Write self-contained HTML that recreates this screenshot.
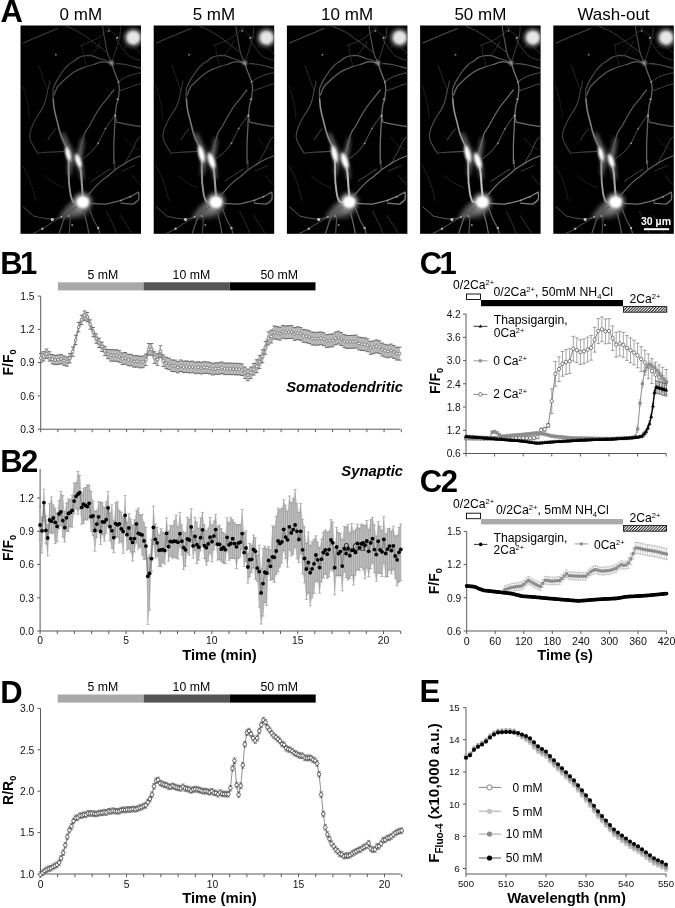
<!DOCTYPE html>
<html><head><meta charset="utf-8"><title>Figure</title>
<style>html,body{margin:0;padding:0;background:#fff;overflow:hidden}svg{display:block}</style></head>
<body>
<svg width="675" height="908" viewBox="0 0 675 908" font-family="'Liberation Sans', Arial, sans-serif">
<rect width="675" height="908" fill="#fff"/>
<text x="0.5" y="22.0" font-size="31" font-weight="bold">A</text>
<text x="80.8" y="19.6" font-size="17" text-anchor="middle">0 mM</text>
<text x="213.9" y="19.6" font-size="17" text-anchor="middle">5 mM</text>
<text x="347.1" y="19.6" font-size="17" text-anchor="middle">10 mM</text>
<text x="480.4" y="19.6" font-size="17" text-anchor="middle">50 mM</text>
<text x="613.5" y="19.6" font-size="17" text-anchor="middle">Wash-out</text>
<defs>
<filter id="nblur" x="-10%" y="-10%" width="120%" height="120%"><feGaussianBlur stdDeviation="0.7"/></filter>
<filter id="glow" x="-50%" y="-50%" width="200%" height="200%"><feGaussianBlur stdDeviation="2.2"/></filter>
<filter id="cblur" x="-50%" y="-50%" width="200%" height="200%"><feGaussianBlur stdDeviation="0.9"/></filter>
<radialGradient id="soma"><stop offset="0" stop-color="#fff"/><stop offset="0.5" stop-color="#fff"/><stop offset="0.72" stop-color="#ccc" stop-opacity="0.85"/><stop offset="1" stop-color="#888" stop-opacity="0"/></radialGradient>
<radialGradient id="somaTR"><stop offset="0" stop-color="#ddd"/><stop offset="0.55" stop-color="#c8c8c8"/><stop offset="0.8" stop-color="#888" stop-opacity="0.7"/><stop offset="1" stop-color="#444" stop-opacity="0"/></radialGradient>
<radialGradient id="spindle"><stop offset="0" stop-color="#fff"/><stop offset="0.55" stop-color="#fff"/><stop offset="0.8" stop-color="#ccc" stop-opacity="0.8"/><stop offset="1" stop-color="#777" stop-opacity="0"/></radialGradient>
<radialGradient id="haze2"><stop offset="0" stop-color="#666" stop-opacity="0.5"/><stop offset="1" stop-color="#333" stop-opacity="0"/></radialGradient>
<radialGradient id="somadim"><stop offset="0" stop-color="#ccc"/><stop offset="0.5" stop-color="#999" stop-opacity="0.8"/><stop offset="1" stop-color="#555" stop-opacity="0"/></radialGradient>
<radialGradient id="haze"><stop offset="0" stop-color="#888" stop-opacity="0.7"/><stop offset="1" stop-color="#444" stop-opacity="0"/></radialGradient>
<pattern id="hatch" width="2.05" height="4" patternUnits="userSpaceOnUse" patternTransform="rotate(45)"><rect width="2.05" height="4" fill="#fff"/><rect width="1.0" height="4" fill="#222"/></pattern>
</defs>
<g transform="translate(20.50,25.5)">
<rect x="0" y="0" width="120.5" height="208.3" fill="#000"/>
<svg x="0" y="0" width="120.5" height="208.3" viewBox="0 0 120.5 208.3" overflow="hidden">
<path d="M60,172 C52,176 44,182 38,192 C46,194 56,192 66,186 C68,180 66,175 60,172 Z" fill="#5a5a5a" filter="url(#glow)"/>
<ellipse cx="58" cy="184" rx="16" ry="13" fill="url(#haze)"/>
<ellipse cx="53" cy="132" rx="9" ry="16" fill="url(#haze2)" transform="rotate(-20 53 132)"/>
<g filter="url(#glow)">
<path d="M41,108 C45,118 47,124 48.4,129 C48.5,136 48.4,142 48,150 L49.5,150 C50,142 51.5,136 51,129 C49.5,122 46,114 42.5,107 Z" fill="#bbb"/>
<path d="M61.5,112 C60,122 58,128 56,134 C58,140 60,146 61,154 L62.5,154 C62,146 61.5,140 59.5,134 C61,127 62.5,120 63,112 Z" fill="#bbb"/>
<ellipse cx="62.1" cy="176.1" rx="9" ry="8.5" fill="#999"/>
<circle cx="112.8" cy="12.2" r="8.6" fill="#a8a8a8"/>
</g>
<g filter="url(#nblur)">
<path d="M2.9,17.6 C12,13 25,8 37.2,3.1" fill="none" stroke="rgb(60,60,60)" stroke-width="1.1" stroke-linecap="round" stroke-linejoin="round"/>
<path d="M91,37.5 C86,35 82,33.5 80.4,33.5 C76,31.5 72,30 68.5,29.8 C64,30 61,30.5 59.3,31.6 C56,33 55,34 53.5,35.6 C50,37.5 49,38 48.1,39.2 C45,42 43.5,44 41.8,46.5 C39.5,50 38,52 37.2,53.7 C35,57 34,60 32.7,62.7 C32.2,66 32.4,70 32.7,73.5" fill="none" stroke="rgb(70,70,70)" stroke-width="1.2" stroke-linecap="round" stroke-linejoin="round"/>
<path d="M91,38 C88,37 85,36.5 82.3,36.2 C78,37 76,38 73.1,39 C68,40.5 63,42 59.3,43.6 C56,45 55,46 53.5,46.5 C50,49 47,51.5 44.5,53.7 C41,57 39,59 37.2,60.9 C35.5,64 34.5,66.5 33.6,69.5" fill="none" stroke="rgb(80,80,80)" stroke-width="1.3" stroke-linecap="round" stroke-linejoin="round"/>
<path d="M32.7,73.5 C33,77 33.2,80 33.6,82.6 C34.5,88 35.3,91 36.3,94.3 C37.3,98 38,101.5 39,105.2 C40.2,109 41.3,112 42.7,115.1 C44,118 45,120 46.3,122.3" fill="none" stroke="rgb(115,115,115)" stroke-width="1.6" stroke-linecap="round" stroke-linejoin="round"/>
<path d="M27.3,64.5 C26.6,68 26,71 25.5,73.5 C24.5,77 23.5,80 21.9,82.6 C20.5,85 19,87.5 17.4,89.8 C16,92 15,94 13.8,96.1 C12.5,99 11,102 10.1,105.2 C9.5,107.5 9.2,109.5 9.2,111.5 C9.6,114 10.5,116.5 11.9,118.7 C13.5,122 15.5,125 17.4,127.7 C20,127.3 23,127 26.4,126.8 C32,126.5 38,126.2 43.6,125.9" fill="none" stroke="rgb(62,62,62)" stroke-width="1.1" stroke-linecap="round" stroke-linejoin="round"/>
<path d="M27.3,64.5 C28.5,60 29.5,57 29.1,55.5" fill="none" stroke="rgb(60,60,60)" stroke-width="1.0" stroke-linecap="round" stroke-linejoin="round"/>
<path d="M27.3,114.2 C30,110 32.5,106.5 35.4,103.3" fill="none" stroke="rgb(60,60,60)" stroke-width="1.0" stroke-linecap="round" stroke-linejoin="round"/>
<path d="M91,37.5 C89,33 87.5,30 86.8,27.1 C86,24 85.5,21 85,17.9 C84.5,14.5 83.8,11.5 83.2,8.7 C82.8,6 82.5,3 82,0" fill="none" stroke="rgb(70,70,70)" stroke-width="1.1" stroke-linecap="round" stroke-linejoin="round"/>
<path d="M86.8,27.1 C80,22 72,16 64,10 C58,6 52,3 46,1" fill="none" stroke="rgb(55,55,55)" stroke-width="1.0" stroke-linecap="round" stroke-linejoin="round"/>
<path d="M91.5,38.5 C92.5,42 93.8,46 95.1,49.1 C96.2,52 97.2,54 97.9,56.4 C98.5,59 98.8,61 98.8,63.8 C98.6,67 98,70 97.9,73.7 C97,76 96.5,77.5 96,79.2 C95.4,83 95,86.5 94.7,90.2 C94.4,94 94.2,97.5 94.2,101.2 C93.8,108 93.5,114 93.3,119.6 C93.3,126 93.3,132 93.3,138" fill="none" stroke="rgb(90,90,90)" stroke-width="1.3" stroke-linecap="round" stroke-linejoin="round"/>
<path d="M96,38.1 C99,38.3 102,38.6 105.2,39 C110,40 115,41.5 121,43" fill="none" stroke="rgb(70,70,70)" stroke-width="1.1" stroke-linecap="round" stroke-linejoin="round"/>
<path d="M98.8,55.5 C102,53.5 104.5,52 107,50.9 C111,49.5 115,48 121,47" fill="none" stroke="rgb(65,65,65)" stroke-width="1.0" stroke-linecap="round" stroke-linejoin="round"/>
<path d="M98.8,65.6 C102,64.3 105.5,63 108.9,62 C112,60.5 116,59 121,58" fill="none" stroke="rgb(60,60,60)" stroke-width="1.0" stroke-linecap="round" stroke-linejoin="round"/>
<path d="M94.7,90.2 C95.3,93 95.7,95 96,96.6 C100,97.6 105,98.5 109.8,99.4 C113,100 116,100.5 121,101.2" fill="none" stroke="rgb(85,85,85)" stroke-width="1.2" stroke-linecap="round" stroke-linejoin="round"/>
<path d="M121,111 C120,111.5 119,112 118.1,112.3 C115,117 113,122 110.7,127 C108,131 106,135 103.4,139.5" fill="none" stroke="rgb(60,60,60)" stroke-width="1.0" stroke-linecap="round" stroke-linejoin="round"/>
<path d="M57.5,131 C60,123 62,115 64,108 C65.5,105 67,103 68.5,101.2 C71.5,95 74.5,90 77.7,84.7 C80.5,80 83.5,76.5 86.8,72.8 C89,70 91,67 93.3,64.5" fill="none" stroke="rgb(85,85,85)" stroke-width="1.2" stroke-linecap="round" stroke-linejoin="round"/>
<path d="M62.1,133.4 C65,131 68,129 70.3,127 C73,124 75.5,121 77.7,117.8 C80,113 82.5,108 85,103.1 C88,98.5 91,94 94.2,90.2" fill="none" stroke="rgb(70,70,70)" stroke-width="1.0" stroke-linecap="round" stroke-linejoin="round"/>
<path d="M65,171 C66,170 67.5,169 68.5,168.5 C71.5,165 74.5,161.5 77.7,158.4 C80.5,155.5 83.5,153 86.8,151 C89.5,148.5 92,146.5 94.2,144.6 C98.5,141.5 102.5,139 107,136.3 C111,134 115,132 121,130" fill="none" stroke="rgb(90,90,90)" stroke-width="1.2" stroke-linecap="round" stroke-linejoin="round"/>
<path d="M94.2,144.6 C94.2,141 94.2,137.5 94.2,134.5" fill="none" stroke="rgb(70,70,70)" stroke-width="1.0" stroke-linecap="round" stroke-linejoin="round"/>
<path d="M71.2,155.6 C75,153 79,150.5 82.3,148.3 C85,146.5 87.5,145 89.6,143.7" fill="none" stroke="rgb(65,65,65)" stroke-width="1.0" stroke-linecap="round" stroke-linejoin="round"/>
<path d="M101.5,145.5 C106,143.5 110,141.8 114.4,140" fill="none" stroke="rgb(50,50,50)" stroke-width="0.9" stroke-linecap="round" stroke-linejoin="round"/>
<path d="M66,177 C67,177.3 67.8,177.6 68.5,177.7 C74,178.2 80,178.6 85,178.6 C90.5,177.5 95.5,176 100.6,174.9 C104,173.5 107,172.2 109.8,171.2 C113,169.5 115.5,168 118.1,166.6 C118.5,169 118.5,172 118.1,174 C116.5,176 114.5,177.5 112.6,178.6 C109,178.3 104.5,178 100.6,177.7" fill="none" stroke="rgb(100,100,100)" stroke-width="1.3" stroke-linecap="round" stroke-linejoin="round"/>
<path d="M48.1,136 C48.1,139 48.1,141 48.1,143.5 C48.2,148 48.3,153 48.5,157.1 C49,162 49.6,166.5 50.3,170.6 C51,173 51.7,174.8 52.6,176.1 C55,177 57,177 59,177" fill="none" stroke="rgb(140,140,140)" stroke-width="1.9" stroke-linecap="round" stroke-linejoin="round"/>
<path d="M58.5,138 C59.5,142 60.3,145 60.6,148 C61,153 61.3,158 61.6,162 C61.9,166 62.2,168.5 62.5,171" fill="none" stroke="rgb(150,150,150)" stroke-width="2.1" stroke-linecap="round" stroke-linejoin="round"/>
<path d="M55.8,181.5 C52,184 49,186.5 46.7,188.5 C43.5,190.5 40.5,191.3 37,192.5 C33.5,193.4 30,193.8 26.4,193.2 C21,192.5 17,191.5 12.9,190.5 C9,187 6,184 2.9,181.5" fill="none" stroke="rgb(75,75,75)" stroke-width="1.0" stroke-linecap="round" stroke-linejoin="round"/>
<path d="M44.5,190.5 C42.5,196 40.5,202 38.1,209.5" fill="none" stroke="rgb(80,80,80)" stroke-width="1.2" stroke-linecap="round" stroke-linejoin="round"/>
<path d="M50,190 C49.5,196 49,202 48.8,209" fill="none" stroke="rgb(70,70,70)" stroke-width="1.1" stroke-linecap="round" stroke-linejoin="round"/>
<path d="M40.9,191.4 C35,195 28,199 21.9,203.2 C18,205.5 14,207.5 10,209" fill="none" stroke="rgb(70,70,70)" stroke-width="1.0" stroke-linecap="round" stroke-linejoin="round"/>
<path d="M63,185 C64.5,190 65.5,194.5 66.6,198.8 C67.5,202.5 68,206 68.5,209.5" fill="none" stroke="rgb(85,85,85)" stroke-width="1.2" stroke-linecap="round" stroke-linejoin="round"/>
<path d="M68.5,182.3 C70,186.5 71.5,190.5 73,194.2 C74.5,197 76,199.8 77.7,202.5 C78.5,205 79,207 79.5,209" fill="none" stroke="rgb(80,80,80)" stroke-width="1.1" stroke-linecap="round" stroke-linejoin="round"/>
<path d="M60,20 C66,18 72,16 78,12 C82,9 86,6 90,2" fill="none" stroke="rgb(45,45,45)" stroke-width="0.9" stroke-linecap="round" stroke-linejoin="round"/>
<path d="M70,30 C74,26 77,22 80,16" fill="none" stroke="rgb(45,45,45)" stroke-width="0.8" stroke-linecap="round" stroke-linejoin="round"/>
<path d="M96,14 C100,20 104,26 108,30 C112,33 116,34 121,35" fill="none" stroke="rgb(50,50,50)" stroke-width="0.9" stroke-linecap="round" stroke-linejoin="round"/>
<path d="M100,2 C100,8 99,14 96.7,20 C95,26 93,31 91,37" fill="none" stroke="rgb(55,55,55)" stroke-width="0.9" stroke-linecap="round" stroke-linejoin="round"/>
<path d="M104,22 C108,18 112,20 116,24 C119,26 120,28 121,30" fill="none" stroke="rgb(45,45,45)" stroke-width="0.8" stroke-linecap="round" stroke-linejoin="round"/>
<path d="M86,0 C90,6 95,10 100,12" fill="none" stroke="rgb(45,45,45)" stroke-width="0.8" stroke-linecap="round" stroke-linejoin="round"/>
<path d="M66,40 C64,34 62,28 62,20" fill="none" stroke="rgb(40,40,40)" stroke-width="0.7" stroke-linecap="round" stroke-linejoin="round"/>
<path d="M18,40 C22,50 24,58 27,64" fill="none" stroke="rgb(40,40,40)" stroke-width="0.8" stroke-linecap="round" stroke-linejoin="round"/>
<path d="M2,60 C6,70 8,80 9,92" fill="none" stroke="rgb(35,35,35)" stroke-width="0.7" stroke-linecap="round" stroke-linejoin="round"/>
<path d="M2,140 C8,150 12,160 15,175" fill="none" stroke="rgb(40,40,40)" stroke-width="0.7" stroke-linecap="round" stroke-linejoin="round"/>
<path d="M24,150 C30,155 36,160 44,162" fill="none" stroke="rgb(40,40,40)" stroke-width="0.7" stroke-linecap="round" stroke-linejoin="round"/>
<path d="M100,190 C104,196 108,202 112,209" fill="none" stroke="rgb(50,50,50)" stroke-width="0.8" stroke-linecap="round" stroke-linejoin="round"/>
<path d="M86,186 C90,194 94,200 96,209" fill="none" stroke="rgb(50,50,50)" stroke-width="0.8" stroke-linecap="round" stroke-linejoin="round"/>
<path d="M112,150 C115,155 118,158 121,160" fill="none" stroke="rgb(45,45,45)" stroke-width="0.8" stroke-linecap="round" stroke-linejoin="round"/>
<path d="M104,112 C108,118 112,122 118,124" fill="none" stroke="rgb(40,40,40)" stroke-width="0.7" stroke-linecap="round" stroke-linejoin="round"/>
</g>
<g filter="url(#cblur)">
<circle cx="112.8" cy="12.2" r="6.2" fill="#e6e6e6"/>
<circle cx="91.2" cy="37.6" r="2.4" fill="#909090"/>
<ellipse cx="47.6" cy="128.6" rx="2.98" ry="8.92" fill="url(#spindle)" transform="rotate(-14 47.6 128.6)"/>
<ellipse cx="57.8" cy="135.2" rx="3.15" ry="8.50" fill="url(#spindle)" transform="rotate(-19 57.8 135.2)"/>
<ellipse cx="62.3" cy="176.6" rx="6.3" ry="5.8" fill="#fff"/>
</g>
<circle cx="31.8" cy="194.1" r="1.5" fill="#d0d0d0" filter="url(#nblur)"/>
<circle cx="21.9" cy="203.2" r="1.2" fill="#aaa" filter="url(#nblur)"/>
<circle cx="40.9" cy="191.4" r="1.1" fill="#999" filter="url(#nblur)"/>
<circle cx="48.1" cy="190.5" r="1.0" fill="#999" filter="url(#nblur)"/>
<circle cx="51.7" cy="199.5" r="1.0" fill="#888" filter="url(#nblur)"/>
<circle cx="77.7" cy="202.5" r="1.2" fill="#aaa" filter="url(#nblur)"/>
<circle cx="35.4" cy="29.3" r="1.0" fill="#777" filter="url(#nblur)"/>
<circle cx="88.4" cy="5.5" r="1" fill="#777" filter="url(#nblur)"/>
<circle cx="96.7" cy="12.4" r="1.1" fill="#999" filter="url(#nblur)"/>
<circle cx="97.9" cy="56.4" r="0.9" fill="#999" filter="url(#nblur)"/>
<circle cx="97" cy="73.7" r="1.0" fill="#999" filter="url(#nblur)"/>
<circle cx="94.7" cy="90.2" r="1.1" fill="#aaa" filter="url(#nblur)"/>
<circle cx="77.7" cy="117.8" r="1.0" fill="#888" filter="url(#nblur)"/>
<circle cx="85" cy="103.1" r="0.9" fill="#888" filter="url(#nblur)"/>
<circle cx="109.8" cy="171.2" r="0.9" fill="#999" filter="url(#nblur)"/>
<circle cx="100.6" cy="174.9" r="0.9" fill="#999" filter="url(#nblur)"/>
</svg>
</g>
<g transform="translate(153.70,25.5)">
<rect x="0" y="0" width="120.5" height="208.3" fill="#000"/>
<svg x="0" y="0" width="120.5" height="208.3" viewBox="0 0 120.5 208.3" overflow="hidden">
<path d="M60,172 C52,176 44,182 38,192 C46,194 56,192 66,186 C68,180 66,175 60,172 Z" fill="#5a5a5a" filter="url(#glow)"/>
<ellipse cx="58" cy="184" rx="16" ry="13" fill="url(#haze)"/>
<ellipse cx="53" cy="132" rx="9" ry="16" fill="url(#haze2)" transform="rotate(-20 53 132)"/>
<g filter="url(#glow)">
<path d="M41,108 C45,118 47,124 48.4,129 C48.5,136 48.4,142 48,150 L49.5,150 C50,142 51.5,136 51,129 C49.5,122 46,114 42.5,107 Z" fill="#bbb"/>
<path d="M61.5,112 C60,122 58,128 56,134 C58,140 60,146 61,154 L62.5,154 C62,146 61.5,140 59.5,134 C61,127 62.5,120 63,112 Z" fill="#bbb"/>
<ellipse cx="62.1" cy="176.1" rx="9" ry="8.5" fill="#999"/>
<circle cx="112.8" cy="12.2" r="8.6" fill="#a8a8a8"/>
</g>
<g filter="url(#nblur)">
<path d="M2.9,17.6 C12,13 25,8 37.2,3.1" fill="none" stroke="rgb(63,63,63)" stroke-width="1.1" stroke-linecap="round" stroke-linejoin="round"/>
<path d="M91,37.5 C86,35 82,33.5 80.4,33.5 C76,31.5 72,30 68.5,29.8 C64,30 61,30.5 59.3,31.6 C56,33 55,34 53.5,35.6 C50,37.5 49,38 48.1,39.2 C45,42 43.5,44 41.8,46.5 C39.5,50 38,52 37.2,53.7 C35,57 34,60 32.7,62.7 C32.2,66 32.4,70 32.7,73.5" fill="none" stroke="rgb(73,73,73)" stroke-width="1.2" stroke-linecap="round" stroke-linejoin="round"/>
<path d="M91,38 C88,37 85,36.5 82.3,36.2 C78,37 76,38 73.1,39 C68,40.5 63,42 59.3,43.6 C56,45 55,46 53.5,46.5 C50,49 47,51.5 44.5,53.7 C41,57 39,59 37.2,60.9 C35.5,64 34.5,66.5 33.6,69.5" fill="none" stroke="rgb(84,84,84)" stroke-width="1.3" stroke-linecap="round" stroke-linejoin="round"/>
<path d="M32.7,73.5 C33,77 33.2,80 33.6,82.6 C34.5,88 35.3,91 36.3,94.3 C37.3,98 38,101.5 39,105.2 C40.2,109 41.3,112 42.7,115.1 C44,118 45,120 46.3,122.3" fill="none" stroke="rgb(120,120,120)" stroke-width="1.6" stroke-linecap="round" stroke-linejoin="round"/>
<path d="M27.3,64.5 C26.6,68 26,71 25.5,73.5 C24.5,77 23.5,80 21.9,82.6 C20.5,85 19,87.5 17.4,89.8 C16,92 15,94 13.8,96.1 C12.5,99 11,102 10.1,105.2 C9.5,107.5 9.2,109.5 9.2,111.5 C9.6,114 10.5,116.5 11.9,118.7 C13.5,122 15.5,125 17.4,127.7 C20,127.3 23,127 26.4,126.8 C32,126.5 38,126.2 43.6,125.9" fill="none" stroke="rgb(65,65,65)" stroke-width="1.1" stroke-linecap="round" stroke-linejoin="round"/>
<path d="M27.3,64.5 C28.5,60 29.5,57 29.1,55.5" fill="none" stroke="rgb(63,63,63)" stroke-width="1.0" stroke-linecap="round" stroke-linejoin="round"/>
<path d="M27.3,114.2 C30,110 32.5,106.5 35.4,103.3" fill="none" stroke="rgb(63,63,63)" stroke-width="1.0" stroke-linecap="round" stroke-linejoin="round"/>
<path d="M91,37.5 C89,33 87.5,30 86.8,27.1 C86,24 85.5,21 85,17.9 C84.5,14.5 83.8,11.5 83.2,8.7 C82.8,6 82.5,3 82,0" fill="none" stroke="rgb(73,73,73)" stroke-width="1.1" stroke-linecap="round" stroke-linejoin="round"/>
<path d="M86.8,27.1 C80,22 72,16 64,10 C58,6 52,3 46,1" fill="none" stroke="rgb(57,57,57)" stroke-width="1.0" stroke-linecap="round" stroke-linejoin="round"/>
<path d="M91.5,38.5 C92.5,42 93.8,46 95.1,49.1 C96.2,52 97.2,54 97.9,56.4 C98.5,59 98.8,61 98.8,63.8 C98.6,67 98,70 97.9,73.7 C97,76 96.5,77.5 96,79.2 C95.4,83 95,86.5 94.7,90.2 C94.4,94 94.2,97.5 94.2,101.2 C93.8,108 93.5,114 93.3,119.6 C93.3,126 93.3,132 93.3,138" fill="none" stroke="rgb(94,94,94)" stroke-width="1.3" stroke-linecap="round" stroke-linejoin="round"/>
<path d="M96,38.1 C99,38.3 102,38.6 105.2,39 C110,40 115,41.5 121,43" fill="none" stroke="rgb(73,73,73)" stroke-width="1.1" stroke-linecap="round" stroke-linejoin="round"/>
<path d="M98.8,55.5 C102,53.5 104.5,52 107,50.9 C111,49.5 115,48 121,47" fill="none" stroke="rgb(68,68,68)" stroke-width="1.0" stroke-linecap="round" stroke-linejoin="round"/>
<path d="M98.8,65.6 C102,64.3 105.5,63 108.9,62 C112,60.5 116,59 121,58" fill="none" stroke="rgb(63,63,63)" stroke-width="1.0" stroke-linecap="round" stroke-linejoin="round"/>
<path d="M94.7,90.2 C95.3,93 95.7,95 96,96.6 C100,97.6 105,98.5 109.8,99.4 C113,100 116,100.5 121,101.2" fill="none" stroke="rgb(89,89,89)" stroke-width="1.2" stroke-linecap="round" stroke-linejoin="round"/>
<path d="M121,111 C120,111.5 119,112 118.1,112.3 C115,117 113,122 110.7,127 C108,131 106,135 103.4,139.5" fill="none" stroke="rgb(63,63,63)" stroke-width="1.0" stroke-linecap="round" stroke-linejoin="round"/>
<path d="M57.5,131 C60,123 62,115 64,108 C65.5,105 67,103 68.5,101.2 C71.5,95 74.5,90 77.7,84.7 C80.5,80 83.5,76.5 86.8,72.8 C89,70 91,67 93.3,64.5" fill="none" stroke="rgb(89,89,89)" stroke-width="1.2" stroke-linecap="round" stroke-linejoin="round"/>
<path d="M62.1,133.4 C65,131 68,129 70.3,127 C73,124 75.5,121 77.7,117.8 C80,113 82.5,108 85,103.1 C88,98.5 91,94 94.2,90.2" fill="none" stroke="rgb(73,73,73)" stroke-width="1.0" stroke-linecap="round" stroke-linejoin="round"/>
<path d="M65,171 C66,170 67.5,169 68.5,168.5 C71.5,165 74.5,161.5 77.7,158.4 C80.5,155.5 83.5,153 86.8,151 C89.5,148.5 92,146.5 94.2,144.6 C98.5,141.5 102.5,139 107,136.3 C111,134 115,132 121,130" fill="none" stroke="rgb(94,94,94)" stroke-width="1.2" stroke-linecap="round" stroke-linejoin="round"/>
<path d="M94.2,144.6 C94.2,141 94.2,137.5 94.2,134.5" fill="none" stroke="rgb(73,73,73)" stroke-width="1.0" stroke-linecap="round" stroke-linejoin="round"/>
<path d="M71.2,155.6 C75,153 79,150.5 82.3,148.3 C85,146.5 87.5,145 89.6,143.7" fill="none" stroke="rgb(68,68,68)" stroke-width="1.0" stroke-linecap="round" stroke-linejoin="round"/>
<path d="M101.5,145.5 C106,143.5 110,141.8 114.4,140" fill="none" stroke="rgb(52,52,52)" stroke-width="0.9" stroke-linecap="round" stroke-linejoin="round"/>
<path d="M66,177 C67,177.3 67.8,177.6 68.5,177.7 C74,178.2 80,178.6 85,178.6 C90.5,177.5 95.5,176 100.6,174.9 C104,173.5 107,172.2 109.8,171.2 C113,169.5 115.5,168 118.1,166.6 C118.5,169 118.5,172 118.1,174 C116.5,176 114.5,177.5 112.6,178.6 C109,178.3 104.5,178 100.6,177.7" fill="none" stroke="rgb(105,105,105)" stroke-width="1.3" stroke-linecap="round" stroke-linejoin="round"/>
<path d="M48.1,136 C48.1,139 48.1,141 48.1,143.5 C48.2,148 48.3,153 48.5,157.1 C49,162 49.6,166.5 50.3,170.6 C51,173 51.7,174.8 52.6,176.1 C55,177 57,177 59,177" fill="none" stroke="rgb(147,147,147)" stroke-width="1.9" stroke-linecap="round" stroke-linejoin="round"/>
<path d="M58.5,138 C59.5,142 60.3,145 60.6,148 C61,153 61.3,158 61.6,162 C61.9,166 62.2,168.5 62.5,171" fill="none" stroke="rgb(157,157,157)" stroke-width="2.1" stroke-linecap="round" stroke-linejoin="round"/>
<path d="M55.8,181.5 C52,184 49,186.5 46.7,188.5 C43.5,190.5 40.5,191.3 37,192.5 C33.5,193.4 30,193.8 26.4,193.2 C21,192.5 17,191.5 12.9,190.5 C9,187 6,184 2.9,181.5" fill="none" stroke="rgb(78,78,78)" stroke-width="1.0" stroke-linecap="round" stroke-linejoin="round"/>
<path d="M44.5,190.5 C42.5,196 40.5,202 38.1,209.5" fill="none" stroke="rgb(84,84,84)" stroke-width="1.2" stroke-linecap="round" stroke-linejoin="round"/>
<path d="M50,190 C49.5,196 49,202 48.8,209" fill="none" stroke="rgb(73,73,73)" stroke-width="1.1" stroke-linecap="round" stroke-linejoin="round"/>
<path d="M40.9,191.4 C35,195 28,199 21.9,203.2 C18,205.5 14,207.5 10,209" fill="none" stroke="rgb(73,73,73)" stroke-width="1.0" stroke-linecap="round" stroke-linejoin="round"/>
<path d="M63,185 C64.5,190 65.5,194.5 66.6,198.8 C67.5,202.5 68,206 68.5,209.5" fill="none" stroke="rgb(89,89,89)" stroke-width="1.2" stroke-linecap="round" stroke-linejoin="round"/>
<path d="M68.5,182.3 C70,186.5 71.5,190.5 73,194.2 C74.5,197 76,199.8 77.7,202.5 C78.5,205 79,207 79.5,209" fill="none" stroke="rgb(84,84,84)" stroke-width="1.1" stroke-linecap="round" stroke-linejoin="round"/>
<path d="M60,20 C66,18 72,16 78,12 C82,9 86,6 90,2" fill="none" stroke="rgb(47,47,47)" stroke-width="0.9" stroke-linecap="round" stroke-linejoin="round"/>
<path d="M70,30 C74,26 77,22 80,16" fill="none" stroke="rgb(47,47,47)" stroke-width="0.8" stroke-linecap="round" stroke-linejoin="round"/>
<path d="M96,14 C100,20 104,26 108,30 C112,33 116,34 121,35" fill="none" stroke="rgb(52,52,52)" stroke-width="0.9" stroke-linecap="round" stroke-linejoin="round"/>
<path d="M100,2 C100,8 99,14 96.7,20 C95,26 93,31 91,37" fill="none" stroke="rgb(57,57,57)" stroke-width="0.9" stroke-linecap="round" stroke-linejoin="round"/>
<path d="M104,22 C108,18 112,20 116,24 C119,26 120,28 121,30" fill="none" stroke="rgb(47,47,47)" stroke-width="0.8" stroke-linecap="round" stroke-linejoin="round"/>
<path d="M86,0 C90,6 95,10 100,12" fill="none" stroke="rgb(47,47,47)" stroke-width="0.8" stroke-linecap="round" stroke-linejoin="round"/>
<path d="M66,40 C64,34 62,28 62,20" fill="none" stroke="rgb(42,42,42)" stroke-width="0.7" stroke-linecap="round" stroke-linejoin="round"/>
<path d="M18,40 C22,50 24,58 27,64" fill="none" stroke="rgb(42,42,42)" stroke-width="0.8" stroke-linecap="round" stroke-linejoin="round"/>
<path d="M2,60 C6,70 8,80 9,92" fill="none" stroke="rgb(36,36,36)" stroke-width="0.7" stroke-linecap="round" stroke-linejoin="round"/>
<path d="M2,140 C8,150 12,160 15,175" fill="none" stroke="rgb(42,42,42)" stroke-width="0.7" stroke-linecap="round" stroke-linejoin="round"/>
<path d="M24,150 C30,155 36,160 44,162" fill="none" stroke="rgb(42,42,42)" stroke-width="0.7" stroke-linecap="round" stroke-linejoin="round"/>
<path d="M100,190 C104,196 108,202 112,209" fill="none" stroke="rgb(52,52,52)" stroke-width="0.8" stroke-linecap="round" stroke-linejoin="round"/>
<path d="M86,186 C90,194 94,200 96,209" fill="none" stroke="rgb(52,52,52)" stroke-width="0.8" stroke-linecap="round" stroke-linejoin="round"/>
<path d="M112,150 C115,155 118,158 121,160" fill="none" stroke="rgb(47,47,47)" stroke-width="0.8" stroke-linecap="round" stroke-linejoin="round"/>
<path d="M104,112 C108,118 112,122 118,124" fill="none" stroke="rgb(42,42,42)" stroke-width="0.7" stroke-linecap="round" stroke-linejoin="round"/>
</g>
<g filter="url(#cblur)">
<circle cx="112.8" cy="12.2" r="6.2" fill="#e6e6e6"/>
<circle cx="91.2" cy="37.6" r="2.4" fill="#909090"/>
<ellipse cx="47.6" cy="128.6" rx="3.50" ry="10.50" fill="url(#spindle)" transform="rotate(-14 47.6 128.6)"/>
<ellipse cx="57.8" cy="135.2" rx="3.70" ry="10.00" fill="url(#spindle)" transform="rotate(-19 57.8 135.2)"/>
<ellipse cx="62.3" cy="176.6" rx="6.3" ry="5.8" fill="#fff"/>
</g>
<circle cx="31.8" cy="194.1" r="1.5" fill="#d0d0d0" filter="url(#nblur)"/>
<circle cx="21.9" cy="203.2" r="1.2" fill="#aaa" filter="url(#nblur)"/>
<circle cx="40.9" cy="191.4" r="1.1" fill="#999" filter="url(#nblur)"/>
<circle cx="48.1" cy="190.5" r="1.0" fill="#999" filter="url(#nblur)"/>
<circle cx="51.7" cy="199.5" r="1.0" fill="#888" filter="url(#nblur)"/>
<circle cx="77.7" cy="202.5" r="1.2" fill="#aaa" filter="url(#nblur)"/>
<circle cx="35.4" cy="29.3" r="1.0" fill="#777" filter="url(#nblur)"/>
<circle cx="88.4" cy="5.5" r="1" fill="#777" filter="url(#nblur)"/>
<circle cx="96.7" cy="12.4" r="1.1" fill="#999" filter="url(#nblur)"/>
<circle cx="97.9" cy="56.4" r="0.9" fill="#999" filter="url(#nblur)"/>
<circle cx="97" cy="73.7" r="1.0" fill="#999" filter="url(#nblur)"/>
<circle cx="94.7" cy="90.2" r="1.1" fill="#aaa" filter="url(#nblur)"/>
<circle cx="77.7" cy="117.8" r="1.0" fill="#888" filter="url(#nblur)"/>
<circle cx="85" cy="103.1" r="0.9" fill="#888" filter="url(#nblur)"/>
<circle cx="109.8" cy="171.2" r="0.9" fill="#999" filter="url(#nblur)"/>
<circle cx="100.6" cy="174.9" r="0.9" fill="#999" filter="url(#nblur)"/>
</svg>
</g>
<g transform="translate(286.90,25.5)">
<rect x="0" y="0" width="120.5" height="208.3" fill="#000"/>
<svg x="0" y="0" width="120.5" height="208.3" viewBox="0 0 120.5 208.3" overflow="hidden">
<path d="M60,172 C52,176 44,182 38,192 C46,194 56,192 66,186 C68,180 66,175 60,172 Z" fill="#5a5a5a" filter="url(#glow)"/>
<ellipse cx="58" cy="184" rx="16" ry="13" fill="url(#haze)"/>
<ellipse cx="53" cy="132" rx="9" ry="16" fill="url(#haze2)" transform="rotate(-20 53 132)"/>
<g filter="url(#glow)">
<path d="M41,108 C45,118 47,124 48.4,129 C48.5,136 48.4,142 48,150 L49.5,150 C50,142 51.5,136 51,129 C49.5,122 46,114 42.5,107 Z" fill="#bbb"/>
<path d="M61.5,112 C60,122 58,128 56,134 C58,140 60,146 61,154 L62.5,154 C62,146 61.5,140 59.5,134 C61,127 62.5,120 63,112 Z" fill="#bbb"/>
<ellipse cx="62.1" cy="176.1" rx="9" ry="8.5" fill="#999"/>
<circle cx="112.8" cy="12.2" r="8.6" fill="#a8a8a8"/>
</g>
<g filter="url(#nblur)">
<path d="M2.9,17.6 C12,13 25,8 37.2,3.1" fill="none" stroke="rgb(75,75,75)" stroke-width="1.1" stroke-linecap="round" stroke-linejoin="round"/>
<path d="M91,37.5 C86,35 82,33.5 80.4,33.5 C76,31.5 72,30 68.5,29.8 C64,30 61,30.5 59.3,31.6 C56,33 55,34 53.5,35.6 C50,37.5 49,38 48.1,39.2 C45,42 43.5,44 41.8,46.5 C39.5,50 38,52 37.2,53.7 C35,57 34,60 32.7,62.7 C32.2,66 32.4,70 32.7,73.5" fill="none" stroke="rgb(87,87,87)" stroke-width="1.2" stroke-linecap="round" stroke-linejoin="round"/>
<path d="M91,38 C88,37 85,36.5 82.3,36.2 C78,37 76,38 73.1,39 C68,40.5 63,42 59.3,43.6 C56,45 55,46 53.5,46.5 C50,49 47,51.5 44.5,53.7 C41,57 39,59 37.2,60.9 C35.5,64 34.5,66.5 33.6,69.5" fill="none" stroke="rgb(100,100,100)" stroke-width="1.3" stroke-linecap="round" stroke-linejoin="round"/>
<path d="M32.7,73.5 C33,77 33.2,80 33.6,82.6 C34.5,88 35.3,91 36.3,94.3 C37.3,98 38,101.5 39,105.2 C40.2,109 41.3,112 42.7,115.1 C44,118 45,120 46.3,122.3" fill="none" stroke="rgb(143,143,143)" stroke-width="1.6" stroke-linecap="round" stroke-linejoin="round"/>
<path d="M27.3,64.5 C26.6,68 26,71 25.5,73.5 C24.5,77 23.5,80 21.9,82.6 C20.5,85 19,87.5 17.4,89.8 C16,92 15,94 13.8,96.1 C12.5,99 11,102 10.1,105.2 C9.5,107.5 9.2,109.5 9.2,111.5 C9.6,114 10.5,116.5 11.9,118.7 C13.5,122 15.5,125 17.4,127.7 C20,127.3 23,127 26.4,126.8 C32,126.5 38,126.2 43.6,125.9" fill="none" stroke="rgb(77,77,77)" stroke-width="1.1" stroke-linecap="round" stroke-linejoin="round"/>
<path d="M27.3,64.5 C28.5,60 29.5,57 29.1,55.5" fill="none" stroke="rgb(75,75,75)" stroke-width="1.0" stroke-linecap="round" stroke-linejoin="round"/>
<path d="M27.3,114.2 C30,110 32.5,106.5 35.4,103.3" fill="none" stroke="rgb(75,75,75)" stroke-width="1.0" stroke-linecap="round" stroke-linejoin="round"/>
<path d="M91,37.5 C89,33 87.5,30 86.8,27.1 C86,24 85.5,21 85,17.9 C84.5,14.5 83.8,11.5 83.2,8.7 C82.8,6 82.5,3 82,0" fill="none" stroke="rgb(87,87,87)" stroke-width="1.1" stroke-linecap="round" stroke-linejoin="round"/>
<path d="M86.8,27.1 C80,22 72,16 64,10 C58,6 52,3 46,1" fill="none" stroke="rgb(68,68,68)" stroke-width="1.0" stroke-linecap="round" stroke-linejoin="round"/>
<path d="M91.5,38.5 C92.5,42 93.8,46 95.1,49.1 C96.2,52 97.2,54 97.9,56.4 C98.5,59 98.8,61 98.8,63.8 C98.6,67 98,70 97.9,73.7 C97,76 96.5,77.5 96,79.2 C95.4,83 95,86.5 94.7,90.2 C94.4,94 94.2,97.5 94.2,101.2 C93.8,108 93.5,114 93.3,119.6 C93.3,126 93.3,132 93.3,138" fill="none" stroke="rgb(112,112,112)" stroke-width="1.3" stroke-linecap="round" stroke-linejoin="round"/>
<path d="M96,38.1 C99,38.3 102,38.6 105.2,39 C110,40 115,41.5 121,43" fill="none" stroke="rgb(87,87,87)" stroke-width="1.1" stroke-linecap="round" stroke-linejoin="round"/>
<path d="M98.8,55.5 C102,53.5 104.5,52 107,50.9 C111,49.5 115,48 121,47" fill="none" stroke="rgb(81,81,81)" stroke-width="1.0" stroke-linecap="round" stroke-linejoin="round"/>
<path d="M98.8,65.6 C102,64.3 105.5,63 108.9,62 C112,60.5 116,59 121,58" fill="none" stroke="rgb(75,75,75)" stroke-width="1.0" stroke-linecap="round" stroke-linejoin="round"/>
<path d="M94.7,90.2 C95.3,93 95.7,95 96,96.6 C100,97.6 105,98.5 109.8,99.4 C113,100 116,100.5 121,101.2" fill="none" stroke="rgb(106,106,106)" stroke-width="1.2" stroke-linecap="round" stroke-linejoin="round"/>
<path d="M121,111 C120,111.5 119,112 118.1,112.3 C115,117 113,122 110.7,127 C108,131 106,135 103.4,139.5" fill="none" stroke="rgb(75,75,75)" stroke-width="1.0" stroke-linecap="round" stroke-linejoin="round"/>
<path d="M57.5,131 C60,123 62,115 64,108 C65.5,105 67,103 68.5,101.2 C71.5,95 74.5,90 77.7,84.7 C80.5,80 83.5,76.5 86.8,72.8 C89,70 91,67 93.3,64.5" fill="none" stroke="rgb(106,106,106)" stroke-width="1.2" stroke-linecap="round" stroke-linejoin="round"/>
<path d="M62.1,133.4 C65,131 68,129 70.3,127 C73,124 75.5,121 77.7,117.8 C80,113 82.5,108 85,103.1 C88,98.5 91,94 94.2,90.2" fill="none" stroke="rgb(87,87,87)" stroke-width="1.0" stroke-linecap="round" stroke-linejoin="round"/>
<path d="M65,171 C66,170 67.5,169 68.5,168.5 C71.5,165 74.5,161.5 77.7,158.4 C80.5,155.5 83.5,153 86.8,151 C89.5,148.5 92,146.5 94.2,144.6 C98.5,141.5 102.5,139 107,136.3 C111,134 115,132 121,130" fill="none" stroke="rgb(112,112,112)" stroke-width="1.2" stroke-linecap="round" stroke-linejoin="round"/>
<path d="M94.2,144.6 C94.2,141 94.2,137.5 94.2,134.5" fill="none" stroke="rgb(87,87,87)" stroke-width="1.0" stroke-linecap="round" stroke-linejoin="round"/>
<path d="M71.2,155.6 C75,153 79,150.5 82.3,148.3 C85,146.5 87.5,145 89.6,143.7" fill="none" stroke="rgb(81,81,81)" stroke-width="1.0" stroke-linecap="round" stroke-linejoin="round"/>
<path d="M101.5,145.5 C106,143.5 110,141.8 114.4,140" fill="none" stroke="rgb(62,62,62)" stroke-width="0.9" stroke-linecap="round" stroke-linejoin="round"/>
<path d="M66,177 C67,177.3 67.8,177.6 68.5,177.7 C74,178.2 80,178.6 85,178.6 C90.5,177.5 95.5,176 100.6,174.9 C104,173.5 107,172.2 109.8,171.2 C113,169.5 115.5,168 118.1,166.6 C118.5,169 118.5,172 118.1,174 C116.5,176 114.5,177.5 112.6,178.6 C109,178.3 104.5,178 100.6,177.7" fill="none" stroke="rgb(125,125,125)" stroke-width="1.3" stroke-linecap="round" stroke-linejoin="round"/>
<path d="M48.1,136 C48.1,139 48.1,141 48.1,143.5 C48.2,148 48.3,153 48.5,157.1 C49,162 49.6,166.5 50.3,170.6 C51,173 51.7,174.8 52.6,176.1 C55,177 57,177 59,177" fill="none" stroke="rgb(175,175,175)" stroke-width="1.9" stroke-linecap="round" stroke-linejoin="round"/>
<path d="M58.5,138 C59.5,142 60.3,145 60.6,148 C61,153 61.3,158 61.6,162 C61.9,166 62.2,168.5 62.5,171" fill="none" stroke="rgb(187,187,187)" stroke-width="2.1" stroke-linecap="round" stroke-linejoin="round"/>
<path d="M55.8,181.5 C52,184 49,186.5 46.7,188.5 C43.5,190.5 40.5,191.3 37,192.5 C33.5,193.4 30,193.8 26.4,193.2 C21,192.5 17,191.5 12.9,190.5 C9,187 6,184 2.9,181.5" fill="none" stroke="rgb(93,93,93)" stroke-width="1.0" stroke-linecap="round" stroke-linejoin="round"/>
<path d="M44.5,190.5 C42.5,196 40.5,202 38.1,209.5" fill="none" stroke="rgb(100,100,100)" stroke-width="1.2" stroke-linecap="round" stroke-linejoin="round"/>
<path d="M50,190 C49.5,196 49,202 48.8,209" fill="none" stroke="rgb(87,87,87)" stroke-width="1.1" stroke-linecap="round" stroke-linejoin="round"/>
<path d="M40.9,191.4 C35,195 28,199 21.9,203.2 C18,205.5 14,207.5 10,209" fill="none" stroke="rgb(87,87,87)" stroke-width="1.0" stroke-linecap="round" stroke-linejoin="round"/>
<path d="M63,185 C64.5,190 65.5,194.5 66.6,198.8 C67.5,202.5 68,206 68.5,209.5" fill="none" stroke="rgb(106,106,106)" stroke-width="1.2" stroke-linecap="round" stroke-linejoin="round"/>
<path d="M68.5,182.3 C70,186.5 71.5,190.5 73,194.2 C74.5,197 76,199.8 77.7,202.5 C78.5,205 79,207 79.5,209" fill="none" stroke="rgb(100,100,100)" stroke-width="1.1" stroke-linecap="round" stroke-linejoin="round"/>
<path d="M60,20 C66,18 72,16 78,12 C82,9 86,6 90,2" fill="none" stroke="rgb(56,56,56)" stroke-width="0.9" stroke-linecap="round" stroke-linejoin="round"/>
<path d="M70,30 C74,26 77,22 80,16" fill="none" stroke="rgb(56,56,56)" stroke-width="0.8" stroke-linecap="round" stroke-linejoin="round"/>
<path d="M96,14 C100,20 104,26 108,30 C112,33 116,34 121,35" fill="none" stroke="rgb(62,62,62)" stroke-width="0.9" stroke-linecap="round" stroke-linejoin="round"/>
<path d="M100,2 C100,8 99,14 96.7,20 C95,26 93,31 91,37" fill="none" stroke="rgb(68,68,68)" stroke-width="0.9" stroke-linecap="round" stroke-linejoin="round"/>
<path d="M104,22 C108,18 112,20 116,24 C119,26 120,28 121,30" fill="none" stroke="rgb(56,56,56)" stroke-width="0.8" stroke-linecap="round" stroke-linejoin="round"/>
<path d="M86,0 C90,6 95,10 100,12" fill="none" stroke="rgb(56,56,56)" stroke-width="0.8" stroke-linecap="round" stroke-linejoin="round"/>
<path d="M66,40 C64,34 62,28 62,20" fill="none" stroke="rgb(50,50,50)" stroke-width="0.7" stroke-linecap="round" stroke-linejoin="round"/>
<path d="M18,40 C22,50 24,58 27,64" fill="none" stroke="rgb(50,50,50)" stroke-width="0.8" stroke-linecap="round" stroke-linejoin="round"/>
<path d="M2,60 C6,70 8,80 9,92" fill="none" stroke="rgb(43,43,43)" stroke-width="0.7" stroke-linecap="round" stroke-linejoin="round"/>
<path d="M2,140 C8,150 12,160 15,175" fill="none" stroke="rgb(50,50,50)" stroke-width="0.7" stroke-linecap="round" stroke-linejoin="round"/>
<path d="M24,150 C30,155 36,160 44,162" fill="none" stroke="rgb(50,50,50)" stroke-width="0.7" stroke-linecap="round" stroke-linejoin="round"/>
<path d="M100,190 C104,196 108,202 112,209" fill="none" stroke="rgb(62,62,62)" stroke-width="0.8" stroke-linecap="round" stroke-linejoin="round"/>
<path d="M86,186 C90,194 94,200 96,209" fill="none" stroke="rgb(62,62,62)" stroke-width="0.8" stroke-linecap="round" stroke-linejoin="round"/>
<path d="M112,150 C115,155 118,158 121,160" fill="none" stroke="rgb(56,56,56)" stroke-width="0.8" stroke-linecap="round" stroke-linejoin="round"/>
<path d="M104,112 C108,118 112,122 118,124" fill="none" stroke="rgb(50,50,50)" stroke-width="0.7" stroke-linecap="round" stroke-linejoin="round"/>
</g>
<g filter="url(#cblur)">
<circle cx="112.8" cy="12.2" r="6.2" fill="#e6e6e6"/>
<circle cx="91.2" cy="37.6" r="2.4" fill="#909090"/>
<ellipse cx="47.6" cy="128.6" rx="3.50" ry="10.50" fill="url(#spindle)" transform="rotate(-14 47.6 128.6)"/>
<ellipse cx="57.8" cy="135.2" rx="3.70" ry="10.00" fill="url(#spindle)" transform="rotate(-19 57.8 135.2)"/>
<ellipse cx="62.3" cy="176.6" rx="6.3" ry="5.8" fill="#fff"/>
</g>
<circle cx="31.8" cy="194.1" r="1.5" fill="#d0d0d0" filter="url(#nblur)"/>
<circle cx="21.9" cy="203.2" r="1.2" fill="#aaa" filter="url(#nblur)"/>
<circle cx="40.9" cy="191.4" r="1.1" fill="#999" filter="url(#nblur)"/>
<circle cx="48.1" cy="190.5" r="1.0" fill="#999" filter="url(#nblur)"/>
<circle cx="51.7" cy="199.5" r="1.0" fill="#888" filter="url(#nblur)"/>
<circle cx="77.7" cy="202.5" r="1.2" fill="#aaa" filter="url(#nblur)"/>
<circle cx="35.4" cy="29.3" r="1.0" fill="#777" filter="url(#nblur)"/>
<circle cx="88.4" cy="5.5" r="1" fill="#777" filter="url(#nblur)"/>
<circle cx="96.7" cy="12.4" r="1.1" fill="#999" filter="url(#nblur)"/>
<circle cx="97.9" cy="56.4" r="0.9" fill="#999" filter="url(#nblur)"/>
<circle cx="97" cy="73.7" r="1.0" fill="#999" filter="url(#nblur)"/>
<circle cx="94.7" cy="90.2" r="1.1" fill="#aaa" filter="url(#nblur)"/>
<circle cx="77.7" cy="117.8" r="1.0" fill="#888" filter="url(#nblur)"/>
<circle cx="85" cy="103.1" r="0.9" fill="#888" filter="url(#nblur)"/>
<circle cx="109.8" cy="171.2" r="0.9" fill="#999" filter="url(#nblur)"/>
<circle cx="100.6" cy="174.9" r="0.9" fill="#999" filter="url(#nblur)"/>
</svg>
</g>
<g transform="translate(420.10,25.5)">
<rect x="0" y="0" width="120.5" height="208.3" fill="#000"/>
<svg x="0" y="0" width="120.5" height="208.3" viewBox="0 0 120.5 208.3" overflow="hidden">
<path d="M60,172 C52,176 44,182 38,192 C46,194 56,192 66,186 C68,180 66,175 60,172 Z" fill="#5a5a5a" filter="url(#glow)"/>
<ellipse cx="58" cy="184" rx="16" ry="13" fill="url(#haze)"/>
<ellipse cx="53" cy="132" rx="9" ry="16" fill="url(#haze2)" transform="rotate(-20 53 132)"/>
<g filter="url(#glow)">
<path d="M41,108 C45,118 47,124 48.4,129 C48.5,136 48.4,142 48,150 L49.5,150 C50,142 51.5,136 51,129 C49.5,122 46,114 42.5,107 Z" fill="#bbb"/>
<path d="M61.5,112 C60,122 58,128 56,134 C58,140 60,146 61,154 L62.5,154 C62,146 61.5,140 59.5,134 C61,127 62.5,120 63,112 Z" fill="#bbb"/>
<ellipse cx="62.1" cy="176.1" rx="9" ry="8.5" fill="#999"/>
<circle cx="112.8" cy="12.2" r="8.6" fill="#a8a8a8"/>
</g>
<g filter="url(#nblur)">
<path d="M2.9,17.6 C12,13 25,8 37.2,3.1" fill="none" stroke="rgb(78,78,78)" stroke-width="1.1" stroke-linecap="round" stroke-linejoin="round"/>
<path d="M91,37.5 C86,35 82,33.5 80.4,33.5 C76,31.5 72,30 68.5,29.8 C64,30 61,30.5 59.3,31.6 C56,33 55,34 53.5,35.6 C50,37.5 49,38 48.1,39.2 C45,42 43.5,44 41.8,46.5 C39.5,50 38,52 37.2,53.7 C35,57 34,60 32.7,62.7 C32.2,66 32.4,70 32.7,73.5" fill="none" stroke="rgb(91,91,91)" stroke-width="1.2" stroke-linecap="round" stroke-linejoin="round"/>
<path d="M91,38 C88,37 85,36.5 82.3,36.2 C78,37 76,38 73.1,39 C68,40.5 63,42 59.3,43.6 C56,45 55,46 53.5,46.5 C50,49 47,51.5 44.5,53.7 C41,57 39,59 37.2,60.9 C35.5,64 34.5,66.5 33.6,69.5" fill="none" stroke="rgb(104,104,104)" stroke-width="1.3" stroke-linecap="round" stroke-linejoin="round"/>
<path d="M32.7,73.5 C33,77 33.2,80 33.6,82.6 C34.5,88 35.3,91 36.3,94.3 C37.3,98 38,101.5 39,105.2 C40.2,109 41.3,112 42.7,115.1 C44,118 45,120 46.3,122.3" fill="none" stroke="rgb(149,149,149)" stroke-width="1.6" stroke-linecap="round" stroke-linejoin="round"/>
<path d="M27.3,64.5 C26.6,68 26,71 25.5,73.5 C24.5,77 23.5,80 21.9,82.6 C20.5,85 19,87.5 17.4,89.8 C16,92 15,94 13.8,96.1 C12.5,99 11,102 10.1,105.2 C9.5,107.5 9.2,109.5 9.2,111.5 C9.6,114 10.5,116.5 11.9,118.7 C13.5,122 15.5,125 17.4,127.7 C20,127.3 23,127 26.4,126.8 C32,126.5 38,126.2 43.6,125.9" fill="none" stroke="rgb(80,80,80)" stroke-width="1.1" stroke-linecap="round" stroke-linejoin="round"/>
<path d="M27.3,64.5 C28.5,60 29.5,57 29.1,55.5" fill="none" stroke="rgb(78,78,78)" stroke-width="1.0" stroke-linecap="round" stroke-linejoin="round"/>
<path d="M27.3,114.2 C30,110 32.5,106.5 35.4,103.3" fill="none" stroke="rgb(78,78,78)" stroke-width="1.0" stroke-linecap="round" stroke-linejoin="round"/>
<path d="M91,37.5 C89,33 87.5,30 86.8,27.1 C86,24 85.5,21 85,17.9 C84.5,14.5 83.8,11.5 83.2,8.7 C82.8,6 82.5,3 82,0" fill="none" stroke="rgb(91,91,91)" stroke-width="1.1" stroke-linecap="round" stroke-linejoin="round"/>
<path d="M86.8,27.1 C80,22 72,16 64,10 C58,6 52,3 46,1" fill="none" stroke="rgb(71,71,71)" stroke-width="1.0" stroke-linecap="round" stroke-linejoin="round"/>
<path d="M91.5,38.5 C92.5,42 93.8,46 95.1,49.1 C96.2,52 97.2,54 97.9,56.4 C98.5,59 98.8,61 98.8,63.8 C98.6,67 98,70 97.9,73.7 C97,76 96.5,77.5 96,79.2 C95.4,83 95,86.5 94.7,90.2 C94.4,94 94.2,97.5 94.2,101.2 C93.8,108 93.5,114 93.3,119.6 C93.3,126 93.3,132 93.3,138" fill="none" stroke="rgb(117,117,117)" stroke-width="1.3" stroke-linecap="round" stroke-linejoin="round"/>
<path d="M96,38.1 C99,38.3 102,38.6 105.2,39 C110,40 115,41.5 121,43" fill="none" stroke="rgb(91,91,91)" stroke-width="1.1" stroke-linecap="round" stroke-linejoin="round"/>
<path d="M98.8,55.5 C102,53.5 104.5,52 107,50.9 C111,49.5 115,48 121,47" fill="none" stroke="rgb(84,84,84)" stroke-width="1.0" stroke-linecap="round" stroke-linejoin="round"/>
<path d="M98.8,65.6 C102,64.3 105.5,63 108.9,62 C112,60.5 116,59 121,58" fill="none" stroke="rgb(78,78,78)" stroke-width="1.0" stroke-linecap="round" stroke-linejoin="round"/>
<path d="M94.7,90.2 C95.3,93 95.7,95 96,96.6 C100,97.6 105,98.5 109.8,99.4 C113,100 116,100.5 121,101.2" fill="none" stroke="rgb(110,110,110)" stroke-width="1.2" stroke-linecap="round" stroke-linejoin="round"/>
<path d="M121,111 C120,111.5 119,112 118.1,112.3 C115,117 113,122 110.7,127 C108,131 106,135 103.4,139.5" fill="none" stroke="rgb(78,78,78)" stroke-width="1.0" stroke-linecap="round" stroke-linejoin="round"/>
<path d="M57.5,131 C60,123 62,115 64,108 C65.5,105 67,103 68.5,101.2 C71.5,95 74.5,90 77.7,84.7 C80.5,80 83.5,76.5 86.8,72.8 C89,70 91,67 93.3,64.5" fill="none" stroke="rgb(110,110,110)" stroke-width="1.2" stroke-linecap="round" stroke-linejoin="round"/>
<path d="M62.1,133.4 C65,131 68,129 70.3,127 C73,124 75.5,121 77.7,117.8 C80,113 82.5,108 85,103.1 C88,98.5 91,94 94.2,90.2" fill="none" stroke="rgb(91,91,91)" stroke-width="1.0" stroke-linecap="round" stroke-linejoin="round"/>
<path d="M65,171 C66,170 67.5,169 68.5,168.5 C71.5,165 74.5,161.5 77.7,158.4 C80.5,155.5 83.5,153 86.8,151 C89.5,148.5 92,146.5 94.2,144.6 C98.5,141.5 102.5,139 107,136.3 C111,134 115,132 121,130" fill="none" stroke="rgb(117,117,117)" stroke-width="1.2" stroke-linecap="round" stroke-linejoin="round"/>
<path d="M94.2,144.6 C94.2,141 94.2,137.5 94.2,134.5" fill="none" stroke="rgb(91,91,91)" stroke-width="1.0" stroke-linecap="round" stroke-linejoin="round"/>
<path d="M71.2,155.6 C75,153 79,150.5 82.3,148.3 C85,146.5 87.5,145 89.6,143.7" fill="none" stroke="rgb(84,84,84)" stroke-width="1.0" stroke-linecap="round" stroke-linejoin="round"/>
<path d="M101.5,145.5 C106,143.5 110,141.8 114.4,140" fill="none" stroke="rgb(65,65,65)" stroke-width="0.9" stroke-linecap="round" stroke-linejoin="round"/>
<path d="M66,177 C67,177.3 67.8,177.6 68.5,177.7 C74,178.2 80,178.6 85,178.6 C90.5,177.5 95.5,176 100.6,174.9 C104,173.5 107,172.2 109.8,171.2 C113,169.5 115.5,168 118.1,166.6 C118.5,169 118.5,172 118.1,174 C116.5,176 114.5,177.5 112.6,178.6 C109,178.3 104.5,178 100.6,177.7" fill="none" stroke="rgb(130,130,130)" stroke-width="1.3" stroke-linecap="round" stroke-linejoin="round"/>
<path d="M48.1,136 C48.1,139 48.1,141 48.1,143.5 C48.2,148 48.3,153 48.5,157.1 C49,162 49.6,166.5 50.3,170.6 C51,173 51.7,174.8 52.6,176.1 C55,177 57,177 59,177" fill="none" stroke="rgb(182,182,182)" stroke-width="1.9" stroke-linecap="round" stroke-linejoin="round"/>
<path d="M58.5,138 C59.5,142 60.3,145 60.6,148 C61,153 61.3,158 61.6,162 C61.9,166 62.2,168.5 62.5,171" fill="none" stroke="rgb(195,195,195)" stroke-width="2.1" stroke-linecap="round" stroke-linejoin="round"/>
<path d="M55.8,181.5 C52,184 49,186.5 46.7,188.5 C43.5,190.5 40.5,191.3 37,192.5 C33.5,193.4 30,193.8 26.4,193.2 C21,192.5 17,191.5 12.9,190.5 C9,187 6,184 2.9,181.5" fill="none" stroke="rgb(97,97,97)" stroke-width="1.0" stroke-linecap="round" stroke-linejoin="round"/>
<path d="M44.5,190.5 C42.5,196 40.5,202 38.1,209.5" fill="none" stroke="rgb(104,104,104)" stroke-width="1.2" stroke-linecap="round" stroke-linejoin="round"/>
<path d="M50,190 C49.5,196 49,202 48.8,209" fill="none" stroke="rgb(91,91,91)" stroke-width="1.1" stroke-linecap="round" stroke-linejoin="round"/>
<path d="M40.9,191.4 C35,195 28,199 21.9,203.2 C18,205.5 14,207.5 10,209" fill="none" stroke="rgb(91,91,91)" stroke-width="1.0" stroke-linecap="round" stroke-linejoin="round"/>
<path d="M63,185 C64.5,190 65.5,194.5 66.6,198.8 C67.5,202.5 68,206 68.5,209.5" fill="none" stroke="rgb(110,110,110)" stroke-width="1.2" stroke-linecap="round" stroke-linejoin="round"/>
<path d="M68.5,182.3 C70,186.5 71.5,190.5 73,194.2 C74.5,197 76,199.8 77.7,202.5 C78.5,205 79,207 79.5,209" fill="none" stroke="rgb(104,104,104)" stroke-width="1.1" stroke-linecap="round" stroke-linejoin="round"/>
<path d="M60,20 C66,18 72,16 78,12 C82,9 86,6 90,2" fill="none" stroke="rgb(58,58,58)" stroke-width="0.9" stroke-linecap="round" stroke-linejoin="round"/>
<path d="M70,30 C74,26 77,22 80,16" fill="none" stroke="rgb(58,58,58)" stroke-width="0.8" stroke-linecap="round" stroke-linejoin="round"/>
<path d="M96,14 C100,20 104,26 108,30 C112,33 116,34 121,35" fill="none" stroke="rgb(65,65,65)" stroke-width="0.9" stroke-linecap="round" stroke-linejoin="round"/>
<path d="M100,2 C100,8 99,14 96.7,20 C95,26 93,31 91,37" fill="none" stroke="rgb(71,71,71)" stroke-width="0.9" stroke-linecap="round" stroke-linejoin="round"/>
<path d="M104,22 C108,18 112,20 116,24 C119,26 120,28 121,30" fill="none" stroke="rgb(58,58,58)" stroke-width="0.8" stroke-linecap="round" stroke-linejoin="round"/>
<path d="M86,0 C90,6 95,10 100,12" fill="none" stroke="rgb(58,58,58)" stroke-width="0.8" stroke-linecap="round" stroke-linejoin="round"/>
<path d="M66,40 C64,34 62,28 62,20" fill="none" stroke="rgb(52,52,52)" stroke-width="0.7" stroke-linecap="round" stroke-linejoin="round"/>
<path d="M18,40 C22,50 24,58 27,64" fill="none" stroke="rgb(52,52,52)" stroke-width="0.8" stroke-linecap="round" stroke-linejoin="round"/>
<path d="M2,60 C6,70 8,80 9,92" fill="none" stroke="rgb(45,45,45)" stroke-width="0.7" stroke-linecap="round" stroke-linejoin="round"/>
<path d="M2,140 C8,150 12,160 15,175" fill="none" stroke="rgb(52,52,52)" stroke-width="0.7" stroke-linecap="round" stroke-linejoin="round"/>
<path d="M24,150 C30,155 36,160 44,162" fill="none" stroke="rgb(52,52,52)" stroke-width="0.7" stroke-linecap="round" stroke-linejoin="round"/>
<path d="M100,190 C104,196 108,202 112,209" fill="none" stroke="rgb(65,65,65)" stroke-width="0.8" stroke-linecap="round" stroke-linejoin="round"/>
<path d="M86,186 C90,194 94,200 96,209" fill="none" stroke="rgb(65,65,65)" stroke-width="0.8" stroke-linecap="round" stroke-linejoin="round"/>
<path d="M112,150 C115,155 118,158 121,160" fill="none" stroke="rgb(58,58,58)" stroke-width="0.8" stroke-linecap="round" stroke-linejoin="round"/>
<path d="M104,112 C108,118 112,122 118,124" fill="none" stroke="rgb(52,52,52)" stroke-width="0.7" stroke-linecap="round" stroke-linejoin="round"/>
</g>
<g filter="url(#cblur)">
<circle cx="112.8" cy="12.2" r="6.2" fill="#e6e6e6"/>
<circle cx="91.2" cy="37.6" r="2.4" fill="#909090"/>
<ellipse cx="47.6" cy="128.6" rx="3.50" ry="10.50" fill="url(#spindle)" transform="rotate(-14 47.6 128.6)"/>
<ellipse cx="57.8" cy="135.2" rx="3.70" ry="10.00" fill="url(#spindle)" transform="rotate(-19 57.8 135.2)"/>
<ellipse cx="62.3" cy="176.6" rx="6.3" ry="5.8" fill="#fff"/>
</g>
<circle cx="31.8" cy="194.1" r="1.5" fill="#d0d0d0" filter="url(#nblur)"/>
<circle cx="21.9" cy="203.2" r="1.2" fill="#aaa" filter="url(#nblur)"/>
<circle cx="40.9" cy="191.4" r="1.1" fill="#999" filter="url(#nblur)"/>
<circle cx="48.1" cy="190.5" r="1.0" fill="#999" filter="url(#nblur)"/>
<circle cx="51.7" cy="199.5" r="1.0" fill="#888" filter="url(#nblur)"/>
<circle cx="77.7" cy="202.5" r="1.2" fill="#aaa" filter="url(#nblur)"/>
<circle cx="35.4" cy="29.3" r="1.0" fill="#777" filter="url(#nblur)"/>
<circle cx="88.4" cy="5.5" r="1" fill="#777" filter="url(#nblur)"/>
<circle cx="96.7" cy="12.4" r="1.1" fill="#999" filter="url(#nblur)"/>
<circle cx="97.9" cy="56.4" r="0.9" fill="#999" filter="url(#nblur)"/>
<circle cx="97" cy="73.7" r="1.0" fill="#999" filter="url(#nblur)"/>
<circle cx="94.7" cy="90.2" r="1.1" fill="#aaa" filter="url(#nblur)"/>
<circle cx="77.7" cy="117.8" r="1.0" fill="#888" filter="url(#nblur)"/>
<circle cx="85" cy="103.1" r="0.9" fill="#888" filter="url(#nblur)"/>
<circle cx="109.8" cy="171.2" r="0.9" fill="#999" filter="url(#nblur)"/>
<circle cx="100.6" cy="174.9" r="0.9" fill="#999" filter="url(#nblur)"/>
</svg>
</g>
<g transform="translate(553.30,25.5)">
<rect x="0" y="0" width="120.5" height="208.3" fill="#000"/>
<svg x="0" y="0" width="120.5" height="208.3" viewBox="0 0 120.5 208.3" overflow="hidden">
<path d="M60,172 C52,176 44,182 38,192 C46,194 56,192 66,186 C68,180 66,175 60,172 Z" fill="#5a5a5a" filter="url(#glow)"/>
<ellipse cx="58" cy="184" rx="16" ry="13" fill="url(#haze)"/>
<ellipse cx="53" cy="132" rx="9" ry="16" fill="url(#haze2)" transform="rotate(-20 53 132)"/>
<g filter="url(#glow)">
<path d="M41,108 C45,118 47,124 48.4,129 C48.5,136 48.4,142 48,150 L49.5,150 C50,142 51.5,136 51,129 C49.5,122 46,114 42.5,107 Z" fill="#bbb"/>
<path d="M61.5,112 C60,122 58,128 56,134 C58,140 60,146 61,154 L62.5,154 C62,146 61.5,140 59.5,134 C61,127 62.5,120 63,112 Z" fill="#bbb"/>
<ellipse cx="62.1" cy="176.1" rx="9" ry="8.5" fill="#999"/>
<circle cx="112.8" cy="12.2" r="8.6" fill="#a8a8a8"/>
</g>
<g filter="url(#nblur)">
<path d="M2.9,17.6 C12,13 25,8 37.2,3.1" fill="none" stroke="rgb(66,66,66)" stroke-width="1.1" stroke-linecap="round" stroke-linejoin="round"/>
<path d="M91,37.5 C86,35 82,33.5 80.4,33.5 C76,31.5 72,30 68.5,29.8 C64,30 61,30.5 59.3,31.6 C56,33 55,34 53.5,35.6 C50,37.5 49,38 48.1,39.2 C45,42 43.5,44 41.8,46.5 C39.5,50 38,52 37.2,53.7 C35,57 34,60 32.7,62.7 C32.2,66 32.4,70 32.7,73.5" fill="none" stroke="rgb(77,77,77)" stroke-width="1.2" stroke-linecap="round" stroke-linejoin="round"/>
<path d="M91,38 C88,37 85,36.5 82.3,36.2 C78,37 76,38 73.1,39 C68,40.5 63,42 59.3,43.6 C56,45 55,46 53.5,46.5 C50,49 47,51.5 44.5,53.7 C41,57 39,59 37.2,60.9 C35.5,64 34.5,66.5 33.6,69.5" fill="none" stroke="rgb(88,88,88)" stroke-width="1.3" stroke-linecap="round" stroke-linejoin="round"/>
<path d="M32.7,73.5 C33,77 33.2,80 33.6,82.6 C34.5,88 35.3,91 36.3,94.3 C37.3,98 38,101.5 39,105.2 C40.2,109 41.3,112 42.7,115.1 C44,118 45,120 46.3,122.3" fill="none" stroke="rgb(126,126,126)" stroke-width="1.6" stroke-linecap="round" stroke-linejoin="round"/>
<path d="M27.3,64.5 C26.6,68 26,71 25.5,73.5 C24.5,77 23.5,80 21.9,82.6 C20.5,85 19,87.5 17.4,89.8 C16,92 15,94 13.8,96.1 C12.5,99 11,102 10.1,105.2 C9.5,107.5 9.2,109.5 9.2,111.5 C9.6,114 10.5,116.5 11.9,118.7 C13.5,122 15.5,125 17.4,127.7 C20,127.3 23,127 26.4,126.8 C32,126.5 38,126.2 43.6,125.9" fill="none" stroke="rgb(68,68,68)" stroke-width="1.1" stroke-linecap="round" stroke-linejoin="round"/>
<path d="M27.3,64.5 C28.5,60 29.5,57 29.1,55.5" fill="none" stroke="rgb(66,66,66)" stroke-width="1.0" stroke-linecap="round" stroke-linejoin="round"/>
<path d="M27.3,114.2 C30,110 32.5,106.5 35.4,103.3" fill="none" stroke="rgb(66,66,66)" stroke-width="1.0" stroke-linecap="round" stroke-linejoin="round"/>
<path d="M91,37.5 C89,33 87.5,30 86.8,27.1 C86,24 85.5,21 85,17.9 C84.5,14.5 83.8,11.5 83.2,8.7 C82.8,6 82.5,3 82,0" fill="none" stroke="rgb(77,77,77)" stroke-width="1.1" stroke-linecap="round" stroke-linejoin="round"/>
<path d="M86.8,27.1 C80,22 72,16 64,10 C58,6 52,3 46,1" fill="none" stroke="rgb(60,60,60)" stroke-width="1.0" stroke-linecap="round" stroke-linejoin="round"/>
<path d="M91.5,38.5 C92.5,42 93.8,46 95.1,49.1 C96.2,52 97.2,54 97.9,56.4 C98.5,59 98.8,61 98.8,63.8 C98.6,67 98,70 97.9,73.7 C97,76 96.5,77.5 96,79.2 C95.4,83 95,86.5 94.7,90.2 C94.4,94 94.2,97.5 94.2,101.2 C93.8,108 93.5,114 93.3,119.6 C93.3,126 93.3,132 93.3,138" fill="none" stroke="rgb(99,99,99)" stroke-width="1.3" stroke-linecap="round" stroke-linejoin="round"/>
<path d="M96,38.1 C99,38.3 102,38.6 105.2,39 C110,40 115,41.5 121,43" fill="none" stroke="rgb(77,77,77)" stroke-width="1.1" stroke-linecap="round" stroke-linejoin="round"/>
<path d="M98.8,55.5 C102,53.5 104.5,52 107,50.9 C111,49.5 115,48 121,47" fill="none" stroke="rgb(71,71,71)" stroke-width="1.0" stroke-linecap="round" stroke-linejoin="round"/>
<path d="M98.8,65.6 C102,64.3 105.5,63 108.9,62 C112,60.5 116,59 121,58" fill="none" stroke="rgb(66,66,66)" stroke-width="1.0" stroke-linecap="round" stroke-linejoin="round"/>
<path d="M94.7,90.2 C95.3,93 95.7,95 96,96.6 C100,97.6 105,98.5 109.8,99.4 C113,100 116,100.5 121,101.2" fill="none" stroke="rgb(93,93,93)" stroke-width="1.2" stroke-linecap="round" stroke-linejoin="round"/>
<path d="M121,111 C120,111.5 119,112 118.1,112.3 C115,117 113,122 110.7,127 C108,131 106,135 103.4,139.5" fill="none" stroke="rgb(66,66,66)" stroke-width="1.0" stroke-linecap="round" stroke-linejoin="round"/>
<path d="M57.5,131 C60,123 62,115 64,108 C65.5,105 67,103 68.5,101.2 C71.5,95 74.5,90 77.7,84.7 C80.5,80 83.5,76.5 86.8,72.8 C89,70 91,67 93.3,64.5" fill="none" stroke="rgb(93,93,93)" stroke-width="1.2" stroke-linecap="round" stroke-linejoin="round"/>
<path d="M62.1,133.4 C65,131 68,129 70.3,127 C73,124 75.5,121 77.7,117.8 C80,113 82.5,108 85,103.1 C88,98.5 91,94 94.2,90.2" fill="none" stroke="rgb(77,77,77)" stroke-width="1.0" stroke-linecap="round" stroke-linejoin="round"/>
<path d="M65,171 C66,170 67.5,169 68.5,168.5 C71.5,165 74.5,161.5 77.7,158.4 C80.5,155.5 83.5,153 86.8,151 C89.5,148.5 92,146.5 94.2,144.6 C98.5,141.5 102.5,139 107,136.3 C111,134 115,132 121,130" fill="none" stroke="rgb(99,99,99)" stroke-width="1.2" stroke-linecap="round" stroke-linejoin="round"/>
<path d="M94.2,144.6 C94.2,141 94.2,137.5 94.2,134.5" fill="none" stroke="rgb(77,77,77)" stroke-width="1.0" stroke-linecap="round" stroke-linejoin="round"/>
<path d="M71.2,155.6 C75,153 79,150.5 82.3,148.3 C85,146.5 87.5,145 89.6,143.7" fill="none" stroke="rgb(71,71,71)" stroke-width="1.0" stroke-linecap="round" stroke-linejoin="round"/>
<path d="M101.5,145.5 C106,143.5 110,141.8 114.4,140" fill="none" stroke="rgb(55,55,55)" stroke-width="0.9" stroke-linecap="round" stroke-linejoin="round"/>
<path d="M66,177 C67,177.3 67.8,177.6 68.5,177.7 C74,178.2 80,178.6 85,178.6 C90.5,177.5 95.5,176 100.6,174.9 C104,173.5 107,172.2 109.8,171.2 C113,169.5 115.5,168 118.1,166.6 C118.5,169 118.5,172 118.1,174 C116.5,176 114.5,177.5 112.6,178.6 C109,178.3 104.5,178 100.6,177.7" fill="none" stroke="rgb(110,110,110)" stroke-width="1.3" stroke-linecap="round" stroke-linejoin="round"/>
<path d="M48.1,136 C48.1,139 48.1,141 48.1,143.5 C48.2,148 48.3,153 48.5,157.1 C49,162 49.6,166.5 50.3,170.6 C51,173 51.7,174.8 52.6,176.1 C55,177 57,177 59,177" fill="none" stroke="rgb(154,154,154)" stroke-width="1.9" stroke-linecap="round" stroke-linejoin="round"/>
<path d="M58.5,138 C59.5,142 60.3,145 60.6,148 C61,153 61.3,158 61.6,162 C61.9,166 62.2,168.5 62.5,171" fill="none" stroke="rgb(165,165,165)" stroke-width="2.1" stroke-linecap="round" stroke-linejoin="round"/>
<path d="M55.8,181.5 C52,184 49,186.5 46.7,188.5 C43.5,190.5 40.5,191.3 37,192.5 C33.5,193.4 30,193.8 26.4,193.2 C21,192.5 17,191.5 12.9,190.5 C9,187 6,184 2.9,181.5" fill="none" stroke="rgb(82,82,82)" stroke-width="1.0" stroke-linecap="round" stroke-linejoin="round"/>
<path d="M44.5,190.5 C42.5,196 40.5,202 38.1,209.5" fill="none" stroke="rgb(88,88,88)" stroke-width="1.2" stroke-linecap="round" stroke-linejoin="round"/>
<path d="M50,190 C49.5,196 49,202 48.8,209" fill="none" stroke="rgb(77,77,77)" stroke-width="1.1" stroke-linecap="round" stroke-linejoin="round"/>
<path d="M40.9,191.4 C35,195 28,199 21.9,203.2 C18,205.5 14,207.5 10,209" fill="none" stroke="rgb(77,77,77)" stroke-width="1.0" stroke-linecap="round" stroke-linejoin="round"/>
<path d="M63,185 C64.5,190 65.5,194.5 66.6,198.8 C67.5,202.5 68,206 68.5,209.5" fill="none" stroke="rgb(93,93,93)" stroke-width="1.2" stroke-linecap="round" stroke-linejoin="round"/>
<path d="M68.5,182.3 C70,186.5 71.5,190.5 73,194.2 C74.5,197 76,199.8 77.7,202.5 C78.5,205 79,207 79.5,209" fill="none" stroke="rgb(88,88,88)" stroke-width="1.1" stroke-linecap="round" stroke-linejoin="round"/>
<path d="M60,20 C66,18 72,16 78,12 C82,9 86,6 90,2" fill="none" stroke="rgb(49,49,49)" stroke-width="0.9" stroke-linecap="round" stroke-linejoin="round"/>
<path d="M70,30 C74,26 77,22 80,16" fill="none" stroke="rgb(49,49,49)" stroke-width="0.8" stroke-linecap="round" stroke-linejoin="round"/>
<path d="M96,14 C100,20 104,26 108,30 C112,33 116,34 121,35" fill="none" stroke="rgb(55,55,55)" stroke-width="0.9" stroke-linecap="round" stroke-linejoin="round"/>
<path d="M100,2 C100,8 99,14 96.7,20 C95,26 93,31 91,37" fill="none" stroke="rgb(60,60,60)" stroke-width="0.9" stroke-linecap="round" stroke-linejoin="round"/>
<path d="M104,22 C108,18 112,20 116,24 C119,26 120,28 121,30" fill="none" stroke="rgb(49,49,49)" stroke-width="0.8" stroke-linecap="round" stroke-linejoin="round"/>
<path d="M86,0 C90,6 95,10 100,12" fill="none" stroke="rgb(49,49,49)" stroke-width="0.8" stroke-linecap="round" stroke-linejoin="round"/>
<path d="M66,40 C64,34 62,28 62,20" fill="none" stroke="rgb(44,44,44)" stroke-width="0.7" stroke-linecap="round" stroke-linejoin="round"/>
<path d="M18,40 C22,50 24,58 27,64" fill="none" stroke="rgb(44,44,44)" stroke-width="0.8" stroke-linecap="round" stroke-linejoin="round"/>
<path d="M2,60 C6,70 8,80 9,92" fill="none" stroke="rgb(38,38,38)" stroke-width="0.7" stroke-linecap="round" stroke-linejoin="round"/>
<path d="M2,140 C8,150 12,160 15,175" fill="none" stroke="rgb(44,44,44)" stroke-width="0.7" stroke-linecap="round" stroke-linejoin="round"/>
<path d="M24,150 C30,155 36,160 44,162" fill="none" stroke="rgb(44,44,44)" stroke-width="0.7" stroke-linecap="round" stroke-linejoin="round"/>
<path d="M100,190 C104,196 108,202 112,209" fill="none" stroke="rgb(55,55,55)" stroke-width="0.8" stroke-linecap="round" stroke-linejoin="round"/>
<path d="M86,186 C90,194 94,200 96,209" fill="none" stroke="rgb(55,55,55)" stroke-width="0.8" stroke-linecap="round" stroke-linejoin="round"/>
<path d="M112,150 C115,155 118,158 121,160" fill="none" stroke="rgb(49,49,49)" stroke-width="0.8" stroke-linecap="round" stroke-linejoin="round"/>
<path d="M104,112 C108,118 112,122 118,124" fill="none" stroke="rgb(44,44,44)" stroke-width="0.7" stroke-linecap="round" stroke-linejoin="round"/>
</g>
<g filter="url(#cblur)">
<circle cx="112.8" cy="12.2" r="6.2" fill="#e6e6e6"/>
<circle cx="91.2" cy="37.6" r="2.4" fill="#909090"/>
<ellipse cx="47.6" cy="128.6" rx="2.98" ry="8.92" fill="url(#spindle)" transform="rotate(-14 47.6 128.6)"/>
<ellipse cx="57.8" cy="135.2" rx="3.15" ry="8.50" fill="url(#spindle)" transform="rotate(-19 57.8 135.2)"/>
<ellipse cx="62.3" cy="176.6" rx="6.3" ry="5.8" fill="#fff"/>
</g>
<circle cx="31.8" cy="194.1" r="1.5" fill="#d0d0d0" filter="url(#nblur)"/>
<circle cx="21.9" cy="203.2" r="1.2" fill="#aaa" filter="url(#nblur)"/>
<circle cx="40.9" cy="191.4" r="1.1" fill="#999" filter="url(#nblur)"/>
<circle cx="48.1" cy="190.5" r="1.0" fill="#999" filter="url(#nblur)"/>
<circle cx="51.7" cy="199.5" r="1.0" fill="#888" filter="url(#nblur)"/>
<circle cx="77.7" cy="202.5" r="1.2" fill="#aaa" filter="url(#nblur)"/>
<circle cx="35.4" cy="29.3" r="1.0" fill="#777" filter="url(#nblur)"/>
<circle cx="88.4" cy="5.5" r="1" fill="#777" filter="url(#nblur)"/>
<circle cx="96.7" cy="12.4" r="1.1" fill="#999" filter="url(#nblur)"/>
<circle cx="97.9" cy="56.4" r="0.9" fill="#999" filter="url(#nblur)"/>
<circle cx="97" cy="73.7" r="1.0" fill="#999" filter="url(#nblur)"/>
<circle cx="94.7" cy="90.2" r="1.1" fill="#aaa" filter="url(#nblur)"/>
<circle cx="77.7" cy="117.8" r="1.0" fill="#888" filter="url(#nblur)"/>
<circle cx="85" cy="103.1" r="0.9" fill="#888" filter="url(#nblur)"/>
<circle cx="109.8" cy="171.2" r="0.9" fill="#999" filter="url(#nblur)"/>
<circle cx="100.6" cy="174.9" r="0.9" fill="#999" filter="url(#nblur)"/>
</svg>
</g>
<text x="656.0" y="225.3" font-size="10.5" font-weight="bold" text-anchor="middle" fill="#fff">30 µm</text>
<rect x="644" y="228.2" width="25.2" height="2" fill="#fff"/>
<text x="0.2" y="273.5" font-size="31" font-weight="bold" letter-spacing="-2.6">B1</text>
<rect x="57.9" y="282.3" width="85.9" height="8.1" fill="#a9a9a9"/>
<text x="102.9" y="278.6" font-size="12.3" text-anchor="middle">5 mM</text>
<rect x="143.7" y="282.3" width="85.8" height="8.1" fill="#555"/>
<text x="191.4" y="278.6" font-size="12.3" text-anchor="middle">10 mM</text>
<rect x="229.6" y="282.3" width="85.9" height="8.1" fill="#000"/>
<text x="279.3" y="278.6" font-size="12.3" text-anchor="middle">50 mM</text>
<line x1="40.7" y1="296.1" x2="40.7" y2="429.2" stroke="#5a5a5a" stroke-width="1"/>
<line x1="37.7" y1="296.1" x2="40.7" y2="296.1" stroke="#5a5a5a" stroke-width="1"/>
<text x="34.5" y="299.8" font-size="10.3" text-anchor="end" fill="#111">1.5</text>
<line x1="37.7" y1="329.4" x2="40.7" y2="329.4" stroke="#5a5a5a" stroke-width="1"/>
<text x="34.5" y="333.1" font-size="10.3" text-anchor="end" fill="#111">1.2</text>
<line x1="37.7" y1="362.6" x2="40.7" y2="362.6" stroke="#5a5a5a" stroke-width="1"/>
<text x="34.5" y="366.3" font-size="10.3" text-anchor="end" fill="#111">0.9</text>
<line x1="37.7" y1="395.9" x2="40.7" y2="395.9" stroke="#5a5a5a" stroke-width="1"/>
<text x="34.5" y="399.6" font-size="10.3" text-anchor="end" fill="#111">0.6</text>
<line x1="37.7" y1="429.2" x2="40.7" y2="429.2" stroke="#5a5a5a" stroke-width="1"/>
<text x="34.5" y="432.9" font-size="10.3" text-anchor="end" fill="#111">0.3</text>
<line x1="40.7" y1="429.2" x2="400.5" y2="429.2" stroke="#5a5a5a" stroke-width="1"/>
<line x1="40.7" y1="429.2" x2="40.7" y2="432.2" stroke="#5a5a5a" stroke-width="1"/>
<line x1="57.9" y1="429.2" x2="57.9" y2="432.2" stroke="#5a5a5a" stroke-width="1"/>
<line x1="75.0" y1="429.2" x2="75.0" y2="432.2" stroke="#5a5a5a" stroke-width="1"/>
<line x1="92.2" y1="429.2" x2="92.2" y2="432.2" stroke="#5a5a5a" stroke-width="1"/>
<line x1="109.4" y1="429.2" x2="109.4" y2="432.2" stroke="#5a5a5a" stroke-width="1"/>
<line x1="126.6" y1="429.2" x2="126.6" y2="432.2" stroke="#5a5a5a" stroke-width="1"/>
<line x1="143.7" y1="429.2" x2="143.7" y2="432.2" stroke="#5a5a5a" stroke-width="1"/>
<line x1="160.9" y1="429.2" x2="160.9" y2="432.2" stroke="#5a5a5a" stroke-width="1"/>
<line x1="178.1" y1="429.2" x2="178.1" y2="432.2" stroke="#5a5a5a" stroke-width="1"/>
<line x1="195.2" y1="429.2" x2="195.2" y2="432.2" stroke="#5a5a5a" stroke-width="1"/>
<line x1="212.4" y1="429.2" x2="212.4" y2="432.2" stroke="#5a5a5a" stroke-width="1"/>
<line x1="229.6" y1="429.2" x2="229.6" y2="432.2" stroke="#5a5a5a" stroke-width="1"/>
<line x1="246.7" y1="429.2" x2="246.7" y2="432.2" stroke="#5a5a5a" stroke-width="1"/>
<line x1="263.9" y1="429.2" x2="263.9" y2="432.2" stroke="#5a5a5a" stroke-width="1"/>
<line x1="281.1" y1="429.2" x2="281.1" y2="432.2" stroke="#5a5a5a" stroke-width="1"/>
<line x1="298.2" y1="429.2" x2="298.2" y2="432.2" stroke="#5a5a5a" stroke-width="1"/>
<line x1="315.4" y1="429.2" x2="315.4" y2="432.2" stroke="#5a5a5a" stroke-width="1"/>
<line x1="332.6" y1="429.2" x2="332.6" y2="432.2" stroke="#5a5a5a" stroke-width="1"/>
<line x1="349.8" y1="429.2" x2="349.8" y2="432.2" stroke="#5a5a5a" stroke-width="1"/>
<line x1="366.9" y1="429.2" x2="366.9" y2="432.2" stroke="#5a5a5a" stroke-width="1"/>
<line x1="384.1" y1="429.2" x2="384.1" y2="432.2" stroke="#5a5a5a" stroke-width="1"/>
<line x1="401.3" y1="429.2" x2="401.3" y2="432.2" stroke="#5a5a5a" stroke-width="1"/>
<text transform="translate(12.7,362.5) rotate(-90)" font-size="14" font-weight="bold" text-anchor="middle"><tspan>F/F</tspan><tspan font-size="9.1" dy="3">0</tspan></text>
<text x="403.0" y="392.4" font-size="14.8" font-weight="bold" font-style="italic" text-anchor="end">Somatodendritic</text>
<polygon points="40.7,353.3 43.6,351.7 46.5,349.1 49.5,351.7 52.4,354.5 55.3,355.3 58.2,355.1 61.1,354.5 64.1,356.0 67.0,356.9 69.9,353.6 72.8,347.0 75.7,335.3 78.6,322.5 81.6,315.3 84.5,311.0 87.4,312.4 90.3,319.9 93.2,327.4 96.2,333.9 99.1,338.2 102.0,342.2 104.9,346.3 107.8,349.4 110.8,349.6 113.7,349.7 116.6,349.8 119.5,350.7 122.4,353.0 125.3,352.5 128.3,354.2 131.2,354.4 134.1,355.7 137.0,355.6 139.9,356.3 142.9,356.1 145.8,354.1 148.7,343.6 151.6,343.6 154.5,351.8 157.5,353.8 160.4,345.8 163.3,355.0 166.2,357.2 169.1,358.2 172.1,359.9 175.0,360.1 177.9,361.4 180.8,360.0 183.7,361.1 186.6,360.9 189.6,361.4 192.5,361.1 195.4,362.2 198.3,361.7 201.2,362.3 204.2,361.7 207.1,361.9 210.0,362.4 212.9,363.4 215.8,362.8 218.8,362.8 221.7,362.0 224.6,363.1 227.5,363.0 230.4,363.1 233.3,363.2 236.3,363.3 239.2,363.4 242.1,364.0 245.0,367.1 247.9,369.2 250.9,367.1 253.8,363.5 256.7,359.8 259.6,355.6 262.5,349.8 265.5,341.4 268.4,331.9 271.3,330.1 274.2,326.0 277.1,326.6 280.0,327.2 283.0,325.5 285.9,326.0 288.8,325.7 291.7,325.6 294.6,327.6 297.6,326.8 300.5,327.4 303.4,329.4 306.3,329.9 309.2,330.7 312.2,332.0 315.1,332.3 318.0,332.3 320.9,331.9 323.8,332.8 326.8,334.7 329.7,334.2 332.6,333.9 335.5,332.0 338.4,331.2 341.3,332.6 344.3,334.7 347.2,335.5 350.1,335.4 353.0,335.4 355.9,335.1 358.9,337.1 361.8,337.7 364.7,337.8 367.6,338.8 370.5,341.4 373.5,340.9 376.4,339.9 379.3,340.8 382.2,343.1 385.1,344.3 388.0,345.0 391.0,344.1 393.9,345.6 396.8,347.2 399.7,347.2 399.7,360.1 396.8,360.0 393.9,358.4 391.0,357.0 388.0,357.8 385.1,357.1 382.2,355.9 379.3,353.6 376.4,352.7 373.5,353.7 370.5,354.3 367.6,351.7 364.7,350.7 361.8,350.5 358.9,349.9 355.9,347.9 353.0,348.3 350.1,348.3 347.2,348.4 344.3,347.6 341.3,345.5 338.4,344.0 335.5,344.8 332.6,346.8 329.7,347.0 326.8,347.5 323.8,345.7 320.9,344.7 318.0,345.1 315.1,345.2 312.2,344.9 309.2,343.6 306.3,342.7 303.4,342.3 300.5,340.3 297.6,339.6 294.6,340.4 291.7,338.5 288.8,338.5 285.9,338.8 283.0,338.3 280.0,340.1 277.1,339.4 274.2,338.9 271.3,343.0 268.4,344.8 265.5,354.2 262.5,362.7 259.6,368.4 256.7,372.7 253.8,375.0 250.9,378.6 247.9,380.7 245.0,378.6 242.1,375.5 239.2,374.9 236.3,374.9 233.3,374.7 230.4,374.6 227.5,374.6 224.6,374.6 221.7,373.5 218.8,374.3 215.8,374.3 212.9,374.9 210.0,373.9 207.1,373.4 204.2,373.3 201.2,373.9 198.3,373.2 195.4,373.7 192.5,372.6 189.6,373.0 186.6,372.4 183.7,372.6 180.8,371.5 177.9,372.9 175.0,371.7 172.1,371.5 169.1,369.7 166.2,368.7 163.3,366.5 160.4,357.4 157.5,365.3 154.5,363.4 151.6,355.2 148.7,355.1 145.8,365.6 142.9,367.7 139.9,367.8 137.0,367.1 134.1,367.2 131.2,365.9 128.3,365.7 125.3,364.1 122.4,364.5 119.5,362.3 116.6,361.3 113.7,361.2 110.8,361.1 107.8,358.7 104.9,355.6 102.0,351.5 99.1,347.5 96.2,343.2 93.2,336.7 90.3,329.2 87.4,321.7 84.5,320.3 81.6,324.6 78.6,331.8 75.7,344.6 72.8,356.3 69.9,362.9 67.0,366.2 64.1,365.3 61.1,363.8 58.2,364.4 55.3,364.6 52.4,363.9 49.5,361.0 46.5,358.4 43.6,361.0 40.7,362.6" fill="#bdbdbd"/>
<path d="M40.7,353.3V362.6" stroke="#999" stroke-width="0.5"/>
<path d="M43.6,351.7V361.0" stroke="#999" stroke-width="0.5"/>
<path d="M46.5,349.1V358.4" stroke="#999" stroke-width="0.5"/>
<path d="M49.5,351.7V361.0" stroke="#999" stroke-width="0.5"/>
<path d="M52.4,354.5V363.9" stroke="#999" stroke-width="0.5"/>
<path d="M55.3,355.3V364.6" stroke="#999" stroke-width="0.5"/>
<path d="M58.2,355.1V364.4" stroke="#999" stroke-width="0.5"/>
<path d="M61.1,354.5V363.8" stroke="#999" stroke-width="0.5"/>
<path d="M64.1,356.0V365.3" stroke="#999" stroke-width="0.5"/>
<path d="M67.0,356.9V366.2" stroke="#999" stroke-width="0.5"/>
<path d="M69.9,353.6V362.9" stroke="#999" stroke-width="0.5"/>
<path d="M72.8,347.0V356.3" stroke="#999" stroke-width="0.5"/>
<path d="M75.7,335.3V344.6" stroke="#999" stroke-width="0.5"/>
<path d="M78.6,322.5V331.8" stroke="#999" stroke-width="0.5"/>
<path d="M81.6,315.3V324.6" stroke="#999" stroke-width="0.5"/>
<path d="M84.5,311.0V320.3" stroke="#999" stroke-width="0.5"/>
<path d="M87.4,312.4V321.7" stroke="#999" stroke-width="0.5"/>
<path d="M90.3,319.9V329.2" stroke="#999" stroke-width="0.5"/>
<path d="M93.2,327.4V336.7" stroke="#999" stroke-width="0.5"/>
<path d="M96.2,333.9V343.2" stroke="#999" stroke-width="0.5"/>
<path d="M99.1,338.2V347.5" stroke="#999" stroke-width="0.5"/>
<path d="M102.0,342.2V351.5" stroke="#999" stroke-width="0.5"/>
<path d="M104.9,346.3V355.6" stroke="#999" stroke-width="0.5"/>
<path d="M107.8,349.4V358.7" stroke="#999" stroke-width="0.5"/>
<path d="M110.8,349.6V361.1" stroke="#999" stroke-width="0.5"/>
<path d="M113.7,349.7V361.2" stroke="#999" stroke-width="0.5"/>
<path d="M116.6,349.8V361.3" stroke="#999" stroke-width="0.5"/>
<path d="M119.5,350.7V362.3" stroke="#999" stroke-width="0.5"/>
<path d="M122.4,353.0V364.5" stroke="#999" stroke-width="0.5"/>
<path d="M125.3,352.5V364.1" stroke="#999" stroke-width="0.5"/>
<path d="M128.3,354.2V365.7" stroke="#999" stroke-width="0.5"/>
<path d="M131.2,354.4V365.9" stroke="#999" stroke-width="0.5"/>
<path d="M134.1,355.7V367.2" stroke="#999" stroke-width="0.5"/>
<path d="M137.0,355.6V367.1" stroke="#999" stroke-width="0.5"/>
<path d="M139.9,356.3V367.8" stroke="#999" stroke-width="0.5"/>
<path d="M142.9,356.1V367.7" stroke="#999" stroke-width="0.5"/>
<path d="M145.8,354.1V365.6" stroke="#999" stroke-width="0.5"/>
<path d="M148.7,343.6V355.1" stroke="#999" stroke-width="0.5"/>
<path d="M151.6,343.6V355.2" stroke="#999" stroke-width="0.5"/>
<path d="M154.5,351.8V363.4" stroke="#999" stroke-width="0.5"/>
<path d="M157.5,353.8V365.3" stroke="#999" stroke-width="0.5"/>
<path d="M160.4,345.8V357.4" stroke="#999" stroke-width="0.5"/>
<path d="M163.3,355.0V366.5" stroke="#999" stroke-width="0.5"/>
<path d="M166.2,357.2V368.7" stroke="#999" stroke-width="0.5"/>
<path d="M169.1,358.2V369.7" stroke="#999" stroke-width="0.5"/>
<path d="M172.1,359.9V371.5" stroke="#999" stroke-width="0.5"/>
<path d="M175.0,360.1V371.7" stroke="#999" stroke-width="0.5"/>
<path d="M177.9,361.4V372.9" stroke="#999" stroke-width="0.5"/>
<path d="M180.8,360.0V371.5" stroke="#999" stroke-width="0.5"/>
<path d="M183.7,361.1V372.6" stroke="#999" stroke-width="0.5"/>
<path d="M186.6,360.9V372.4" stroke="#999" stroke-width="0.5"/>
<path d="M189.6,361.4V373.0" stroke="#999" stroke-width="0.5"/>
<path d="M192.5,361.1V372.6" stroke="#999" stroke-width="0.5"/>
<path d="M195.4,362.2V373.7" stroke="#999" stroke-width="0.5"/>
<path d="M198.3,361.7V373.2" stroke="#999" stroke-width="0.5"/>
<path d="M201.2,362.3V373.9" stroke="#999" stroke-width="0.5"/>
<path d="M204.2,361.7V373.3" stroke="#999" stroke-width="0.5"/>
<path d="M207.1,361.9V373.4" stroke="#999" stroke-width="0.5"/>
<path d="M210.0,362.4V373.9" stroke="#999" stroke-width="0.5"/>
<path d="M212.9,363.4V374.9" stroke="#999" stroke-width="0.5"/>
<path d="M215.8,362.8V374.3" stroke="#999" stroke-width="0.5"/>
<path d="M218.8,362.8V374.3" stroke="#999" stroke-width="0.5"/>
<path d="M221.7,362.0V373.5" stroke="#999" stroke-width="0.5"/>
<path d="M224.6,363.1V374.6" stroke="#999" stroke-width="0.5"/>
<path d="M227.5,363.0V374.6" stroke="#999" stroke-width="0.5"/>
<path d="M230.4,363.1V374.6" stroke="#999" stroke-width="0.5"/>
<path d="M233.3,363.2V374.7" stroke="#999" stroke-width="0.5"/>
<path d="M236.3,363.3V374.9" stroke="#999" stroke-width="0.5"/>
<path d="M239.2,363.4V374.9" stroke="#999" stroke-width="0.5"/>
<path d="M242.1,364.0V375.5" stroke="#999" stroke-width="0.5"/>
<path d="M245.0,367.1V378.6" stroke="#999" stroke-width="0.5"/>
<path d="M247.9,369.2V380.7" stroke="#999" stroke-width="0.5"/>
<path d="M250.9,367.1V378.6" stroke="#999" stroke-width="0.5"/>
<path d="M253.8,363.5V375.0" stroke="#999" stroke-width="0.5"/>
<path d="M256.7,359.8V372.7" stroke="#999" stroke-width="0.5"/>
<path d="M259.6,355.6V368.4" stroke="#999" stroke-width="0.5"/>
<path d="M262.5,349.8V362.7" stroke="#999" stroke-width="0.5"/>
<path d="M265.5,341.4V354.2" stroke="#999" stroke-width="0.5"/>
<path d="M268.4,331.9V344.8" stroke="#999" stroke-width="0.5"/>
<path d="M271.3,330.1V343.0" stroke="#999" stroke-width="0.5"/>
<path d="M274.2,326.0V338.9" stroke="#999" stroke-width="0.5"/>
<path d="M277.1,326.6V339.4" stroke="#999" stroke-width="0.5"/>
<path d="M280.0,327.2V340.1" stroke="#999" stroke-width="0.5"/>
<path d="M283.0,325.5V338.3" stroke="#999" stroke-width="0.5"/>
<path d="M285.9,326.0V338.8" stroke="#999" stroke-width="0.5"/>
<path d="M288.8,325.7V338.5" stroke="#999" stroke-width="0.5"/>
<path d="M291.7,325.6V338.5" stroke="#999" stroke-width="0.5"/>
<path d="M294.6,327.6V340.4" stroke="#999" stroke-width="0.5"/>
<path d="M297.6,326.8V339.6" stroke="#999" stroke-width="0.5"/>
<path d="M300.5,327.4V340.3" stroke="#999" stroke-width="0.5"/>
<path d="M303.4,329.4V342.3" stroke="#999" stroke-width="0.5"/>
<path d="M306.3,329.9V342.7" stroke="#999" stroke-width="0.5"/>
<path d="M309.2,330.7V343.6" stroke="#999" stroke-width="0.5"/>
<path d="M312.2,332.0V344.9" stroke="#999" stroke-width="0.5"/>
<path d="M315.1,332.3V345.2" stroke="#999" stroke-width="0.5"/>
<path d="M318.0,332.3V345.1" stroke="#999" stroke-width="0.5"/>
<path d="M320.9,331.9V344.7" stroke="#999" stroke-width="0.5"/>
<path d="M323.8,332.8V345.7" stroke="#999" stroke-width="0.5"/>
<path d="M326.8,334.7V347.5" stroke="#999" stroke-width="0.5"/>
<path d="M329.7,334.2V347.0" stroke="#999" stroke-width="0.5"/>
<path d="M332.6,333.9V346.8" stroke="#999" stroke-width="0.5"/>
<path d="M335.5,332.0V344.8" stroke="#999" stroke-width="0.5"/>
<path d="M338.4,331.2V344.0" stroke="#999" stroke-width="0.5"/>
<path d="M341.3,332.6V345.5" stroke="#999" stroke-width="0.5"/>
<path d="M344.3,334.7V347.6" stroke="#999" stroke-width="0.5"/>
<path d="M347.2,335.5V348.4" stroke="#999" stroke-width="0.5"/>
<path d="M350.1,335.4V348.3" stroke="#999" stroke-width="0.5"/>
<path d="M353.0,335.4V348.3" stroke="#999" stroke-width="0.5"/>
<path d="M355.9,335.1V347.9" stroke="#999" stroke-width="0.5"/>
<path d="M358.9,337.1V349.9" stroke="#999" stroke-width="0.5"/>
<path d="M361.8,337.7V350.5" stroke="#999" stroke-width="0.5"/>
<path d="M364.7,337.8V350.7" stroke="#999" stroke-width="0.5"/>
<path d="M367.6,338.8V351.7" stroke="#999" stroke-width="0.5"/>
<path d="M370.5,341.4V354.3" stroke="#999" stroke-width="0.5"/>
<path d="M373.5,340.9V353.7" stroke="#999" stroke-width="0.5"/>
<path d="M376.4,339.9V352.7" stroke="#999" stroke-width="0.5"/>
<path d="M379.3,340.8V353.6" stroke="#999" stroke-width="0.5"/>
<path d="M382.2,343.1V355.9" stroke="#999" stroke-width="0.5"/>
<path d="M385.1,344.3V357.1" stroke="#999" stroke-width="0.5"/>
<path d="M388.0,345.0V357.8" stroke="#999" stroke-width="0.5"/>
<path d="M391.0,344.1V357.0" stroke="#999" stroke-width="0.5"/>
<path d="M393.9,345.6V358.4" stroke="#999" stroke-width="0.5"/>
<path d="M396.8,347.2V360.0" stroke="#999" stroke-width="0.5"/>
<path d="M399.7,347.2V360.1" stroke="#999" stroke-width="0.5"/>
<path d="M38.9,353.3h3.6M38.9,362.6h3.6" stroke="#5e5e5e" stroke-width="0.9"/>
<path d="M41.8,351.7h3.6M41.8,361.0h3.6" stroke="#5e5e5e" stroke-width="0.9"/>
<path d="M44.7,349.1h3.6M44.7,358.4h3.6" stroke="#5e5e5e" stroke-width="0.9"/>
<path d="M47.7,351.7h3.6M47.7,361.0h3.6" stroke="#5e5e5e" stroke-width="0.9"/>
<path d="M50.6,354.5h3.6M50.6,363.9h3.6" stroke="#5e5e5e" stroke-width="0.9"/>
<path d="M53.5,355.3h3.6M53.5,364.6h3.6" stroke="#5e5e5e" stroke-width="0.9"/>
<path d="M56.4,355.1h3.6M56.4,364.4h3.6" stroke="#5e5e5e" stroke-width="0.9"/>
<path d="M59.3,354.5h3.6M59.3,363.8h3.6" stroke="#5e5e5e" stroke-width="0.9"/>
<path d="M62.3,356.0h3.6M62.3,365.3h3.6" stroke="#5e5e5e" stroke-width="0.9"/>
<path d="M65.2,356.9h3.6M65.2,366.2h3.6" stroke="#5e5e5e" stroke-width="0.9"/>
<path d="M68.1,353.6h3.6M68.1,362.9h3.6" stroke="#5e5e5e" stroke-width="0.9"/>
<path d="M71.0,347.0h3.6M71.0,356.3h3.6" stroke="#5e5e5e" stroke-width="0.9"/>
<path d="M73.9,335.3h3.6M73.9,344.6h3.6" stroke="#5e5e5e" stroke-width="0.9"/>
<path d="M76.8,322.5h3.6M76.8,331.8h3.6" stroke="#5e5e5e" stroke-width="0.9"/>
<path d="M79.8,315.3h3.6M79.8,324.6h3.6" stroke="#5e5e5e" stroke-width="0.9"/>
<path d="M82.7,311.0h3.6M82.7,320.3h3.6" stroke="#5e5e5e" stroke-width="0.9"/>
<path d="M85.6,312.4h3.6M85.6,321.7h3.6" stroke="#5e5e5e" stroke-width="0.9"/>
<path d="M88.5,319.9h3.6M88.5,329.2h3.6" stroke="#5e5e5e" stroke-width="0.9"/>
<path d="M91.4,327.4h3.6M91.4,336.7h3.6" stroke="#5e5e5e" stroke-width="0.9"/>
<path d="M94.4,333.9h3.6M94.4,343.2h3.6" stroke="#5e5e5e" stroke-width="0.9"/>
<path d="M97.3,338.2h3.6M97.3,347.5h3.6" stroke="#5e5e5e" stroke-width="0.9"/>
<path d="M100.2,342.2h3.6M100.2,351.5h3.6" stroke="#5e5e5e" stroke-width="0.9"/>
<path d="M103.1,346.3h3.6M103.1,355.6h3.6" stroke="#5e5e5e" stroke-width="0.9"/>
<path d="M106.0,349.4h3.6M106.0,358.7h3.6" stroke="#5e5e5e" stroke-width="0.9"/>
<path d="M109.0,349.6h3.6M109.0,361.1h3.6" stroke="#5e5e5e" stroke-width="0.9"/>
<path d="M111.9,349.7h3.6M111.9,361.2h3.6" stroke="#5e5e5e" stroke-width="0.9"/>
<path d="M114.8,349.8h3.6M114.8,361.3h3.6" stroke="#5e5e5e" stroke-width="0.9"/>
<path d="M117.7,350.7h3.6M117.7,362.3h3.6" stroke="#5e5e5e" stroke-width="0.9"/>
<path d="M120.6,353.0h3.6M120.6,364.5h3.6" stroke="#5e5e5e" stroke-width="0.9"/>
<path d="M123.5,352.5h3.6M123.5,364.1h3.6" stroke="#5e5e5e" stroke-width="0.9"/>
<path d="M126.5,354.2h3.6M126.5,365.7h3.6" stroke="#5e5e5e" stroke-width="0.9"/>
<path d="M129.4,354.4h3.6M129.4,365.9h3.6" stroke="#5e5e5e" stroke-width="0.9"/>
<path d="M132.3,355.7h3.6M132.3,367.2h3.6" stroke="#5e5e5e" stroke-width="0.9"/>
<path d="M135.2,355.6h3.6M135.2,367.1h3.6" stroke="#5e5e5e" stroke-width="0.9"/>
<path d="M138.1,356.3h3.6M138.1,367.8h3.6" stroke="#5e5e5e" stroke-width="0.9"/>
<path d="M141.1,356.1h3.6M141.1,367.7h3.6" stroke="#5e5e5e" stroke-width="0.9"/>
<path d="M144.0,354.1h3.6M144.0,365.6h3.6" stroke="#5e5e5e" stroke-width="0.9"/>
<path d="M146.9,343.6h3.6M146.9,355.1h3.6" stroke="#5e5e5e" stroke-width="0.9"/>
<path d="M149.8,343.6h3.6M149.8,355.2h3.6" stroke="#5e5e5e" stroke-width="0.9"/>
<path d="M152.7,351.8h3.6M152.7,363.4h3.6" stroke="#5e5e5e" stroke-width="0.9"/>
<path d="M155.7,353.8h3.6M155.7,365.3h3.6" stroke="#5e5e5e" stroke-width="0.9"/>
<path d="M158.6,345.8h3.6M158.6,357.4h3.6" stroke="#5e5e5e" stroke-width="0.9"/>
<path d="M161.5,355.0h3.6M161.5,366.5h3.6" stroke="#5e5e5e" stroke-width="0.9"/>
<path d="M164.4,357.2h3.6M164.4,368.7h3.6" stroke="#5e5e5e" stroke-width="0.9"/>
<path d="M167.3,358.2h3.6M167.3,369.7h3.6" stroke="#5e5e5e" stroke-width="0.9"/>
<path d="M170.3,359.9h3.6M170.3,371.5h3.6" stroke="#5e5e5e" stroke-width="0.9"/>
<path d="M173.2,360.1h3.6M173.2,371.7h3.6" stroke="#5e5e5e" stroke-width="0.9"/>
<path d="M176.1,361.4h3.6M176.1,372.9h3.6" stroke="#5e5e5e" stroke-width="0.9"/>
<path d="M179.0,360.0h3.6M179.0,371.5h3.6" stroke="#5e5e5e" stroke-width="0.9"/>
<path d="M181.9,361.1h3.6M181.9,372.6h3.6" stroke="#5e5e5e" stroke-width="0.9"/>
<path d="M184.8,360.9h3.6M184.8,372.4h3.6" stroke="#5e5e5e" stroke-width="0.9"/>
<path d="M187.8,361.4h3.6M187.8,373.0h3.6" stroke="#5e5e5e" stroke-width="0.9"/>
<path d="M190.7,361.1h3.6M190.7,372.6h3.6" stroke="#5e5e5e" stroke-width="0.9"/>
<path d="M193.6,362.2h3.6M193.6,373.7h3.6" stroke="#5e5e5e" stroke-width="0.9"/>
<path d="M196.5,361.7h3.6M196.5,373.2h3.6" stroke="#5e5e5e" stroke-width="0.9"/>
<path d="M199.4,362.3h3.6M199.4,373.9h3.6" stroke="#5e5e5e" stroke-width="0.9"/>
<path d="M202.4,361.7h3.6M202.4,373.3h3.6" stroke="#5e5e5e" stroke-width="0.9"/>
<path d="M205.3,361.9h3.6M205.3,373.4h3.6" stroke="#5e5e5e" stroke-width="0.9"/>
<path d="M208.2,362.4h3.6M208.2,373.9h3.6" stroke="#5e5e5e" stroke-width="0.9"/>
<path d="M211.1,363.4h3.6M211.1,374.9h3.6" stroke="#5e5e5e" stroke-width="0.9"/>
<path d="M214.0,362.8h3.6M214.0,374.3h3.6" stroke="#5e5e5e" stroke-width="0.9"/>
<path d="M217.0,362.8h3.6M217.0,374.3h3.6" stroke="#5e5e5e" stroke-width="0.9"/>
<path d="M219.9,362.0h3.6M219.9,373.5h3.6" stroke="#5e5e5e" stroke-width="0.9"/>
<path d="M222.8,363.1h3.6M222.8,374.6h3.6" stroke="#5e5e5e" stroke-width="0.9"/>
<path d="M225.7,363.0h3.6M225.7,374.6h3.6" stroke="#5e5e5e" stroke-width="0.9"/>
<path d="M228.6,363.1h3.6M228.6,374.6h3.6" stroke="#5e5e5e" stroke-width="0.9"/>
<path d="M231.5,363.2h3.6M231.5,374.7h3.6" stroke="#5e5e5e" stroke-width="0.9"/>
<path d="M234.5,363.3h3.6M234.5,374.9h3.6" stroke="#5e5e5e" stroke-width="0.9"/>
<path d="M237.4,363.4h3.6M237.4,374.9h3.6" stroke="#5e5e5e" stroke-width="0.9"/>
<path d="M240.3,364.0h3.6M240.3,375.5h3.6" stroke="#5e5e5e" stroke-width="0.9"/>
<path d="M243.2,367.1h3.6M243.2,378.6h3.6" stroke="#5e5e5e" stroke-width="0.9"/>
<path d="M246.1,369.2h3.6M246.1,380.7h3.6" stroke="#5e5e5e" stroke-width="0.9"/>
<path d="M249.1,367.1h3.6M249.1,378.6h3.6" stroke="#5e5e5e" stroke-width="0.9"/>
<path d="M252.0,363.5h3.6M252.0,375.0h3.6" stroke="#5e5e5e" stroke-width="0.9"/>
<path d="M254.9,359.8h3.6M254.9,372.7h3.6" stroke="#5e5e5e" stroke-width="0.9"/>
<path d="M257.8,355.6h3.6M257.8,368.4h3.6" stroke="#5e5e5e" stroke-width="0.9"/>
<path d="M260.7,349.8h3.6M260.7,362.7h3.6" stroke="#5e5e5e" stroke-width="0.9"/>
<path d="M263.7,341.4h3.6M263.7,354.2h3.6" stroke="#5e5e5e" stroke-width="0.9"/>
<path d="M266.6,331.9h3.6M266.6,344.8h3.6" stroke="#5e5e5e" stroke-width="0.9"/>
<path d="M269.5,330.1h3.6M269.5,343.0h3.6" stroke="#5e5e5e" stroke-width="0.9"/>
<path d="M272.4,326.0h3.6M272.4,338.9h3.6" stroke="#5e5e5e" stroke-width="0.9"/>
<path d="M275.3,326.6h3.6M275.3,339.4h3.6" stroke="#5e5e5e" stroke-width="0.9"/>
<path d="M278.2,327.2h3.6M278.2,340.1h3.6" stroke="#5e5e5e" stroke-width="0.9"/>
<path d="M281.2,325.5h3.6M281.2,338.3h3.6" stroke="#5e5e5e" stroke-width="0.9"/>
<path d="M284.1,326.0h3.6M284.1,338.8h3.6" stroke="#5e5e5e" stroke-width="0.9"/>
<path d="M287.0,325.7h3.6M287.0,338.5h3.6" stroke="#5e5e5e" stroke-width="0.9"/>
<path d="M289.9,325.6h3.6M289.9,338.5h3.6" stroke="#5e5e5e" stroke-width="0.9"/>
<path d="M292.8,327.6h3.6M292.8,340.4h3.6" stroke="#5e5e5e" stroke-width="0.9"/>
<path d="M295.8,326.8h3.6M295.8,339.6h3.6" stroke="#5e5e5e" stroke-width="0.9"/>
<path d="M298.7,327.4h3.6M298.7,340.3h3.6" stroke="#5e5e5e" stroke-width="0.9"/>
<path d="M301.6,329.4h3.6M301.6,342.3h3.6" stroke="#5e5e5e" stroke-width="0.9"/>
<path d="M304.5,329.9h3.6M304.5,342.7h3.6" stroke="#5e5e5e" stroke-width="0.9"/>
<path d="M307.4,330.7h3.6M307.4,343.6h3.6" stroke="#5e5e5e" stroke-width="0.9"/>
<path d="M310.4,332.0h3.6M310.4,344.9h3.6" stroke="#5e5e5e" stroke-width="0.9"/>
<path d="M313.3,332.3h3.6M313.3,345.2h3.6" stroke="#5e5e5e" stroke-width="0.9"/>
<path d="M316.2,332.3h3.6M316.2,345.1h3.6" stroke="#5e5e5e" stroke-width="0.9"/>
<path d="M319.1,331.9h3.6M319.1,344.7h3.6" stroke="#5e5e5e" stroke-width="0.9"/>
<path d="M322.0,332.8h3.6M322.0,345.7h3.6" stroke="#5e5e5e" stroke-width="0.9"/>
<path d="M325.0,334.7h3.6M325.0,347.5h3.6" stroke="#5e5e5e" stroke-width="0.9"/>
<path d="M327.9,334.2h3.6M327.9,347.0h3.6" stroke="#5e5e5e" stroke-width="0.9"/>
<path d="M330.8,333.9h3.6M330.8,346.8h3.6" stroke="#5e5e5e" stroke-width="0.9"/>
<path d="M333.7,332.0h3.6M333.7,344.8h3.6" stroke="#5e5e5e" stroke-width="0.9"/>
<path d="M336.6,331.2h3.6M336.6,344.0h3.6" stroke="#5e5e5e" stroke-width="0.9"/>
<path d="M339.5,332.6h3.6M339.5,345.5h3.6" stroke="#5e5e5e" stroke-width="0.9"/>
<path d="M342.5,334.7h3.6M342.5,347.6h3.6" stroke="#5e5e5e" stroke-width="0.9"/>
<path d="M345.4,335.5h3.6M345.4,348.4h3.6" stroke="#5e5e5e" stroke-width="0.9"/>
<path d="M348.3,335.4h3.6M348.3,348.3h3.6" stroke="#5e5e5e" stroke-width="0.9"/>
<path d="M351.2,335.4h3.6M351.2,348.3h3.6" stroke="#5e5e5e" stroke-width="0.9"/>
<path d="M354.1,335.1h3.6M354.1,347.9h3.6" stroke="#5e5e5e" stroke-width="0.9"/>
<path d="M357.1,337.1h3.6M357.1,349.9h3.6" stroke="#5e5e5e" stroke-width="0.9"/>
<path d="M360.0,337.7h3.6M360.0,350.5h3.6" stroke="#5e5e5e" stroke-width="0.9"/>
<path d="M362.9,337.8h3.6M362.9,350.7h3.6" stroke="#5e5e5e" stroke-width="0.9"/>
<path d="M365.8,338.8h3.6M365.8,351.7h3.6" stroke="#5e5e5e" stroke-width="0.9"/>
<path d="M368.7,341.4h3.6M368.7,354.3h3.6" stroke="#5e5e5e" stroke-width="0.9"/>
<path d="M371.7,340.9h3.6M371.7,353.7h3.6" stroke="#5e5e5e" stroke-width="0.9"/>
<path d="M374.6,339.9h3.6M374.6,352.7h3.6" stroke="#5e5e5e" stroke-width="0.9"/>
<path d="M377.5,340.8h3.6M377.5,353.6h3.6" stroke="#5e5e5e" stroke-width="0.9"/>
<path d="M380.4,343.1h3.6M380.4,355.9h3.6" stroke="#5e5e5e" stroke-width="0.9"/>
<path d="M383.3,344.3h3.6M383.3,357.1h3.6" stroke="#5e5e5e" stroke-width="0.9"/>
<path d="M386.2,345.0h3.6M386.2,357.8h3.6" stroke="#5e5e5e" stroke-width="0.9"/>
<path d="M389.2,344.1h3.6M389.2,357.0h3.6" stroke="#5e5e5e" stroke-width="0.9"/>
<path d="M392.1,345.6h3.6M392.1,358.4h3.6" stroke="#5e5e5e" stroke-width="0.9"/>
<path d="M395.0,347.2h3.6M395.0,360.0h3.6" stroke="#5e5e5e" stroke-width="0.9"/>
<path d="M397.9,347.2h3.6M397.9,360.1h3.6" stroke="#5e5e5e" stroke-width="0.9"/>
<polyline points="40.7,358.0 43.6,356.3 46.5,353.8 49.5,356.3 52.4,359.2 55.3,360.0 58.2,359.7 61.1,359.1 64.1,360.6 67.0,361.5 69.9,358.3 72.8,351.7 75.7,340.0 78.6,327.1 81.6,319.9 84.5,315.6 87.4,317.0 90.3,324.6 93.2,332.0 96.2,338.5 99.1,342.8 102.0,346.8 104.9,350.9 107.8,354.1 110.8,355.3 113.7,355.5 116.6,355.5 119.5,356.5 122.4,358.7 125.3,358.3 128.3,359.9 131.2,360.1 134.1,361.5 137.0,361.3 139.9,362.0 142.9,361.9 145.8,359.8 148.7,349.3 151.6,349.4 154.5,357.6 157.5,359.5 160.4,351.6 163.3,360.7 166.2,363.0 169.1,364.0 172.1,365.7 175.0,365.9 177.9,367.2 180.8,365.7 183.7,366.9 186.6,366.7 189.6,367.2 192.5,366.9 195.4,367.9 198.3,367.4 201.2,368.1 204.2,367.5 207.1,367.7 210.0,368.2 212.9,369.2 215.8,368.6 218.8,368.5 221.7,367.7 224.6,368.9 227.5,368.8 230.4,368.8 233.3,369.0 236.3,369.1 239.2,369.2 242.1,369.8 245.0,372.8 247.9,375.0 250.9,372.8 253.8,369.3 256.7,366.3 259.6,362.0 262.5,356.3 265.5,347.8 268.4,338.3 271.3,336.5 274.2,332.4 277.1,333.0 280.0,333.6 283.0,331.9 285.9,332.4 288.8,332.1 291.7,332.0 294.6,334.0 297.6,333.2 300.5,333.8 303.4,335.9 306.3,336.3 309.2,337.1 312.2,338.5 315.1,338.7 318.0,338.7 320.9,338.3 323.8,339.2 326.8,341.1 329.7,340.6 332.6,340.4 335.5,338.4 338.4,337.6 341.3,339.0 344.3,341.2 347.2,341.9 350.1,341.8 353.0,341.9 355.9,341.5 358.9,343.5 361.8,344.1 364.7,344.3 367.6,345.3 370.5,347.9 373.5,347.3 376.4,346.3 379.3,347.2 382.2,349.5 385.1,350.7 388.0,351.4 391.0,350.6 393.9,352.0 396.8,353.6 399.7,353.7" fill="none" stroke="#666" stroke-width="0.6"/>
<circle cx="40.7" cy="358.0" r="1.35" fill="#fff" stroke="#5a5a5a" stroke-width="0.65"/>
<circle cx="43.6" cy="356.3" r="1.35" fill="#fff" stroke="#5a5a5a" stroke-width="0.65"/>
<circle cx="46.5" cy="353.8" r="1.35" fill="#fff" stroke="#5a5a5a" stroke-width="0.65"/>
<circle cx="49.5" cy="356.3" r="1.35" fill="#fff" stroke="#5a5a5a" stroke-width="0.65"/>
<circle cx="52.4" cy="359.2" r="1.35" fill="#fff" stroke="#5a5a5a" stroke-width="0.65"/>
<circle cx="55.3" cy="360.0" r="1.35" fill="#fff" stroke="#5a5a5a" stroke-width="0.65"/>
<circle cx="58.2" cy="359.7" r="1.35" fill="#fff" stroke="#5a5a5a" stroke-width="0.65"/>
<circle cx="61.1" cy="359.1" r="1.35" fill="#fff" stroke="#5a5a5a" stroke-width="0.65"/>
<circle cx="64.1" cy="360.6" r="1.35" fill="#fff" stroke="#5a5a5a" stroke-width="0.65"/>
<circle cx="67.0" cy="361.5" r="1.35" fill="#fff" stroke="#5a5a5a" stroke-width="0.65"/>
<circle cx="69.9" cy="358.3" r="1.35" fill="#fff" stroke="#5a5a5a" stroke-width="0.65"/>
<circle cx="72.8" cy="351.7" r="1.35" fill="#fff" stroke="#5a5a5a" stroke-width="0.65"/>
<circle cx="75.7" cy="340.0" r="1.35" fill="#fff" stroke="#5a5a5a" stroke-width="0.65"/>
<circle cx="78.6" cy="327.1" r="1.35" fill="#fff" stroke="#5a5a5a" stroke-width="0.65"/>
<circle cx="81.6" cy="319.9" r="1.35" fill="#fff" stroke="#5a5a5a" stroke-width="0.65"/>
<circle cx="84.5" cy="315.6" r="1.35" fill="#fff" stroke="#5a5a5a" stroke-width="0.65"/>
<circle cx="87.4" cy="317.0" r="1.35" fill="#fff" stroke="#5a5a5a" stroke-width="0.65"/>
<circle cx="90.3" cy="324.6" r="1.35" fill="#fff" stroke="#5a5a5a" stroke-width="0.65"/>
<circle cx="93.2" cy="332.0" r="1.35" fill="#fff" stroke="#5a5a5a" stroke-width="0.65"/>
<circle cx="96.2" cy="338.5" r="1.35" fill="#fff" stroke="#5a5a5a" stroke-width="0.65"/>
<circle cx="99.1" cy="342.8" r="1.35" fill="#fff" stroke="#5a5a5a" stroke-width="0.65"/>
<circle cx="102.0" cy="346.8" r="1.35" fill="#fff" stroke="#5a5a5a" stroke-width="0.65"/>
<circle cx="104.9" cy="350.9" r="1.35" fill="#fff" stroke="#5a5a5a" stroke-width="0.65"/>
<circle cx="107.8" cy="354.1" r="1.35" fill="#fff" stroke="#5a5a5a" stroke-width="0.65"/>
<circle cx="110.8" cy="355.3" r="1.35" fill="#fff" stroke="#5a5a5a" stroke-width="0.65"/>
<circle cx="113.7" cy="355.5" r="1.35" fill="#fff" stroke="#5a5a5a" stroke-width="0.65"/>
<circle cx="116.6" cy="355.5" r="1.35" fill="#fff" stroke="#5a5a5a" stroke-width="0.65"/>
<circle cx="119.5" cy="356.5" r="1.35" fill="#fff" stroke="#5a5a5a" stroke-width="0.65"/>
<circle cx="122.4" cy="358.7" r="1.35" fill="#fff" stroke="#5a5a5a" stroke-width="0.65"/>
<circle cx="125.3" cy="358.3" r="1.35" fill="#fff" stroke="#5a5a5a" stroke-width="0.65"/>
<circle cx="128.3" cy="359.9" r="1.35" fill="#fff" stroke="#5a5a5a" stroke-width="0.65"/>
<circle cx="131.2" cy="360.1" r="1.35" fill="#fff" stroke="#5a5a5a" stroke-width="0.65"/>
<circle cx="134.1" cy="361.5" r="1.35" fill="#fff" stroke="#5a5a5a" stroke-width="0.65"/>
<circle cx="137.0" cy="361.3" r="1.35" fill="#fff" stroke="#5a5a5a" stroke-width="0.65"/>
<circle cx="139.9" cy="362.0" r="1.35" fill="#fff" stroke="#5a5a5a" stroke-width="0.65"/>
<circle cx="142.9" cy="361.9" r="1.35" fill="#fff" stroke="#5a5a5a" stroke-width="0.65"/>
<circle cx="145.8" cy="359.8" r="1.35" fill="#fff" stroke="#5a5a5a" stroke-width="0.65"/>
<circle cx="148.7" cy="349.3" r="1.35" fill="#fff" stroke="#5a5a5a" stroke-width="0.65"/>
<circle cx="151.6" cy="349.4" r="1.35" fill="#fff" stroke="#5a5a5a" stroke-width="0.65"/>
<circle cx="154.5" cy="357.6" r="1.35" fill="#fff" stroke="#5a5a5a" stroke-width="0.65"/>
<circle cx="157.5" cy="359.5" r="1.35" fill="#fff" stroke="#5a5a5a" stroke-width="0.65"/>
<circle cx="160.4" cy="351.6" r="1.35" fill="#fff" stroke="#5a5a5a" stroke-width="0.65"/>
<circle cx="163.3" cy="360.7" r="1.35" fill="#fff" stroke="#5a5a5a" stroke-width="0.65"/>
<circle cx="166.2" cy="363.0" r="1.35" fill="#fff" stroke="#5a5a5a" stroke-width="0.65"/>
<circle cx="169.1" cy="364.0" r="1.35" fill="#fff" stroke="#5a5a5a" stroke-width="0.65"/>
<circle cx="172.1" cy="365.7" r="1.35" fill="#fff" stroke="#5a5a5a" stroke-width="0.65"/>
<circle cx="175.0" cy="365.9" r="1.35" fill="#fff" stroke="#5a5a5a" stroke-width="0.65"/>
<circle cx="177.9" cy="367.2" r="1.35" fill="#fff" stroke="#5a5a5a" stroke-width="0.65"/>
<circle cx="180.8" cy="365.7" r="1.35" fill="#fff" stroke="#5a5a5a" stroke-width="0.65"/>
<circle cx="183.7" cy="366.9" r="1.35" fill="#fff" stroke="#5a5a5a" stroke-width="0.65"/>
<circle cx="186.6" cy="366.7" r="1.35" fill="#fff" stroke="#5a5a5a" stroke-width="0.65"/>
<circle cx="189.6" cy="367.2" r="1.35" fill="#fff" stroke="#5a5a5a" stroke-width="0.65"/>
<circle cx="192.5" cy="366.9" r="1.35" fill="#fff" stroke="#5a5a5a" stroke-width="0.65"/>
<circle cx="195.4" cy="367.9" r="1.35" fill="#fff" stroke="#5a5a5a" stroke-width="0.65"/>
<circle cx="198.3" cy="367.4" r="1.35" fill="#fff" stroke="#5a5a5a" stroke-width="0.65"/>
<circle cx="201.2" cy="368.1" r="1.35" fill="#fff" stroke="#5a5a5a" stroke-width="0.65"/>
<circle cx="204.2" cy="367.5" r="1.35" fill="#fff" stroke="#5a5a5a" stroke-width="0.65"/>
<circle cx="207.1" cy="367.7" r="1.35" fill="#fff" stroke="#5a5a5a" stroke-width="0.65"/>
<circle cx="210.0" cy="368.2" r="1.35" fill="#fff" stroke="#5a5a5a" stroke-width="0.65"/>
<circle cx="212.9" cy="369.2" r="1.35" fill="#fff" stroke="#5a5a5a" stroke-width="0.65"/>
<circle cx="215.8" cy="368.6" r="1.35" fill="#fff" stroke="#5a5a5a" stroke-width="0.65"/>
<circle cx="218.8" cy="368.5" r="1.35" fill="#fff" stroke="#5a5a5a" stroke-width="0.65"/>
<circle cx="221.7" cy="367.7" r="1.35" fill="#fff" stroke="#5a5a5a" stroke-width="0.65"/>
<circle cx="224.6" cy="368.9" r="1.35" fill="#fff" stroke="#5a5a5a" stroke-width="0.65"/>
<circle cx="227.5" cy="368.8" r="1.35" fill="#fff" stroke="#5a5a5a" stroke-width="0.65"/>
<circle cx="230.4" cy="368.8" r="1.35" fill="#fff" stroke="#5a5a5a" stroke-width="0.65"/>
<circle cx="233.3" cy="369.0" r="1.35" fill="#fff" stroke="#5a5a5a" stroke-width="0.65"/>
<circle cx="236.3" cy="369.1" r="1.35" fill="#fff" stroke="#5a5a5a" stroke-width="0.65"/>
<circle cx="239.2" cy="369.2" r="1.35" fill="#fff" stroke="#5a5a5a" stroke-width="0.65"/>
<circle cx="242.1" cy="369.8" r="1.35" fill="#fff" stroke="#5a5a5a" stroke-width="0.65"/>
<circle cx="245.0" cy="372.8" r="1.35" fill="#fff" stroke="#5a5a5a" stroke-width="0.65"/>
<circle cx="247.9" cy="375.0" r="1.35" fill="#fff" stroke="#5a5a5a" stroke-width="0.65"/>
<circle cx="250.9" cy="372.8" r="1.35" fill="#fff" stroke="#5a5a5a" stroke-width="0.65"/>
<circle cx="253.8" cy="369.3" r="1.35" fill="#fff" stroke="#5a5a5a" stroke-width="0.65"/>
<circle cx="256.7" cy="366.3" r="1.35" fill="#fff" stroke="#5a5a5a" stroke-width="0.65"/>
<circle cx="259.6" cy="362.0" r="1.35" fill="#fff" stroke="#5a5a5a" stroke-width="0.65"/>
<circle cx="262.5" cy="356.3" r="1.35" fill="#fff" stroke="#5a5a5a" stroke-width="0.65"/>
<circle cx="265.5" cy="347.8" r="1.35" fill="#fff" stroke="#5a5a5a" stroke-width="0.65"/>
<circle cx="268.4" cy="338.3" r="1.35" fill="#fff" stroke="#5a5a5a" stroke-width="0.65"/>
<circle cx="271.3" cy="336.5" r="1.35" fill="#fff" stroke="#5a5a5a" stroke-width="0.65"/>
<circle cx="274.2" cy="332.4" r="1.35" fill="#fff" stroke="#5a5a5a" stroke-width="0.65"/>
<circle cx="277.1" cy="333.0" r="1.35" fill="#fff" stroke="#5a5a5a" stroke-width="0.65"/>
<circle cx="280.0" cy="333.6" r="1.35" fill="#fff" stroke="#5a5a5a" stroke-width="0.65"/>
<circle cx="283.0" cy="331.9" r="1.35" fill="#fff" stroke="#5a5a5a" stroke-width="0.65"/>
<circle cx="285.9" cy="332.4" r="1.35" fill="#fff" stroke="#5a5a5a" stroke-width="0.65"/>
<circle cx="288.8" cy="332.1" r="1.35" fill="#fff" stroke="#5a5a5a" stroke-width="0.65"/>
<circle cx="291.7" cy="332.0" r="1.35" fill="#fff" stroke="#5a5a5a" stroke-width="0.65"/>
<circle cx="294.6" cy="334.0" r="1.35" fill="#fff" stroke="#5a5a5a" stroke-width="0.65"/>
<circle cx="297.6" cy="333.2" r="1.35" fill="#fff" stroke="#5a5a5a" stroke-width="0.65"/>
<circle cx="300.5" cy="333.8" r="1.35" fill="#fff" stroke="#5a5a5a" stroke-width="0.65"/>
<circle cx="303.4" cy="335.9" r="1.35" fill="#fff" stroke="#5a5a5a" stroke-width="0.65"/>
<circle cx="306.3" cy="336.3" r="1.35" fill="#fff" stroke="#5a5a5a" stroke-width="0.65"/>
<circle cx="309.2" cy="337.1" r="1.35" fill="#fff" stroke="#5a5a5a" stroke-width="0.65"/>
<circle cx="312.2" cy="338.5" r="1.35" fill="#fff" stroke="#5a5a5a" stroke-width="0.65"/>
<circle cx="315.1" cy="338.7" r="1.35" fill="#fff" stroke="#5a5a5a" stroke-width="0.65"/>
<circle cx="318.0" cy="338.7" r="1.35" fill="#fff" stroke="#5a5a5a" stroke-width="0.65"/>
<circle cx="320.9" cy="338.3" r="1.35" fill="#fff" stroke="#5a5a5a" stroke-width="0.65"/>
<circle cx="323.8" cy="339.2" r="1.35" fill="#fff" stroke="#5a5a5a" stroke-width="0.65"/>
<circle cx="326.8" cy="341.1" r="1.35" fill="#fff" stroke="#5a5a5a" stroke-width="0.65"/>
<circle cx="329.7" cy="340.6" r="1.35" fill="#fff" stroke="#5a5a5a" stroke-width="0.65"/>
<circle cx="332.6" cy="340.4" r="1.35" fill="#fff" stroke="#5a5a5a" stroke-width="0.65"/>
<circle cx="335.5" cy="338.4" r="1.35" fill="#fff" stroke="#5a5a5a" stroke-width="0.65"/>
<circle cx="338.4" cy="337.6" r="1.35" fill="#fff" stroke="#5a5a5a" stroke-width="0.65"/>
<circle cx="341.3" cy="339.0" r="1.35" fill="#fff" stroke="#5a5a5a" stroke-width="0.65"/>
<circle cx="344.3" cy="341.2" r="1.35" fill="#fff" stroke="#5a5a5a" stroke-width="0.65"/>
<circle cx="347.2" cy="341.9" r="1.35" fill="#fff" stroke="#5a5a5a" stroke-width="0.65"/>
<circle cx="350.1" cy="341.8" r="1.35" fill="#fff" stroke="#5a5a5a" stroke-width="0.65"/>
<circle cx="353.0" cy="341.9" r="1.35" fill="#fff" stroke="#5a5a5a" stroke-width="0.65"/>
<circle cx="355.9" cy="341.5" r="1.35" fill="#fff" stroke="#5a5a5a" stroke-width="0.65"/>
<circle cx="358.9" cy="343.5" r="1.35" fill="#fff" stroke="#5a5a5a" stroke-width="0.65"/>
<circle cx="361.8" cy="344.1" r="1.35" fill="#fff" stroke="#5a5a5a" stroke-width="0.65"/>
<circle cx="364.7" cy="344.3" r="1.35" fill="#fff" stroke="#5a5a5a" stroke-width="0.65"/>
<circle cx="367.6" cy="345.3" r="1.35" fill="#fff" stroke="#5a5a5a" stroke-width="0.65"/>
<circle cx="370.5" cy="347.9" r="1.35" fill="#fff" stroke="#5a5a5a" stroke-width="0.65"/>
<circle cx="373.5" cy="347.3" r="1.35" fill="#fff" stroke="#5a5a5a" stroke-width="0.65"/>
<circle cx="376.4" cy="346.3" r="1.35" fill="#fff" stroke="#5a5a5a" stroke-width="0.65"/>
<circle cx="379.3" cy="347.2" r="1.35" fill="#fff" stroke="#5a5a5a" stroke-width="0.65"/>
<circle cx="382.2" cy="349.5" r="1.35" fill="#fff" stroke="#5a5a5a" stroke-width="0.65"/>
<circle cx="385.1" cy="350.7" r="1.35" fill="#fff" stroke="#5a5a5a" stroke-width="0.65"/>
<circle cx="388.0" cy="351.4" r="1.35" fill="#fff" stroke="#5a5a5a" stroke-width="0.65"/>
<circle cx="391.0" cy="350.6" r="1.35" fill="#fff" stroke="#5a5a5a" stroke-width="0.65"/>
<circle cx="393.9" cy="352.0" r="1.35" fill="#fff" stroke="#5a5a5a" stroke-width="0.65"/>
<circle cx="396.8" cy="353.6" r="1.35" fill="#fff" stroke="#5a5a5a" stroke-width="0.65"/>
<circle cx="399.7" cy="353.7" r="1.35" fill="#fff" stroke="#5a5a5a" stroke-width="0.65"/>
<text x="0.2" y="471.8" font-size="31" font-weight="bold" letter-spacing="-1.5">B2</text>
<line x1="40.1" y1="469" x2="40.1" y2="631" stroke="#5a5a5a" stroke-width="1"/>
<line x1="37.1" y1="498.0" x2="40.1" y2="498.0" stroke="#5a5a5a" stroke-width="1"/>
<text x="33.9" y="501.7" font-size="10.3" text-anchor="end" fill="#111">1.2</text>
<line x1="37.1" y1="531.3" x2="40.1" y2="531.3" stroke="#5a5a5a" stroke-width="1"/>
<text x="33.9" y="535.0" font-size="10.3" text-anchor="end" fill="#111">0.9</text>
<line x1="37.1" y1="564.5" x2="40.1" y2="564.5" stroke="#5a5a5a" stroke-width="1"/>
<text x="33.9" y="568.2" font-size="10.3" text-anchor="end" fill="#111">0.6</text>
<line x1="37.1" y1="597.8" x2="40.1" y2="597.8" stroke="#5a5a5a" stroke-width="1"/>
<text x="33.9" y="601.5" font-size="10.3" text-anchor="end" fill="#111">0.3</text>
<line x1="37.1" y1="631.0" x2="40.1" y2="631.0" stroke="#5a5a5a" stroke-width="1"/>
<text x="33.9" y="634.7" font-size="10.3" text-anchor="end" fill="#111">0.0</text>
<line x1="40.1" y1="631" x2="400.5" y2="631" stroke="#5a5a5a" stroke-width="1"/>
<line x1="40.1" y1="631" x2="40.1" y2="634" stroke="#5a5a5a" stroke-width="1"/>
<line x1="57.3" y1="631" x2="57.3" y2="634" stroke="#5a5a5a" stroke-width="1"/>
<line x1="74.4" y1="631" x2="74.4" y2="634" stroke="#5a5a5a" stroke-width="1"/>
<line x1="91.6" y1="631" x2="91.6" y2="634" stroke="#5a5a5a" stroke-width="1"/>
<line x1="108.8" y1="631" x2="108.8" y2="634" stroke="#5a5a5a" stroke-width="1"/>
<line x1="126.0" y1="631" x2="126.0" y2="634" stroke="#5a5a5a" stroke-width="1"/>
<line x1="143.1" y1="631" x2="143.1" y2="634" stroke="#5a5a5a" stroke-width="1"/>
<line x1="160.3" y1="631" x2="160.3" y2="634" stroke="#5a5a5a" stroke-width="1"/>
<line x1="177.5" y1="631" x2="177.5" y2="634" stroke="#5a5a5a" stroke-width="1"/>
<line x1="194.6" y1="631" x2="194.6" y2="634" stroke="#5a5a5a" stroke-width="1"/>
<line x1="211.8" y1="631" x2="211.8" y2="634" stroke="#5a5a5a" stroke-width="1"/>
<line x1="229.0" y1="631" x2="229.0" y2="634" stroke="#5a5a5a" stroke-width="1"/>
<line x1="246.1" y1="631" x2="246.1" y2="634" stroke="#5a5a5a" stroke-width="1"/>
<line x1="263.3" y1="631" x2="263.3" y2="634" stroke="#5a5a5a" stroke-width="1"/>
<line x1="280.5" y1="631" x2="280.5" y2="634" stroke="#5a5a5a" stroke-width="1"/>
<line x1="297.7" y1="631" x2="297.7" y2="634" stroke="#5a5a5a" stroke-width="1"/>
<line x1="314.8" y1="631" x2="314.8" y2="634" stroke="#5a5a5a" stroke-width="1"/>
<line x1="332.0" y1="631" x2="332.0" y2="634" stroke="#5a5a5a" stroke-width="1"/>
<line x1="349.2" y1="631" x2="349.2" y2="634" stroke="#5a5a5a" stroke-width="1"/>
<line x1="366.3" y1="631" x2="366.3" y2="634" stroke="#5a5a5a" stroke-width="1"/>
<line x1="383.5" y1="631" x2="383.5" y2="634" stroke="#5a5a5a" stroke-width="1"/>
<line x1="400.7" y1="631" x2="400.7" y2="634" stroke="#5a5a5a" stroke-width="1"/>
<text x="40.1" y="644.4" font-size="10.3" text-anchor="middle" fill="#111">0</text>
<text x="126.0" y="644.4" font-size="10.3" text-anchor="middle" fill="#111">5</text>
<text x="211.8" y="644.4" font-size="10.3" text-anchor="middle" fill="#111">10</text>
<text x="297.7" y="644.4" font-size="10.3" text-anchor="middle" fill="#111">15</text>
<text x="383.5" y="644.4" font-size="10.3" text-anchor="middle" fill="#111">20</text>
<text x="219.5" y="660.4" font-size="14.8" font-weight="bold" text-anchor="middle">Time (min)</text>
<text transform="translate(12.7,548) rotate(-90)" font-size="14" font-weight="bold" text-anchor="middle"><tspan>F/F</tspan><tspan font-size="9.1" dy="3">0</tspan></text>
<text x="403.0" y="475.7" font-size="14.8" font-weight="bold" font-style="italic" text-anchor="end">Synaptic</text>
<polygon points="40.1,506.5 42.0,517.8 43.9,489.2 45.8,516.0 47.7,525.0 49.5,503.8 51.4,496.9 53.3,505.0 55.2,508.2 57.1,513.3 59.0,500.5 60.9,491.5 62.8,495.7 64.7,511.7 66.5,503.0 68.4,498.9 70.3,500.0 72.2,495.6 74.1,483.1 76.0,482.9 77.9,471.3 79.8,475.5 81.7,495.0 83.5,488.8 85.4,487.5 87.3,484.9 89.2,485.3 91.1,491.4 93.0,501.0 94.9,511.6 96.8,510.5 98.6,501.8 100.5,501.9 102.4,502.8 104.3,507.7 106.2,501.9 108.1,491.5 110.0,513.0 111.9,505.0 113.8,520.8 115.6,502.8 117.5,501.8 119.4,510.7 121.3,512.1 123.2,517.7 125.1,495.6 127.0,522.5 128.9,513.5 130.8,519.1 132.6,525.4 134.5,519.9 136.4,510.7 138.3,508.2 140.2,515.0 142.1,514.5 144.0,522.7 145.9,527.4 147.8,557.8 149.6,555.1 151.5,539.8 153.4,506.1 155.3,524.0 157.2,527.3 159.1,535.1 161.0,528.7 162.9,532.1 164.8,533.3 166.6,517.8 168.5,531.5 170.4,525.4 172.3,526.0 174.2,521.0 176.1,515.0 178.0,526.9 179.9,512.4 181.8,524.9 183.6,531.9 185.5,533.0 187.4,517.3 189.3,519.6 191.2,508.7 193.1,531.3 195.0,517.4 196.9,522.3 198.8,528.7 200.6,518.0 202.5,512.4 204.4,524.8 206.3,530.9 208.2,528.1 210.1,517.5 212.0,525.3 213.9,521.1 215.7,514.4 217.6,526.6 219.5,525.0 221.4,528.8 223.3,532.6 225.2,534.3 227.1,517.8 229.0,523.0 230.9,517.2 232.7,519.8 234.6,522.7 236.5,524.8 238.4,524.5 240.3,524.8 242.2,509.5 244.1,532.6 246.0,530.9 247.9,553.8 249.7,543.3 251.6,545.2 253.5,535.1 255.4,537.7 257.3,555.4 259.2,545.1 261.1,568.9 263.0,548.4 264.9,546.2 266.7,548.8 268.6,546.5 270.5,549.9 272.4,525.8 274.3,527.0 276.2,516.4 278.1,508.0 280.0,509.8 281.9,508.2 283.7,499.7 285.6,505.2 287.5,511.4 289.4,496.0 291.3,502.9 293.2,498.6 295.1,489.5 297.0,503.7 298.9,512.5 300.7,503.3 302.6,519.6 304.5,526.9 306.4,543.5 308.3,532.2 310.2,545.5 312.1,541.6 314.0,539.3 315.9,535.8 317.7,542.0 319.6,547.7 321.5,539.0 323.4,532.1 325.3,530.0 327.2,532.0 329.1,531.2 331.0,519.7 332.8,522.0 334.7,547.6 336.6,527.2 338.5,532.5 340.4,533.6 342.3,539.7 344.2,526.5 346.1,527.1 348.0,524.6 349.8,533.3 351.7,523.6 353.6,531.4 355.5,529.5 357.4,524.4 359.3,528.4 361.2,524.2 363.1,524.9 365.0,525.7 366.8,520.5 368.7,529.7 370.6,519.7 372.5,517.4 374.4,525.0 376.3,536.3 378.2,521.6 380.1,526.5 382.0,530.5 383.8,516.7 385.7,534.2 387.6,529.0 389.5,528.3 391.4,531.2 393.3,526.3 395.2,535.9 397.1,535.7 399.0,527.3 400.8,524.0 400.8,580.7 399.0,582.1 397.1,585.9 395.2,578.2 393.3,569.4 391.4,573.8 389.5,569.8 387.6,576.5 385.7,577.0 383.8,563.2 382.0,576.5 380.1,573.5 378.2,573.0 376.3,581.2 374.4,572.4 372.5,562.7 370.6,568.5 368.7,576.8 366.8,568.0 365.0,578.8 363.1,569.5 361.2,567.1 359.3,570.6 357.4,569.6 355.5,575.0 353.6,585.0 351.7,575.3 349.8,578.3 348.0,580.0 346.1,577.5 344.2,571.6 342.3,590.8 340.4,575.5 338.5,576.0 336.6,575.6 334.7,594.7 332.8,571.1 331.0,569.3 329.1,576.8 327.2,578.3 325.3,573.9 323.4,577.8 321.5,581.8 319.6,593.2 317.7,582.0 315.9,581.1 314.0,593.3 312.1,597.9 310.2,605.8 308.3,592.9 306.4,599.4 304.5,582.6 302.6,573.8 300.7,553.4 298.9,562.7 297.0,558.8 295.1,547.2 293.2,554.2 291.3,555.8 289.4,549.8 287.5,567.2 285.6,558.4 283.7,550.6 281.9,563.0 280.0,566.8 278.1,571.7 276.2,574.4 274.3,582.4 272.4,579.4 270.5,580.2 268.6,573.3 266.7,605.4 264.9,602.4 263.0,616.0 261.1,624.0 259.2,607.1 257.3,581.6 255.4,579.2 253.5,567.9 251.6,572.5 249.7,576.7 247.9,583.1 246.0,561.4 244.1,566.5 242.2,549.2 240.3,556.8 238.4,558.2 236.5,568.7 234.6,558.3 232.7,558.6 230.9,558.4 229.0,560.3 227.1,550.4 225.2,563.5 223.3,563.2 221.4,561.5 219.5,559.7 217.6,560.1 215.7,545.1 213.9,549.8 212.0,562.0 210.1,552.9 208.2,561.0 206.3,565.0 204.4,558.5 202.5,544.8 200.6,550.7 198.8,560.0 196.9,563.7 195.0,550.3 193.1,558.2 191.2,542.3 189.3,555.3 187.4,552.9 185.5,566.2 183.6,569.6 181.8,554.7 179.9,546.8 178.0,559.0 176.1,558.1 174.2,557.1 172.3,558.2 170.4,556.0 168.5,561.1 166.6,546.4 164.8,564.1 162.9,562.4 161.0,566.7 159.1,566.4 157.2,556.1 155.3,558.1 153.4,544.3 151.5,571.5 149.6,609.9 147.8,624.4 145.9,558.9 144.0,559.4 142.1,555.1 140.2,546.8 138.3,548.9 136.4,542.8 134.5,551.8 132.6,561.0 130.8,552.0 128.9,548.8 127.0,549.9 125.1,529.1 123.2,553.3 121.3,541.6 119.4,543.1 117.5,537.0 115.6,537.1 113.8,552.7 111.9,548.2 110.0,540.9 108.1,525.2 106.2,533.2 104.3,541.2 102.4,534.5 100.5,544.4 98.6,530.1 96.8,537.4 94.9,551.2 93.0,535.7 91.1,531.3 89.2,518.1 87.3,520.0 85.4,519.9 83.5,523.3 81.7,524.2 79.8,509.1 77.9,514.2 76.0,508.6 74.1,513.7 72.2,527.2 70.3,526.6 68.4,531.4 66.5,531.0 64.7,542.1 62.8,537.0 60.9,525.6 59.0,528.8 57.1,541.6 55.2,543.5 53.3,532.6 51.4,533.7 49.5,532.3 47.7,555.8 45.8,543.8 43.9,520.7 42.0,553.0 40.1,540.2" fill="#c8c8c8"/>
<path d="M40.1,506.5V540.2M38.5,506.5h3.2M38.5,540.2h3.2" stroke="#8a8a8a" stroke-width="0.6" fill="none"/>
<path d="M42.0,517.8V553.0M40.4,517.8h3.2M40.4,553.0h3.2" stroke="#8a8a8a" stroke-width="0.6" fill="none"/>
<path d="M43.9,489.2V520.7M42.3,489.2h3.2M42.3,520.7h3.2" stroke="#8a8a8a" stroke-width="0.6" fill="none"/>
<path d="M45.8,516.0V543.8M44.2,516.0h3.2M44.2,543.8h3.2" stroke="#8a8a8a" stroke-width="0.6" fill="none"/>
<path d="M47.7,525.0V555.8M46.1,525.0h3.2M46.1,555.8h3.2" stroke="#8a8a8a" stroke-width="0.6" fill="none"/>
<path d="M49.5,503.8V532.3M47.9,503.8h3.2M47.9,532.3h3.2" stroke="#8a8a8a" stroke-width="0.6" fill="none"/>
<path d="M51.4,496.9V533.7M49.8,496.9h3.2M49.8,533.7h3.2" stroke="#8a8a8a" stroke-width="0.6" fill="none"/>
<path d="M53.3,505.0V532.6M51.7,505.0h3.2M51.7,532.6h3.2" stroke="#8a8a8a" stroke-width="0.6" fill="none"/>
<path d="M55.2,508.2V543.5M53.6,508.2h3.2M53.6,543.5h3.2" stroke="#8a8a8a" stroke-width="0.6" fill="none"/>
<path d="M57.1,513.3V541.6M55.5,513.3h3.2M55.5,541.6h3.2" stroke="#8a8a8a" stroke-width="0.6" fill="none"/>
<path d="M59.0,500.5V528.8M57.4,500.5h3.2M57.4,528.8h3.2" stroke="#8a8a8a" stroke-width="0.6" fill="none"/>
<path d="M60.9,491.5V525.6M59.3,491.5h3.2M59.3,525.6h3.2" stroke="#8a8a8a" stroke-width="0.6" fill="none"/>
<path d="M62.8,495.7V537.0M61.2,495.7h3.2M61.2,537.0h3.2" stroke="#8a8a8a" stroke-width="0.6" fill="none"/>
<path d="M64.7,511.7V542.1M63.1,511.7h3.2M63.1,542.1h3.2" stroke="#8a8a8a" stroke-width="0.6" fill="none"/>
<path d="M66.5,503.0V531.0M64.9,503.0h3.2M64.9,531.0h3.2" stroke="#8a8a8a" stroke-width="0.6" fill="none"/>
<path d="M68.4,498.9V531.4M66.8,498.9h3.2M66.8,531.4h3.2" stroke="#8a8a8a" stroke-width="0.6" fill="none"/>
<path d="M70.3,500.0V526.6M68.7,500.0h3.2M68.7,526.6h3.2" stroke="#8a8a8a" stroke-width="0.6" fill="none"/>
<path d="M72.2,495.6V527.2M70.6,495.6h3.2M70.6,527.2h3.2" stroke="#8a8a8a" stroke-width="0.6" fill="none"/>
<path d="M74.1,483.1V513.7M72.5,483.1h3.2M72.5,513.7h3.2" stroke="#8a8a8a" stroke-width="0.6" fill="none"/>
<path d="M76.0,482.9V508.6M74.4,482.9h3.2M74.4,508.6h3.2" stroke="#8a8a8a" stroke-width="0.6" fill="none"/>
<path d="M77.9,471.3V514.2M76.3,471.3h3.2M76.3,514.2h3.2" stroke="#8a8a8a" stroke-width="0.6" fill="none"/>
<path d="M79.8,475.5V509.1M78.2,475.5h3.2M78.2,509.1h3.2" stroke="#8a8a8a" stroke-width="0.6" fill="none"/>
<path d="M81.7,495.0V524.2M80.1,495.0h3.2M80.1,524.2h3.2" stroke="#8a8a8a" stroke-width="0.6" fill="none"/>
<path d="M83.5,488.8V523.3M81.9,488.8h3.2M81.9,523.3h3.2" stroke="#8a8a8a" stroke-width="0.6" fill="none"/>
<path d="M85.4,487.5V519.9M83.8,487.5h3.2M83.8,519.9h3.2" stroke="#8a8a8a" stroke-width="0.6" fill="none"/>
<path d="M87.3,484.9V520.0M85.7,484.9h3.2M85.7,520.0h3.2" stroke="#8a8a8a" stroke-width="0.6" fill="none"/>
<path d="M89.2,485.3V518.1M87.6,485.3h3.2M87.6,518.1h3.2" stroke="#8a8a8a" stroke-width="0.6" fill="none"/>
<path d="M91.1,491.4V531.3M89.5,491.4h3.2M89.5,531.3h3.2" stroke="#8a8a8a" stroke-width="0.6" fill="none"/>
<path d="M93.0,501.0V535.7M91.4,501.0h3.2M91.4,535.7h3.2" stroke="#8a8a8a" stroke-width="0.6" fill="none"/>
<path d="M94.9,511.6V551.2M93.3,511.6h3.2M93.3,551.2h3.2" stroke="#8a8a8a" stroke-width="0.6" fill="none"/>
<path d="M96.8,510.5V537.4M95.2,510.5h3.2M95.2,537.4h3.2" stroke="#8a8a8a" stroke-width="0.6" fill="none"/>
<path d="M98.6,501.8V530.1M97.0,501.8h3.2M97.0,530.1h3.2" stroke="#8a8a8a" stroke-width="0.6" fill="none"/>
<path d="M100.5,501.9V544.4M98.9,501.9h3.2M98.9,544.4h3.2" stroke="#8a8a8a" stroke-width="0.6" fill="none"/>
<path d="M102.4,502.8V534.5M100.8,502.8h3.2M100.8,534.5h3.2" stroke="#8a8a8a" stroke-width="0.6" fill="none"/>
<path d="M104.3,507.7V541.2M102.7,507.7h3.2M102.7,541.2h3.2" stroke="#8a8a8a" stroke-width="0.6" fill="none"/>
<path d="M106.2,501.9V533.2M104.6,501.9h3.2M104.6,533.2h3.2" stroke="#8a8a8a" stroke-width="0.6" fill="none"/>
<path d="M108.1,491.5V525.2M106.5,491.5h3.2M106.5,525.2h3.2" stroke="#8a8a8a" stroke-width="0.6" fill="none"/>
<path d="M110.0,513.0V540.9M108.4,513.0h3.2M108.4,540.9h3.2" stroke="#8a8a8a" stroke-width="0.6" fill="none"/>
<path d="M111.9,505.0V548.2M110.3,505.0h3.2M110.3,548.2h3.2" stroke="#8a8a8a" stroke-width="0.6" fill="none"/>
<path d="M113.8,520.8V552.7M112.2,520.8h3.2M112.2,552.7h3.2" stroke="#8a8a8a" stroke-width="0.6" fill="none"/>
<path d="M115.6,502.8V537.1M114.0,502.8h3.2M114.0,537.1h3.2" stroke="#8a8a8a" stroke-width="0.6" fill="none"/>
<path d="M117.5,501.8V537.0M115.9,501.8h3.2M115.9,537.0h3.2" stroke="#8a8a8a" stroke-width="0.6" fill="none"/>
<path d="M119.4,510.7V543.1M117.8,510.7h3.2M117.8,543.1h3.2" stroke="#8a8a8a" stroke-width="0.6" fill="none"/>
<path d="M121.3,512.1V541.6M119.7,512.1h3.2M119.7,541.6h3.2" stroke="#8a8a8a" stroke-width="0.6" fill="none"/>
<path d="M123.2,517.7V553.3M121.6,517.7h3.2M121.6,553.3h3.2" stroke="#8a8a8a" stroke-width="0.6" fill="none"/>
<path d="M125.1,495.6V529.1M123.5,495.6h3.2M123.5,529.1h3.2" stroke="#8a8a8a" stroke-width="0.6" fill="none"/>
<path d="M127.0,522.5V549.9M125.4,522.5h3.2M125.4,549.9h3.2" stroke="#8a8a8a" stroke-width="0.6" fill="none"/>
<path d="M128.9,513.5V548.8M127.3,513.5h3.2M127.3,548.8h3.2" stroke="#8a8a8a" stroke-width="0.6" fill="none"/>
<path d="M130.8,519.1V552.0M129.2,519.1h3.2M129.2,552.0h3.2" stroke="#8a8a8a" stroke-width="0.6" fill="none"/>
<path d="M132.6,525.4V561.0M131.0,525.4h3.2M131.0,561.0h3.2" stroke="#8a8a8a" stroke-width="0.6" fill="none"/>
<path d="M134.5,519.9V551.8M132.9,519.9h3.2M132.9,551.8h3.2" stroke="#8a8a8a" stroke-width="0.6" fill="none"/>
<path d="M136.4,510.7V542.8M134.8,510.7h3.2M134.8,542.8h3.2" stroke="#8a8a8a" stroke-width="0.6" fill="none"/>
<path d="M138.3,508.2V548.9M136.7,508.2h3.2M136.7,548.9h3.2" stroke="#8a8a8a" stroke-width="0.6" fill="none"/>
<path d="M140.2,515.0V546.8M138.6,515.0h3.2M138.6,546.8h3.2" stroke="#8a8a8a" stroke-width="0.6" fill="none"/>
<path d="M142.1,514.5V555.1M140.5,514.5h3.2M140.5,555.1h3.2" stroke="#8a8a8a" stroke-width="0.6" fill="none"/>
<path d="M144.0,522.7V559.4M142.4,522.7h3.2M142.4,559.4h3.2" stroke="#8a8a8a" stroke-width="0.6" fill="none"/>
<path d="M145.9,527.4V558.9M144.3,527.4h3.2M144.3,558.9h3.2" stroke="#8a8a8a" stroke-width="0.6" fill="none"/>
<path d="M147.8,557.8V624.4M146.2,557.8h3.2M146.2,624.4h3.2" stroke="#8a8a8a" stroke-width="0.6" fill="none"/>
<path d="M149.6,555.1V609.9M148.0,555.1h3.2M148.0,609.9h3.2" stroke="#8a8a8a" stroke-width="0.6" fill="none"/>
<path d="M151.5,539.8V571.5M149.9,539.8h3.2M149.9,571.5h3.2" stroke="#8a8a8a" stroke-width="0.6" fill="none"/>
<path d="M153.4,506.1V544.3M151.8,506.1h3.2M151.8,544.3h3.2" stroke="#8a8a8a" stroke-width="0.6" fill="none"/>
<path d="M155.3,524.0V558.1M153.7,524.0h3.2M153.7,558.1h3.2" stroke="#8a8a8a" stroke-width="0.6" fill="none"/>
<path d="M157.2,527.3V556.1M155.6,527.3h3.2M155.6,556.1h3.2" stroke="#8a8a8a" stroke-width="0.6" fill="none"/>
<path d="M159.1,535.1V566.4M157.5,535.1h3.2M157.5,566.4h3.2" stroke="#8a8a8a" stroke-width="0.6" fill="none"/>
<path d="M161.0,528.7V566.7M159.4,528.7h3.2M159.4,566.7h3.2" stroke="#8a8a8a" stroke-width="0.6" fill="none"/>
<path d="M162.9,532.1V562.4M161.3,532.1h3.2M161.3,562.4h3.2" stroke="#8a8a8a" stroke-width="0.6" fill="none"/>
<path d="M164.8,533.3V564.1M163.2,533.3h3.2M163.2,564.1h3.2" stroke="#8a8a8a" stroke-width="0.6" fill="none"/>
<path d="M166.6,517.8V546.4M165.0,517.8h3.2M165.0,546.4h3.2" stroke="#8a8a8a" stroke-width="0.6" fill="none"/>
<path d="M168.5,531.5V561.1M166.9,531.5h3.2M166.9,561.1h3.2" stroke="#8a8a8a" stroke-width="0.6" fill="none"/>
<path d="M170.4,525.4V556.0M168.8,525.4h3.2M168.8,556.0h3.2" stroke="#8a8a8a" stroke-width="0.6" fill="none"/>
<path d="M172.3,526.0V558.2M170.7,526.0h3.2M170.7,558.2h3.2" stroke="#8a8a8a" stroke-width="0.6" fill="none"/>
<path d="M174.2,521.0V557.1M172.6,521.0h3.2M172.6,557.1h3.2" stroke="#8a8a8a" stroke-width="0.6" fill="none"/>
<path d="M176.1,515.0V558.1M174.5,515.0h3.2M174.5,558.1h3.2" stroke="#8a8a8a" stroke-width="0.6" fill="none"/>
<path d="M178.0,526.9V559.0M176.4,526.9h3.2M176.4,559.0h3.2" stroke="#8a8a8a" stroke-width="0.6" fill="none"/>
<path d="M179.9,512.4V546.8M178.3,512.4h3.2M178.3,546.8h3.2" stroke="#8a8a8a" stroke-width="0.6" fill="none"/>
<path d="M181.8,524.9V554.7M180.2,524.9h3.2M180.2,554.7h3.2" stroke="#8a8a8a" stroke-width="0.6" fill="none"/>
<path d="M183.6,531.9V569.6M182.0,531.9h3.2M182.0,569.6h3.2" stroke="#8a8a8a" stroke-width="0.6" fill="none"/>
<path d="M185.5,533.0V566.2M183.9,533.0h3.2M183.9,566.2h3.2" stroke="#8a8a8a" stroke-width="0.6" fill="none"/>
<path d="M187.4,517.3V552.9M185.8,517.3h3.2M185.8,552.9h3.2" stroke="#8a8a8a" stroke-width="0.6" fill="none"/>
<path d="M189.3,519.6V555.3M187.7,519.6h3.2M187.7,555.3h3.2" stroke="#8a8a8a" stroke-width="0.6" fill="none"/>
<path d="M191.2,508.7V542.3M189.6,508.7h3.2M189.6,542.3h3.2" stroke="#8a8a8a" stroke-width="0.6" fill="none"/>
<path d="M193.1,531.3V558.2M191.5,531.3h3.2M191.5,558.2h3.2" stroke="#8a8a8a" stroke-width="0.6" fill="none"/>
<path d="M195.0,517.4V550.3M193.4,517.4h3.2M193.4,550.3h3.2" stroke="#8a8a8a" stroke-width="0.6" fill="none"/>
<path d="M196.9,522.3V563.7M195.3,522.3h3.2M195.3,563.7h3.2" stroke="#8a8a8a" stroke-width="0.6" fill="none"/>
<path d="M198.8,528.7V560.0M197.2,528.7h3.2M197.2,560.0h3.2" stroke="#8a8a8a" stroke-width="0.6" fill="none"/>
<path d="M200.6,518.0V550.7M199.0,518.0h3.2M199.0,550.7h3.2" stroke="#8a8a8a" stroke-width="0.6" fill="none"/>
<path d="M202.5,512.4V544.8M200.9,512.4h3.2M200.9,544.8h3.2" stroke="#8a8a8a" stroke-width="0.6" fill="none"/>
<path d="M204.4,524.8V558.5M202.8,524.8h3.2M202.8,558.5h3.2" stroke="#8a8a8a" stroke-width="0.6" fill="none"/>
<path d="M206.3,530.9V565.0M204.7,530.9h3.2M204.7,565.0h3.2" stroke="#8a8a8a" stroke-width="0.6" fill="none"/>
<path d="M208.2,528.1V561.0M206.6,528.1h3.2M206.6,561.0h3.2" stroke="#8a8a8a" stroke-width="0.6" fill="none"/>
<path d="M210.1,517.5V552.9M208.5,517.5h3.2M208.5,552.9h3.2" stroke="#8a8a8a" stroke-width="0.6" fill="none"/>
<path d="M212.0,525.3V562.0M210.4,525.3h3.2M210.4,562.0h3.2" stroke="#8a8a8a" stroke-width="0.6" fill="none"/>
<path d="M213.9,521.1V549.8M212.3,521.1h3.2M212.3,549.8h3.2" stroke="#8a8a8a" stroke-width="0.6" fill="none"/>
<path d="M215.7,514.4V545.1M214.1,514.4h3.2M214.1,545.1h3.2" stroke="#8a8a8a" stroke-width="0.6" fill="none"/>
<path d="M217.6,526.6V560.1M216.0,526.6h3.2M216.0,560.1h3.2" stroke="#8a8a8a" stroke-width="0.6" fill="none"/>
<path d="M219.5,525.0V559.7M217.9,525.0h3.2M217.9,559.7h3.2" stroke="#8a8a8a" stroke-width="0.6" fill="none"/>
<path d="M221.4,528.8V561.5M219.8,528.8h3.2M219.8,561.5h3.2" stroke="#8a8a8a" stroke-width="0.6" fill="none"/>
<path d="M223.3,532.6V563.2M221.7,532.6h3.2M221.7,563.2h3.2" stroke="#8a8a8a" stroke-width="0.6" fill="none"/>
<path d="M225.2,534.3V563.5M223.6,534.3h3.2M223.6,563.5h3.2" stroke="#8a8a8a" stroke-width="0.6" fill="none"/>
<path d="M227.1,517.8V550.4M225.5,517.8h3.2M225.5,550.4h3.2" stroke="#8a8a8a" stroke-width="0.6" fill="none"/>
<path d="M229.0,523.0V560.3M227.4,523.0h3.2M227.4,560.3h3.2" stroke="#8a8a8a" stroke-width="0.6" fill="none"/>
<path d="M230.9,517.2V558.4M229.3,517.2h3.2M229.3,558.4h3.2" stroke="#8a8a8a" stroke-width="0.6" fill="none"/>
<path d="M232.7,519.8V558.6M231.1,519.8h3.2M231.1,558.6h3.2" stroke="#8a8a8a" stroke-width="0.6" fill="none"/>
<path d="M234.6,522.7V558.3M233.0,522.7h3.2M233.0,558.3h3.2" stroke="#8a8a8a" stroke-width="0.6" fill="none"/>
<path d="M236.5,524.8V568.7M234.9,524.8h3.2M234.9,568.7h3.2" stroke="#8a8a8a" stroke-width="0.6" fill="none"/>
<path d="M238.4,524.5V558.2M236.8,524.5h3.2M236.8,558.2h3.2" stroke="#8a8a8a" stroke-width="0.6" fill="none"/>
<path d="M240.3,524.8V556.8M238.7,524.8h3.2M238.7,556.8h3.2" stroke="#8a8a8a" stroke-width="0.6" fill="none"/>
<path d="M242.2,509.5V549.2M240.6,509.5h3.2M240.6,549.2h3.2" stroke="#8a8a8a" stroke-width="0.6" fill="none"/>
<path d="M244.1,532.6V566.5M242.5,532.6h3.2M242.5,566.5h3.2" stroke="#8a8a8a" stroke-width="0.6" fill="none"/>
<path d="M246.0,530.9V561.4M244.4,530.9h3.2M244.4,561.4h3.2" stroke="#8a8a8a" stroke-width="0.6" fill="none"/>
<path d="M247.9,553.8V583.1M246.3,553.8h3.2M246.3,583.1h3.2" stroke="#8a8a8a" stroke-width="0.6" fill="none"/>
<path d="M249.7,543.3V576.7M248.1,543.3h3.2M248.1,576.7h3.2" stroke="#8a8a8a" stroke-width="0.6" fill="none"/>
<path d="M251.6,545.2V572.5M250.0,545.2h3.2M250.0,572.5h3.2" stroke="#8a8a8a" stroke-width="0.6" fill="none"/>
<path d="M253.5,535.1V567.9M251.9,535.1h3.2M251.9,567.9h3.2" stroke="#8a8a8a" stroke-width="0.6" fill="none"/>
<path d="M255.4,537.7V579.2M253.8,537.7h3.2M253.8,579.2h3.2" stroke="#8a8a8a" stroke-width="0.6" fill="none"/>
<path d="M257.3,555.4V581.6M255.7,555.4h3.2M255.7,581.6h3.2" stroke="#8a8a8a" stroke-width="0.6" fill="none"/>
<path d="M259.2,545.1V607.1M257.6,545.1h3.2M257.6,607.1h3.2" stroke="#8a8a8a" stroke-width="0.6" fill="none"/>
<path d="M261.1,568.9V624.0M259.5,568.9h3.2M259.5,624.0h3.2" stroke="#8a8a8a" stroke-width="0.6" fill="none"/>
<path d="M263.0,548.4V616.0M261.4,548.4h3.2M261.4,616.0h3.2" stroke="#8a8a8a" stroke-width="0.6" fill="none"/>
<path d="M264.9,546.2V602.4M263.3,546.2h3.2M263.3,602.4h3.2" stroke="#8a8a8a" stroke-width="0.6" fill="none"/>
<path d="M266.7,548.8V605.4M265.1,548.8h3.2M265.1,605.4h3.2" stroke="#8a8a8a" stroke-width="0.6" fill="none"/>
<path d="M268.6,546.5V573.3M267.0,546.5h3.2M267.0,573.3h3.2" stroke="#8a8a8a" stroke-width="0.6" fill="none"/>
<path d="M270.5,549.9V580.2M268.9,549.9h3.2M268.9,580.2h3.2" stroke="#8a8a8a" stroke-width="0.6" fill="none"/>
<path d="M272.4,525.8V579.4M270.8,525.8h3.2M270.8,579.4h3.2" stroke="#8a8a8a" stroke-width="0.6" fill="none"/>
<path d="M274.3,527.0V582.4M272.7,527.0h3.2M272.7,582.4h3.2" stroke="#8a8a8a" stroke-width="0.6" fill="none"/>
<path d="M276.2,516.4V574.4M274.6,516.4h3.2M274.6,574.4h3.2" stroke="#8a8a8a" stroke-width="0.6" fill="none"/>
<path d="M278.1,508.0V571.7M276.5,508.0h3.2M276.5,571.7h3.2" stroke="#8a8a8a" stroke-width="0.6" fill="none"/>
<path d="M280.0,509.8V566.8M278.4,509.8h3.2M278.4,566.8h3.2" stroke="#8a8a8a" stroke-width="0.6" fill="none"/>
<path d="M281.9,508.2V563.0M280.3,508.2h3.2M280.3,563.0h3.2" stroke="#8a8a8a" stroke-width="0.6" fill="none"/>
<path d="M283.7,499.7V550.6M282.1,499.7h3.2M282.1,550.6h3.2" stroke="#8a8a8a" stroke-width="0.6" fill="none"/>
<path d="M285.6,505.2V558.4M284.0,505.2h3.2M284.0,558.4h3.2" stroke="#8a8a8a" stroke-width="0.6" fill="none"/>
<path d="M287.5,511.4V567.2M285.9,511.4h3.2M285.9,567.2h3.2" stroke="#8a8a8a" stroke-width="0.6" fill="none"/>
<path d="M289.4,496.0V549.8M287.8,496.0h3.2M287.8,549.8h3.2" stroke="#8a8a8a" stroke-width="0.6" fill="none"/>
<path d="M291.3,502.9V555.8M289.7,502.9h3.2M289.7,555.8h3.2" stroke="#8a8a8a" stroke-width="0.6" fill="none"/>
<path d="M293.2,498.6V554.2M291.6,498.6h3.2M291.6,554.2h3.2" stroke="#8a8a8a" stroke-width="0.6" fill="none"/>
<path d="M295.1,489.5V547.2M293.5,489.5h3.2M293.5,547.2h3.2" stroke="#8a8a8a" stroke-width="0.6" fill="none"/>
<path d="M297.0,503.7V558.8M295.4,503.7h3.2M295.4,558.8h3.2" stroke="#8a8a8a" stroke-width="0.6" fill="none"/>
<path d="M298.9,512.5V562.7M297.3,512.5h3.2M297.3,562.7h3.2" stroke="#8a8a8a" stroke-width="0.6" fill="none"/>
<path d="M300.7,503.3V553.4M299.1,503.3h3.2M299.1,553.4h3.2" stroke="#8a8a8a" stroke-width="0.6" fill="none"/>
<path d="M302.6,519.6V573.8M301.0,519.6h3.2M301.0,573.8h3.2" stroke="#8a8a8a" stroke-width="0.6" fill="none"/>
<path d="M304.5,526.9V582.6M302.9,526.9h3.2M302.9,582.6h3.2" stroke="#8a8a8a" stroke-width="0.6" fill="none"/>
<path d="M306.4,543.5V599.4M304.8,543.5h3.2M304.8,599.4h3.2" stroke="#8a8a8a" stroke-width="0.6" fill="none"/>
<path d="M308.3,532.2V592.9M306.7,532.2h3.2M306.7,592.9h3.2" stroke="#8a8a8a" stroke-width="0.6" fill="none"/>
<path d="M310.2,545.5V605.8M308.6,545.5h3.2M308.6,605.8h3.2" stroke="#8a8a8a" stroke-width="0.6" fill="none"/>
<path d="M312.1,541.6V597.9M310.5,541.6h3.2M310.5,597.9h3.2" stroke="#8a8a8a" stroke-width="0.6" fill="none"/>
<path d="M314.0,539.3V593.3M312.4,539.3h3.2M312.4,593.3h3.2" stroke="#8a8a8a" stroke-width="0.6" fill="none"/>
<path d="M315.9,535.8V581.1M314.3,535.8h3.2M314.3,581.1h3.2" stroke="#8a8a8a" stroke-width="0.6" fill="none"/>
<path d="M317.7,542.0V582.0M316.1,542.0h3.2M316.1,582.0h3.2" stroke="#8a8a8a" stroke-width="0.6" fill="none"/>
<path d="M319.6,547.7V593.2M318.0,547.7h3.2M318.0,593.2h3.2" stroke="#8a8a8a" stroke-width="0.6" fill="none"/>
<path d="M321.5,539.0V581.8M319.9,539.0h3.2M319.9,581.8h3.2" stroke="#8a8a8a" stroke-width="0.6" fill="none"/>
<path d="M323.4,532.1V577.8M321.8,532.1h3.2M321.8,577.8h3.2" stroke="#8a8a8a" stroke-width="0.6" fill="none"/>
<path d="M325.3,530.0V573.9M323.7,530.0h3.2M323.7,573.9h3.2" stroke="#8a8a8a" stroke-width="0.6" fill="none"/>
<path d="M327.2,532.0V578.3M325.6,532.0h3.2M325.6,578.3h3.2" stroke="#8a8a8a" stroke-width="0.6" fill="none"/>
<path d="M329.1,531.2V576.8M327.5,531.2h3.2M327.5,576.8h3.2" stroke="#8a8a8a" stroke-width="0.6" fill="none"/>
<path d="M331.0,519.7V569.3M329.4,519.7h3.2M329.4,569.3h3.2" stroke="#8a8a8a" stroke-width="0.6" fill="none"/>
<path d="M332.8,522.0V571.1M331.2,522.0h3.2M331.2,571.1h3.2" stroke="#8a8a8a" stroke-width="0.6" fill="none"/>
<path d="M334.7,547.6V594.7M333.1,547.6h3.2M333.1,594.7h3.2" stroke="#8a8a8a" stroke-width="0.6" fill="none"/>
<path d="M336.6,527.2V575.6M335.0,527.2h3.2M335.0,575.6h3.2" stroke="#8a8a8a" stroke-width="0.6" fill="none"/>
<path d="M338.5,532.5V576.0M336.9,532.5h3.2M336.9,576.0h3.2" stroke="#8a8a8a" stroke-width="0.6" fill="none"/>
<path d="M340.4,533.6V575.5M338.8,533.6h3.2M338.8,575.5h3.2" stroke="#8a8a8a" stroke-width="0.6" fill="none"/>
<path d="M342.3,539.7V590.8M340.7,539.7h3.2M340.7,590.8h3.2" stroke="#8a8a8a" stroke-width="0.6" fill="none"/>
<path d="M344.2,526.5V571.6M342.6,526.5h3.2M342.6,571.6h3.2" stroke="#8a8a8a" stroke-width="0.6" fill="none"/>
<path d="M346.1,527.1V577.5M344.5,527.1h3.2M344.5,577.5h3.2" stroke="#8a8a8a" stroke-width="0.6" fill="none"/>
<path d="M348.0,524.6V580.0M346.4,524.6h3.2M346.4,580.0h3.2" stroke="#8a8a8a" stroke-width="0.6" fill="none"/>
<path d="M349.8,533.3V578.3M348.2,533.3h3.2M348.2,578.3h3.2" stroke="#8a8a8a" stroke-width="0.6" fill="none"/>
<path d="M351.7,523.6V575.3M350.1,523.6h3.2M350.1,575.3h3.2" stroke="#8a8a8a" stroke-width="0.6" fill="none"/>
<path d="M353.6,531.4V585.0M352.0,531.4h3.2M352.0,585.0h3.2" stroke="#8a8a8a" stroke-width="0.6" fill="none"/>
<path d="M355.5,529.5V575.0M353.9,529.5h3.2M353.9,575.0h3.2" stroke="#8a8a8a" stroke-width="0.6" fill="none"/>
<path d="M357.4,524.4V569.6M355.8,524.4h3.2M355.8,569.6h3.2" stroke="#8a8a8a" stroke-width="0.6" fill="none"/>
<path d="M359.3,528.4V570.6M357.7,528.4h3.2M357.7,570.6h3.2" stroke="#8a8a8a" stroke-width="0.6" fill="none"/>
<path d="M361.2,524.2V567.1M359.6,524.2h3.2M359.6,567.1h3.2" stroke="#8a8a8a" stroke-width="0.6" fill="none"/>
<path d="M363.1,524.9V569.5M361.5,524.9h3.2M361.5,569.5h3.2" stroke="#8a8a8a" stroke-width="0.6" fill="none"/>
<path d="M365.0,525.7V578.8M363.4,525.7h3.2M363.4,578.8h3.2" stroke="#8a8a8a" stroke-width="0.6" fill="none"/>
<path d="M366.8,520.5V568.0M365.2,520.5h3.2M365.2,568.0h3.2" stroke="#8a8a8a" stroke-width="0.6" fill="none"/>
<path d="M368.7,529.7V576.8M367.1,529.7h3.2M367.1,576.8h3.2" stroke="#8a8a8a" stroke-width="0.6" fill="none"/>
<path d="M370.6,519.7V568.5M369.0,519.7h3.2M369.0,568.5h3.2" stroke="#8a8a8a" stroke-width="0.6" fill="none"/>
<path d="M372.5,517.4V562.7M370.9,517.4h3.2M370.9,562.7h3.2" stroke="#8a8a8a" stroke-width="0.6" fill="none"/>
<path d="M374.4,525.0V572.4M372.8,525.0h3.2M372.8,572.4h3.2" stroke="#8a8a8a" stroke-width="0.6" fill="none"/>
<path d="M376.3,536.3V581.2M374.7,536.3h3.2M374.7,581.2h3.2" stroke="#8a8a8a" stroke-width="0.6" fill="none"/>
<path d="M378.2,521.6V573.0M376.6,521.6h3.2M376.6,573.0h3.2" stroke="#8a8a8a" stroke-width="0.6" fill="none"/>
<path d="M380.1,526.5V573.5M378.5,526.5h3.2M378.5,573.5h3.2" stroke="#8a8a8a" stroke-width="0.6" fill="none"/>
<path d="M382.0,530.5V576.5M380.4,530.5h3.2M380.4,576.5h3.2" stroke="#8a8a8a" stroke-width="0.6" fill="none"/>
<path d="M383.8,516.7V563.2M382.2,516.7h3.2M382.2,563.2h3.2" stroke="#8a8a8a" stroke-width="0.6" fill="none"/>
<path d="M385.7,534.2V577.0M384.1,534.2h3.2M384.1,577.0h3.2" stroke="#8a8a8a" stroke-width="0.6" fill="none"/>
<path d="M387.6,529.0V576.5M386.0,529.0h3.2M386.0,576.5h3.2" stroke="#8a8a8a" stroke-width="0.6" fill="none"/>
<path d="M389.5,528.3V569.8M387.9,528.3h3.2M387.9,569.8h3.2" stroke="#8a8a8a" stroke-width="0.6" fill="none"/>
<path d="M391.4,531.2V573.8M389.8,531.2h3.2M389.8,573.8h3.2" stroke="#8a8a8a" stroke-width="0.6" fill="none"/>
<path d="M393.3,526.3V569.4M391.7,526.3h3.2M391.7,569.4h3.2" stroke="#8a8a8a" stroke-width="0.6" fill="none"/>
<path d="M395.2,535.9V578.2M393.6,535.9h3.2M393.6,578.2h3.2" stroke="#8a8a8a" stroke-width="0.6" fill="none"/>
<path d="M397.1,535.7V585.9M395.5,535.7h3.2M395.5,585.9h3.2" stroke="#8a8a8a" stroke-width="0.6" fill="none"/>
<path d="M399.0,527.3V582.1M397.4,527.3h3.2M397.4,582.1h3.2" stroke="#8a8a8a" stroke-width="0.6" fill="none"/>
<path d="M400.8,524.0V580.7M399.2,524.0h3.2M399.2,580.7h3.2" stroke="#8a8a8a" stroke-width="0.6" fill="none"/>
<text x="343.5" y="550.5" font-size="10.5" fill="#222">0 Ca</text>
<polyline points="40.1,525.0 42.0,530.8 43.9,502.6 45.8,530.4 47.7,538.0 49.5,519.9 51.4,521.2 53.3,518.0 55.2,522.4 57.1,526.4 59.0,513.9 60.9,511.8 62.8,520.6 64.7,527.6 66.5,517.8 68.4,513.5 70.3,512.4 72.2,510.4 74.1,501.1 76.0,496.3 77.9,494.2 79.8,492.6 81.7,507.3 83.5,504.1 85.4,505.4 87.3,506.6 89.2,503.3 91.1,516.6 93.0,515.9 94.9,530.5 96.8,524.1 98.6,516.8 100.5,531.5 102.4,521.8 104.3,522.1 106.2,519.7 108.1,507.9 110.0,526.7 111.9,530.7 113.8,537.6 115.6,523.6 117.5,524.8 119.4,523.8 121.3,528.9 123.2,531.6 125.1,515.3 127.0,534.7 128.9,527.9 130.8,538.7 132.6,542.4 134.5,538.6 136.4,523.9 138.3,533.3 140.2,534.2 142.1,534.9 144.0,540.9 145.9,546.1 147.8,576.3 149.6,573.5 151.5,558.7 153.4,527.4 155.3,539.3 157.2,542.8 159.1,550.3 161.0,549.9 162.9,549.7 164.8,550.6 166.6,533.3 168.5,546.7 170.4,541.3 172.3,541.8 174.2,541.1 176.1,541.4 178.0,542.3 179.9,533.7 181.8,541.2 183.6,547.7 185.5,549.8 187.4,539.0 189.3,539.9 191.2,526.9 193.1,545.9 195.0,536.3 196.9,544.7 198.8,547.2 200.6,537.7 202.5,529.8 204.4,545.7 206.3,547.7 208.2,543.9 210.1,537.2 212.0,541.7 213.9,536.1 215.7,529.6 217.6,544.2 219.5,544.3 221.4,549.2 223.3,547.3 225.2,549.7 227.1,537.3 229.0,544.8 230.9,543.5 232.7,538.7 234.6,543.6 236.5,546.8 238.4,543.1 240.3,542.2 242.2,533.6 244.1,552.6 246.0,547.9 247.9,567.0 249.7,559.7 251.6,559.3 253.5,549.4 255.4,551.3 257.3,568.1 259.2,571.6 261.1,592.9 263.0,583.6 264.9,572.2 266.7,573.2 268.6,560.4 270.5,566.3 272.4,556.8 274.3,557.4 276.2,551.0 278.1,541.0 280.0,543.6 281.9,541.8 283.7,529.3 285.6,537.1 287.5,539.8 289.4,526.8 291.3,532.9 293.2,529.6 295.1,524.9 297.0,531.3 298.9,539.5 300.7,531.3 302.6,549.8 304.5,558.5 306.4,569.0 308.3,562.5 310.2,572.7 312.1,568.8 314.0,563.8 315.9,555.0 317.7,559.8 319.6,567.6 321.5,559.2 323.4,552.5 325.3,550.0 327.2,554.2 329.1,549.6 331.0,540.0 332.8,542.8 334.7,567.7 336.6,547.0 338.5,553.5 340.4,551.6 342.3,566.1 344.2,548.7 346.1,553.6 348.0,548.5 349.8,555.7 351.7,550.2 353.6,550.1 355.5,552.4 357.4,543.3 359.3,547.8 361.2,543.7 363.1,542.8 365.0,545.2 366.8,541.0 368.7,551.3 370.6,542.9 372.5,538.7 374.4,549.6 376.3,554.6 378.2,541.2 380.1,549.9 382.0,551.8 383.8,539.4 385.7,553.5 387.6,549.1 389.5,546.1 391.4,550.6 393.3,545.8 395.2,556.0 397.1,559.8 399.0,552.3 400.8,549.5" fill="none" stroke="#555" stroke-width="0.6"/>
<circle cx="40.1" cy="525.0" r="1.9" fill="#000" stroke="none" stroke-width="0"/>
<circle cx="42.0" cy="530.8" r="1.9" fill="#000" stroke="none" stroke-width="0"/>
<circle cx="43.9" cy="502.6" r="1.9" fill="#000" stroke="none" stroke-width="0"/>
<circle cx="45.8" cy="530.4" r="1.9" fill="#000" stroke="none" stroke-width="0"/>
<circle cx="47.7" cy="538.0" r="1.9" fill="#000" stroke="none" stroke-width="0"/>
<circle cx="49.5" cy="519.9" r="1.9" fill="#000" stroke="none" stroke-width="0"/>
<circle cx="51.4" cy="521.2" r="1.9" fill="#000" stroke="none" stroke-width="0"/>
<circle cx="53.3" cy="518.0" r="1.9" fill="#000" stroke="none" stroke-width="0"/>
<circle cx="55.2" cy="522.4" r="1.9" fill="#000" stroke="none" stroke-width="0"/>
<circle cx="57.1" cy="526.4" r="1.9" fill="#000" stroke="none" stroke-width="0"/>
<circle cx="59.0" cy="513.9" r="1.9" fill="#000" stroke="none" stroke-width="0"/>
<circle cx="60.9" cy="511.8" r="1.9" fill="#000" stroke="none" stroke-width="0"/>
<circle cx="62.8" cy="520.6" r="1.9" fill="#000" stroke="none" stroke-width="0"/>
<circle cx="64.7" cy="527.6" r="1.9" fill="#000" stroke="none" stroke-width="0"/>
<circle cx="66.5" cy="517.8" r="1.9" fill="#000" stroke="none" stroke-width="0"/>
<circle cx="68.4" cy="513.5" r="1.9" fill="#000" stroke="none" stroke-width="0"/>
<circle cx="70.3" cy="512.4" r="1.9" fill="#000" stroke="none" stroke-width="0"/>
<circle cx="72.2" cy="510.4" r="1.9" fill="#000" stroke="none" stroke-width="0"/>
<circle cx="74.1" cy="501.1" r="1.9" fill="#000" stroke="none" stroke-width="0"/>
<circle cx="76.0" cy="496.3" r="1.9" fill="#000" stroke="none" stroke-width="0"/>
<circle cx="77.9" cy="494.2" r="1.9" fill="#000" stroke="none" stroke-width="0"/>
<circle cx="79.8" cy="492.6" r="1.9" fill="#000" stroke="none" stroke-width="0"/>
<circle cx="81.7" cy="507.3" r="1.9" fill="#000" stroke="none" stroke-width="0"/>
<circle cx="83.5" cy="504.1" r="1.9" fill="#000" stroke="none" stroke-width="0"/>
<circle cx="85.4" cy="505.4" r="1.9" fill="#000" stroke="none" stroke-width="0"/>
<circle cx="87.3" cy="506.6" r="1.9" fill="#000" stroke="none" stroke-width="0"/>
<circle cx="89.2" cy="503.3" r="1.9" fill="#000" stroke="none" stroke-width="0"/>
<circle cx="91.1" cy="516.6" r="1.9" fill="#000" stroke="none" stroke-width="0"/>
<circle cx="93.0" cy="515.9" r="1.9" fill="#000" stroke="none" stroke-width="0"/>
<circle cx="94.9" cy="530.5" r="1.9" fill="#000" stroke="none" stroke-width="0"/>
<circle cx="96.8" cy="524.1" r="1.9" fill="#000" stroke="none" stroke-width="0"/>
<circle cx="98.6" cy="516.8" r="1.9" fill="#000" stroke="none" stroke-width="0"/>
<circle cx="100.5" cy="531.5" r="1.9" fill="#000" stroke="none" stroke-width="0"/>
<circle cx="102.4" cy="521.8" r="1.9" fill="#000" stroke="none" stroke-width="0"/>
<circle cx="104.3" cy="522.1" r="1.9" fill="#000" stroke="none" stroke-width="0"/>
<circle cx="106.2" cy="519.7" r="1.9" fill="#000" stroke="none" stroke-width="0"/>
<circle cx="108.1" cy="507.9" r="1.9" fill="#000" stroke="none" stroke-width="0"/>
<circle cx="110.0" cy="526.7" r="1.9" fill="#000" stroke="none" stroke-width="0"/>
<circle cx="111.9" cy="530.7" r="1.9" fill="#000" stroke="none" stroke-width="0"/>
<circle cx="113.8" cy="537.6" r="1.9" fill="#000" stroke="none" stroke-width="0"/>
<circle cx="115.6" cy="523.6" r="1.9" fill="#000" stroke="none" stroke-width="0"/>
<circle cx="117.5" cy="524.8" r="1.9" fill="#000" stroke="none" stroke-width="0"/>
<circle cx="119.4" cy="523.8" r="1.9" fill="#000" stroke="none" stroke-width="0"/>
<circle cx="121.3" cy="528.9" r="1.9" fill="#000" stroke="none" stroke-width="0"/>
<circle cx="123.2" cy="531.6" r="1.9" fill="#000" stroke="none" stroke-width="0"/>
<circle cx="125.1" cy="515.3" r="1.9" fill="#000" stroke="none" stroke-width="0"/>
<circle cx="127.0" cy="534.7" r="1.9" fill="#000" stroke="none" stroke-width="0"/>
<circle cx="128.9" cy="527.9" r="1.9" fill="#000" stroke="none" stroke-width="0"/>
<circle cx="130.8" cy="538.7" r="1.9" fill="#000" stroke="none" stroke-width="0"/>
<circle cx="132.6" cy="542.4" r="1.9" fill="#000" stroke="none" stroke-width="0"/>
<circle cx="134.5" cy="538.6" r="1.9" fill="#000" stroke="none" stroke-width="0"/>
<circle cx="136.4" cy="523.9" r="1.9" fill="#000" stroke="none" stroke-width="0"/>
<circle cx="138.3" cy="533.3" r="1.9" fill="#000" stroke="none" stroke-width="0"/>
<circle cx="140.2" cy="534.2" r="1.9" fill="#000" stroke="none" stroke-width="0"/>
<circle cx="142.1" cy="534.9" r="1.9" fill="#000" stroke="none" stroke-width="0"/>
<circle cx="144.0" cy="540.9" r="1.9" fill="#000" stroke="none" stroke-width="0"/>
<circle cx="145.9" cy="546.1" r="1.9" fill="#000" stroke="none" stroke-width="0"/>
<circle cx="147.8" cy="576.3" r="1.9" fill="#000" stroke="none" stroke-width="0"/>
<circle cx="149.6" cy="573.5" r="1.9" fill="#000" stroke="none" stroke-width="0"/>
<circle cx="151.5" cy="558.7" r="1.9" fill="#000" stroke="none" stroke-width="0"/>
<circle cx="153.4" cy="527.4" r="1.9" fill="#000" stroke="none" stroke-width="0"/>
<circle cx="155.3" cy="539.3" r="1.9" fill="#000" stroke="none" stroke-width="0"/>
<circle cx="157.2" cy="542.8" r="1.9" fill="#000" stroke="none" stroke-width="0"/>
<circle cx="159.1" cy="550.3" r="1.9" fill="#000" stroke="none" stroke-width="0"/>
<circle cx="161.0" cy="549.9" r="1.9" fill="#000" stroke="none" stroke-width="0"/>
<circle cx="162.9" cy="549.7" r="1.9" fill="#000" stroke="none" stroke-width="0"/>
<circle cx="164.8" cy="550.6" r="1.9" fill="#000" stroke="none" stroke-width="0"/>
<circle cx="166.6" cy="533.3" r="1.9" fill="#000" stroke="none" stroke-width="0"/>
<circle cx="168.5" cy="546.7" r="1.9" fill="#000" stroke="none" stroke-width="0"/>
<circle cx="170.4" cy="541.3" r="1.9" fill="#000" stroke="none" stroke-width="0"/>
<circle cx="172.3" cy="541.8" r="1.9" fill="#000" stroke="none" stroke-width="0"/>
<circle cx="174.2" cy="541.1" r="1.9" fill="#000" stroke="none" stroke-width="0"/>
<circle cx="176.1" cy="541.4" r="1.9" fill="#000" stroke="none" stroke-width="0"/>
<circle cx="178.0" cy="542.3" r="1.9" fill="#000" stroke="none" stroke-width="0"/>
<circle cx="179.9" cy="533.7" r="1.9" fill="#000" stroke="none" stroke-width="0"/>
<circle cx="181.8" cy="541.2" r="1.9" fill="#000" stroke="none" stroke-width="0"/>
<circle cx="183.6" cy="547.7" r="1.9" fill="#000" stroke="none" stroke-width="0"/>
<circle cx="185.5" cy="549.8" r="1.9" fill="#000" stroke="none" stroke-width="0"/>
<circle cx="187.4" cy="539.0" r="1.9" fill="#000" stroke="none" stroke-width="0"/>
<circle cx="189.3" cy="539.9" r="1.9" fill="#000" stroke="none" stroke-width="0"/>
<circle cx="191.2" cy="526.9" r="1.9" fill="#000" stroke="none" stroke-width="0"/>
<circle cx="193.1" cy="545.9" r="1.9" fill="#000" stroke="none" stroke-width="0"/>
<circle cx="195.0" cy="536.3" r="1.9" fill="#000" stroke="none" stroke-width="0"/>
<circle cx="196.9" cy="544.7" r="1.9" fill="#000" stroke="none" stroke-width="0"/>
<circle cx="198.8" cy="547.2" r="1.9" fill="#000" stroke="none" stroke-width="0"/>
<circle cx="200.6" cy="537.7" r="1.9" fill="#000" stroke="none" stroke-width="0"/>
<circle cx="202.5" cy="529.8" r="1.9" fill="#000" stroke="none" stroke-width="0"/>
<circle cx="204.4" cy="545.7" r="1.9" fill="#000" stroke="none" stroke-width="0"/>
<circle cx="206.3" cy="547.7" r="1.9" fill="#000" stroke="none" stroke-width="0"/>
<circle cx="208.2" cy="543.9" r="1.9" fill="#000" stroke="none" stroke-width="0"/>
<circle cx="210.1" cy="537.2" r="1.9" fill="#000" stroke="none" stroke-width="0"/>
<circle cx="212.0" cy="541.7" r="1.9" fill="#000" stroke="none" stroke-width="0"/>
<circle cx="213.9" cy="536.1" r="1.9" fill="#000" stroke="none" stroke-width="0"/>
<circle cx="215.7" cy="529.6" r="1.9" fill="#000" stroke="none" stroke-width="0"/>
<circle cx="217.6" cy="544.2" r="1.9" fill="#000" stroke="none" stroke-width="0"/>
<circle cx="219.5" cy="544.3" r="1.9" fill="#000" stroke="none" stroke-width="0"/>
<circle cx="221.4" cy="549.2" r="1.9" fill="#000" stroke="none" stroke-width="0"/>
<circle cx="223.3" cy="547.3" r="1.9" fill="#000" stroke="none" stroke-width="0"/>
<circle cx="225.2" cy="549.7" r="1.9" fill="#000" stroke="none" stroke-width="0"/>
<circle cx="227.1" cy="537.3" r="1.9" fill="#000" stroke="none" stroke-width="0"/>
<circle cx="229.0" cy="544.8" r="1.9" fill="#000" stroke="none" stroke-width="0"/>
<circle cx="230.9" cy="543.5" r="1.9" fill="#000" stroke="none" stroke-width="0"/>
<circle cx="232.7" cy="538.7" r="1.9" fill="#000" stroke="none" stroke-width="0"/>
<circle cx="234.6" cy="543.6" r="1.9" fill="#000" stroke="none" stroke-width="0"/>
<circle cx="236.5" cy="546.8" r="1.9" fill="#000" stroke="none" stroke-width="0"/>
<circle cx="238.4" cy="543.1" r="1.9" fill="#000" stroke="none" stroke-width="0"/>
<circle cx="240.3" cy="542.2" r="1.9" fill="#000" stroke="none" stroke-width="0"/>
<circle cx="242.2" cy="533.6" r="1.9" fill="#000" stroke="none" stroke-width="0"/>
<circle cx="244.1" cy="552.6" r="1.9" fill="#000" stroke="none" stroke-width="0"/>
<circle cx="246.0" cy="547.9" r="1.9" fill="#000" stroke="none" stroke-width="0"/>
<circle cx="247.9" cy="567.0" r="1.9" fill="#000" stroke="none" stroke-width="0"/>
<circle cx="249.7" cy="559.7" r="1.9" fill="#000" stroke="none" stroke-width="0"/>
<circle cx="251.6" cy="559.3" r="1.9" fill="#000" stroke="none" stroke-width="0"/>
<circle cx="253.5" cy="549.4" r="1.9" fill="#000" stroke="none" stroke-width="0"/>
<circle cx="255.4" cy="551.3" r="1.9" fill="#000" stroke="none" stroke-width="0"/>
<circle cx="257.3" cy="568.1" r="1.9" fill="#000" stroke="none" stroke-width="0"/>
<circle cx="259.2" cy="571.6" r="1.9" fill="#000" stroke="none" stroke-width="0"/>
<circle cx="261.1" cy="592.9" r="1.9" fill="#000" stroke="none" stroke-width="0"/>
<circle cx="263.0" cy="583.6" r="1.9" fill="#000" stroke="none" stroke-width="0"/>
<circle cx="264.9" cy="572.2" r="1.9" fill="#000" stroke="none" stroke-width="0"/>
<circle cx="266.7" cy="573.2" r="1.9" fill="#000" stroke="none" stroke-width="0"/>
<circle cx="268.6" cy="560.4" r="1.9" fill="#000" stroke="none" stroke-width="0"/>
<circle cx="270.5" cy="566.3" r="1.9" fill="#000" stroke="none" stroke-width="0"/>
<circle cx="272.4" cy="556.8" r="1.9" fill="#000" stroke="none" stroke-width="0"/>
<circle cx="274.3" cy="557.4" r="1.9" fill="#000" stroke="none" stroke-width="0"/>
<circle cx="276.2" cy="551.0" r="1.9" fill="#000" stroke="none" stroke-width="0"/>
<circle cx="278.1" cy="541.0" r="1.9" fill="#000" stroke="none" stroke-width="0"/>
<circle cx="280.0" cy="543.6" r="1.9" fill="#000" stroke="none" stroke-width="0"/>
<circle cx="281.9" cy="541.8" r="1.9" fill="#000" stroke="none" stroke-width="0"/>
<circle cx="283.7" cy="529.3" r="1.9" fill="#000" stroke="none" stroke-width="0"/>
<circle cx="285.6" cy="537.1" r="1.9" fill="#000" stroke="none" stroke-width="0"/>
<circle cx="287.5" cy="539.8" r="1.9" fill="#000" stroke="none" stroke-width="0"/>
<circle cx="289.4" cy="526.8" r="1.9" fill="#000" stroke="none" stroke-width="0"/>
<circle cx="291.3" cy="532.9" r="1.9" fill="#000" stroke="none" stroke-width="0"/>
<circle cx="293.2" cy="529.6" r="1.9" fill="#000" stroke="none" stroke-width="0"/>
<circle cx="295.1" cy="524.9" r="1.9" fill="#000" stroke="none" stroke-width="0"/>
<circle cx="297.0" cy="531.3" r="1.9" fill="#000" stroke="none" stroke-width="0"/>
<circle cx="298.9" cy="539.5" r="1.9" fill="#000" stroke="none" stroke-width="0"/>
<circle cx="300.7" cy="531.3" r="1.9" fill="#000" stroke="none" stroke-width="0"/>
<circle cx="302.6" cy="549.8" r="1.9" fill="#000" stroke="none" stroke-width="0"/>
<circle cx="304.5" cy="558.5" r="1.9" fill="#000" stroke="none" stroke-width="0"/>
<circle cx="306.4" cy="569.0" r="1.9" fill="#000" stroke="none" stroke-width="0"/>
<circle cx="308.3" cy="562.5" r="1.9" fill="#000" stroke="none" stroke-width="0"/>
<circle cx="310.2" cy="572.7" r="1.9" fill="#000" stroke="none" stroke-width="0"/>
<circle cx="312.1" cy="568.8" r="1.9" fill="#000" stroke="none" stroke-width="0"/>
<circle cx="314.0" cy="563.8" r="1.9" fill="#000" stroke="none" stroke-width="0"/>
<circle cx="315.9" cy="555.0" r="1.9" fill="#000" stroke="none" stroke-width="0"/>
<circle cx="317.7" cy="559.8" r="1.9" fill="#000" stroke="none" stroke-width="0"/>
<circle cx="319.6" cy="567.6" r="1.9" fill="#000" stroke="none" stroke-width="0"/>
<circle cx="321.5" cy="559.2" r="1.9" fill="#000" stroke="none" stroke-width="0"/>
<circle cx="323.4" cy="552.5" r="1.9" fill="#000" stroke="none" stroke-width="0"/>
<circle cx="325.3" cy="550.0" r="1.9" fill="#000" stroke="none" stroke-width="0"/>
<circle cx="327.2" cy="554.2" r="1.9" fill="#000" stroke="none" stroke-width="0"/>
<circle cx="329.1" cy="549.6" r="1.9" fill="#000" stroke="none" stroke-width="0"/>
<circle cx="331.0" cy="540.0" r="1.9" fill="#000" stroke="none" stroke-width="0"/>
<circle cx="332.8" cy="542.8" r="1.9" fill="#000" stroke="none" stroke-width="0"/>
<circle cx="334.7" cy="567.7" r="1.9" fill="#000" stroke="none" stroke-width="0"/>
<circle cx="336.6" cy="547.0" r="1.9" fill="#000" stroke="none" stroke-width="0"/>
<circle cx="338.5" cy="553.5" r="1.9" fill="#000" stroke="none" stroke-width="0"/>
<circle cx="340.4" cy="551.6" r="1.9" fill="#000" stroke="none" stroke-width="0"/>
<circle cx="342.3" cy="566.1" r="1.9" fill="#000" stroke="none" stroke-width="0"/>
<circle cx="344.2" cy="548.7" r="1.9" fill="#000" stroke="none" stroke-width="0"/>
<circle cx="346.1" cy="553.6" r="1.9" fill="#000" stroke="none" stroke-width="0"/>
<circle cx="348.0" cy="548.5" r="1.9" fill="#000" stroke="none" stroke-width="0"/>
<circle cx="349.8" cy="555.7" r="1.9" fill="#000" stroke="none" stroke-width="0"/>
<circle cx="351.7" cy="550.2" r="1.9" fill="#000" stroke="none" stroke-width="0"/>
<circle cx="353.6" cy="550.1" r="1.9" fill="#000" stroke="none" stroke-width="0"/>
<circle cx="355.5" cy="552.4" r="1.9" fill="#000" stroke="none" stroke-width="0"/>
<circle cx="357.4" cy="543.3" r="1.9" fill="#000" stroke="none" stroke-width="0"/>
<circle cx="359.3" cy="547.8" r="1.9" fill="#000" stroke="none" stroke-width="0"/>
<circle cx="361.2" cy="543.7" r="1.9" fill="#000" stroke="none" stroke-width="0"/>
<circle cx="363.1" cy="542.8" r="1.9" fill="#000" stroke="none" stroke-width="0"/>
<circle cx="365.0" cy="545.2" r="1.9" fill="#000" stroke="none" stroke-width="0"/>
<circle cx="366.8" cy="541.0" r="1.9" fill="#000" stroke="none" stroke-width="0"/>
<circle cx="368.7" cy="551.3" r="1.9" fill="#000" stroke="none" stroke-width="0"/>
<circle cx="370.6" cy="542.9" r="1.9" fill="#000" stroke="none" stroke-width="0"/>
<circle cx="372.5" cy="538.7" r="1.9" fill="#000" stroke="none" stroke-width="0"/>
<circle cx="374.4" cy="549.6" r="1.9" fill="#000" stroke="none" stroke-width="0"/>
<circle cx="376.3" cy="554.6" r="1.9" fill="#000" stroke="none" stroke-width="0"/>
<circle cx="378.2" cy="541.2" r="1.9" fill="#000" stroke="none" stroke-width="0"/>
<circle cx="380.1" cy="549.9" r="1.9" fill="#000" stroke="none" stroke-width="0"/>
<circle cx="382.0" cy="551.8" r="1.9" fill="#000" stroke="none" stroke-width="0"/>
<circle cx="383.8" cy="539.4" r="1.9" fill="#000" stroke="none" stroke-width="0"/>
<circle cx="385.7" cy="553.5" r="1.9" fill="#000" stroke="none" stroke-width="0"/>
<circle cx="387.6" cy="549.1" r="1.9" fill="#000" stroke="none" stroke-width="0"/>
<circle cx="389.5" cy="546.1" r="1.9" fill="#000" stroke="none" stroke-width="0"/>
<circle cx="391.4" cy="550.6" r="1.9" fill="#000" stroke="none" stroke-width="0"/>
<circle cx="393.3" cy="545.8" r="1.9" fill="#000" stroke="none" stroke-width="0"/>
<circle cx="395.2" cy="556.0" r="1.9" fill="#000" stroke="none" stroke-width="0"/>
<circle cx="397.1" cy="559.8" r="1.9" fill="#000" stroke="none" stroke-width="0"/>
<circle cx="399.0" cy="552.3" r="1.9" fill="#000" stroke="none" stroke-width="0"/>
<circle cx="400.8" cy="549.5" r="1.9" fill="#000" stroke="none" stroke-width="0"/>
<text x="419.8" y="273.8" font-size="31" font-weight="bold" letter-spacing="-2.6">C1</text>
<text x="453.0" y="289.0" font-size="12.2">0/2Ca<tspan font-size="7.6" dy="-4.1">2+</tspan><tspan dy="4.1"></tspan></text>
<rect x="466.5" y="294" width="14" height="5.5" fill="#fff" stroke="#000" stroke-width="0.9"/>
<rect x="481" y="300" width="142" height="6.2" fill="#000"/>
<text x="493.5" y="296.0" font-size="12.3">0/2Ca<tspan font-size="7.6" dy="-4.2">2+</tspan><tspan dy="4.2">, 50mM NH<tspan font-size="7.6" dy="2.5">4</tspan><tspan dy="-2.5">Cl</tspan></tspan></text>
<rect x="623.6" y="306.6" width="43.2" height="5.6" fill="url(#hatch)" stroke="#000" stroke-width="0.8"/>
<text x="629.5" y="302.6" font-size="12.2">2Ca<tspan font-size="7.6" dy="-4.1">2+</tspan><tspan dy="4.1"></tspan></text>
<line x1="466" y1="314.1" x2="466" y2="453.5" stroke="#5a5a5a" stroke-width="1"/>
<line x1="463" y1="314.1" x2="466" y2="314.1" stroke="#5a5a5a" stroke-width="1"/>
<text x="460.8" y="317.8" font-size="10.2" text-anchor="end" fill="#111">4.2</text>
<line x1="463" y1="337.3" x2="466" y2="337.3" stroke="#5a5a5a" stroke-width="1"/>
<text x="460.8" y="341.0" font-size="10.2" text-anchor="end" fill="#111">3.6</text>
<line x1="463" y1="360.6" x2="466" y2="360.6" stroke="#5a5a5a" stroke-width="1"/>
<text x="460.8" y="364.2" font-size="10.2" text-anchor="end" fill="#111">3.0</text>
<line x1="463" y1="383.8" x2="466" y2="383.8" stroke="#5a5a5a" stroke-width="1"/>
<text x="460.8" y="387.5" font-size="10.2" text-anchor="end" fill="#111">2.4</text>
<line x1="463" y1="407.0" x2="466" y2="407.0" stroke="#5a5a5a" stroke-width="1"/>
<text x="460.8" y="410.7" font-size="10.2" text-anchor="end" fill="#111">1.8</text>
<line x1="463" y1="430.3" x2="466" y2="430.3" stroke="#5a5a5a" stroke-width="1"/>
<text x="460.8" y="433.9" font-size="10.2" text-anchor="end" fill="#111">1.2</text>
<line x1="463" y1="453.5" x2="466" y2="453.5" stroke="#5a5a5a" stroke-width="1"/>
<text x="460.8" y="457.2" font-size="10.2" text-anchor="end" fill="#111">0.6</text>
<line x1="466" y1="453.5" x2="666.4" y2="453.5" stroke="#5a5a5a" stroke-width="1"/>
<line x1="466.0" y1="453.5" x2="466.0" y2="456.5" stroke="#5a5a5a" stroke-width="1"/>
<line x1="494.6" y1="453.5" x2="494.6" y2="456.5" stroke="#5a5a5a" stroke-width="1"/>
<line x1="523.2" y1="453.5" x2="523.2" y2="456.5" stroke="#5a5a5a" stroke-width="1"/>
<line x1="551.8" y1="453.5" x2="551.8" y2="456.5" stroke="#5a5a5a" stroke-width="1"/>
<line x1="580.4" y1="453.5" x2="580.4" y2="456.5" stroke="#5a5a5a" stroke-width="1"/>
<line x1="609.0" y1="453.5" x2="609.0" y2="456.5" stroke="#5a5a5a" stroke-width="1"/>
<line x1="637.6" y1="453.5" x2="637.6" y2="456.5" stroke="#5a5a5a" stroke-width="1"/>
<line x1="666.2" y1="453.5" x2="666.2" y2="456.5" stroke="#5a5a5a" stroke-width="1"/>
<text transform="translate(439.5,381) rotate(-90)" font-size="14" font-weight="bold" text-anchor="middle"><tspan>F/F</tspan><tspan font-size="9.1" dy="3">0</tspan></text>
<path d="M466.0,436.1V439.9M464.1,436.1h3.8M464.1,439.9h3.8" stroke="#666" stroke-width="0.6" fill="none"/>
<path d="M469.6,436.1V440.0M467.7,436.1h3.8M467.7,440.0h3.8" stroke="#666" stroke-width="0.6" fill="none"/>
<path d="M473.2,436.2V440.0M471.3,436.2h3.8M471.3,440.0h3.8" stroke="#666" stroke-width="0.6" fill="none"/>
<path d="M476.7,436.2V440.1M474.8,436.2h3.8M474.8,440.1h3.8" stroke="#666" stroke-width="0.6" fill="none"/>
<path d="M480.3,436.3V440.1M478.4,436.3h3.8M478.4,440.1h3.8" stroke="#666" stroke-width="0.6" fill="none"/>
<path d="M483.9,436.3V440.2M482.0,436.3h3.8M482.0,440.2h3.8" stroke="#666" stroke-width="0.6" fill="none"/>
<path d="M487.5,436.4V440.2M485.6,436.4h3.8M485.6,440.2h3.8" stroke="#666" stroke-width="0.6" fill="none"/>
<path d="M491.0,436.4V440.3M489.1,436.4h3.8M489.1,440.3h3.8" stroke="#666" stroke-width="0.6" fill="none"/>
<path d="M494.6,436.5V440.3M492.7,436.5h3.8M492.7,440.3h3.8" stroke="#666" stroke-width="0.6" fill="none"/>
<path d="M498.2,436.5V440.3M496.3,436.5h3.8M496.3,440.3h3.8" stroke="#666" stroke-width="0.6" fill="none"/>
<path d="M501.8,436.5V440.3M499.9,436.5h3.8M499.9,440.3h3.8" stroke="#666" stroke-width="0.6" fill="none"/>
<path d="M505.3,436.5V440.3M503.4,436.5h3.8M503.4,440.3h3.8" stroke="#666" stroke-width="0.6" fill="none"/>
<path d="M508.9,436.5V440.3M507.0,436.5h3.8M507.0,440.3h3.8" stroke="#666" stroke-width="0.6" fill="none"/>
<path d="M512.5,436.5V440.3M510.6,436.5h3.8M510.6,440.3h3.8" stroke="#666" stroke-width="0.6" fill="none"/>
<path d="M516.1,436.4V440.3M514.2,436.4h3.8M514.2,440.3h3.8" stroke="#666" stroke-width="0.6" fill="none"/>
<path d="M519.6,436.3V440.2M517.7,436.3h3.8M517.7,440.2h3.8" stroke="#666" stroke-width="0.6" fill="none"/>
<path d="M523.2,436.3V440.1M521.3,436.3h3.8M521.3,440.1h3.8" stroke="#666" stroke-width="0.6" fill="none"/>
<path d="M526.8,436.2V440.1M524.9,436.2h3.8M524.9,440.1h3.8" stroke="#666" stroke-width="0.6" fill="none"/>
<path d="M530.4,436.1V440.0M528.5,436.1h3.8M528.5,440.0h3.8" stroke="#666" stroke-width="0.6" fill="none"/>
<path d="M533.9,435.8V439.7M532.0,435.8h3.8M532.0,439.7h3.8" stroke="#666" stroke-width="0.6" fill="none"/>
<path d="M537.5,434.9V438.8M535.6,434.9h3.8M535.6,438.8h3.8" stroke="#666" stroke-width="0.6" fill="none"/>
<path d="M541.1,428.0V431.9M539.2,428.0h3.8M539.2,431.9h3.8" stroke="#666" stroke-width="0.6" fill="none"/>
<path d="M544.7,427.3V431.2M542.8,427.3h3.8M542.8,431.2h3.8" stroke="#666" stroke-width="0.6" fill="none"/>
<path d="M548.2,423.5V427.4M546.3,423.5h3.8M546.3,427.4h3.8" stroke="#666" stroke-width="0.6" fill="none"/>
<path d="M551.8,388.8V413.6M549.9,388.8h3.8M549.9,413.6h3.8" stroke="#666" stroke-width="0.6" fill="none"/>
<path d="M555.4,361.5V386.3M553.5,361.5h3.8M553.5,386.3h3.8" stroke="#666" stroke-width="0.6" fill="none"/>
<path d="M559.0,356.8V381.5M557.1,356.8h3.8M557.1,381.5h3.8" stroke="#666" stroke-width="0.6" fill="none"/>
<path d="M562.5,351.4V376.2M560.6,351.4h3.8M560.6,376.2h3.8" stroke="#666" stroke-width="0.6" fill="none"/>
<path d="M566.1,349.6V374.4M564.2,349.6h3.8M564.2,374.4h3.8" stroke="#666" stroke-width="0.6" fill="none"/>
<path d="M569.7,348.8V373.6M567.8,348.8h3.8M567.8,373.6h3.8" stroke="#666" stroke-width="0.6" fill="none"/>
<path d="M573.3,336.3V361.1M571.4,336.3h3.8M571.4,361.1h3.8" stroke="#666" stroke-width="0.6" fill="none"/>
<path d="M576.8,337.8V362.6M574.9,337.8h3.8M574.9,362.6h3.8" stroke="#666" stroke-width="0.6" fill="none"/>
<path d="M580.4,339.7V364.4M578.5,339.7h3.8M578.5,364.4h3.8" stroke="#666" stroke-width="0.6" fill="none"/>
<path d="M584.0,338.9V363.7M582.1,338.9h3.8M582.1,363.7h3.8" stroke="#666" stroke-width="0.6" fill="none"/>
<path d="M587.6,337.2V362.0M585.7,337.2h3.8M585.7,362.0h3.8" stroke="#666" stroke-width="0.6" fill="none"/>
<path d="M591.1,335.4V360.2M589.2,335.4h3.8M589.2,360.2h3.8" stroke="#666" stroke-width="0.6" fill="none"/>
<path d="M594.7,327.3V352.1M592.8,327.3h3.8M592.8,352.1h3.8" stroke="#666" stroke-width="0.6" fill="none"/>
<path d="M598.3,318.6V343.4M596.4,318.6h3.8M596.4,343.4h3.8" stroke="#666" stroke-width="0.6" fill="none"/>
<path d="M601.9,316.9V341.7M600.0,316.9h3.8M600.0,341.7h3.8" stroke="#666" stroke-width="0.6" fill="none"/>
<path d="M605.4,319.0V343.8M603.5,319.0h3.8M603.5,343.8h3.8" stroke="#666" stroke-width="0.6" fill="none"/>
<path d="M609.0,318.6V343.4M607.1,318.6h3.8M607.1,343.4h3.8" stroke="#666" stroke-width="0.6" fill="none"/>
<path d="M612.6,325.9V350.6M610.7,325.9h3.8M610.7,350.6h3.8" stroke="#666" stroke-width="0.6" fill="none"/>
<path d="M616.2,332.2V357.0M614.3,332.2h3.8M614.3,357.0h3.8" stroke="#666" stroke-width="0.6" fill="none"/>
<path d="M619.7,331.2V356.0M617.8,331.2h3.8M617.8,356.0h3.8" stroke="#666" stroke-width="0.6" fill="none"/>
<path d="M623.3,332.5V357.3M621.4,332.5h3.8M621.4,357.3h3.8" stroke="#666" stroke-width="0.6" fill="none"/>
<path d="M626.9,335.6V360.4M625.0,335.6h3.8M625.0,360.4h3.8" stroke="#666" stroke-width="0.6" fill="none"/>
<path d="M630.5,337.9V362.7M628.6,337.9h3.8M628.6,362.7h3.8" stroke="#666" stroke-width="0.6" fill="none"/>
<path d="M634.0,340.1V364.9M632.1,340.1h3.8M632.1,364.9h3.8" stroke="#666" stroke-width="0.6" fill="none"/>
<path d="M637.6,343.1V367.8M635.7,343.1h3.8M635.7,367.8h3.8" stroke="#666" stroke-width="0.6" fill="none"/>
<path d="M641.2,346.7V371.5M639.3,346.7h3.8M639.3,371.5h3.8" stroke="#666" stroke-width="0.6" fill="none"/>
<path d="M644.8,350.3V375.0M642.9,350.3h3.8M642.9,375.0h3.8" stroke="#666" stroke-width="0.6" fill="none"/>
<path d="M648.3,353.9V378.7M646.4,353.9h3.8M646.4,378.7h3.8" stroke="#666" stroke-width="0.6" fill="none"/>
<path d="M651.9,358.7V383.5M650.0,358.7h3.8M650.0,383.5h3.8" stroke="#666" stroke-width="0.6" fill="none"/>
<path d="M655.5,362.3V387.1M653.6,362.3h3.8M653.6,387.1h3.8" stroke="#666" stroke-width="0.6" fill="none"/>
<path d="M659.1,364.8V389.6M657.2,364.8h3.8M657.2,389.6h3.8" stroke="#666" stroke-width="0.6" fill="none"/>
<path d="M662.6,367.2V391.9M660.7,367.2h3.8M660.7,391.9h3.8" stroke="#666" stroke-width="0.6" fill="none"/>
<path d="M666.2,369.5V394.3M664.3,369.5h3.8M664.3,394.3h3.8" stroke="#666" stroke-width="0.6" fill="none"/>
<polyline points="466.0,438.0 469.6,438.1 473.2,438.1 476.7,438.2 480.3,438.2 483.9,438.3 487.5,438.3 491.0,438.4 494.6,438.4 498.2,438.4 501.8,438.4 505.3,438.4 508.9,438.4 512.5,438.4 516.1,438.4 519.6,438.3 523.2,438.2 526.8,438.1 530.4,438.1 533.9,437.7 537.5,436.9 541.1,430.0 544.7,429.3 548.2,425.4 551.8,401.2 555.4,373.9 559.0,369.1 562.5,363.8 566.1,362.0 569.7,361.2 573.3,348.7 576.8,350.2 580.4,352.1 584.0,351.3 587.6,349.6 591.1,347.8 594.7,339.7 598.3,331.0 601.9,329.3 605.4,331.4 609.0,331.0 612.6,338.2 616.2,344.6 619.7,343.6 623.3,344.9 626.9,348.0 630.5,350.3 634.0,352.5 637.6,355.4 641.2,359.1 644.8,362.6 648.3,366.3 651.9,371.1 655.5,374.7 659.1,377.2 662.6,379.5 666.2,381.9" fill="none" stroke="#555" stroke-width="0.7"/>
<circle cx="466.0" cy="438.0" r="1.7" fill="#fff" stroke="#444" stroke-width="0.65"/>
<circle cx="469.6" cy="438.1" r="1.7" fill="#fff" stroke="#444" stroke-width="0.65"/>
<circle cx="473.2" cy="438.1" r="1.7" fill="#fff" stroke="#444" stroke-width="0.65"/>
<circle cx="476.7" cy="438.2" r="1.7" fill="#fff" stroke="#444" stroke-width="0.65"/>
<circle cx="480.3" cy="438.2" r="1.7" fill="#fff" stroke="#444" stroke-width="0.65"/>
<circle cx="483.9" cy="438.3" r="1.7" fill="#fff" stroke="#444" stroke-width="0.65"/>
<circle cx="487.5" cy="438.3" r="1.7" fill="#fff" stroke="#444" stroke-width="0.65"/>
<circle cx="491.0" cy="438.4" r="1.7" fill="#fff" stroke="#444" stroke-width="0.65"/>
<circle cx="494.6" cy="438.4" r="1.7" fill="#fff" stroke="#444" stroke-width="0.65"/>
<circle cx="498.2" cy="438.4" r="1.7" fill="#fff" stroke="#444" stroke-width="0.65"/>
<circle cx="501.8" cy="438.4" r="1.7" fill="#fff" stroke="#444" stroke-width="0.65"/>
<circle cx="505.3" cy="438.4" r="1.7" fill="#fff" stroke="#444" stroke-width="0.65"/>
<circle cx="508.9" cy="438.4" r="1.7" fill="#fff" stroke="#444" stroke-width="0.65"/>
<circle cx="512.5" cy="438.4" r="1.7" fill="#fff" stroke="#444" stroke-width="0.65"/>
<circle cx="516.1" cy="438.4" r="1.7" fill="#fff" stroke="#444" stroke-width="0.65"/>
<circle cx="519.6" cy="438.3" r="1.7" fill="#fff" stroke="#444" stroke-width="0.65"/>
<circle cx="523.2" cy="438.2" r="1.7" fill="#fff" stroke="#444" stroke-width="0.65"/>
<circle cx="526.8" cy="438.1" r="1.7" fill="#fff" stroke="#444" stroke-width="0.65"/>
<circle cx="530.4" cy="438.1" r="1.7" fill="#fff" stroke="#444" stroke-width="0.65"/>
<circle cx="533.9" cy="437.7" r="1.7" fill="#fff" stroke="#444" stroke-width="0.65"/>
<circle cx="537.5" cy="436.9" r="1.7" fill="#fff" stroke="#444" stroke-width="0.65"/>
<circle cx="541.1" cy="430.0" r="1.7" fill="#fff" stroke="#444" stroke-width="0.65"/>
<circle cx="544.7" cy="429.3" r="1.7" fill="#fff" stroke="#444" stroke-width="0.65"/>
<circle cx="548.2" cy="425.4" r="1.7" fill="#fff" stroke="#444" stroke-width="0.65"/>
<circle cx="551.8" cy="401.2" r="1.7" fill="#fff" stroke="#444" stroke-width="0.65"/>
<circle cx="555.4" cy="373.9" r="1.7" fill="#fff" stroke="#444" stroke-width="0.65"/>
<circle cx="559.0" cy="369.1" r="1.7" fill="#fff" stroke="#444" stroke-width="0.65"/>
<circle cx="562.5" cy="363.8" r="1.7" fill="#fff" stroke="#444" stroke-width="0.65"/>
<circle cx="566.1" cy="362.0" r="1.7" fill="#fff" stroke="#444" stroke-width="0.65"/>
<circle cx="569.7" cy="361.2" r="1.7" fill="#fff" stroke="#444" stroke-width="0.65"/>
<circle cx="573.3" cy="348.7" r="1.7" fill="#fff" stroke="#444" stroke-width="0.65"/>
<circle cx="576.8" cy="350.2" r="1.7" fill="#fff" stroke="#444" stroke-width="0.65"/>
<circle cx="580.4" cy="352.1" r="1.7" fill="#fff" stroke="#444" stroke-width="0.65"/>
<circle cx="584.0" cy="351.3" r="1.7" fill="#fff" stroke="#444" stroke-width="0.65"/>
<circle cx="587.6" cy="349.6" r="1.7" fill="#fff" stroke="#444" stroke-width="0.65"/>
<circle cx="591.1" cy="347.8" r="1.7" fill="#fff" stroke="#444" stroke-width="0.65"/>
<circle cx="594.7" cy="339.7" r="1.7" fill="#fff" stroke="#444" stroke-width="0.65"/>
<circle cx="598.3" cy="331.0" r="1.7" fill="#fff" stroke="#444" stroke-width="0.65"/>
<circle cx="601.9" cy="329.3" r="1.7" fill="#fff" stroke="#444" stroke-width="0.65"/>
<circle cx="605.4" cy="331.4" r="1.7" fill="#fff" stroke="#444" stroke-width="0.65"/>
<circle cx="609.0" cy="331.0" r="1.7" fill="#fff" stroke="#444" stroke-width="0.65"/>
<circle cx="612.6" cy="338.2" r="1.7" fill="#fff" stroke="#444" stroke-width="0.65"/>
<circle cx="616.2" cy="344.6" r="1.7" fill="#fff" stroke="#444" stroke-width="0.65"/>
<circle cx="619.7" cy="343.6" r="1.7" fill="#fff" stroke="#444" stroke-width="0.65"/>
<circle cx="623.3" cy="344.9" r="1.7" fill="#fff" stroke="#444" stroke-width="0.65"/>
<circle cx="626.9" cy="348.0" r="1.7" fill="#fff" stroke="#444" stroke-width="0.65"/>
<circle cx="630.5" cy="350.3" r="1.7" fill="#fff" stroke="#444" stroke-width="0.65"/>
<circle cx="634.0" cy="352.5" r="1.7" fill="#fff" stroke="#444" stroke-width="0.65"/>
<circle cx="637.6" cy="355.4" r="1.7" fill="#fff" stroke="#444" stroke-width="0.65"/>
<circle cx="641.2" cy="359.1" r="1.7" fill="#fff" stroke="#444" stroke-width="0.65"/>
<circle cx="644.8" cy="362.6" r="1.7" fill="#fff" stroke="#444" stroke-width="0.65"/>
<circle cx="648.3" cy="366.3" r="1.7" fill="#fff" stroke="#444" stroke-width="0.65"/>
<circle cx="651.9" cy="371.1" r="1.7" fill="#fff" stroke="#444" stroke-width="0.65"/>
<circle cx="655.5" cy="374.7" r="1.7" fill="#fff" stroke="#444" stroke-width="0.65"/>
<circle cx="659.1" cy="377.2" r="1.7" fill="#fff" stroke="#444" stroke-width="0.65"/>
<circle cx="662.6" cy="379.5" r="1.7" fill="#fff" stroke="#444" stroke-width="0.65"/>
<circle cx="666.2" cy="381.9" r="1.7" fill="#fff" stroke="#444" stroke-width="0.65"/>
<path d="M466.0,436.5V439.6M464.6,436.5h2.8M464.6,439.6h2.8" stroke="#aaa" stroke-width="0.6" fill="none"/>
<path d="M468.4,436.5V439.6M467.0,436.5h2.8M467.0,439.6h2.8" stroke="#aaa" stroke-width="0.6" fill="none"/>
<path d="M470.8,436.5V439.6M469.4,436.5h2.8M469.4,439.6h2.8" stroke="#aaa" stroke-width="0.6" fill="none"/>
<path d="M473.2,436.5V439.6M471.8,436.5h2.8M471.8,439.6h2.8" stroke="#aaa" stroke-width="0.6" fill="none"/>
<path d="M475.5,436.5V439.6M474.1,436.5h2.8M474.1,439.6h2.8" stroke="#aaa" stroke-width="0.6" fill="none"/>
<path d="M477.9,436.5V439.6M476.5,436.5h2.8M476.5,439.6h2.8" stroke="#aaa" stroke-width="0.6" fill="none"/>
<path d="M480.3,436.5V439.6M478.9,436.5h2.8M478.9,439.6h2.8" stroke="#aaa" stroke-width="0.6" fill="none"/>
<path d="M482.7,436.5V439.6M481.3,436.5h2.8M481.3,439.6h2.8" stroke="#aaa" stroke-width="0.6" fill="none"/>
<path d="M485.1,436.5V439.6M483.7,436.5h2.8M483.7,439.6h2.8" stroke="#aaa" stroke-width="0.6" fill="none"/>
<path d="M487.5,436.5V439.6M486.1,436.5h2.8M486.1,439.6h2.8" stroke="#aaa" stroke-width="0.6" fill="none"/>
<path d="M489.8,436.5V439.6M488.4,436.5h2.8M488.4,439.6h2.8" stroke="#aaa" stroke-width="0.6" fill="none"/>
<path d="M492.2,430.7V433.8M490.8,430.7h2.8M490.8,433.8h2.8" stroke="#aaa" stroke-width="0.6" fill="none"/>
<path d="M494.6,430.1V433.2M493.2,430.1h2.8M493.2,433.2h2.8" stroke="#aaa" stroke-width="0.6" fill="none"/>
<path d="M497.0,431.2V434.3M495.6,431.2h2.8M495.6,434.3h2.8" stroke="#aaa" stroke-width="0.6" fill="none"/>
<path d="M499.4,433.3V436.4M498.0,433.3h2.8M498.0,436.4h2.8" stroke="#aaa" stroke-width="0.6" fill="none"/>
<path d="M501.8,434.9V438.0M500.4,434.9h2.8M500.4,438.0h2.8" stroke="#aaa" stroke-width="0.6" fill="none"/>
<path d="M504.1,434.7V437.8M502.7,434.7h2.8M502.7,437.8h2.8" stroke="#aaa" stroke-width="0.6" fill="none"/>
<path d="M506.5,434.4V437.5M505.1,434.4h2.8M505.1,437.5h2.8" stroke="#aaa" stroke-width="0.6" fill="none"/>
<path d="M508.9,434.2V437.3M507.5,434.2h2.8M507.5,437.3h2.8" stroke="#aaa" stroke-width="0.6" fill="none"/>
<path d="M511.3,434.0V437.1M509.9,434.0h2.8M509.9,437.1h2.8" stroke="#aaa" stroke-width="0.6" fill="none"/>
<path d="M513.7,433.8V436.9M512.3,433.8h2.8M512.3,436.9h2.8" stroke="#aaa" stroke-width="0.6" fill="none"/>
<path d="M516.1,433.6V436.7M514.7,433.6h2.8M514.7,436.7h2.8" stroke="#aaa" stroke-width="0.6" fill="none"/>
<path d="M518.4,433.4V436.5M517.0,433.4h2.8M517.0,436.5h2.8" stroke="#aaa" stroke-width="0.6" fill="none"/>
<path d="M520.8,433.2V436.3M519.4,433.2h2.8M519.4,436.3h2.8" stroke="#aaa" stroke-width="0.6" fill="none"/>
<path d="M523.2,433.0V436.1M521.8,433.0h2.8M521.8,436.1h2.8" stroke="#aaa" stroke-width="0.6" fill="none"/>
<path d="M525.6,432.7V435.8M524.2,432.7h2.8M524.2,435.8h2.8" stroke="#aaa" stroke-width="0.6" fill="none"/>
<path d="M528.0,432.5V435.6M526.6,432.5h2.8M526.6,435.6h2.8" stroke="#aaa" stroke-width="0.6" fill="none"/>
<path d="M530.4,432.2V435.3M529.0,432.2h2.8M529.0,435.3h2.8" stroke="#aaa" stroke-width="0.6" fill="none"/>
<path d="M532.7,431.9V435.0M531.3,431.9h2.8M531.3,435.0h2.8" stroke="#aaa" stroke-width="0.6" fill="none"/>
<path d="M535.1,431.7V434.8M533.7,431.7h2.8M533.7,434.8h2.8" stroke="#aaa" stroke-width="0.6" fill="none"/>
<path d="M537.5,431.4V434.5M536.1,431.4h2.8M536.1,434.5h2.8" stroke="#aaa" stroke-width="0.6" fill="none"/>
<path d="M539.9,431.8V434.9M538.5,431.8h2.8M538.5,434.9h2.8" stroke="#aaa" stroke-width="0.6" fill="none"/>
<path d="M542.3,432.2V435.3M540.9,432.2h2.8M540.9,435.3h2.8" stroke="#aaa" stroke-width="0.6" fill="none"/>
<path d="M544.7,432.6V435.7M543.3,432.6h2.8M543.3,435.7h2.8" stroke="#aaa" stroke-width="0.6" fill="none"/>
<path d="M547.0,433.2V436.3M545.6,433.2h2.8M545.6,436.3h2.8" stroke="#aaa" stroke-width="0.6" fill="none"/>
<path d="M549.4,433.9V437.0M548.0,433.9h2.8M548.0,437.0h2.8" stroke="#aaa" stroke-width="0.6" fill="none"/>
<path d="M551.8,434.5V437.6M550.4,434.5h2.8M550.4,437.6h2.8" stroke="#aaa" stroke-width="0.6" fill="none"/>
<path d="M554.2,434.8V437.9M552.8,434.8h2.8M552.8,437.9h2.8" stroke="#aaa" stroke-width="0.6" fill="none"/>
<path d="M556.6,435.0V438.1M555.2,435.0h2.8M555.2,438.1h2.8" stroke="#aaa" stroke-width="0.6" fill="none"/>
<path d="M559.0,435.3V438.4M557.6,435.3h2.8M557.6,438.4h2.8" stroke="#aaa" stroke-width="0.6" fill="none"/>
<path d="M561.3,435.5V438.6M559.9,435.5h2.8M559.9,438.6h2.8" stroke="#aaa" stroke-width="0.6" fill="none"/>
<path d="M563.7,435.7V438.8M562.3,435.7h2.8M562.3,438.8h2.8" stroke="#aaa" stroke-width="0.6" fill="none"/>
<path d="M566.1,436.0V439.1M564.7,436.0h2.8M564.7,439.1h2.8" stroke="#aaa" stroke-width="0.6" fill="none"/>
<path d="M568.5,436.2V439.3M567.1,436.2h2.8M567.1,439.3h2.8" stroke="#aaa" stroke-width="0.6" fill="none"/>
<path d="M570.9,436.5V439.6M569.5,436.5h2.8M569.5,439.6h2.8" stroke="#aaa" stroke-width="0.6" fill="none"/>
<path d="M573.3,436.5V439.6M571.9,436.5h2.8M571.9,439.6h2.8" stroke="#aaa" stroke-width="0.6" fill="none"/>
<path d="M575.6,436.6V439.7M574.2,436.6h2.8M574.2,439.7h2.8" stroke="#aaa" stroke-width="0.6" fill="none"/>
<path d="M578.0,436.6V439.7M576.6,436.6h2.8M576.6,439.7h2.8" stroke="#aaa" stroke-width="0.6" fill="none"/>
<path d="M580.4,436.7V439.8M579.0,436.7h2.8M579.0,439.8h2.8" stroke="#aaa" stroke-width="0.6" fill="none"/>
<path d="M582.8,436.7V439.8M581.4,436.7h2.8M581.4,439.8h2.8" stroke="#aaa" stroke-width="0.6" fill="none"/>
<path d="M585.2,436.8V439.9M583.8,436.8h2.8M583.8,439.9h2.8" stroke="#aaa" stroke-width="0.6" fill="none"/>
<path d="M587.6,436.8V439.9M586.2,436.8h2.8M586.2,439.9h2.8" stroke="#aaa" stroke-width="0.6" fill="none"/>
<path d="M589.9,436.9V439.9M588.5,436.9h2.8M588.5,439.9h2.8" stroke="#aaa" stroke-width="0.6" fill="none"/>
<path d="M592.3,436.9V440.0M590.9,436.9h2.8M590.9,440.0h2.8" stroke="#aaa" stroke-width="0.6" fill="none"/>
<path d="M594.7,436.9V440.0M593.3,436.9h2.8M593.3,440.0h2.8" stroke="#aaa" stroke-width="0.6" fill="none"/>
<path d="M597.1,437.0V440.1M595.7,437.0h2.8M595.7,440.1h2.8" stroke="#aaa" stroke-width="0.6" fill="none"/>
<path d="M599.5,437.0V440.1M598.1,437.0h2.8M598.1,440.1h2.8" stroke="#aaa" stroke-width="0.6" fill="none"/>
<path d="M601.9,437.1V440.2M600.5,437.1h2.8M600.5,440.2h2.8" stroke="#aaa" stroke-width="0.6" fill="none"/>
<path d="M604.2,437.1V440.2M602.8,437.1h2.8M602.8,440.2h2.8" stroke="#aaa" stroke-width="0.6" fill="none"/>
<path d="M606.6,437.2V440.3M605.2,437.2h2.8M605.2,440.3h2.8" stroke="#aaa" stroke-width="0.6" fill="none"/>
<path d="M609.0,437.2V440.3M607.6,437.2h2.8M607.6,440.3h2.8" stroke="#aaa" stroke-width="0.6" fill="none"/>
<path d="M611.4,437.2V440.3M610.0,437.2h2.8M610.0,440.3h2.8" stroke="#aaa" stroke-width="0.6" fill="none"/>
<path d="M613.8,437.1V440.2M612.4,437.1h2.8M612.4,440.2h2.8" stroke="#aaa" stroke-width="0.6" fill="none"/>
<path d="M616.2,437.0V440.1M614.8,437.0h2.8M614.8,440.1h2.8" stroke="#aaa" stroke-width="0.6" fill="none"/>
<path d="M618.5,436.9V440.0M617.1,436.9h2.8M617.1,440.0h2.8" stroke="#aaa" stroke-width="0.6" fill="none"/>
<path d="M620.9,436.9V439.9M619.5,436.9h2.8M619.5,439.9h2.8" stroke="#aaa" stroke-width="0.6" fill="none"/>
<path d="M623.3,436.8V439.9M621.9,436.8h2.8M621.9,439.9h2.8" stroke="#aaa" stroke-width="0.6" fill="none"/>
<path d="M625.7,436.7V439.8M624.3,436.7h2.8M624.3,439.8h2.8" stroke="#aaa" stroke-width="0.6" fill="none"/>
<path d="M628.1,436.6V439.7M626.7,436.6h2.8M626.7,439.7h2.8" stroke="#aaa" stroke-width="0.6" fill="none"/>
<path d="M630.5,436.5V439.6M629.1,436.5h2.8M629.1,439.6h2.8" stroke="#aaa" stroke-width="0.6" fill="none"/>
<path d="M632.8,436.5V439.6M631.4,436.5h2.8M631.4,439.6h2.8" stroke="#aaa" stroke-width="0.6" fill="none"/>
<path d="M635.2,434.8V437.9M633.8,434.8h2.8M633.8,437.9h2.8" stroke="#aaa" stroke-width="0.6" fill="none"/>
<path d="M637.6,425.5V432.4M636.2,425.5h2.8M636.2,432.4h2.8" stroke="#aaa" stroke-width="0.6" fill="none"/>
<path d="M640.0,399.7V406.6M638.6,399.7h2.8M638.6,406.6h2.8" stroke="#aaa" stroke-width="0.6" fill="none"/>
<path d="M642.4,380.3V387.3M641.0,380.3h2.8M641.0,387.3h2.8" stroke="#aaa" stroke-width="0.6" fill="none"/>
<path d="M644.8,367.6V374.5M643.4,367.6h2.8M643.4,374.5h2.8" stroke="#aaa" stroke-width="0.6" fill="none"/>
<path d="M647.1,363.3V370.3M645.7,363.3h2.8M645.7,370.3h2.8" stroke="#aaa" stroke-width="0.6" fill="none"/>
<path d="M649.5,360.9V367.9M648.1,360.9h2.8M648.1,367.9h2.8" stroke="#aaa" stroke-width="0.6" fill="none"/>
<path d="M651.9,362.5V369.4M650.5,362.5h2.8M650.5,369.4h2.8" stroke="#aaa" stroke-width="0.6" fill="none"/>
<path d="M654.3,364.1V371.0M652.9,364.1h2.8M652.9,371.0h2.8" stroke="#aaa" stroke-width="0.6" fill="none"/>
<path d="M656.7,366.8V373.7M655.3,366.8h2.8M655.3,373.7h2.8" stroke="#aaa" stroke-width="0.6" fill="none"/>
<path d="M659.1,369.5V376.4M657.7,369.5h2.8M657.7,376.4h2.8" stroke="#aaa" stroke-width="0.6" fill="none"/>
<path d="M661.4,372.4V379.4M660.0,372.4h2.8M660.0,379.4h2.8" stroke="#aaa" stroke-width="0.6" fill="none"/>
<path d="M663.8,375.4V382.4M662.4,375.4h2.8M662.4,382.4h2.8" stroke="#aaa" stroke-width="0.6" fill="none"/>
<path d="M666.2,378.4V385.4M664.8,378.4h2.8M664.8,385.4h2.8" stroke="#aaa" stroke-width="0.6" fill="none"/>
<polyline points="466.0,438.0 468.4,438.0 470.8,438.0 473.2,438.0 475.5,438.0 477.9,438.0 480.3,438.0 482.7,438.0 485.1,438.0 487.5,438.0 489.8,438.0 492.2,432.2 494.6,431.7 497.0,432.8 499.4,434.8 501.8,436.5 504.1,436.2 506.5,436.0 508.9,435.8 511.3,435.5 513.7,435.3 516.1,435.1 518.4,434.9 520.8,434.7 523.2,434.5 525.6,434.3 528.0,434.0 530.4,433.8 532.7,433.5 535.1,433.2 537.5,433.0 539.9,433.4 542.3,433.8 544.7,434.1 547.0,434.8 549.4,435.4 551.8,436.1 554.2,436.3 556.6,436.6 559.0,436.8 561.3,437.0 563.7,437.3 566.1,437.5 568.5,437.8 570.9,438.0 573.3,438.1 575.6,438.1 578.0,438.2 580.4,438.2 582.8,438.3 585.2,438.3 587.6,438.4 589.9,438.4 592.3,438.4 594.7,438.5 597.1,438.5 599.5,438.6 601.9,438.6 604.2,438.7 606.6,438.7 609.0,438.8 611.4,438.7 613.8,438.6 616.2,438.6 618.5,438.5 620.9,438.4 623.3,438.3 625.7,438.2 628.1,438.2 630.5,438.1 632.8,438.0 635.2,436.4 637.6,429.0 640.0,403.2 642.4,383.8 644.8,371.1 647.1,366.8 649.5,364.4 651.9,366.0 654.3,367.5 656.7,370.3 659.1,373.0 661.4,375.9 663.8,378.9 666.2,381.9" fill="none" stroke="#8c8c8c" stroke-width="1.0"/>
<rect x="464.4" y="436.4" width="3.2" height="3.2" fill="#8c8c8c"/>
<rect x="466.8" y="436.4" width="3.2" height="3.2" fill="#8c8c8c"/>
<rect x="469.2" y="436.4" width="3.2" height="3.2" fill="#8c8c8c"/>
<rect x="471.6" y="436.4" width="3.2" height="3.2" fill="#8c8c8c"/>
<rect x="473.9" y="436.4" width="3.2" height="3.2" fill="#8c8c8c"/>
<rect x="476.3" y="436.4" width="3.2" height="3.2" fill="#8c8c8c"/>
<rect x="478.7" y="436.4" width="3.2" height="3.2" fill="#8c8c8c"/>
<rect x="481.1" y="436.4" width="3.2" height="3.2" fill="#8c8c8c"/>
<rect x="483.5" y="436.4" width="3.2" height="3.2" fill="#8c8c8c"/>
<rect x="485.9" y="436.4" width="3.2" height="3.2" fill="#8c8c8c"/>
<rect x="488.2" y="436.4" width="3.2" height="3.2" fill="#8c8c8c"/>
<rect x="490.6" y="430.6" width="3.2" height="3.2" fill="#8c8c8c"/>
<rect x="493.0" y="430.1" width="3.2" height="3.2" fill="#8c8c8c"/>
<rect x="495.4" y="431.2" width="3.2" height="3.2" fill="#8c8c8c"/>
<rect x="497.8" y="433.2" width="3.2" height="3.2" fill="#8c8c8c"/>
<rect x="500.2" y="434.9" width="3.2" height="3.2" fill="#8c8c8c"/>
<rect x="502.5" y="434.6" width="3.2" height="3.2" fill="#8c8c8c"/>
<rect x="504.9" y="434.4" width="3.2" height="3.2" fill="#8c8c8c"/>
<rect x="507.3" y="434.2" width="3.2" height="3.2" fill="#8c8c8c"/>
<rect x="509.7" y="433.9" width="3.2" height="3.2" fill="#8c8c8c"/>
<rect x="512.1" y="433.7" width="3.2" height="3.2" fill="#8c8c8c"/>
<rect x="514.5" y="433.5" width="3.2" height="3.2" fill="#8c8c8c"/>
<rect x="516.8" y="433.3" width="3.2" height="3.2" fill="#8c8c8c"/>
<rect x="519.2" y="433.1" width="3.2" height="3.2" fill="#8c8c8c"/>
<rect x="521.6" y="432.9" width="3.2" height="3.2" fill="#8c8c8c"/>
<rect x="524.0" y="432.7" width="3.2" height="3.2" fill="#8c8c8c"/>
<rect x="526.4" y="432.4" width="3.2" height="3.2" fill="#8c8c8c"/>
<rect x="528.8" y="432.2" width="3.2" height="3.2" fill="#8c8c8c"/>
<rect x="531.1" y="431.9" width="3.2" height="3.2" fill="#8c8c8c"/>
<rect x="533.5" y="431.6" width="3.2" height="3.2" fill="#8c8c8c"/>
<rect x="535.9" y="431.4" width="3.2" height="3.2" fill="#8c8c8c"/>
<rect x="538.3" y="431.8" width="3.2" height="3.2" fill="#8c8c8c"/>
<rect x="540.7" y="432.2" width="3.2" height="3.2" fill="#8c8c8c"/>
<rect x="543.1" y="432.5" width="3.2" height="3.2" fill="#8c8c8c"/>
<rect x="545.4" y="433.2" width="3.2" height="3.2" fill="#8c8c8c"/>
<rect x="547.8" y="433.8" width="3.2" height="3.2" fill="#8c8c8c"/>
<rect x="550.2" y="434.5" width="3.2" height="3.2" fill="#8c8c8c"/>
<rect x="552.6" y="434.7" width="3.2" height="3.2" fill="#8c8c8c"/>
<rect x="555.0" y="435.0" width="3.2" height="3.2" fill="#8c8c8c"/>
<rect x="557.4" y="435.2" width="3.2" height="3.2" fill="#8c8c8c"/>
<rect x="559.7" y="435.4" width="3.2" height="3.2" fill="#8c8c8c"/>
<rect x="562.1" y="435.7" width="3.2" height="3.2" fill="#8c8c8c"/>
<rect x="564.5" y="435.9" width="3.2" height="3.2" fill="#8c8c8c"/>
<rect x="566.9" y="436.2" width="3.2" height="3.2" fill="#8c8c8c"/>
<rect x="569.3" y="436.4" width="3.2" height="3.2" fill="#8c8c8c"/>
<rect x="571.7" y="436.5" width="3.2" height="3.2" fill="#8c8c8c"/>
<rect x="574.0" y="436.5" width="3.2" height="3.2" fill="#8c8c8c"/>
<rect x="576.4" y="436.6" width="3.2" height="3.2" fill="#8c8c8c"/>
<rect x="578.8" y="436.6" width="3.2" height="3.2" fill="#8c8c8c"/>
<rect x="581.2" y="436.7" width="3.2" height="3.2" fill="#8c8c8c"/>
<rect x="583.6" y="436.7" width="3.2" height="3.2" fill="#8c8c8c"/>
<rect x="586.0" y="436.8" width="3.2" height="3.2" fill="#8c8c8c"/>
<rect x="588.3" y="436.8" width="3.2" height="3.2" fill="#8c8c8c"/>
<rect x="590.7" y="436.8" width="3.2" height="3.2" fill="#8c8c8c"/>
<rect x="593.1" y="436.9" width="3.2" height="3.2" fill="#8c8c8c"/>
<rect x="595.5" y="436.9" width="3.2" height="3.2" fill="#8c8c8c"/>
<rect x="597.9" y="437.0" width="3.2" height="3.2" fill="#8c8c8c"/>
<rect x="600.3" y="437.0" width="3.2" height="3.2" fill="#8c8c8c"/>
<rect x="602.6" y="437.1" width="3.2" height="3.2" fill="#8c8c8c"/>
<rect x="605.0" y="437.1" width="3.2" height="3.2" fill="#8c8c8c"/>
<rect x="607.4" y="437.2" width="3.2" height="3.2" fill="#8c8c8c"/>
<rect x="609.8" y="437.1" width="3.2" height="3.2" fill="#8c8c8c"/>
<rect x="612.2" y="437.0" width="3.2" height="3.2" fill="#8c8c8c"/>
<rect x="614.6" y="437.0" width="3.2" height="3.2" fill="#8c8c8c"/>
<rect x="616.9" y="436.9" width="3.2" height="3.2" fill="#8c8c8c"/>
<rect x="619.3" y="436.8" width="3.2" height="3.2" fill="#8c8c8c"/>
<rect x="621.7" y="436.7" width="3.2" height="3.2" fill="#8c8c8c"/>
<rect x="624.1" y="436.6" width="3.2" height="3.2" fill="#8c8c8c"/>
<rect x="626.5" y="436.6" width="3.2" height="3.2" fill="#8c8c8c"/>
<rect x="628.9" y="436.5" width="3.2" height="3.2" fill="#8c8c8c"/>
<rect x="631.2" y="436.4" width="3.2" height="3.2" fill="#8c8c8c"/>
<rect x="633.6" y="434.8" width="3.2" height="3.2" fill="#8c8c8c"/>
<rect x="636.0" y="427.4" width="3.2" height="3.2" fill="#8c8c8c"/>
<rect x="638.4" y="401.6" width="3.2" height="3.2" fill="#8c8c8c"/>
<rect x="640.8" y="382.2" width="3.2" height="3.2" fill="#8c8c8c"/>
<rect x="643.2" y="369.5" width="3.2" height="3.2" fill="#8c8c8c"/>
<rect x="645.5" y="365.2" width="3.2" height="3.2" fill="#8c8c8c"/>
<rect x="647.9" y="362.8" width="3.2" height="3.2" fill="#8c8c8c"/>
<rect x="650.3" y="364.4" width="3.2" height="3.2" fill="#8c8c8c"/>
<rect x="652.7" y="365.9" width="3.2" height="3.2" fill="#8c8c8c"/>
<rect x="655.1" y="368.7" width="3.2" height="3.2" fill="#8c8c8c"/>
<rect x="657.5" y="371.4" width="3.2" height="3.2" fill="#8c8c8c"/>
<rect x="659.8" y="374.3" width="3.2" height="3.2" fill="#8c8c8c"/>
<rect x="662.2" y="377.3" width="3.2" height="3.2" fill="#8c8c8c"/>
<rect x="664.6" y="380.3" width="3.2" height="3.2" fill="#8c8c8c"/>
<path d="M466.0,435.7V437.2M464.8,435.7h2.4M464.8,437.2h2.4" stroke="#444" stroke-width="0.6" fill="none"/>
<path d="M467.7,435.8V437.4M466.5,435.8h2.4M466.5,437.4h2.4" stroke="#444" stroke-width="0.6" fill="none"/>
<path d="M469.3,436.0V437.5M468.1,436.0h2.4M468.1,437.5h2.4" stroke="#444" stroke-width="0.6" fill="none"/>
<path d="M471.0,436.1V437.6M469.8,436.1h2.4M469.8,437.6h2.4" stroke="#444" stroke-width="0.6" fill="none"/>
<path d="M472.7,436.2V437.8M471.5,436.2h2.4M471.5,437.8h2.4" stroke="#444" stroke-width="0.6" fill="none"/>
<path d="M474.3,436.4V437.9M473.1,436.4h2.4M473.1,437.9h2.4" stroke="#444" stroke-width="0.6" fill="none"/>
<path d="M476.0,436.5V438.1M474.8,436.5h2.4M474.8,438.1h2.4" stroke="#444" stroke-width="0.6" fill="none"/>
<path d="M477.7,436.6V438.2M476.5,436.6h2.4M476.5,438.2h2.4" stroke="#444" stroke-width="0.6" fill="none"/>
<path d="M479.3,436.8V438.3M478.1,436.8h2.4M478.1,438.3h2.4" stroke="#444" stroke-width="0.6" fill="none"/>
<path d="M481.0,436.9V438.5M479.8,436.9h2.4M479.8,438.5h2.4" stroke="#444" stroke-width="0.6" fill="none"/>
<path d="M482.7,437.0V438.6M481.5,437.0h2.4M481.5,438.6h2.4" stroke="#444" stroke-width="0.6" fill="none"/>
<path d="M484.4,437.2V438.7M483.2,437.2h2.4M483.2,438.7h2.4" stroke="#444" stroke-width="0.6" fill="none"/>
<path d="M486.0,437.3V438.9M484.8,437.3h2.4M484.8,438.9h2.4" stroke="#444" stroke-width="0.6" fill="none"/>
<path d="M487.7,437.5V439.0M486.5,437.5h2.4M486.5,439.0h2.4" stroke="#444" stroke-width="0.6" fill="none"/>
<path d="M489.4,437.6V439.1M488.2,437.6h2.4M488.2,439.1h2.4" stroke="#444" stroke-width="0.6" fill="none"/>
<path d="M491.0,437.7V439.3M489.8,437.7h2.4M489.8,439.3h2.4" stroke="#444" stroke-width="0.6" fill="none"/>
<path d="M492.7,437.9V439.4M491.5,437.9h2.4M491.5,439.4h2.4" stroke="#444" stroke-width="0.6" fill="none"/>
<path d="M494.4,438.0V439.5M493.2,438.0h2.4M493.2,439.5h2.4" stroke="#444" stroke-width="0.6" fill="none"/>
<path d="M496.0,438.1V439.7M494.8,438.1h2.4M494.8,439.7h2.4" stroke="#444" stroke-width="0.6" fill="none"/>
<path d="M497.7,438.3V439.8M496.5,438.3h2.4M496.5,439.8h2.4" stroke="#444" stroke-width="0.6" fill="none"/>
<path d="M499.4,438.4V439.9M498.2,438.4h2.4M498.2,439.9h2.4" stroke="#444" stroke-width="0.6" fill="none"/>
<path d="M501.0,438.5V440.1M499.8,438.5h2.4M499.8,440.1h2.4" stroke="#444" stroke-width="0.6" fill="none"/>
<path d="M502.7,438.7V440.2M501.5,438.7h2.4M501.5,440.2h2.4" stroke="#444" stroke-width="0.6" fill="none"/>
<path d="M504.4,438.8V440.4M503.2,438.8h2.4M503.2,440.4h2.4" stroke="#444" stroke-width="0.6" fill="none"/>
<path d="M506.0,438.9V440.5M504.8,438.9h2.4M504.8,440.5h2.4" stroke="#444" stroke-width="0.6" fill="none"/>
<path d="M507.7,439.1V440.6M506.5,439.1h2.4M506.5,440.6h2.4" stroke="#444" stroke-width="0.6" fill="none"/>
<path d="M509.4,439.2V440.8M508.2,439.2h2.4M508.2,440.8h2.4" stroke="#444" stroke-width="0.6" fill="none"/>
<path d="M511.0,439.3V440.9M509.8,439.3h2.4M509.8,440.9h2.4" stroke="#444" stroke-width="0.6" fill="none"/>
<path d="M512.7,439.5V441.0M511.5,439.5h2.4M511.5,441.0h2.4" stroke="#444" stroke-width="0.6" fill="none"/>
<path d="M514.4,439.6V441.2M513.2,439.6h2.4M513.2,441.2h2.4" stroke="#444" stroke-width="0.6" fill="none"/>
<path d="M516.1,439.8V441.3M514.9,439.8h2.4M514.9,441.3h2.4" stroke="#444" stroke-width="0.6" fill="none"/>
<path d="M517.7,439.9V441.4M516.5,439.9h2.4M516.5,441.4h2.4" stroke="#444" stroke-width="0.6" fill="none"/>
<path d="M519.4,440.0V441.6M518.2,440.0h2.4M518.2,441.6h2.4" stroke="#444" stroke-width="0.6" fill="none"/>
<path d="M521.1,440.2V441.7M519.9,440.2h2.4M519.9,441.7h2.4" stroke="#444" stroke-width="0.6" fill="none"/>
<path d="M522.7,440.3V441.8M521.5,440.3h2.4M521.5,441.8h2.4" stroke="#444" stroke-width="0.6" fill="none"/>
<path d="M524.4,440.5V442.1M523.2,440.5h2.4M523.2,442.1h2.4" stroke="#444" stroke-width="0.6" fill="none"/>
<path d="M526.1,440.8V442.3M524.9,440.8h2.4M524.9,442.3h2.4" stroke="#444" stroke-width="0.6" fill="none"/>
<path d="M527.7,441.1V442.6M526.5,441.1h2.4M526.5,442.6h2.4" stroke="#444" stroke-width="0.6" fill="none"/>
<path d="M529.4,441.3V442.9M528.2,441.3h2.4M528.2,442.9h2.4" stroke="#444" stroke-width="0.6" fill="none"/>
<path d="M531.1,441.6V443.2M529.9,441.6h2.4M529.9,443.2h2.4" stroke="#444" stroke-width="0.6" fill="none"/>
<path d="M532.7,441.9V443.4M531.5,441.9h2.4M531.5,443.4h2.4" stroke="#444" stroke-width="0.6" fill="none"/>
<path d="M534.4,442.0V443.6M533.2,442.0h2.4M533.2,443.6h2.4" stroke="#444" stroke-width="0.6" fill="none"/>
<path d="M536.1,442.2V443.7M534.9,442.2h2.4M534.9,443.7h2.4" stroke="#444" stroke-width="0.6" fill="none"/>
<path d="M537.7,442.3V443.8M536.5,442.3h2.4M536.5,443.8h2.4" stroke="#444" stroke-width="0.6" fill="none"/>
<path d="M539.4,442.2V443.7M538.2,442.2h2.4M538.2,443.7h2.4" stroke="#444" stroke-width="0.6" fill="none"/>
<path d="M541.1,442.1V443.6M539.9,442.1h2.4M539.9,443.6h2.4" stroke="#444" stroke-width="0.6" fill="none"/>
<path d="M542.7,442.0V443.5M541.5,442.0h2.4M541.5,443.5h2.4" stroke="#444" stroke-width="0.6" fill="none"/>
<path d="M544.4,441.9V443.4M543.2,441.9h2.4M543.2,443.4h2.4" stroke="#444" stroke-width="0.6" fill="none"/>
<path d="M546.1,441.7V443.3M544.9,441.7h2.4M544.9,443.3h2.4" stroke="#444" stroke-width="0.6" fill="none"/>
<path d="M547.8,441.5V443.1M546.6,441.5h2.4M546.6,443.1h2.4" stroke="#444" stroke-width="0.6" fill="none"/>
<path d="M549.4,441.4V442.9M548.2,441.4h2.4M548.2,442.9h2.4" stroke="#444" stroke-width="0.6" fill="none"/>
<path d="M551.1,441.2V442.7M549.9,441.2h2.4M549.9,442.7h2.4" stroke="#444" stroke-width="0.6" fill="none"/>
<path d="M552.8,441.1V442.6M551.6,441.1h2.4M551.6,442.6h2.4" stroke="#444" stroke-width="0.6" fill="none"/>
<path d="M554.4,441.0V442.5M553.2,441.0h2.4M553.2,442.5h2.4" stroke="#444" stroke-width="0.6" fill="none"/>
<path d="M556.1,440.9V442.4M554.9,440.9h2.4M554.9,442.4h2.4" stroke="#444" stroke-width="0.6" fill="none"/>
<path d="M557.8,440.8V442.3M556.6,440.8h2.4M556.6,442.3h2.4" stroke="#444" stroke-width="0.6" fill="none"/>
<path d="M559.4,440.7V442.2M558.2,440.7h2.4M558.2,442.2h2.4" stroke="#444" stroke-width="0.6" fill="none"/>
<path d="M561.1,440.6V442.1M559.9,440.6h2.4M559.9,442.1h2.4" stroke="#444" stroke-width="0.6" fill="none"/>
<path d="M562.8,440.5V442.0M561.6,440.5h2.4M561.6,442.0h2.4" stroke="#444" stroke-width="0.6" fill="none"/>
<path d="M564.4,440.4V441.9M563.2,440.4h2.4M563.2,441.9h2.4" stroke="#444" stroke-width="0.6" fill="none"/>
<path d="M566.1,440.3V441.8M564.9,440.3h2.4M564.9,441.8h2.4" stroke="#444" stroke-width="0.6" fill="none"/>
<path d="M567.8,440.2V441.7M566.6,440.2h2.4M566.6,441.7h2.4" stroke="#444" stroke-width="0.6" fill="none"/>
<path d="M569.4,440.1V441.6M568.2,440.1h2.4M568.2,441.6h2.4" stroke="#444" stroke-width="0.6" fill="none"/>
<path d="M571.1,440.0V441.5M569.9,440.0h2.4M569.9,441.5h2.4" stroke="#444" stroke-width="0.6" fill="none"/>
<path d="M572.8,439.9V441.4M571.6,439.9h2.4M571.6,441.4h2.4" stroke="#444" stroke-width="0.6" fill="none"/>
<path d="M574.4,439.8V441.3M573.2,439.8h2.4M573.2,441.3h2.4" stroke="#444" stroke-width="0.6" fill="none"/>
<path d="M576.1,439.7V441.2M574.9,439.7h2.4M574.9,441.2h2.4" stroke="#444" stroke-width="0.6" fill="none"/>
<path d="M577.8,439.6V441.2M576.6,439.6h2.4M576.6,441.2h2.4" stroke="#444" stroke-width="0.6" fill="none"/>
<path d="M579.5,439.5V441.1M578.3,439.5h2.4M578.3,441.1h2.4" stroke="#444" stroke-width="0.6" fill="none"/>
<path d="M581.1,439.4V441.0M579.9,439.4h2.4M579.9,441.0h2.4" stroke="#444" stroke-width="0.6" fill="none"/>
<path d="M582.8,439.3V440.9M581.6,439.3h2.4M581.6,440.9h2.4" stroke="#444" stroke-width="0.6" fill="none"/>
<path d="M584.5,439.2V440.8M583.3,439.2h2.4M583.3,440.8h2.4" stroke="#444" stroke-width="0.6" fill="none"/>
<path d="M586.1,439.1V440.7M584.9,439.1h2.4M584.9,440.7h2.4" stroke="#444" stroke-width="0.6" fill="none"/>
<path d="M587.8,439.1V440.6M586.6,439.1h2.4M586.6,440.6h2.4" stroke="#444" stroke-width="0.6" fill="none"/>
<path d="M589.5,439.0V440.6M588.3,439.0h2.4M588.3,440.6h2.4" stroke="#444" stroke-width="0.6" fill="none"/>
<path d="M591.1,439.0V440.5M589.9,439.0h2.4M589.9,440.5h2.4" stroke="#444" stroke-width="0.6" fill="none"/>
<path d="M592.8,438.9V440.5M591.6,438.9h2.4M591.6,440.5h2.4" stroke="#444" stroke-width="0.6" fill="none"/>
<path d="M594.5,438.9V440.4M593.3,438.9h2.4M593.3,440.4h2.4" stroke="#444" stroke-width="0.6" fill="none"/>
<path d="M596.1,438.8V440.4M594.9,438.8h2.4M594.9,440.4h2.4" stroke="#444" stroke-width="0.6" fill="none"/>
<path d="M597.8,438.8V440.3M596.6,438.8h2.4M596.6,440.3h2.4" stroke="#444" stroke-width="0.6" fill="none"/>
<path d="M599.5,438.7V440.3M598.3,438.7h2.4M598.3,440.3h2.4" stroke="#444" stroke-width="0.6" fill="none"/>
<path d="M601.1,438.7V440.2M599.9,438.7h2.4M599.9,440.2h2.4" stroke="#444" stroke-width="0.6" fill="none"/>
<path d="M602.8,438.6V440.1M601.6,438.6h2.4M601.6,440.1h2.4" stroke="#444" stroke-width="0.6" fill="none"/>
<path d="M604.5,438.5V440.1M603.3,438.5h2.4M603.3,440.1h2.4" stroke="#444" stroke-width="0.6" fill="none"/>
<path d="M606.1,438.5V440.0M604.9,438.5h2.4M604.9,440.0h2.4" stroke="#444" stroke-width="0.6" fill="none"/>
<path d="M607.8,438.4V440.0M606.6,438.4h2.4M606.6,440.0h2.4" stroke="#444" stroke-width="0.6" fill="none"/>
<path d="M609.5,438.4V439.9M608.3,438.4h2.4M608.3,439.9h2.4" stroke="#444" stroke-width="0.6" fill="none"/>
<path d="M611.2,438.3V439.8M610.0,438.3h2.4M610.0,439.8h2.4" stroke="#444" stroke-width="0.6" fill="none"/>
<path d="M612.8,438.2V439.7M611.6,438.2h2.4M611.6,439.7h2.4" stroke="#444" stroke-width="0.6" fill="none"/>
<path d="M614.5,438.1V439.7M613.3,438.1h2.4M613.3,439.7h2.4" stroke="#444" stroke-width="0.6" fill="none"/>
<path d="M616.2,438.0V439.6M615.0,438.0h2.4M615.0,439.6h2.4" stroke="#444" stroke-width="0.6" fill="none"/>
<path d="M617.8,437.9V439.5M616.6,437.9h2.4M616.6,439.5h2.4" stroke="#444" stroke-width="0.6" fill="none"/>
<path d="M619.5,437.8V439.4M618.3,437.8h2.4M618.3,439.4h2.4" stroke="#444" stroke-width="0.6" fill="none"/>
<path d="M621.2,437.7V439.3M620.0,437.7h2.4M620.0,439.3h2.4" stroke="#444" stroke-width="0.6" fill="none"/>
<path d="M622.8,437.7V439.2M621.6,437.7h2.4M621.6,439.2h2.4" stroke="#444" stroke-width="0.6" fill="none"/>
<path d="M624.5,437.5V439.1M623.3,437.5h2.4M623.3,439.1h2.4" stroke="#444" stroke-width="0.6" fill="none"/>
<path d="M626.2,437.4V438.9M625.0,437.4h2.4M625.0,438.9h2.4" stroke="#444" stroke-width="0.6" fill="none"/>
<path d="M627.8,437.3V438.8M626.6,437.3h2.4M626.6,438.8h2.4" stroke="#444" stroke-width="0.6" fill="none"/>
<path d="M629.5,437.1V438.7M628.3,437.1h2.4M628.3,438.7h2.4" stroke="#444" stroke-width="0.6" fill="none"/>
<path d="M631.2,437.0V438.5M630.0,437.0h2.4M630.0,438.5h2.4" stroke="#444" stroke-width="0.6" fill="none"/>
<path d="M632.8,436.9V438.4M631.6,436.9h2.4M631.6,438.4h2.4" stroke="#444" stroke-width="0.6" fill="none"/>
<path d="M634.5,436.7V438.3M633.3,436.7h2.4M633.3,438.3h2.4" stroke="#444" stroke-width="0.6" fill="none"/>
<path d="M636.2,436.6V438.1M635.0,436.6h2.4M635.0,438.1h2.4" stroke="#444" stroke-width="0.6" fill="none"/>
<path d="M637.9,436.4V437.9M636.7,436.4h2.4M636.7,437.9h2.4" stroke="#444" stroke-width="0.6" fill="none"/>
<path d="M639.5,435.9V437.5M638.3,435.9h2.4M638.3,437.5h2.4" stroke="#444" stroke-width="0.6" fill="none"/>
<path d="M641.2,435.5V437.0M640.0,435.5h2.4M640.0,437.0h2.4" stroke="#444" stroke-width="0.6" fill="none"/>
<path d="M642.9,432.8V437.4M641.7,432.8h2.4M641.7,437.4h2.4" stroke="#444" stroke-width="0.6" fill="none"/>
<path d="M644.5,431.0V435.7M643.3,431.0h2.4M643.3,435.7h2.4" stroke="#444" stroke-width="0.6" fill="none"/>
<path d="M646.2,429.1V433.7M645.0,429.1h2.4M645.0,433.7h2.4" stroke="#444" stroke-width="0.6" fill="none"/>
<path d="M647.9,425.5V430.1M646.7,425.5h2.4M646.7,430.1h2.4" stroke="#444" stroke-width="0.6" fill="none"/>
<path d="M649.5,421.1V425.7M648.3,421.1h2.4M648.3,425.7h2.4" stroke="#444" stroke-width="0.6" fill="none"/>
<path d="M651.2,414.1V418.7M650.0,414.1h2.4M650.0,418.7h2.4" stroke="#444" stroke-width="0.6" fill="none"/>
<path d="M652.9,403.6V408.2M651.7,403.6h2.4M651.7,408.2h2.4" stroke="#444" stroke-width="0.6" fill="none"/>
<path d="M654.5,389.9V394.6M653.3,389.9h2.4M653.3,394.6h2.4" stroke="#444" stroke-width="0.6" fill="none"/>
<path d="M656.2,380.8V393.1M655.0,380.8h2.4M655.0,393.1h2.4" stroke="#444" stroke-width="0.6" fill="none"/>
<path d="M657.9,381.2V393.6M656.7,381.2h2.4M656.7,393.6h2.4" stroke="#444" stroke-width="0.6" fill="none"/>
<path d="M659.5,381.6V394.0M658.3,381.6h2.4M658.3,394.0h2.4" stroke="#444" stroke-width="0.6" fill="none"/>
<path d="M661.2,382.2V394.6M660.0,382.2h2.4M660.0,394.6h2.4" stroke="#444" stroke-width="0.6" fill="none"/>
<path d="M662.9,382.8V395.2M661.7,382.8h2.4M661.7,395.2h2.4" stroke="#444" stroke-width="0.6" fill="none"/>
<path d="M664.5,383.3V395.7M663.3,383.3h2.4M663.3,395.7h2.4" stroke="#444" stroke-width="0.6" fill="none"/>
<path d="M666.2,383.8V396.2M665.0,383.8h2.4M665.0,396.2h2.4" stroke="#444" stroke-width="0.6" fill="none"/>
<polyline points="466.0,436.5 467.7,436.6 469.3,436.7 471.0,436.9 472.7,437.0 474.3,437.1 476.0,437.3 477.7,437.4 479.3,437.5 481.0,437.7 482.7,437.8 484.4,438.0 486.0,438.1 487.7,438.2 489.4,438.4 491.0,438.5 492.7,438.6 494.4,438.8 496.0,438.9 497.7,439.0 499.4,439.2 501.0,439.3 502.7,439.4 504.4,439.6 506.0,439.7 507.7,439.9 509.4,440.0 511.0,440.1 512.7,440.3 514.4,440.4 516.1,440.5 517.7,440.7 519.4,440.8 521.1,440.9 522.7,441.1 524.4,441.3 526.1,441.6 527.7,441.8 529.4,442.1 531.1,442.4 532.7,442.7 534.4,442.8 536.1,442.9 537.7,443.0 539.4,442.9 541.1,442.9 542.7,442.8 544.4,442.7 546.1,442.5 547.8,442.3 549.4,442.1 551.1,442.0 552.8,441.8 554.4,441.7 556.1,441.6 557.8,441.5 559.4,441.4 561.1,441.3 562.8,441.2 564.4,441.2 566.1,441.1 567.8,441.0 569.4,440.9 571.1,440.8 572.8,440.7 574.4,440.6 576.1,440.5 577.8,440.4 579.5,440.3 581.1,440.2 582.8,440.1 584.5,440.0 586.1,439.9 587.8,439.9 589.5,439.8 591.1,439.8 592.8,439.7 594.5,439.6 596.1,439.6 597.8,439.5 599.5,439.5 601.1,439.4 602.8,439.4 604.5,439.3 606.1,439.3 607.8,439.2 609.5,439.1 611.2,439.1 612.8,439.0 614.5,438.9 616.2,438.8 617.8,438.7 619.5,438.6 621.2,438.5 622.8,438.4 624.5,438.3 626.2,438.2 627.8,438.0 629.5,437.9 631.2,437.8 632.8,437.6 634.5,437.5 636.2,437.4 637.9,437.2 639.5,436.7 641.2,436.3 642.9,435.1 644.5,433.4 646.2,431.4 647.9,427.8 649.5,423.4 651.2,416.4 652.9,405.9 654.5,392.2 656.2,386.9 657.9,387.4 659.5,387.8 661.2,388.4 662.9,389.0 664.5,389.5 666.2,390.0" fill="none" stroke="#000" stroke-width="1.4"/>
<path d="M466.0,434.3L468.0,437.9L464.0,437.9Z" fill="#000"/>
<path d="M467.7,434.4L469.7,438.0L465.7,438.0Z" fill="#000"/>
<path d="M469.3,434.6L471.3,438.2L467.3,438.2Z" fill="#000"/>
<path d="M471.0,434.7L473.0,438.3L469.0,438.3Z" fill="#000"/>
<path d="M472.7,434.8L474.7,438.4L470.7,438.4Z" fill="#000"/>
<path d="M474.3,435.0L476.3,438.6L472.3,438.6Z" fill="#000"/>
<path d="M476.0,435.1L478.0,438.7L474.0,438.7Z" fill="#000"/>
<path d="M477.7,435.3L479.7,438.9L475.7,438.9Z" fill="#000"/>
<path d="M479.3,435.4L481.3,439.0L477.3,439.0Z" fill="#000"/>
<path d="M481.0,435.5L483.0,439.1L479.0,439.1Z" fill="#000"/>
<path d="M482.7,435.7L484.7,439.3L480.7,439.3Z" fill="#000"/>
<path d="M484.4,435.8L486.4,439.4L482.4,439.4Z" fill="#000"/>
<path d="M486.0,435.9L488.0,439.5L484.0,439.5Z" fill="#000"/>
<path d="M487.7,436.1L489.7,439.7L485.7,439.7Z" fill="#000"/>
<path d="M489.4,436.2L491.4,439.8L487.4,439.8Z" fill="#000"/>
<path d="M491.0,436.3L493.0,439.9L489.0,439.9Z" fill="#000"/>
<path d="M492.7,436.5L494.7,440.1L490.7,440.1Z" fill="#000"/>
<path d="M494.4,436.6L496.4,440.2L492.4,440.2Z" fill="#000"/>
<path d="M496.0,436.7L498.0,440.3L494.0,440.3Z" fill="#000"/>
<path d="M497.7,436.9L499.7,440.5L495.7,440.5Z" fill="#000"/>
<path d="M499.4,437.0L501.4,440.6L497.4,440.6Z" fill="#000"/>
<path d="M501.0,437.1L503.0,440.7L499.0,440.7Z" fill="#000"/>
<path d="M502.7,437.3L504.7,440.9L500.7,440.9Z" fill="#000"/>
<path d="M504.4,437.4L506.4,441.0L502.4,441.0Z" fill="#000"/>
<path d="M506.0,437.6L508.0,441.2L504.0,441.2Z" fill="#000"/>
<path d="M507.7,437.7L509.7,441.3L505.7,441.3Z" fill="#000"/>
<path d="M509.4,437.8L511.4,441.4L507.4,441.4Z" fill="#000"/>
<path d="M511.0,438.0L513.0,441.6L509.0,441.6Z" fill="#000"/>
<path d="M512.7,438.1L514.7,441.7L510.7,441.7Z" fill="#000"/>
<path d="M514.4,438.2L516.4,441.8L512.4,441.8Z" fill="#000"/>
<path d="M516.1,438.4L518.1,442.0L514.1,442.0Z" fill="#000"/>
<path d="M517.7,438.5L519.7,442.1L515.7,442.1Z" fill="#000"/>
<path d="M519.4,438.6L521.4,442.2L517.4,442.2Z" fill="#000"/>
<path d="M521.1,438.8L523.1,442.4L519.1,442.4Z" fill="#000"/>
<path d="M522.7,438.9L524.7,442.5L520.7,442.5Z" fill="#000"/>
<path d="M524.4,439.1L526.4,442.7L522.4,442.7Z" fill="#000"/>
<path d="M526.1,439.4L528.1,443.0L524.1,443.0Z" fill="#000"/>
<path d="M527.7,439.7L529.7,443.3L525.7,443.3Z" fill="#000"/>
<path d="M529.4,440.0L531.4,443.6L527.4,443.6Z" fill="#000"/>
<path d="M531.1,440.2L533.1,443.8L529.1,443.8Z" fill="#000"/>
<path d="M532.7,440.5L534.7,444.1L530.7,444.1Z" fill="#000"/>
<path d="M534.4,440.6L536.4,444.2L532.4,444.2Z" fill="#000"/>
<path d="M536.1,440.8L538.1,444.4L534.1,444.4Z" fill="#000"/>
<path d="M537.7,440.9L539.7,444.5L535.7,444.5Z" fill="#000"/>
<path d="M539.4,440.8L541.4,444.4L537.4,444.4Z" fill="#000"/>
<path d="M541.1,440.7L543.1,444.3L539.1,444.3Z" fill="#000"/>
<path d="M542.7,440.6L544.7,444.2L540.7,444.2Z" fill="#000"/>
<path d="M544.4,440.5L546.4,444.1L542.4,444.1Z" fill="#000"/>
<path d="M546.1,440.3L548.1,443.9L544.1,443.9Z" fill="#000"/>
<path d="M547.8,440.2L549.8,443.8L545.8,443.8Z" fill="#000"/>
<path d="M549.4,440.0L551.4,443.6L547.4,443.6Z" fill="#000"/>
<path d="M551.1,439.8L553.1,443.4L549.1,443.4Z" fill="#000"/>
<path d="M552.8,439.7L554.8,443.3L550.8,443.3Z" fill="#000"/>
<path d="M554.4,439.6L556.4,443.2L552.4,443.2Z" fill="#000"/>
<path d="M556.1,439.5L558.1,443.1L554.1,443.1Z" fill="#000"/>
<path d="M557.8,439.4L559.8,443.0L555.8,443.0Z" fill="#000"/>
<path d="M559.4,439.3L561.4,442.9L557.4,442.9Z" fill="#000"/>
<path d="M561.1,439.2L563.1,442.8L559.1,442.8Z" fill="#000"/>
<path d="M562.8,439.1L564.8,442.7L560.8,442.7Z" fill="#000"/>
<path d="M564.4,439.0L566.4,442.6L562.4,442.6Z" fill="#000"/>
<path d="M566.1,438.9L568.1,442.5L564.1,442.5Z" fill="#000"/>
<path d="M567.8,438.8L569.8,442.4L565.8,442.4Z" fill="#000"/>
<path d="M569.4,438.7L571.4,442.3L567.4,442.3Z" fill="#000"/>
<path d="M571.1,438.6L573.1,442.2L569.1,442.2Z" fill="#000"/>
<path d="M572.8,438.5L574.8,442.1L570.8,442.1Z" fill="#000"/>
<path d="M574.4,438.4L576.4,442.0L572.4,442.0Z" fill="#000"/>
<path d="M576.1,438.3L578.1,441.9L574.1,441.9Z" fill="#000"/>
<path d="M577.8,438.2L579.8,441.8L575.8,441.8Z" fill="#000"/>
<path d="M579.5,438.1L581.5,441.7L577.5,441.7Z" fill="#000"/>
<path d="M581.1,438.0L583.1,441.6L579.1,441.6Z" fill="#000"/>
<path d="M582.8,437.9L584.8,441.5L580.8,441.5Z" fill="#000"/>
<path d="M584.5,437.8L586.5,441.4L582.5,441.4Z" fill="#000"/>
<path d="M586.1,437.8L588.1,441.4L584.1,441.4Z" fill="#000"/>
<path d="M587.8,437.7L589.8,441.3L585.8,441.3Z" fill="#000"/>
<path d="M589.5,437.6L591.5,441.2L587.5,441.2Z" fill="#000"/>
<path d="M591.1,437.6L593.1,441.2L589.1,441.2Z" fill="#000"/>
<path d="M592.8,437.5L594.8,441.1L590.8,441.1Z" fill="#000"/>
<path d="M594.5,437.5L596.5,441.1L592.5,441.1Z" fill="#000"/>
<path d="M596.1,437.4L598.1,441.0L594.1,441.0Z" fill="#000"/>
<path d="M597.8,437.4L599.8,441.0L595.8,441.0Z" fill="#000"/>
<path d="M599.5,437.3L601.5,440.9L597.5,440.9Z" fill="#000"/>
<path d="M601.1,437.3L603.1,440.9L599.1,440.9Z" fill="#000"/>
<path d="M602.8,437.2L604.8,440.8L600.8,440.8Z" fill="#000"/>
<path d="M604.5,437.2L606.5,440.8L602.5,440.8Z" fill="#000"/>
<path d="M606.1,437.1L608.1,440.7L604.1,440.7Z" fill="#000"/>
<path d="M607.8,437.1L609.8,440.7L605.8,440.7Z" fill="#000"/>
<path d="M609.5,437.0L611.5,440.6L607.5,440.6Z" fill="#000"/>
<path d="M611.2,436.9L613.2,440.5L609.2,440.5Z" fill="#000"/>
<path d="M612.8,436.8L614.8,440.4L610.8,440.4Z" fill="#000"/>
<path d="M614.5,436.7L616.5,440.3L612.5,440.3Z" fill="#000"/>
<path d="M616.2,436.6L618.2,440.2L614.2,440.2Z" fill="#000"/>
<path d="M617.8,436.5L619.8,440.1L615.8,440.1Z" fill="#000"/>
<path d="M619.5,436.4L621.5,440.0L617.5,440.0Z" fill="#000"/>
<path d="M621.2,436.4L623.2,440.0L619.2,440.0Z" fill="#000"/>
<path d="M622.8,436.3L624.8,439.9L620.8,439.9Z" fill="#000"/>
<path d="M624.5,436.1L626.5,439.7L622.5,439.7Z" fill="#000"/>
<path d="M626.2,436.0L628.2,439.6L624.2,439.6Z" fill="#000"/>
<path d="M627.8,435.9L629.8,439.5L625.8,439.5Z" fill="#000"/>
<path d="M629.5,435.7L631.5,439.3L627.5,439.3Z" fill="#000"/>
<path d="M631.2,435.6L633.2,439.2L629.2,439.2Z" fill="#000"/>
<path d="M632.8,435.5L634.8,439.1L630.8,439.1Z" fill="#000"/>
<path d="M634.5,435.3L636.5,438.9L632.5,438.9Z" fill="#000"/>
<path d="M636.2,435.2L638.2,438.8L634.2,438.8Z" fill="#000"/>
<path d="M637.9,435.0L639.9,438.6L635.9,438.6Z" fill="#000"/>
<path d="M639.5,434.6L641.5,438.2L637.5,438.2Z" fill="#000"/>
<path d="M641.2,434.1L643.2,437.7L639.2,437.7Z" fill="#000"/>
<path d="M642.9,432.9L644.9,436.5L640.9,436.5Z" fill="#000"/>
<path d="M644.5,431.2L646.5,434.8L642.5,434.8Z" fill="#000"/>
<path d="M646.2,429.2L648.2,432.8L644.2,432.8Z" fill="#000"/>
<path d="M647.9,425.6L649.9,429.2L645.9,429.2Z" fill="#000"/>
<path d="M649.5,421.2L651.5,424.8L647.5,424.8Z" fill="#000"/>
<path d="M651.2,414.2L653.2,417.8L649.2,417.8Z" fill="#000"/>
<path d="M652.9,403.7L654.9,407.3L650.9,407.3Z" fill="#000"/>
<path d="M654.5,390.1L656.5,393.7L652.5,393.7Z" fill="#000"/>
<path d="M656.2,384.8L658.2,388.4L654.2,388.4Z" fill="#000"/>
<path d="M657.9,385.2L659.9,388.8L655.9,388.8Z" fill="#000"/>
<path d="M659.5,385.7L661.5,389.3L657.5,389.3Z" fill="#000"/>
<path d="M661.2,386.3L663.2,389.9L659.2,389.9Z" fill="#000"/>
<path d="M662.9,386.8L664.9,390.4L660.9,390.4Z" fill="#000"/>
<path d="M664.5,387.3L666.5,390.9L662.5,390.9Z" fill="#000"/>
<path d="M666.2,387.8L668.2,391.4L664.2,391.4Z" fill="#000"/>
<line x1="473.5" y1="326.3" x2="487.4" y2="326.3" stroke="#000" stroke-width="0.8"/>
<path d="M480.4,324.5L482.1,327.5L478.7,327.5Z" fill="#000"/>
<text x="493.8" y="324.3" font-size="12.2">Thapsigargin,</text>
<text x="493.8" y="336.9" font-size="12">0Ca<tspan font-size="7.4" dy="-4.1">2+</tspan><tspan dy="4.1"></tspan></text>
<line x1="473.5" y1="360.8" x2="487.4" y2="360.8" stroke="#8c8c8c" stroke-width="0.9"/>
<rect x="478.9" y="359.3" width="3" height="3" fill="#8c8c8c"/>
<text x="493.2" y="365.0" font-size="12">0 Ca<tspan font-size="7.4" dy="-4.1">2+</tspan><tspan dy="4.1"></tspan></text>
<line x1="473.5" y1="394.4" x2="487.4" y2="394.4" stroke="#555" stroke-width="0.7"/>
<circle cx="480.4" cy="394.4" r="1.8" fill="#fff" stroke="#444" stroke-width="0.7"/>
<text x="493.2" y="397.9" font-size="12">2 Ca<tspan font-size="7.4" dy="-4.1">2+</tspan><tspan dy="4.1"></tspan></text>
<text x="419.8" y="492.4" font-size="31" font-weight="bold" letter-spacing="-1.5">C2</text>
<text x="453.0" y="508.0" font-size="12.2">0/2Ca<tspan font-size="7.6" dy="-4.1">2+</tspan><tspan dy="4.1"></tspan></text>
<rect x="466.5" y="513.2" width="14" height="5.5" fill="#fff" stroke="#000" stroke-width="0.9"/>
<rect x="481" y="519" width="142" height="5.4" fill="#aaa"/>
<text x="496.0" y="514.4" font-size="12.3">0/2Ca<tspan font-size="7.6" dy="-4.2">2+</tspan><tspan dy="4.2">, 5mM NH<tspan font-size="7.6" dy="2.5">4</tspan><tspan dy="-2.5">Cl</tspan></tspan></text>
<rect x="623.6" y="525.6" width="43" height="5.6" fill="url(#hatch)" stroke="#000" stroke-width="0.8"/>
<text x="629.5" y="522.0" font-size="12.2">2Ca<tspan font-size="7.6" dy="-4.1">2+</tspan><tspan dy="4.1"></tspan></text>
<line x1="466.7" y1="531.4" x2="466.7" y2="631" stroke="#5a5a5a" stroke-width="1"/>
<line x1="463.7" y1="531.4" x2="466.7" y2="531.4" stroke="#5a5a5a" stroke-width="1"/>
<text x="461.2" y="535.1" font-size="10.2" text-anchor="end" fill="#111">1.5</text>
<line x1="463.7" y1="564.6" x2="466.7" y2="564.6" stroke="#5a5a5a" stroke-width="1"/>
<text x="461.2" y="568.3" font-size="10.2" text-anchor="end" fill="#111">1.2</text>
<line x1="463.7" y1="597.8" x2="466.7" y2="597.8" stroke="#5a5a5a" stroke-width="1"/>
<text x="461.2" y="601.5" font-size="10.2" text-anchor="end" fill="#111">0.9</text>
<line x1="463.7" y1="631.0" x2="466.7" y2="631.0" stroke="#5a5a5a" stroke-width="1"/>
<text x="461.2" y="634.7" font-size="10.2" text-anchor="end" fill="#111">0.6</text>
<line x1="466.7" y1="631" x2="666.5" y2="631" stroke="#5a5a5a" stroke-width="1"/>
<line x1="466.7" y1="631" x2="466.7" y2="634" stroke="#5a5a5a" stroke-width="1"/>
<line x1="495.2" y1="631" x2="495.2" y2="634" stroke="#5a5a5a" stroke-width="1"/>
<line x1="523.8" y1="631" x2="523.8" y2="634" stroke="#5a5a5a" stroke-width="1"/>
<line x1="552.3" y1="631" x2="552.3" y2="634" stroke="#5a5a5a" stroke-width="1"/>
<line x1="580.9" y1="631" x2="580.9" y2="634" stroke="#5a5a5a" stroke-width="1"/>
<line x1="609.4" y1="631" x2="609.4" y2="634" stroke="#5a5a5a" stroke-width="1"/>
<line x1="638.0" y1="631" x2="638.0" y2="634" stroke="#5a5a5a" stroke-width="1"/>
<line x1="666.5" y1="631" x2="666.5" y2="634" stroke="#5a5a5a" stroke-width="1"/>
<text x="466.7" y="644.7" font-size="10.6" text-anchor="middle" fill="#111">0</text>
<text x="495.2" y="644.7" font-size="10.6" text-anchor="middle" fill="#111">60</text>
<text x="523.8" y="644.7" font-size="10.6" text-anchor="middle" fill="#111">120</text>
<text x="552.3" y="644.7" font-size="10.6" text-anchor="middle" fill="#111">180</text>
<text x="580.9" y="644.7" font-size="10.6" text-anchor="middle" fill="#111">240</text>
<text x="609.4" y="644.7" font-size="10.6" text-anchor="middle" fill="#111">300</text>
<text x="638.0" y="644.7" font-size="10.6" text-anchor="middle" fill="#111">360</text>
<text x="666.5" y="644.7" font-size="10.6" text-anchor="middle" fill="#111">420</text>
<text x="565.1" y="660.4" font-size="14.6" font-weight="bold" text-anchor="middle">Time (s)</text>
<text transform="translate(439.4,581.2) rotate(-90)" font-size="14" font-weight="bold" text-anchor="middle"><tspan>F/F</tspan><tspan font-size="9.1" dy="3">0</tspan></text>
<path d="M504.8,585.7V593.5M503.4,585.7h2.8M503.4,593.5h2.8" stroke="#aaa" stroke-width="0.6" fill="none"/>
<path d="M507.1,585.0V592.7M505.7,585.0h2.8M505.7,592.7h2.8" stroke="#aaa" stroke-width="0.6" fill="none"/>
<path d="M509.5,584.3V592.0M508.1,584.3h2.8M508.1,592.0h2.8" stroke="#aaa" stroke-width="0.6" fill="none"/>
<path d="M511.9,583.5V591.3M510.5,583.5h2.8M510.5,591.3h2.8" stroke="#aaa" stroke-width="0.6" fill="none"/>
<path d="M514.3,583.2V590.9M512.9,583.2h2.8M512.9,590.9h2.8" stroke="#aaa" stroke-width="0.6" fill="none"/>
<path d="M516.6,582.8V590.6M515.2,582.8h2.8M515.2,590.6h2.8" stroke="#aaa" stroke-width="0.6" fill="none"/>
<path d="M519.0,582.5V590.2M517.6,582.5h2.8M517.6,590.2h2.8" stroke="#aaa" stroke-width="0.6" fill="none"/>
<path d="M521.4,582.1V589.9M520.0,582.1h2.8M520.0,589.9h2.8" stroke="#aaa" stroke-width="0.6" fill="none"/>
<path d="M523.8,580.5V588.3M522.4,580.5h2.8M522.4,588.3h2.8" stroke="#aaa" stroke-width="0.6" fill="none"/>
<path d="M526.2,578.1V585.9M524.8,578.1h2.8M524.8,585.9h2.8" stroke="#aaa" stroke-width="0.6" fill="none"/>
<path d="M528.5,576.5V584.3M527.1,576.5h2.8M527.1,584.3h2.8" stroke="#aaa" stroke-width="0.6" fill="none"/>
<path d="M530.9,577.9V585.7M529.5,577.9h2.8M529.5,585.7h2.8" stroke="#aaa" stroke-width="0.6" fill="none"/>
<path d="M533.3,579.3V587.1M531.9,579.3h2.8M531.9,587.1h2.8" stroke="#aaa" stroke-width="0.6" fill="none"/>
<path d="M535.7,580.6V588.3M534.3,580.6h2.8M534.3,588.3h2.8" stroke="#aaa" stroke-width="0.6" fill="none"/>
<path d="M538.1,581.7V589.4M536.7,581.7h2.8M536.7,589.4h2.8" stroke="#aaa" stroke-width="0.6" fill="none"/>
<path d="M540.4,582.7V590.4M539.0,582.7h2.8M539.0,590.4h2.8" stroke="#aaa" stroke-width="0.6" fill="none"/>
<path d="M542.8,579.4V587.2M541.4,579.4h2.8M541.4,587.2h2.8" stroke="#aaa" stroke-width="0.6" fill="none"/>
<path d="M545.2,576.3V584.1M543.8,576.3h2.8M543.8,584.1h2.8" stroke="#aaa" stroke-width="0.6" fill="none"/>
<path d="M547.6,576.7V584.4M546.2,576.7h2.8M546.2,584.4h2.8" stroke="#aaa" stroke-width="0.6" fill="none"/>
<path d="M549.9,577.0V584.8M548.5,577.0h2.8M548.5,584.8h2.8" stroke="#aaa" stroke-width="0.6" fill="none"/>
<path d="M552.3,577.3V585.0M550.9,577.3h2.8M550.9,585.0h2.8" stroke="#aaa" stroke-width="0.6" fill="none"/>
<path d="M554.7,577.1V584.8M553.3,577.1h2.8M553.3,584.8h2.8" stroke="#aaa" stroke-width="0.6" fill="none"/>
<path d="M557.1,576.9V584.6M555.7,576.9h2.8M555.7,584.6h2.8" stroke="#aaa" stroke-width="0.6" fill="none"/>
<path d="M559.5,576.7V584.4M558.1,576.7h2.8M558.1,584.4h2.8" stroke="#aaa" stroke-width="0.6" fill="none"/>
<path d="M561.8,574.6V582.3M560.4,574.6h2.8M560.4,582.3h2.8" stroke="#aaa" stroke-width="0.6" fill="none"/>
<path d="M564.2,572.1V579.8M562.8,572.1h2.8M562.8,579.8h2.8" stroke="#aaa" stroke-width="0.6" fill="none"/>
<path d="M566.6,569.9V577.7M565.2,569.9h2.8M565.2,577.7h2.8" stroke="#aaa" stroke-width="0.6" fill="none"/>
<path d="M569.0,571.8V579.5M567.6,571.8h2.8M567.6,579.5h2.8" stroke="#aaa" stroke-width="0.6" fill="none"/>
<path d="M571.4,571.9V579.7M570.0,571.9h2.8M570.0,579.7h2.8" stroke="#aaa" stroke-width="0.6" fill="none"/>
<path d="M573.7,572.1V579.8M572.3,572.1h2.8M572.3,579.8h2.8" stroke="#aaa" stroke-width="0.6" fill="none"/>
<path d="M576.1,572.2V580.0M574.7,572.2h2.8M574.7,580.0h2.8" stroke="#aaa" stroke-width="0.6" fill="none"/>
<path d="M578.5,572.3V580.1M577.1,572.3h2.8M577.1,580.1h2.8" stroke="#aaa" stroke-width="0.6" fill="none"/>
<path d="M580.9,572.3V580.1M579.5,572.3h2.8M579.5,580.1h2.8" stroke="#aaa" stroke-width="0.6" fill="none"/>
<path d="M583.2,572.3V580.1M581.8,572.3h2.8M581.8,580.1h2.8" stroke="#aaa" stroke-width="0.6" fill="none"/>
<path d="M585.6,572.3V580.1M584.2,572.3h2.8M584.2,580.1h2.8" stroke="#aaa" stroke-width="0.6" fill="none"/>
<path d="M588.0,570.2V577.9M586.6,570.2h2.8M586.6,577.9h2.8" stroke="#aaa" stroke-width="0.6" fill="none"/>
<path d="M590.4,568.1V575.8M589.0,568.1h2.8M589.0,575.8h2.8" stroke="#aaa" stroke-width="0.6" fill="none"/>
<path d="M592.8,566.6V574.4M591.4,566.6h2.8M591.4,574.4h2.8" stroke="#aaa" stroke-width="0.6" fill="none"/>
<path d="M595.1,565.6V573.3M593.7,565.6h2.8M593.7,573.3h2.8" stroke="#aaa" stroke-width="0.6" fill="none"/>
<path d="M597.5,566.2V574.0M596.1,566.2h2.8M596.1,574.0h2.8" stroke="#aaa" stroke-width="0.6" fill="none"/>
<path d="M599.9,566.9V574.6M598.5,566.9h2.8M598.5,574.6h2.8" stroke="#aaa" stroke-width="0.6" fill="none"/>
<path d="M602.3,567.3V575.1M600.9,567.3h2.8M600.9,575.1h2.8" stroke="#aaa" stroke-width="0.6" fill="none"/>
<path d="M604.7,567.1V574.8M603.3,567.1h2.8M603.3,574.8h2.8" stroke="#aaa" stroke-width="0.6" fill="none"/>
<path d="M607.0,566.8V574.6M605.6,566.8h2.8M605.6,574.6h2.8" stroke="#aaa" stroke-width="0.6" fill="none"/>
<path d="M609.4,566.6V574.3M608.0,566.6h2.8M608.0,574.3h2.8" stroke="#aaa" stroke-width="0.6" fill="none"/>
<path d="M611.8,565.9V573.6M610.4,565.9h2.8M610.4,573.6h2.8" stroke="#aaa" stroke-width="0.6" fill="none"/>
<path d="M614.2,565.2V572.9M612.8,565.2h2.8M612.8,572.9h2.8" stroke="#aaa" stroke-width="0.6" fill="none"/>
<path d="M616.5,564.2V572.0M615.1,564.2h2.8M615.1,572.0h2.8" stroke="#aaa" stroke-width="0.6" fill="none"/>
<path d="M618.9,562.3V570.0M617.5,562.3h2.8M617.5,570.0h2.8" stroke="#aaa" stroke-width="0.6" fill="none"/>
<path d="M621.3,560.8V568.6M619.9,560.8h2.8M619.9,568.6h2.8" stroke="#aaa" stroke-width="0.6" fill="none"/>
<path d="M623.7,561.5V569.2M622.3,561.5h2.8M622.3,569.2h2.8" stroke="#aaa" stroke-width="0.6" fill="none"/>
<path d="M626.1,561.0V568.8M624.7,561.0h2.8M624.7,568.8h2.8" stroke="#aaa" stroke-width="0.6" fill="none"/>
<path d="M628.4,557.3V568.4M627.0,557.3h2.8M627.0,568.4h2.8" stroke="#aaa" stroke-width="0.6" fill="none"/>
<path d="M630.8,553.6V564.7M629.4,553.6h2.8M629.4,564.7h2.8" stroke="#aaa" stroke-width="0.6" fill="none"/>
<path d="M633.2,548.0V559.0M631.8,548.0h2.8M631.8,559.0h2.8" stroke="#aaa" stroke-width="0.6" fill="none"/>
<path d="M635.6,542.5V553.5M634.2,542.5h2.8M634.2,553.5h2.8" stroke="#aaa" stroke-width="0.6" fill="none"/>
<path d="M638.0,542.5V553.5M636.6,542.5h2.8M636.6,553.5h2.8" stroke="#aaa" stroke-width="0.6" fill="none"/>
<path d="M640.3,543.0V554.1M638.9,543.0h2.8M638.9,554.1h2.8" stroke="#aaa" stroke-width="0.6" fill="none"/>
<path d="M642.7,543.7V554.7M641.3,543.7h2.8M641.3,554.7h2.8" stroke="#aaa" stroke-width="0.6" fill="none"/>
<path d="M645.1,544.1V555.2M643.7,544.1h2.8M643.7,555.2h2.8" stroke="#aaa" stroke-width="0.6" fill="none"/>
<path d="M647.5,544.6V555.7M646.1,544.6h2.8M646.1,555.7h2.8" stroke="#aaa" stroke-width="0.6" fill="none"/>
<path d="M649.8,545.0V556.0M648.4,545.0h2.8M648.4,556.0h2.8" stroke="#aaa" stroke-width="0.6" fill="none"/>
<path d="M652.2,545.3V556.4M650.8,545.3h2.8M650.8,556.4h2.8" stroke="#aaa" stroke-width="0.6" fill="none"/>
<path d="M654.6,545.6V556.7M653.2,545.6h2.8M653.2,556.7h2.8" stroke="#aaa" stroke-width="0.6" fill="none"/>
<path d="M657.0,546.1V557.2M655.6,546.1h2.8M655.6,557.2h2.8" stroke="#aaa" stroke-width="0.6" fill="none"/>
<path d="M659.4,546.7V557.8M658.0,546.7h2.8M658.0,557.8h2.8" stroke="#aaa" stroke-width="0.6" fill="none"/>
<path d="M661.7,547.3V558.4M660.3,547.3h2.8M660.3,558.4h2.8" stroke="#aaa" stroke-width="0.6" fill="none"/>
<path d="M664.1,547.9V559.0M662.7,547.9h2.8M662.7,559.0h2.8" stroke="#aaa" stroke-width="0.6" fill="none"/>
<path d="M666.5,548.6V559.6M665.1,548.6h2.8M665.1,559.6h2.8" stroke="#aaa" stroke-width="0.6" fill="none"/>
<polyline points="504.8,589.6 507.1,588.9 509.5,588.1 511.9,587.4 514.3,587.0 516.6,586.7 519.0,586.3 521.4,586.0 523.8,584.4 526.2,582.0 528.5,580.4 530.9,581.8 533.3,583.2 535.7,584.4 538.1,585.6 540.4,586.5 542.8,583.3 545.2,580.2 547.6,580.5 549.9,580.9 552.3,581.2 554.7,580.9 557.1,580.7 559.5,580.5 561.8,578.5 564.2,576.0 566.6,573.8 569.0,575.7 571.4,575.8 573.7,575.9 576.1,576.1 578.5,576.2 580.9,576.2 583.2,576.2 585.6,576.2 588.0,574.1 590.4,571.9 592.8,570.5 595.1,569.5 597.5,570.1 599.9,570.7 602.3,571.2 604.7,570.9 607.0,570.7 609.4,570.5 611.8,569.8 614.2,569.0 616.5,568.1 618.9,566.1 621.3,564.7 623.7,565.3 626.1,564.9 628.4,562.9 630.8,559.1 633.2,553.5 635.6,548.0 638.0,548.0 640.3,548.6 642.7,549.2 645.1,549.7 647.5,550.1 649.8,550.5 652.2,550.8 654.6,551.2 657.0,551.7 659.4,552.3 661.7,552.9 664.1,553.5 666.5,554.1" fill="none" stroke="#8c8c8c" stroke-width="0.9"/>
<rect x="503.3" y="588.1" width="3.0" height="3.0" fill="#8c8c8c"/>
<rect x="505.6" y="587.4" width="3.0" height="3.0" fill="#8c8c8c"/>
<rect x="508.0" y="586.6" width="3.0" height="3.0" fill="#8c8c8c"/>
<rect x="510.4" y="585.9" width="3.0" height="3.0" fill="#8c8c8c"/>
<rect x="512.8" y="585.5" width="3.0" height="3.0" fill="#8c8c8c"/>
<rect x="515.1" y="585.2" width="3.0" height="3.0" fill="#8c8c8c"/>
<rect x="517.5" y="584.8" width="3.0" height="3.0" fill="#8c8c8c"/>
<rect x="519.9" y="584.5" width="3.0" height="3.0" fill="#8c8c8c"/>
<rect x="522.3" y="582.9" width="3.0" height="3.0" fill="#8c8c8c"/>
<rect x="524.7" y="580.5" width="3.0" height="3.0" fill="#8c8c8c"/>
<rect x="527.0" y="578.9" width="3.0" height="3.0" fill="#8c8c8c"/>
<rect x="529.4" y="580.3" width="3.0" height="3.0" fill="#8c8c8c"/>
<rect x="531.8" y="581.7" width="3.0" height="3.0" fill="#8c8c8c"/>
<rect x="534.2" y="582.9" width="3.0" height="3.0" fill="#8c8c8c"/>
<rect x="536.6" y="584.1" width="3.0" height="3.0" fill="#8c8c8c"/>
<rect x="538.9" y="585.0" width="3.0" height="3.0" fill="#8c8c8c"/>
<rect x="541.3" y="581.8" width="3.0" height="3.0" fill="#8c8c8c"/>
<rect x="543.7" y="578.7" width="3.0" height="3.0" fill="#8c8c8c"/>
<rect x="546.1" y="579.0" width="3.0" height="3.0" fill="#8c8c8c"/>
<rect x="548.4" y="579.4" width="3.0" height="3.0" fill="#8c8c8c"/>
<rect x="550.8" y="579.7" width="3.0" height="3.0" fill="#8c8c8c"/>
<rect x="553.2" y="579.4" width="3.0" height="3.0" fill="#8c8c8c"/>
<rect x="555.6" y="579.2" width="3.0" height="3.0" fill="#8c8c8c"/>
<rect x="558.0" y="579.0" width="3.0" height="3.0" fill="#8c8c8c"/>
<rect x="560.3" y="577.0" width="3.0" height="3.0" fill="#8c8c8c"/>
<rect x="562.7" y="574.5" width="3.0" height="3.0" fill="#8c8c8c"/>
<rect x="565.1" y="572.3" width="3.0" height="3.0" fill="#8c8c8c"/>
<rect x="567.5" y="574.2" width="3.0" height="3.0" fill="#8c8c8c"/>
<rect x="569.9" y="574.3" width="3.0" height="3.0" fill="#8c8c8c"/>
<rect x="572.2" y="574.4" width="3.0" height="3.0" fill="#8c8c8c"/>
<rect x="574.6" y="574.6" width="3.0" height="3.0" fill="#8c8c8c"/>
<rect x="577.0" y="574.7" width="3.0" height="3.0" fill="#8c8c8c"/>
<rect x="579.4" y="574.7" width="3.0" height="3.0" fill="#8c8c8c"/>
<rect x="581.7" y="574.7" width="3.0" height="3.0" fill="#8c8c8c"/>
<rect x="584.1" y="574.7" width="3.0" height="3.0" fill="#8c8c8c"/>
<rect x="586.5" y="572.6" width="3.0" height="3.0" fill="#8c8c8c"/>
<rect x="588.9" y="570.4" width="3.0" height="3.0" fill="#8c8c8c"/>
<rect x="591.3" y="569.0" width="3.0" height="3.0" fill="#8c8c8c"/>
<rect x="593.6" y="568.0" width="3.0" height="3.0" fill="#8c8c8c"/>
<rect x="596.0" y="568.6" width="3.0" height="3.0" fill="#8c8c8c"/>
<rect x="598.4" y="569.2" width="3.0" height="3.0" fill="#8c8c8c"/>
<rect x="600.8" y="569.7" width="3.0" height="3.0" fill="#8c8c8c"/>
<rect x="603.2" y="569.4" width="3.0" height="3.0" fill="#8c8c8c"/>
<rect x="605.5" y="569.2" width="3.0" height="3.0" fill="#8c8c8c"/>
<rect x="607.9" y="569.0" width="3.0" height="3.0" fill="#8c8c8c"/>
<rect x="610.3" y="568.3" width="3.0" height="3.0" fill="#8c8c8c"/>
<rect x="612.7" y="567.5" width="3.0" height="3.0" fill="#8c8c8c"/>
<rect x="615.0" y="566.6" width="3.0" height="3.0" fill="#8c8c8c"/>
<rect x="617.4" y="564.6" width="3.0" height="3.0" fill="#8c8c8c"/>
<rect x="619.8" y="563.2" width="3.0" height="3.0" fill="#8c8c8c"/>
<rect x="622.2" y="563.8" width="3.0" height="3.0" fill="#8c8c8c"/>
<rect x="624.6" y="563.4" width="3.0" height="3.0" fill="#8c8c8c"/>
<rect x="626.9" y="561.4" width="3.0" height="3.0" fill="#8c8c8c"/>
<rect x="629.3" y="557.6" width="3.0" height="3.0" fill="#8c8c8c"/>
<rect x="631.7" y="552.0" width="3.0" height="3.0" fill="#8c8c8c"/>
<rect x="634.1" y="546.5" width="3.0" height="3.0" fill="#8c8c8c"/>
<rect x="636.5" y="546.5" width="3.0" height="3.0" fill="#8c8c8c"/>
<rect x="638.8" y="547.1" width="3.0" height="3.0" fill="#8c8c8c"/>
<rect x="641.2" y="547.7" width="3.0" height="3.0" fill="#8c8c8c"/>
<rect x="643.6" y="548.2" width="3.0" height="3.0" fill="#8c8c8c"/>
<rect x="646.0" y="548.6" width="3.0" height="3.0" fill="#8c8c8c"/>
<rect x="648.3" y="549.0" width="3.0" height="3.0" fill="#8c8c8c"/>
<rect x="650.7" y="549.3" width="3.0" height="3.0" fill="#8c8c8c"/>
<rect x="653.1" y="549.7" width="3.0" height="3.0" fill="#8c8c8c"/>
<rect x="655.5" y="550.2" width="3.0" height="3.0" fill="#8c8c8c"/>
<rect x="657.9" y="550.8" width="3.0" height="3.0" fill="#8c8c8c"/>
<rect x="660.2" y="551.4" width="3.0" height="3.0" fill="#8c8c8c"/>
<rect x="662.6" y="552.0" width="3.0" height="3.0" fill="#8c8c8c"/>
<rect x="665.0" y="552.6" width="3.0" height="3.0" fill="#8c8c8c"/>
<path d="M466.7,585.3V586.6M465.7,585.3h2.0M465.7,586.6h2.0" stroke="#444" stroke-width="0.6" fill="none"/>
<path d="M468.1,585.4V586.8M467.1,585.4h2.0M467.1,586.8h2.0" stroke="#444" stroke-width="0.6" fill="none"/>
<path d="M469.6,585.6V586.9M468.6,585.6h2.0M468.6,586.9h2.0" stroke="#444" stroke-width="0.6" fill="none"/>
<path d="M471.0,585.7V587.0M470.0,585.7h2.0M470.0,587.0h2.0" stroke="#444" stroke-width="0.6" fill="none"/>
<path d="M472.4,585.8V587.2M471.4,585.8h2.0M471.4,587.2h2.0" stroke="#444" stroke-width="0.6" fill="none"/>
<path d="M473.8,586.0V587.3M472.8,586.0h2.0M472.8,587.3h2.0" stroke="#444" stroke-width="0.6" fill="none"/>
<path d="M475.3,586.3V587.6M474.3,586.3h2.0M474.3,587.6h2.0" stroke="#444" stroke-width="0.6" fill="none"/>
<path d="M476.7,587.0V588.3M475.7,587.0h2.0M475.7,588.3h2.0" stroke="#444" stroke-width="0.6" fill="none"/>
<path d="M478.1,587.6V588.9M477.1,587.6h2.0M477.1,588.9h2.0" stroke="#444" stroke-width="0.6" fill="none"/>
<path d="M479.5,588.3V589.6M478.5,588.3h2.0M478.5,589.6h2.0" stroke="#444" stroke-width="0.6" fill="none"/>
<path d="M481.0,588.8V590.1M480.0,588.8h2.0M480.0,590.1h2.0" stroke="#444" stroke-width="0.6" fill="none"/>
<path d="M482.4,589.2V590.6M481.4,589.2h2.0M481.4,590.6h2.0" stroke="#444" stroke-width="0.6" fill="none"/>
<path d="M483.8,589.7V591.0M482.8,589.7h2.0M482.8,591.0h2.0" stroke="#444" stroke-width="0.6" fill="none"/>
<path d="M485.3,589.9V591.2M484.3,589.9h2.0M484.3,591.2h2.0" stroke="#444" stroke-width="0.6" fill="none"/>
<path d="M486.7,590.1V591.4M485.7,590.1h2.0M485.7,591.4h2.0" stroke="#444" stroke-width="0.6" fill="none"/>
<path d="M488.1,590.2V591.5M487.1,590.2h2.0M487.1,591.5h2.0" stroke="#444" stroke-width="0.6" fill="none"/>
<path d="M489.5,590.4V591.7M488.5,590.4h2.0M488.5,591.7h2.0" stroke="#444" stroke-width="0.6" fill="none"/>
<path d="M491.0,590.6V591.9M490.0,590.6h2.0M490.0,591.9h2.0" stroke="#444" stroke-width="0.6" fill="none"/>
<path d="M492.4,590.7V592.0M491.4,590.7h2.0M491.4,592.0h2.0" stroke="#444" stroke-width="0.6" fill="none"/>
<path d="M493.8,590.9V592.2M492.8,590.9h2.0M492.8,592.2h2.0" stroke="#444" stroke-width="0.6" fill="none"/>
<path d="M495.2,591.0V592.4M494.2,591.0h2.0M494.2,592.4h2.0" stroke="#444" stroke-width="0.6" fill="none"/>
<path d="M496.7,591.2V592.5M495.7,591.2h2.0M495.7,592.5h2.0" stroke="#444" stroke-width="0.6" fill="none"/>
<path d="M498.1,591.4V592.7M497.1,591.4h2.0M497.1,592.7h2.0" stroke="#444" stroke-width="0.6" fill="none"/>
<path d="M499.5,591.5V592.9M498.5,591.5h2.0M498.5,592.9h2.0" stroke="#444" stroke-width="0.6" fill="none"/>
<path d="M501.0,591.7V593.0M500.0,591.7h2.0M500.0,593.0h2.0" stroke="#444" stroke-width="0.6" fill="none"/>
<path d="M502.4,591.8V593.2M501.4,591.8h2.0M501.4,593.2h2.0" stroke="#444" stroke-width="0.6" fill="none"/>
<path d="M503.8,592.0V593.3M502.8,592.0h2.0M502.8,593.3h2.0" stroke="#444" stroke-width="0.6" fill="none"/>
<path d="M505.2,592.1V593.5M504.2,592.1h2.0M504.2,593.5h2.0" stroke="#444" stroke-width="0.6" fill="none"/>
<path d="M506.7,592.3V593.6M505.7,592.3h2.0M505.7,593.6h2.0" stroke="#444" stroke-width="0.6" fill="none"/>
<path d="M508.1,592.5V593.8M507.1,592.5h2.0M507.1,593.8h2.0" stroke="#444" stroke-width="0.6" fill="none"/>
<path d="M509.5,592.6V593.9M508.5,592.6h2.0M508.5,593.9h2.0" stroke="#444" stroke-width="0.6" fill="none"/>
<path d="M510.9,592.8V594.1M509.9,592.8h2.0M509.9,594.1h2.0" stroke="#444" stroke-width="0.6" fill="none"/>
<path d="M512.4,593.2V594.5M511.4,593.2h2.0M511.4,594.5h2.0" stroke="#444" stroke-width="0.6" fill="none"/>
<path d="M513.8,593.5V594.8M512.8,593.5h2.0M512.8,594.8h2.0" stroke="#444" stroke-width="0.6" fill="none"/>
<path d="M515.2,593.8V595.1M514.2,593.8h2.0M514.2,595.1h2.0" stroke="#444" stroke-width="0.6" fill="none"/>
<path d="M516.6,594.1V595.5M515.6,594.1h2.0M515.6,595.5h2.0" stroke="#444" stroke-width="0.6" fill="none"/>
<path d="M518.1,594.5V595.8M517.1,594.5h2.0M517.1,595.8h2.0" stroke="#444" stroke-width="0.6" fill="none"/>
<path d="M519.5,594.9V596.2M518.5,594.9h2.0M518.5,596.2h2.0" stroke="#444" stroke-width="0.6" fill="none"/>
<path d="M520.9,595.2V596.6M519.9,595.2h2.0M519.9,596.6h2.0" stroke="#444" stroke-width="0.6" fill="none"/>
<path d="M522.4,595.6V596.9M521.4,595.6h2.0M521.4,596.9h2.0" stroke="#444" stroke-width="0.6" fill="none"/>
<path d="M523.8,595.7V597.0M522.8,595.7h2.0M522.8,597.0h2.0" stroke="#444" stroke-width="0.6" fill="none"/>
<path d="M525.2,595.8V597.1M524.2,595.8h2.0M524.2,597.1h2.0" stroke="#444" stroke-width="0.6" fill="none"/>
<path d="M526.6,595.9V597.2M525.6,595.9h2.0M525.6,597.2h2.0" stroke="#444" stroke-width="0.6" fill="none"/>
<path d="M528.1,596.0V597.3M527.1,596.0h2.0M527.1,597.3h2.0" stroke="#444" stroke-width="0.6" fill="none"/>
<path d="M529.5,596.1V597.4M528.5,596.1h2.0M528.5,597.4h2.0" stroke="#444" stroke-width="0.6" fill="none"/>
<path d="M530.9,596.1V597.5M529.9,596.1h2.0M529.9,597.5h2.0" stroke="#444" stroke-width="0.6" fill="none"/>
<path d="M532.3,596.2V597.6M531.3,596.2h2.0M531.3,597.6h2.0" stroke="#444" stroke-width="0.6" fill="none"/>
<path d="M533.8,596.3V597.7M532.8,596.3h2.0M532.8,597.7h2.0" stroke="#444" stroke-width="0.6" fill="none"/>
<path d="M535.2,596.5V597.8M534.2,596.5h2.0M534.2,597.8h2.0" stroke="#444" stroke-width="0.6" fill="none"/>
<path d="M536.6,596.6V597.9M535.6,596.6h2.0M535.6,597.9h2.0" stroke="#444" stroke-width="0.6" fill="none"/>
<path d="M538.1,596.7V598.1M537.1,596.7h2.0M537.1,598.1h2.0" stroke="#444" stroke-width="0.6" fill="none"/>
<path d="M539.5,596.9V598.2M538.5,596.9h2.0M538.5,598.2h2.0" stroke="#444" stroke-width="0.6" fill="none"/>
<path d="M540.9,597.0V598.3M539.9,597.0h2.0M539.9,598.3h2.0" stroke="#444" stroke-width="0.6" fill="none"/>
<path d="M542.3,597.1V598.5M541.3,597.1h2.0M541.3,598.5h2.0" stroke="#444" stroke-width="0.6" fill="none"/>
<path d="M543.8,597.3V598.6M542.8,597.3h2.0M542.8,598.6h2.0" stroke="#444" stroke-width="0.6" fill="none"/>
<path d="M545.2,597.4V598.8M544.2,597.4h2.0M544.2,598.8h2.0" stroke="#444" stroke-width="0.6" fill="none"/>
<path d="M546.6,597.6V598.9M545.6,597.6h2.0M545.6,598.9h2.0" stroke="#444" stroke-width="0.6" fill="none"/>
<path d="M548.0,597.7V599.0M547.0,597.7h2.0M547.0,599.0h2.0" stroke="#444" stroke-width="0.6" fill="none"/>
<path d="M549.5,597.8V599.2M548.5,597.8h2.0M548.5,599.2h2.0" stroke="#444" stroke-width="0.6" fill="none"/>
<path d="M550.9,598.0V599.3M549.9,598.0h2.0M549.9,599.3h2.0" stroke="#444" stroke-width="0.6" fill="none"/>
<path d="M552.3,598.1V599.4M551.3,598.1h2.0M551.3,599.4h2.0" stroke="#444" stroke-width="0.6" fill="none"/>
<path d="M553.8,598.2V599.5M552.8,598.2h2.0M552.8,599.5h2.0" stroke="#444" stroke-width="0.6" fill="none"/>
<path d="M555.2,598.3V599.7M554.2,598.3h2.0M554.2,599.7h2.0" stroke="#444" stroke-width="0.6" fill="none"/>
<path d="M556.6,598.4V599.8M555.6,598.4h2.0M555.6,599.8h2.0" stroke="#444" stroke-width="0.6" fill="none"/>
<path d="M558.0,598.6V599.9M557.0,598.6h2.0M557.0,599.9h2.0" stroke="#444" stroke-width="0.6" fill="none"/>
<path d="M559.5,598.7V600.0M558.5,598.7h2.0M558.5,600.0h2.0" stroke="#444" stroke-width="0.6" fill="none"/>
<path d="M560.9,598.8V600.1M559.9,598.8h2.0M559.9,600.1h2.0" stroke="#444" stroke-width="0.6" fill="none"/>
<path d="M562.3,598.9V600.2M561.3,598.9h2.0M561.3,600.2h2.0" stroke="#444" stroke-width="0.6" fill="none"/>
<path d="M563.7,599.0V600.4M562.7,599.0h2.0M562.7,600.4h2.0" stroke="#444" stroke-width="0.6" fill="none"/>
<path d="M565.2,599.1V600.5M564.2,599.1h2.0M564.2,600.5h2.0" stroke="#444" stroke-width="0.6" fill="none"/>
<path d="M566.6,599.3V600.6M565.6,599.3h2.0M565.6,600.6h2.0" stroke="#444" stroke-width="0.6" fill="none"/>
<path d="M568.0,599.4V600.7M567.0,599.4h2.0M567.0,600.7h2.0" stroke="#444" stroke-width="0.6" fill="none"/>
<path d="M569.5,599.5V600.8M568.5,599.5h2.0M568.5,600.8h2.0" stroke="#444" stroke-width="0.6" fill="none"/>
<path d="M570.9,599.6V600.9M569.9,599.6h2.0M569.9,600.9h2.0" stroke="#444" stroke-width="0.6" fill="none"/>
<path d="M572.3,599.7V601.1M571.3,599.7h2.0M571.3,601.1h2.0" stroke="#444" stroke-width="0.6" fill="none"/>
<path d="M573.7,599.8V601.2M572.7,599.8h2.0M572.7,601.2h2.0" stroke="#444" stroke-width="0.6" fill="none"/>
<path d="M575.2,600.0V601.3M574.2,600.0h2.0M574.2,601.3h2.0" stroke="#444" stroke-width="0.6" fill="none"/>
<path d="M576.6,600.1V601.4M575.6,600.1h2.0M575.6,601.4h2.0" stroke="#444" stroke-width="0.6" fill="none"/>
<path d="M578.0,600.2V601.5M577.0,600.2h2.0M577.0,601.5h2.0" stroke="#444" stroke-width="0.6" fill="none"/>
<path d="M579.4,600.2V601.5M578.4,600.2h2.0M578.4,601.5h2.0" stroke="#444" stroke-width="0.6" fill="none"/>
<path d="M580.9,600.0V601.4M579.9,600.0h2.0M579.9,601.4h2.0" stroke="#444" stroke-width="0.6" fill="none"/>
<path d="M582.3,599.9V601.3M581.3,599.9h2.0M581.3,601.3h2.0" stroke="#444" stroke-width="0.6" fill="none"/>
<path d="M583.7,599.8V601.1M582.7,599.8h2.0M582.7,601.1h2.0" stroke="#444" stroke-width="0.6" fill="none"/>
<path d="M585.1,599.7V601.0M584.1,599.7h2.0M584.1,601.0h2.0" stroke="#444" stroke-width="0.6" fill="none"/>
<path d="M586.6,599.6V600.9M585.6,599.6h2.0M585.6,600.9h2.0" stroke="#444" stroke-width="0.6" fill="none"/>
<path d="M588.0,599.5V600.8M587.0,599.5h2.0M587.0,600.8h2.0" stroke="#444" stroke-width="0.6" fill="none"/>
<path d="M589.4,599.4V600.7M588.4,599.4h2.0M588.4,600.7h2.0" stroke="#444" stroke-width="0.6" fill="none"/>
<path d="M590.9,599.3V600.6M589.9,599.3h2.0M589.9,600.6h2.0" stroke="#444" stroke-width="0.6" fill="none"/>
<path d="M592.3,599.1V600.5M591.3,599.1h2.0M591.3,600.5h2.0" stroke="#444" stroke-width="0.6" fill="none"/>
<path d="M593.7,599.0V600.4M592.7,599.0h2.0M592.7,600.4h2.0" stroke="#444" stroke-width="0.6" fill="none"/>
<path d="M595.1,598.9V600.2M594.1,598.9h2.0M594.1,600.2h2.0" stroke="#444" stroke-width="0.6" fill="none"/>
<path d="M596.6,598.8V600.1M595.6,598.8h2.0M595.6,600.1h2.0" stroke="#444" stroke-width="0.6" fill="none"/>
<path d="M598.0,598.7V600.0M597.0,598.7h2.0M597.0,600.0h2.0" stroke="#444" stroke-width="0.6" fill="none"/>
<path d="M599.4,598.6V599.9M598.4,598.6h2.0M598.4,599.9h2.0" stroke="#444" stroke-width="0.6" fill="none"/>
<path d="M600.8,598.5V599.9M599.8,598.5h2.0M599.8,599.9h2.0" stroke="#444" stroke-width="0.6" fill="none"/>
<path d="M602.3,598.5V599.8M601.3,598.5h2.0M601.3,599.8h2.0" stroke="#444" stroke-width="0.6" fill="none"/>
<path d="M603.7,598.4V599.7M602.7,598.4h2.0M602.7,599.7h2.0" stroke="#444" stroke-width="0.6" fill="none"/>
<path d="M605.1,598.3V599.6M604.1,598.3h2.0M604.1,599.6h2.0" stroke="#444" stroke-width="0.6" fill="none"/>
<path d="M606.6,598.2V599.6M605.6,598.2h2.0M605.6,599.6h2.0" stroke="#444" stroke-width="0.6" fill="none"/>
<path d="M608.0,598.2V599.5M607.0,598.2h2.0M607.0,599.5h2.0" stroke="#444" stroke-width="0.6" fill="none"/>
<path d="M609.4,598.1V599.4M608.4,598.1h2.0M608.4,599.4h2.0" stroke="#444" stroke-width="0.6" fill="none"/>
<path d="M610.8,598.0V599.3M609.8,598.0h2.0M609.8,599.3h2.0" stroke="#444" stroke-width="0.6" fill="none"/>
<path d="M612.3,597.9V599.3M611.3,597.9h2.0M611.3,599.3h2.0" stroke="#444" stroke-width="0.6" fill="none"/>
<path d="M613.7,597.9V599.2M612.7,597.9h2.0M612.7,599.2h2.0" stroke="#444" stroke-width="0.6" fill="none"/>
<path d="M615.1,597.8V599.1M614.1,597.8h2.0M614.1,599.1h2.0" stroke="#444" stroke-width="0.6" fill="none"/>
<path d="M616.5,597.7V599.0M615.5,597.7h2.0M615.5,599.0h2.0" stroke="#444" stroke-width="0.6" fill="none"/>
<path d="M618.0,597.5V598.9M617.0,597.5h2.0M617.0,598.9h2.0" stroke="#444" stroke-width="0.6" fill="none"/>
<path d="M619.4,597.3V598.6M618.4,597.3h2.0M618.4,598.6h2.0" stroke="#444" stroke-width="0.6" fill="none"/>
<path d="M620.8,597.0V598.4M619.8,597.0h2.0M619.8,598.4h2.0" stroke="#444" stroke-width="0.6" fill="none"/>
<path d="M622.3,596.8V598.1M621.3,596.8h2.0M621.3,598.1h2.0" stroke="#444" stroke-width="0.6" fill="none"/>
<path d="M623.7,596.5V597.9M622.7,596.5h2.0M622.7,597.9h2.0" stroke="#444" stroke-width="0.6" fill="none"/>
<path d="M625.1,596.3V597.6M624.1,596.3h2.0M624.1,597.6h2.0" stroke="#444" stroke-width="0.6" fill="none"/>
<path d="M626.5,596.0V597.4M625.5,596.0h2.0M625.5,597.4h2.0" stroke="#444" stroke-width="0.6" fill="none"/>
<path d="M628.0,595.9V597.3M627.0,595.9h2.0M627.0,597.3h2.0" stroke="#444" stroke-width="0.6" fill="none"/>
<path d="M629.4,595.9V597.2M628.4,595.9h2.0M628.4,597.2h2.0" stroke="#444" stroke-width="0.6" fill="none"/>
<path d="M630.8,595.8V597.1M629.8,595.8h2.0M629.8,597.1h2.0" stroke="#444" stroke-width="0.6" fill="none"/>
<path d="M632.2,595.7V597.0M631.2,595.7h2.0M631.2,597.0h2.0" stroke="#444" stroke-width="0.6" fill="none"/>
<path d="M633.7,595.6V597.0M632.7,595.6h2.0M632.7,597.0h2.0" stroke="#444" stroke-width="0.6" fill="none"/>
<path d="M635.1,595.5V596.9M634.1,595.5h2.0M634.1,596.9h2.0" stroke="#444" stroke-width="0.6" fill="none"/>
<path d="M636.5,595.5V596.8M635.5,595.5h2.0M635.5,596.8h2.0" stroke="#444" stroke-width="0.6" fill="none"/>
<path d="M638.0,595.4V596.7M637.0,595.4h2.0M637.0,596.7h2.0" stroke="#444" stroke-width="0.6" fill="none"/>
<path d="M639.4,595.3V596.6M638.4,595.3h2.0M638.4,596.6h2.0" stroke="#444" stroke-width="0.6" fill="none"/>
<path d="M640.8,595.2V596.5M639.8,595.2h2.0M639.8,596.5h2.0" stroke="#444" stroke-width="0.6" fill="none"/>
<path d="M642.2,595.1V596.5M641.2,595.1h2.0M641.2,596.5h2.0" stroke="#444" stroke-width="0.6" fill="none"/>
<path d="M643.7,595.1V596.4M642.7,595.1h2.0M642.7,596.4h2.0" stroke="#444" stroke-width="0.6" fill="none"/>
<path d="M645.1,595.0V596.3M644.1,595.0h2.0M644.1,596.3h2.0" stroke="#444" stroke-width="0.6" fill="none"/>
<path d="M646.5,594.9V596.2M645.5,594.9h2.0M645.5,596.2h2.0" stroke="#444" stroke-width="0.6" fill="none"/>
<path d="M647.9,594.7V596.1M646.9,594.7h2.0M646.9,596.1h2.0" stroke="#444" stroke-width="0.6" fill="none"/>
<path d="M649.4,594.6V595.9M648.4,594.6h2.0M648.4,595.9h2.0" stroke="#444" stroke-width="0.6" fill="none"/>
<path d="M650.8,594.5V595.8M649.8,594.5h2.0M649.8,595.8h2.0" stroke="#444" stroke-width="0.6" fill="none"/>
<path d="M652.2,594.3V595.6M651.2,594.3h2.0M651.2,595.6h2.0" stroke="#444" stroke-width="0.6" fill="none"/>
<path d="M653.7,594.2V595.5M652.7,594.2h2.0M652.7,595.5h2.0" stroke="#444" stroke-width="0.6" fill="none"/>
<path d="M655.1,594.0V595.4M654.1,594.0h2.0M654.1,595.4h2.0" stroke="#444" stroke-width="0.6" fill="none"/>
<path d="M656.5,593.9V595.2M655.5,593.9h2.0M655.5,595.2h2.0" stroke="#444" stroke-width="0.6" fill="none"/>
<path d="M657.9,593.8V595.1M656.9,593.8h2.0M656.9,595.1h2.0" stroke="#444" stroke-width="0.6" fill="none"/>
<path d="M659.4,593.6V595.0M658.4,593.6h2.0M658.4,595.0h2.0" stroke="#444" stroke-width="0.6" fill="none"/>
<path d="M660.8,593.5V594.8M659.8,593.5h2.0M659.8,594.8h2.0" stroke="#444" stroke-width="0.6" fill="none"/>
<path d="M662.2,593.3V594.7M661.2,593.3h2.0M661.2,594.7h2.0" stroke="#444" stroke-width="0.6" fill="none"/>
<path d="M663.6,593.2V594.5M662.6,593.2h2.0M662.6,594.5h2.0" stroke="#444" stroke-width="0.6" fill="none"/>
<path d="M665.1,593.1V594.4M664.1,593.1h2.0M664.1,594.4h2.0" stroke="#444" stroke-width="0.6" fill="none"/>
<path d="M666.5,592.9V594.3M665.5,592.9h2.0M665.5,594.3h2.0" stroke="#444" stroke-width="0.6" fill="none"/>
<polyline points="466.7,586.0 468.1,586.1 469.6,586.2 471.0,586.4 472.4,586.5 473.8,586.6 475.3,587.0 476.7,587.6 478.1,588.3 479.5,588.9 481.0,589.4 482.4,589.9 483.8,590.4 485.3,590.6 486.7,590.7 488.1,590.9 489.5,591.0 491.0,591.2 492.4,591.4 493.8,591.5 495.2,591.7 496.7,591.9 498.1,592.0 499.5,592.2 501.0,592.3 502.4,592.5 503.8,592.7 505.2,592.8 506.7,593.0 508.1,593.1 509.5,593.3 510.9,593.5 512.4,593.8 513.8,594.1 515.2,594.5 516.6,594.8 518.1,595.2 519.5,595.5 520.9,595.9 522.4,596.2 523.8,596.3 525.2,596.4 526.6,596.5 528.1,596.6 529.5,596.7 530.9,596.8 532.3,596.9 533.8,597.0 535.2,597.1 536.6,597.3 538.1,597.4 539.5,597.5 540.9,597.7 542.3,597.8 543.8,598.0 545.2,598.1 546.6,598.2 548.0,598.4 549.5,598.5 550.9,598.6 552.3,598.7 553.8,598.9 555.2,599.0 556.6,599.1 558.0,599.2 559.5,599.3 560.9,599.5 562.3,599.6 563.7,599.7 565.2,599.8 566.6,599.9 568.0,600.0 569.5,600.2 570.9,600.3 572.3,600.4 573.7,600.5 575.2,600.6 576.6,600.7 578.0,600.9 579.4,600.8 580.9,600.7 582.3,600.6 583.7,600.5 585.1,600.4 586.6,600.3 588.0,600.1 589.4,600.0 590.9,599.9 592.3,599.8 593.7,599.7 595.1,599.6 596.6,599.5 598.0,599.3 599.4,599.3 600.8,599.2 602.3,599.1 603.7,599.0 605.1,599.0 606.6,598.9 608.0,598.8 609.4,598.8 610.8,598.7 612.3,598.6 613.7,598.5 615.1,598.5 616.5,598.4 618.0,598.2 619.4,597.9 620.8,597.7 622.3,597.4 623.7,597.2 625.1,596.9 626.5,596.7 628.0,596.6 629.4,596.5 630.8,596.4 632.2,596.4 633.7,596.3 635.1,596.2 636.5,596.1 638.0,596.0 639.4,596.0 640.8,595.9 642.2,595.8 643.7,595.7 645.1,595.6 646.5,595.5 647.9,595.4 649.4,595.3 650.8,595.1 652.2,595.0 653.7,594.8 655.1,594.7 656.5,594.6 657.9,594.4 659.4,594.3 660.8,594.1 662.2,594.0 663.6,593.9 665.1,593.7 666.5,593.6" fill="none" stroke="#000" stroke-width="1.0"/>
<circle cx="466.7" cy="586.0" r="1.9" fill="#000" stroke="none" stroke-width="0"/>
<circle cx="468.1" cy="586.1" r="1.9" fill="#000" stroke="none" stroke-width="0"/>
<circle cx="469.6" cy="586.2" r="1.9" fill="#000" stroke="none" stroke-width="0"/>
<circle cx="471.0" cy="586.4" r="1.9" fill="#000" stroke="none" stroke-width="0"/>
<circle cx="472.4" cy="586.5" r="1.9" fill="#000" stroke="none" stroke-width="0"/>
<circle cx="473.8" cy="586.6" r="1.9" fill="#000" stroke="none" stroke-width="0"/>
<circle cx="475.3" cy="587.0" r="1.9" fill="#000" stroke="none" stroke-width="0"/>
<circle cx="476.7" cy="587.6" r="1.9" fill="#000" stroke="none" stroke-width="0"/>
<circle cx="478.1" cy="588.3" r="1.9" fill="#000" stroke="none" stroke-width="0"/>
<circle cx="479.5" cy="588.9" r="1.9" fill="#000" stroke="none" stroke-width="0"/>
<circle cx="481.0" cy="589.4" r="1.9" fill="#000" stroke="none" stroke-width="0"/>
<circle cx="482.4" cy="589.9" r="1.9" fill="#000" stroke="none" stroke-width="0"/>
<circle cx="483.8" cy="590.4" r="1.9" fill="#000" stroke="none" stroke-width="0"/>
<circle cx="485.3" cy="590.6" r="1.9" fill="#000" stroke="none" stroke-width="0"/>
<circle cx="486.7" cy="590.7" r="1.9" fill="#000" stroke="none" stroke-width="0"/>
<circle cx="488.1" cy="590.9" r="1.9" fill="#000" stroke="none" stroke-width="0"/>
<circle cx="489.5" cy="591.0" r="1.9" fill="#000" stroke="none" stroke-width="0"/>
<circle cx="491.0" cy="591.2" r="1.9" fill="#000" stroke="none" stroke-width="0"/>
<circle cx="492.4" cy="591.4" r="1.9" fill="#000" stroke="none" stroke-width="0"/>
<circle cx="493.8" cy="591.5" r="1.9" fill="#000" stroke="none" stroke-width="0"/>
<circle cx="495.2" cy="591.7" r="1.9" fill="#000" stroke="none" stroke-width="0"/>
<circle cx="496.7" cy="591.9" r="1.9" fill="#000" stroke="none" stroke-width="0"/>
<circle cx="498.1" cy="592.0" r="1.9" fill="#000" stroke="none" stroke-width="0"/>
<circle cx="499.5" cy="592.2" r="1.9" fill="#000" stroke="none" stroke-width="0"/>
<circle cx="501.0" cy="592.3" r="1.9" fill="#000" stroke="none" stroke-width="0"/>
<circle cx="502.4" cy="592.5" r="1.9" fill="#000" stroke="none" stroke-width="0"/>
<circle cx="503.8" cy="592.7" r="1.9" fill="#000" stroke="none" stroke-width="0"/>
<circle cx="505.2" cy="592.8" r="1.9" fill="#000" stroke="none" stroke-width="0"/>
<circle cx="506.7" cy="593.0" r="1.9" fill="#000" stroke="none" stroke-width="0"/>
<circle cx="508.1" cy="593.1" r="1.9" fill="#000" stroke="none" stroke-width="0"/>
<circle cx="509.5" cy="593.3" r="1.9" fill="#000" stroke="none" stroke-width="0"/>
<circle cx="510.9" cy="593.5" r="1.9" fill="#000" stroke="none" stroke-width="0"/>
<circle cx="512.4" cy="593.8" r="1.9" fill="#000" stroke="none" stroke-width="0"/>
<circle cx="513.8" cy="594.1" r="1.9" fill="#000" stroke="none" stroke-width="0"/>
<circle cx="515.2" cy="594.5" r="1.9" fill="#000" stroke="none" stroke-width="0"/>
<circle cx="516.6" cy="594.8" r="1.9" fill="#000" stroke="none" stroke-width="0"/>
<circle cx="518.1" cy="595.2" r="1.9" fill="#000" stroke="none" stroke-width="0"/>
<circle cx="519.5" cy="595.5" r="1.9" fill="#000" stroke="none" stroke-width="0"/>
<circle cx="520.9" cy="595.9" r="1.9" fill="#000" stroke="none" stroke-width="0"/>
<circle cx="522.4" cy="596.2" r="1.9" fill="#000" stroke="none" stroke-width="0"/>
<circle cx="523.8" cy="596.3" r="1.9" fill="#000" stroke="none" stroke-width="0"/>
<circle cx="525.2" cy="596.4" r="1.9" fill="#000" stroke="none" stroke-width="0"/>
<circle cx="526.6" cy="596.5" r="1.9" fill="#000" stroke="none" stroke-width="0"/>
<circle cx="528.1" cy="596.6" r="1.9" fill="#000" stroke="none" stroke-width="0"/>
<circle cx="529.5" cy="596.7" r="1.9" fill="#000" stroke="none" stroke-width="0"/>
<circle cx="530.9" cy="596.8" r="1.9" fill="#000" stroke="none" stroke-width="0"/>
<circle cx="532.3" cy="596.9" r="1.9" fill="#000" stroke="none" stroke-width="0"/>
<circle cx="533.8" cy="597.0" r="1.9" fill="#000" stroke="none" stroke-width="0"/>
<circle cx="535.2" cy="597.1" r="1.9" fill="#000" stroke="none" stroke-width="0"/>
<circle cx="536.6" cy="597.3" r="1.9" fill="#000" stroke="none" stroke-width="0"/>
<circle cx="538.1" cy="597.4" r="1.9" fill="#000" stroke="none" stroke-width="0"/>
<circle cx="539.5" cy="597.5" r="1.9" fill="#000" stroke="none" stroke-width="0"/>
<circle cx="540.9" cy="597.7" r="1.9" fill="#000" stroke="none" stroke-width="0"/>
<circle cx="542.3" cy="597.8" r="1.9" fill="#000" stroke="none" stroke-width="0"/>
<circle cx="543.8" cy="598.0" r="1.9" fill="#000" stroke="none" stroke-width="0"/>
<circle cx="545.2" cy="598.1" r="1.9" fill="#000" stroke="none" stroke-width="0"/>
<circle cx="546.6" cy="598.2" r="1.9" fill="#000" stroke="none" stroke-width="0"/>
<circle cx="548.0" cy="598.4" r="1.9" fill="#000" stroke="none" stroke-width="0"/>
<circle cx="549.5" cy="598.5" r="1.9" fill="#000" stroke="none" stroke-width="0"/>
<circle cx="550.9" cy="598.6" r="1.9" fill="#000" stroke="none" stroke-width="0"/>
<circle cx="552.3" cy="598.7" r="1.9" fill="#000" stroke="none" stroke-width="0"/>
<circle cx="553.8" cy="598.9" r="1.9" fill="#000" stroke="none" stroke-width="0"/>
<circle cx="555.2" cy="599.0" r="1.9" fill="#000" stroke="none" stroke-width="0"/>
<circle cx="556.6" cy="599.1" r="1.9" fill="#000" stroke="none" stroke-width="0"/>
<circle cx="558.0" cy="599.2" r="1.9" fill="#000" stroke="none" stroke-width="0"/>
<circle cx="559.5" cy="599.3" r="1.9" fill="#000" stroke="none" stroke-width="0"/>
<circle cx="560.9" cy="599.5" r="1.9" fill="#000" stroke="none" stroke-width="0"/>
<circle cx="562.3" cy="599.6" r="1.9" fill="#000" stroke="none" stroke-width="0"/>
<circle cx="563.7" cy="599.7" r="1.9" fill="#000" stroke="none" stroke-width="0"/>
<circle cx="565.2" cy="599.8" r="1.9" fill="#000" stroke="none" stroke-width="0"/>
<circle cx="566.6" cy="599.9" r="1.9" fill="#000" stroke="none" stroke-width="0"/>
<circle cx="568.0" cy="600.0" r="1.9" fill="#000" stroke="none" stroke-width="0"/>
<circle cx="569.5" cy="600.2" r="1.9" fill="#000" stroke="none" stroke-width="0"/>
<circle cx="570.9" cy="600.3" r="1.9" fill="#000" stroke="none" stroke-width="0"/>
<circle cx="572.3" cy="600.4" r="1.9" fill="#000" stroke="none" stroke-width="0"/>
<circle cx="573.7" cy="600.5" r="1.9" fill="#000" stroke="none" stroke-width="0"/>
<circle cx="575.2" cy="600.6" r="1.9" fill="#000" stroke="none" stroke-width="0"/>
<circle cx="576.6" cy="600.7" r="1.9" fill="#000" stroke="none" stroke-width="0"/>
<circle cx="578.0" cy="600.9" r="1.9" fill="#000" stroke="none" stroke-width="0"/>
<circle cx="579.4" cy="600.8" r="1.9" fill="#000" stroke="none" stroke-width="0"/>
<circle cx="580.9" cy="600.7" r="1.9" fill="#000" stroke="none" stroke-width="0"/>
<circle cx="582.3" cy="600.6" r="1.9" fill="#000" stroke="none" stroke-width="0"/>
<circle cx="583.7" cy="600.5" r="1.9" fill="#000" stroke="none" stroke-width="0"/>
<circle cx="585.1" cy="600.4" r="1.9" fill="#000" stroke="none" stroke-width="0"/>
<circle cx="586.6" cy="600.3" r="1.9" fill="#000" stroke="none" stroke-width="0"/>
<circle cx="588.0" cy="600.1" r="1.9" fill="#000" stroke="none" stroke-width="0"/>
<circle cx="589.4" cy="600.0" r="1.9" fill="#000" stroke="none" stroke-width="0"/>
<circle cx="590.9" cy="599.9" r="1.9" fill="#000" stroke="none" stroke-width="0"/>
<circle cx="592.3" cy="599.8" r="1.9" fill="#000" stroke="none" stroke-width="0"/>
<circle cx="593.7" cy="599.7" r="1.9" fill="#000" stroke="none" stroke-width="0"/>
<circle cx="595.1" cy="599.6" r="1.9" fill="#000" stroke="none" stroke-width="0"/>
<circle cx="596.6" cy="599.5" r="1.9" fill="#000" stroke="none" stroke-width="0"/>
<circle cx="598.0" cy="599.3" r="1.9" fill="#000" stroke="none" stroke-width="0"/>
<circle cx="599.4" cy="599.3" r="1.9" fill="#000" stroke="none" stroke-width="0"/>
<circle cx="600.8" cy="599.2" r="1.9" fill="#000" stroke="none" stroke-width="0"/>
<circle cx="602.3" cy="599.1" r="1.9" fill="#000" stroke="none" stroke-width="0"/>
<circle cx="603.7" cy="599.0" r="1.9" fill="#000" stroke="none" stroke-width="0"/>
<circle cx="605.1" cy="599.0" r="1.9" fill="#000" stroke="none" stroke-width="0"/>
<circle cx="606.6" cy="598.9" r="1.9" fill="#000" stroke="none" stroke-width="0"/>
<circle cx="608.0" cy="598.8" r="1.9" fill="#000" stroke="none" stroke-width="0"/>
<circle cx="609.4" cy="598.8" r="1.9" fill="#000" stroke="none" stroke-width="0"/>
<circle cx="610.8" cy="598.7" r="1.9" fill="#000" stroke="none" stroke-width="0"/>
<circle cx="612.3" cy="598.6" r="1.9" fill="#000" stroke="none" stroke-width="0"/>
<circle cx="613.7" cy="598.5" r="1.9" fill="#000" stroke="none" stroke-width="0"/>
<circle cx="615.1" cy="598.5" r="1.9" fill="#000" stroke="none" stroke-width="0"/>
<circle cx="616.5" cy="598.4" r="1.9" fill="#000" stroke="none" stroke-width="0"/>
<circle cx="618.0" cy="598.2" r="1.9" fill="#000" stroke="none" stroke-width="0"/>
<circle cx="619.4" cy="597.9" r="1.9" fill="#000" stroke="none" stroke-width="0"/>
<circle cx="620.8" cy="597.7" r="1.9" fill="#000" stroke="none" stroke-width="0"/>
<circle cx="622.3" cy="597.4" r="1.9" fill="#000" stroke="none" stroke-width="0"/>
<circle cx="623.7" cy="597.2" r="1.9" fill="#000" stroke="none" stroke-width="0"/>
<circle cx="625.1" cy="596.9" r="1.9" fill="#000" stroke="none" stroke-width="0"/>
<circle cx="626.5" cy="596.7" r="1.9" fill="#000" stroke="none" stroke-width="0"/>
<circle cx="628.0" cy="596.6" r="1.9" fill="#000" stroke="none" stroke-width="0"/>
<circle cx="629.4" cy="596.5" r="1.9" fill="#000" stroke="none" stroke-width="0"/>
<circle cx="630.8" cy="596.4" r="1.9" fill="#000" stroke="none" stroke-width="0"/>
<circle cx="632.2" cy="596.4" r="1.9" fill="#000" stroke="none" stroke-width="0"/>
<circle cx="633.7" cy="596.3" r="1.9" fill="#000" stroke="none" stroke-width="0"/>
<circle cx="635.1" cy="596.2" r="1.9" fill="#000" stroke="none" stroke-width="0"/>
<circle cx="636.5" cy="596.1" r="1.9" fill="#000" stroke="none" stroke-width="0"/>
<circle cx="638.0" cy="596.0" r="1.9" fill="#000" stroke="none" stroke-width="0"/>
<circle cx="639.4" cy="596.0" r="1.9" fill="#000" stroke="none" stroke-width="0"/>
<circle cx="640.8" cy="595.9" r="1.9" fill="#000" stroke="none" stroke-width="0"/>
<circle cx="642.2" cy="595.8" r="1.9" fill="#000" stroke="none" stroke-width="0"/>
<circle cx="643.7" cy="595.7" r="1.9" fill="#000" stroke="none" stroke-width="0"/>
<circle cx="645.1" cy="595.6" r="1.9" fill="#000" stroke="none" stroke-width="0"/>
<circle cx="646.5" cy="595.5" r="1.9" fill="#000" stroke="none" stroke-width="0"/>
<circle cx="647.9" cy="595.4" r="1.9" fill="#000" stroke="none" stroke-width="0"/>
<circle cx="649.4" cy="595.3" r="1.9" fill="#000" stroke="none" stroke-width="0"/>
<circle cx="650.8" cy="595.1" r="1.9" fill="#000" stroke="none" stroke-width="0"/>
<circle cx="652.2" cy="595.0" r="1.9" fill="#000" stroke="none" stroke-width="0"/>
<circle cx="653.7" cy="594.8" r="1.9" fill="#000" stroke="none" stroke-width="0"/>
<circle cx="655.1" cy="594.7" r="1.9" fill="#000" stroke="none" stroke-width="0"/>
<circle cx="656.5" cy="594.6" r="1.9" fill="#000" stroke="none" stroke-width="0"/>
<circle cx="657.9" cy="594.4" r="1.9" fill="#000" stroke="none" stroke-width="0"/>
<circle cx="659.4" cy="594.3" r="1.9" fill="#000" stroke="none" stroke-width="0"/>
<circle cx="660.8" cy="594.1" r="1.9" fill="#000" stroke="none" stroke-width="0"/>
<circle cx="662.2" cy="594.0" r="1.9" fill="#000" stroke="none" stroke-width="0"/>
<circle cx="663.6" cy="593.9" r="1.9" fill="#000" stroke="none" stroke-width="0"/>
<circle cx="665.1" cy="593.7" r="1.9" fill="#000" stroke="none" stroke-width="0"/>
<circle cx="666.5" cy="593.6" r="1.9" fill="#000" stroke="none" stroke-width="0"/>
<line x1="474" y1="544.4" x2="487.4" y2="544.4" stroke="#000" stroke-width="0.8"/>
<circle cx="480.7" cy="544.4" r="1.8" fill="#000" stroke="none" stroke-width="0"/>
<text x="493.6" y="542.4" font-size="12.2">Thapsigargin,</text>
<text x="493.6" y="554.0" font-size="12">2Ca<tspan font-size="7.4" dy="-4.1">2+</tspan><tspan dy="4.1"></tspan></text>
<line x1="574.7" y1="543.9" x2="588.2" y2="543.9" stroke="#8c8c8c" stroke-width="0.9"/>
<rect x="579.9" y="542.4" width="3" height="3" fill="#8c8c8c"/>
<text x="594.0" y="548.7" font-size="12">0Ca<tspan font-size="7.4" dy="-4.1">2+</tspan><tspan dy="4.1"></tspan></text>
<text x="0.2" y="702.6" font-size="31" font-weight="bold">D</text>
<rect x="57.7" y="694.5" width="86.0" height="8.1" fill="#a9a9a9"/>
<text x="102.9" y="690.7" font-size="12.3" text-anchor="middle">5 mM</text>
<rect x="143.7" y="694.5" width="86.0" height="8.1" fill="#555"/>
<text x="191.4" y="690.7" font-size="12.3" text-anchor="middle">10 mM</text>
<rect x="229.7" y="694.5" width="86.0" height="8.1" fill="#000"/>
<text x="279.3" y="690.7" font-size="12.3" text-anchor="middle">50 mM</text>
<line x1="40.5" y1="708.4" x2="40.5" y2="874" stroke="#5a5a5a" stroke-width="1"/>
<line x1="37.5" y1="708.4" x2="40.5" y2="708.4" stroke="#5a5a5a" stroke-width="1"/>
<text x="34.3" y="712.1" font-size="10.3" text-anchor="end" fill="#111">3.0</text>
<line x1="37.5" y1="749.8" x2="40.5" y2="749.8" stroke="#5a5a5a" stroke-width="1"/>
<text x="34.3" y="753.5" font-size="10.3" text-anchor="end" fill="#111">2.5</text>
<line x1="37.5" y1="791.2" x2="40.5" y2="791.2" stroke="#5a5a5a" stroke-width="1"/>
<text x="34.3" y="794.9" font-size="10.3" text-anchor="end" fill="#111">2.0</text>
<line x1="37.5" y1="832.6" x2="40.5" y2="832.6" stroke="#5a5a5a" stroke-width="1"/>
<text x="34.3" y="836.3" font-size="10.3" text-anchor="end" fill="#111">1.5</text>
<line x1="37.5" y1="874.0" x2="40.5" y2="874.0" stroke="#5a5a5a" stroke-width="1"/>
<text x="34.3" y="877.7" font-size="10.3" text-anchor="end" fill="#111">1.0</text>
<line x1="40.5" y1="874" x2="400.7" y2="874" stroke="#5a5a5a" stroke-width="1"/>
<line x1="40.5" y1="874" x2="40.5" y2="877" stroke="#5a5a5a" stroke-width="1"/>
<line x1="57.7" y1="874" x2="57.7" y2="877" stroke="#5a5a5a" stroke-width="1"/>
<line x1="74.9" y1="874" x2="74.9" y2="877" stroke="#5a5a5a" stroke-width="1"/>
<line x1="92.1" y1="874" x2="92.1" y2="877" stroke="#5a5a5a" stroke-width="1"/>
<line x1="109.3" y1="874" x2="109.3" y2="877" stroke="#5a5a5a" stroke-width="1"/>
<line x1="126.5" y1="874" x2="126.5" y2="877" stroke="#5a5a5a" stroke-width="1"/>
<line x1="143.7" y1="874" x2="143.7" y2="877" stroke="#5a5a5a" stroke-width="1"/>
<line x1="160.9" y1="874" x2="160.9" y2="877" stroke="#5a5a5a" stroke-width="1"/>
<line x1="178.1" y1="874" x2="178.1" y2="877" stroke="#5a5a5a" stroke-width="1"/>
<line x1="195.3" y1="874" x2="195.3" y2="877" stroke="#5a5a5a" stroke-width="1"/>
<line x1="212.5" y1="874" x2="212.5" y2="877" stroke="#5a5a5a" stroke-width="1"/>
<line x1="229.7" y1="874" x2="229.7" y2="877" stroke="#5a5a5a" stroke-width="1"/>
<line x1="246.9" y1="874" x2="246.9" y2="877" stroke="#5a5a5a" stroke-width="1"/>
<line x1="264.1" y1="874" x2="264.1" y2="877" stroke="#5a5a5a" stroke-width="1"/>
<line x1="281.3" y1="874" x2="281.3" y2="877" stroke="#5a5a5a" stroke-width="1"/>
<line x1="298.5" y1="874" x2="298.5" y2="877" stroke="#5a5a5a" stroke-width="1"/>
<line x1="315.7" y1="874" x2="315.7" y2="877" stroke="#5a5a5a" stroke-width="1"/>
<line x1="332.9" y1="874" x2="332.9" y2="877" stroke="#5a5a5a" stroke-width="1"/>
<line x1="350.1" y1="874" x2="350.1" y2="877" stroke="#5a5a5a" stroke-width="1"/>
<line x1="367.3" y1="874" x2="367.3" y2="877" stroke="#5a5a5a" stroke-width="1"/>
<line x1="384.5" y1="874" x2="384.5" y2="877" stroke="#5a5a5a" stroke-width="1"/>
<line x1="401.7" y1="874" x2="401.7" y2="877" stroke="#5a5a5a" stroke-width="1"/>
<text x="40.5" y="888.4" font-size="10.3" text-anchor="middle" fill="#111">0</text>
<text x="126.5" y="888.4" font-size="10.3" text-anchor="middle" fill="#111">5</text>
<text x="212.5" y="888.4" font-size="10.3" text-anchor="middle" fill="#111">10</text>
<text x="298.5" y="888.4" font-size="10.3" text-anchor="middle" fill="#111">15</text>
<text x="384.5" y="888.4" font-size="10.3" text-anchor="middle" fill="#111">20</text>
<text x="219.5" y="903.4" font-size="14.8" font-weight="bold" text-anchor="middle">Time (min)</text>
<text transform="translate(12.7,790.3) rotate(-90)" font-size="14" font-weight="bold" text-anchor="middle"><tspan>R/R</tspan><tspan font-size="9.1" dy="3">0</tspan></text>
<path d="M40.5,871.7V877.3M38.7,871.7h3.6M38.7,877.3h3.6" stroke="#555" stroke-width="0.6" fill="none"/>
<path d="M42.6,869.9V875.5M40.8,869.9h3.6M40.8,875.5h3.6" stroke="#555" stroke-width="0.6" fill="none"/>
<path d="M44.6,868.2V873.8M42.8,868.2h3.6M42.8,873.8h3.6" stroke="#555" stroke-width="0.6" fill="none"/>
<path d="M46.7,866.9V872.5M44.9,866.9h3.6M44.9,872.5h3.6" stroke="#555" stroke-width="0.6" fill="none"/>
<path d="M48.8,865.9V871.5M47.0,865.9h3.6M47.0,871.5h3.6" stroke="#555" stroke-width="0.6" fill="none"/>
<path d="M50.8,865.4V871.0M49.0,865.4h3.6M49.0,871.0h3.6" stroke="#555" stroke-width="0.6" fill="none"/>
<path d="M52.9,864.1V869.8M51.1,864.1h3.6M51.1,869.8h3.6" stroke="#555" stroke-width="0.6" fill="none"/>
<path d="M54.9,863.0V868.7M53.1,863.0h3.6M53.1,868.7h3.6" stroke="#555" stroke-width="0.6" fill="none"/>
<path d="M57.0,861.9V867.5M55.2,861.9h3.6M55.2,867.5h3.6" stroke="#555" stroke-width="0.6" fill="none"/>
<path d="M59.1,859.8V865.5M57.3,859.8h3.6M57.3,865.5h3.6" stroke="#555" stroke-width="0.6" fill="none"/>
<path d="M61.1,855.4V861.0M59.3,855.4h3.6M59.3,861.0h3.6" stroke="#555" stroke-width="0.6" fill="none"/>
<path d="M63.2,849.9V855.6M61.4,849.9h3.6M61.4,855.6h3.6" stroke="#555" stroke-width="0.6" fill="none"/>
<path d="M65.3,842.4V848.0M63.5,842.4h3.6M63.5,848.0h3.6" stroke="#555" stroke-width="0.6" fill="none"/>
<path d="M67.3,834.0V839.7M65.5,834.0h3.6M65.5,839.7h3.6" stroke="#555" stroke-width="0.6" fill="none"/>
<path d="M69.4,827.3V833.0M67.6,827.3h3.6M67.6,833.0h3.6" stroke="#555" stroke-width="0.6" fill="none"/>
<path d="M71.5,823.4V829.1M69.7,823.4h3.6M69.7,829.1h3.6" stroke="#555" stroke-width="0.6" fill="none"/>
<path d="M73.5,818.2V823.8M71.7,818.2h3.6M71.7,823.8h3.6" stroke="#555" stroke-width="0.6" fill="none"/>
<path d="M75.6,815.2V820.8M73.8,815.2h3.6M73.8,820.8h3.6" stroke="#555" stroke-width="0.6" fill="none"/>
<path d="M77.7,814.8V820.4M75.9,814.8h3.6M75.9,820.4h3.6" stroke="#555" stroke-width="0.6" fill="none"/>
<path d="M79.7,812.9V818.5M77.9,812.9h3.6M77.9,818.5h3.6" stroke="#555" stroke-width="0.6" fill="none"/>
<path d="M81.8,812.7V818.3M80.0,812.7h3.6M80.0,818.3h3.6" stroke="#555" stroke-width="0.6" fill="none"/>
<path d="M83.8,811.9V817.6M82.0,811.9h3.6M82.0,817.6h3.6" stroke="#555" stroke-width="0.6" fill="none"/>
<path d="M85.9,811.9V817.6M84.1,811.9h3.6M84.1,817.6h3.6" stroke="#555" stroke-width="0.6" fill="none"/>
<path d="M88.0,810.6V816.2M86.2,810.6h3.6M86.2,816.2h3.6" stroke="#555" stroke-width="0.6" fill="none"/>
<path d="M90.0,810.7V816.3M88.2,810.7h3.6M88.2,816.3h3.6" stroke="#555" stroke-width="0.6" fill="none"/>
<path d="M92.1,810.6V816.2M90.3,810.6h3.6M90.3,816.2h3.6" stroke="#555" stroke-width="0.6" fill="none"/>
<path d="M94.2,811.0V816.6M92.4,811.0h3.6M92.4,816.6h3.6" stroke="#555" stroke-width="0.6" fill="none"/>
<path d="M96.2,811.2V816.8M94.4,811.2h3.6M94.4,816.8h3.6" stroke="#555" stroke-width="0.6" fill="none"/>
<path d="M98.3,810.5V816.1M96.5,810.5h3.6M96.5,816.1h3.6" stroke="#555" stroke-width="0.6" fill="none"/>
<path d="M100.4,810.0V815.7M98.6,810.0h3.6M98.6,815.7h3.6" stroke="#555" stroke-width="0.6" fill="none"/>
<path d="M102.4,810.0V815.6M100.6,810.0h3.6M100.6,815.6h3.6" stroke="#555" stroke-width="0.6" fill="none"/>
<path d="M104.5,809.4V815.1M102.7,809.4h3.6M102.7,815.1h3.6" stroke="#555" stroke-width="0.6" fill="none"/>
<path d="M106.5,809.7V815.3M104.7,809.7h3.6M104.7,815.3h3.6" stroke="#555" stroke-width="0.6" fill="none"/>
<path d="M108.6,808.4V814.0M106.8,808.4h3.6M106.8,814.0h3.6" stroke="#555" stroke-width="0.6" fill="none"/>
<path d="M110.7,808.7V814.3M108.9,808.7h3.6M108.9,814.3h3.6" stroke="#555" stroke-width="0.6" fill="none"/>
<path d="M112.7,807.8V813.4M110.9,807.8h3.6M110.9,813.4h3.6" stroke="#555" stroke-width="0.6" fill="none"/>
<path d="M114.8,808.4V814.0M113.0,808.4h3.6M113.0,814.0h3.6" stroke="#555" stroke-width="0.6" fill="none"/>
<path d="M116.9,808.4V814.0M115.1,808.4h3.6M115.1,814.0h3.6" stroke="#555" stroke-width="0.6" fill="none"/>
<path d="M118.9,808.5V814.1M117.1,808.5h3.6M117.1,814.1h3.6" stroke="#555" stroke-width="0.6" fill="none"/>
<path d="M121.0,807.4V813.0M119.2,807.4h3.6M119.2,813.0h3.6" stroke="#555" stroke-width="0.6" fill="none"/>
<path d="M123.1,807.0V812.7M121.3,807.0h3.6M121.3,812.7h3.6" stroke="#555" stroke-width="0.6" fill="none"/>
<path d="M125.1,807.2V812.8M123.3,807.2h3.6M123.3,812.8h3.6" stroke="#555" stroke-width="0.6" fill="none"/>
<path d="M127.2,806.7V812.4M125.4,806.7h3.6M125.4,812.4h3.6" stroke="#555" stroke-width="0.6" fill="none"/>
<path d="M129.3,806.7V812.4M127.5,806.7h3.6M127.5,812.4h3.6" stroke="#555" stroke-width="0.6" fill="none"/>
<path d="M131.3,806.5V812.1M129.5,806.5h3.6M129.5,812.1h3.6" stroke="#555" stroke-width="0.6" fill="none"/>
<path d="M133.4,806.1V811.7M131.6,806.1h3.6M131.6,811.7h3.6" stroke="#555" stroke-width="0.6" fill="none"/>
<path d="M135.4,806.5V812.1M133.6,806.5h3.6M133.6,812.1h3.6" stroke="#555" stroke-width="0.6" fill="none"/>
<path d="M137.5,805.8V811.4M135.7,805.8h3.6M135.7,811.4h3.6" stroke="#555" stroke-width="0.6" fill="none"/>
<path d="M139.6,804.9V810.5M137.8,804.9h3.6M137.8,810.5h3.6" stroke="#555" stroke-width="0.6" fill="none"/>
<path d="M141.6,804.3V809.9M139.8,804.3h3.6M139.8,809.9h3.6" stroke="#555" stroke-width="0.6" fill="none"/>
<path d="M143.7,803.2V808.9M141.9,803.2h3.6M141.9,808.9h3.6" stroke="#555" stroke-width="0.6" fill="none"/>
<path d="M145.8,802.4V808.1M144.0,802.4h3.6M144.0,808.1h3.6" stroke="#555" stroke-width="0.6" fill="none"/>
<path d="M147.8,799.4V805.0M146.0,799.4h3.6M146.0,805.0h3.6" stroke="#555" stroke-width="0.6" fill="none"/>
<path d="M149.9,796.2V801.8M148.1,796.2h3.6M148.1,801.8h3.6" stroke="#555" stroke-width="0.6" fill="none"/>
<path d="M152.0,791.8V797.4M150.2,791.8h3.6M150.2,797.4h3.6" stroke="#555" stroke-width="0.6" fill="none"/>
<path d="M154.0,783.5V789.2M152.2,783.5h3.6M152.2,789.2h3.6" stroke="#555" stroke-width="0.6" fill="none"/>
<path d="M156.1,777.9V783.5M154.3,777.9h3.6M154.3,783.5h3.6" stroke="#555" stroke-width="0.6" fill="none"/>
<path d="M158.1,777.1V782.7M156.3,777.1h3.6M156.3,782.7h3.6" stroke="#555" stroke-width="0.6" fill="none"/>
<path d="M160.2,780.3V785.9M158.4,780.3h3.6M158.4,785.9h3.6" stroke="#555" stroke-width="0.6" fill="none"/>
<path d="M162.3,781.0V786.7M160.5,781.0h3.6M160.5,786.7h3.6" stroke="#555" stroke-width="0.6" fill="none"/>
<path d="M164.3,781.9V787.5M162.5,781.9h3.6M162.5,787.5h3.6" stroke="#555" stroke-width="0.6" fill="none"/>
<path d="M166.4,782.4V788.0M164.6,782.4h3.6M164.6,788.0h3.6" stroke="#555" stroke-width="0.6" fill="none"/>
<path d="M168.5,783.7V789.3M166.7,783.7h3.6M166.7,789.3h3.6" stroke="#555" stroke-width="0.6" fill="none"/>
<path d="M170.5,784.0V789.6M168.7,784.0h3.6M168.7,789.6h3.6" stroke="#555" stroke-width="0.6" fill="none"/>
<path d="M172.6,783.0V788.7M170.8,783.0h3.6M170.8,788.7h3.6" stroke="#555" stroke-width="0.6" fill="none"/>
<path d="M174.7,783.9V789.5M172.9,783.9h3.6M172.9,789.5h3.6" stroke="#555" stroke-width="0.6" fill="none"/>
<path d="M176.7,784.8V790.4M174.9,784.8h3.6M174.9,790.4h3.6" stroke="#555" stroke-width="0.6" fill="none"/>
<path d="M178.8,785.2V790.8M177.0,785.2h3.6M177.0,790.8h3.6" stroke="#555" stroke-width="0.6" fill="none"/>
<path d="M180.9,785.6V791.2M179.1,785.6h3.6M179.1,791.2h3.6" stroke="#555" stroke-width="0.6" fill="none"/>
<path d="M182.9,784.0V789.7M181.1,784.0h3.6M181.1,789.7h3.6" stroke="#555" stroke-width="0.6" fill="none"/>
<path d="M185.0,785.6V791.2M183.2,785.6h3.6M183.2,791.2h3.6" stroke="#555" stroke-width="0.6" fill="none"/>
<path d="M187.0,786.1V791.7M185.2,786.1h3.6M185.2,791.7h3.6" stroke="#555" stroke-width="0.6" fill="none"/>
<path d="M189.1,786.6V792.3M187.3,786.6h3.6M187.3,792.3h3.6" stroke="#555" stroke-width="0.6" fill="none"/>
<path d="M191.2,787.7V793.3M189.4,787.7h3.6M189.4,793.3h3.6" stroke="#555" stroke-width="0.6" fill="none"/>
<path d="M193.2,786.7V792.3M191.4,786.7h3.6M191.4,792.3h3.6" stroke="#555" stroke-width="0.6" fill="none"/>
<path d="M195.3,786.2V791.9M193.5,786.2h3.6M193.5,791.9h3.6" stroke="#555" stroke-width="0.6" fill="none"/>
<path d="M197.4,786.7V792.3M195.6,786.7h3.6M195.6,792.3h3.6" stroke="#555" stroke-width="0.6" fill="none"/>
<path d="M199.4,787.2V792.9M197.6,787.2h3.6M197.6,792.9h3.6" stroke="#555" stroke-width="0.6" fill="none"/>
<path d="M201.5,787.9V793.5M199.7,787.9h3.6M199.7,793.5h3.6" stroke="#555" stroke-width="0.6" fill="none"/>
<path d="M203.6,788.5V794.1M201.8,788.5h3.6M201.8,794.1h3.6" stroke="#555" stroke-width="0.6" fill="none"/>
<path d="M205.6,788.2V793.8M203.8,788.2h3.6M203.8,793.8h3.6" stroke="#555" stroke-width="0.6" fill="none"/>
<path d="M207.7,788.8V794.4M205.9,788.8h3.6M205.9,794.4h3.6" stroke="#555" stroke-width="0.6" fill="none"/>
<path d="M209.7,789.5V795.1M207.9,789.5h3.6M207.9,795.1h3.6" stroke="#555" stroke-width="0.6" fill="none"/>
<path d="M211.8,788.4V794.1M210.0,788.4h3.6M210.0,794.1h3.6" stroke="#555" stroke-width="0.6" fill="none"/>
<path d="M213.9,790.0V795.7M212.1,790.0h3.6M212.1,795.7h3.6" stroke="#555" stroke-width="0.6" fill="none"/>
<path d="M215.9,790.2V795.8M214.1,790.2h3.6M214.1,795.8h3.6" stroke="#555" stroke-width="0.6" fill="none"/>
<path d="M218.0,791.4V797.1M216.2,791.4h3.6M216.2,797.1h3.6" stroke="#555" stroke-width="0.6" fill="none"/>
<path d="M220.1,789.7V795.4M218.3,789.7h3.6M218.3,795.4h3.6" stroke="#555" stroke-width="0.6" fill="none"/>
<path d="M222.1,791.0V796.6M220.3,791.0h3.6M220.3,796.6h3.6" stroke="#555" stroke-width="0.6" fill="none"/>
<path d="M224.2,791.2V796.8M222.4,791.2h3.6M222.4,796.8h3.6" stroke="#555" stroke-width="0.6" fill="none"/>
<path d="M226.3,791.3V797.0M224.5,791.3h3.6M224.5,797.0h3.6" stroke="#555" stroke-width="0.6" fill="none"/>
<path d="M228.3,791.4V797.0M226.5,791.4h3.6M226.5,797.0h3.6" stroke="#555" stroke-width="0.6" fill="none"/>
<path d="M230.4,785.4V791.0M228.6,785.4h3.6M228.6,791.0h3.6" stroke="#555" stroke-width="0.6" fill="none"/>
<path d="M232.5,765.6V771.2M230.7,765.6h3.6M230.7,771.2h3.6" stroke="#555" stroke-width="0.6" fill="none"/>
<path d="M234.5,757.9V763.5M232.7,757.9h3.6M232.7,763.5h3.6" stroke="#555" stroke-width="0.6" fill="none"/>
<path d="M236.6,782.2V787.8M234.8,782.2h3.6M234.8,787.8h3.6" stroke="#555" stroke-width="0.6" fill="none"/>
<path d="M238.6,791.9V797.6M236.8,791.9h3.6M236.8,797.6h3.6" stroke="#555" stroke-width="0.6" fill="none"/>
<path d="M240.7,782.8V788.5M238.9,782.8h3.6M238.9,788.5h3.6" stroke="#555" stroke-width="0.6" fill="none"/>
<path d="M242.8,762.5V768.2M241.0,762.5h3.6M241.0,768.2h3.6" stroke="#555" stroke-width="0.6" fill="none"/>
<path d="M244.8,741.5V747.1M243.0,741.5h3.6M243.0,747.1h3.6" stroke="#555" stroke-width="0.6" fill="none"/>
<path d="M246.9,729.8V735.5M245.1,729.8h3.6M245.1,735.5h3.6" stroke="#555" stroke-width="0.6" fill="none"/>
<path d="M249.0,728.3V733.9M247.2,728.3h3.6M247.2,733.9h3.6" stroke="#555" stroke-width="0.6" fill="none"/>
<path d="M251.0,731.3V736.9M249.2,731.3h3.6M249.2,736.9h3.6" stroke="#555" stroke-width="0.6" fill="none"/>
<path d="M253.1,735.3V740.9M251.3,735.3h3.6M251.3,740.9h3.6" stroke="#555" stroke-width="0.6" fill="none"/>
<path d="M255.2,737.7V743.4M253.4,737.7h3.6M253.4,743.4h3.6" stroke="#555" stroke-width="0.6" fill="none"/>
<path d="M257.2,735.2V740.9M255.4,735.2h3.6M255.4,740.9h3.6" stroke="#555" stroke-width="0.6" fill="none"/>
<path d="M259.3,728.2V733.9M257.5,728.2h3.6M257.5,733.9h3.6" stroke="#555" stroke-width="0.6" fill="none"/>
<path d="M261.3,722.0V727.6M259.5,722.0h3.6M259.5,727.6h3.6" stroke="#555" stroke-width="0.6" fill="none"/>
<path d="M263.4,717.3V722.9M261.6,717.3h3.6M261.6,722.9h3.6" stroke="#555" stroke-width="0.6" fill="none"/>
<path d="M265.5,719.5V725.1M263.7,719.5h3.6M263.7,725.1h3.6" stroke="#555" stroke-width="0.6" fill="none"/>
<path d="M267.5,724.5V730.1M265.7,724.5h3.6M265.7,730.1h3.6" stroke="#555" stroke-width="0.6" fill="none"/>
<path d="M269.6,727.1V732.7M267.8,727.1h3.6M267.8,732.7h3.6" stroke="#555" stroke-width="0.6" fill="none"/>
<path d="M271.7,730.3V735.9M269.9,730.3h3.6M269.9,735.9h3.6" stroke="#555" stroke-width="0.6" fill="none"/>
<path d="M273.7,732.8V738.4M271.9,732.8h3.6M271.9,738.4h3.6" stroke="#555" stroke-width="0.6" fill="none"/>
<path d="M275.8,734.4V740.0M274.0,734.4h3.6M274.0,740.0h3.6" stroke="#555" stroke-width="0.6" fill="none"/>
<path d="M277.9,736.3V741.9M276.1,736.3h3.6M276.1,741.9h3.6" stroke="#555" stroke-width="0.6" fill="none"/>
<path d="M279.9,738.1V743.7M278.1,738.1h3.6M278.1,743.7h3.6" stroke="#555" stroke-width="0.6" fill="none"/>
<path d="M282.0,741.1V746.7M280.2,741.1h3.6M280.2,746.7h3.6" stroke="#555" stroke-width="0.6" fill="none"/>
<path d="M284.1,742.0V747.6M282.3,742.0h3.6M282.3,747.6h3.6" stroke="#555" stroke-width="0.6" fill="none"/>
<path d="M286.1,745.3V751.0M284.3,745.3h3.6M284.3,751.0h3.6" stroke="#555" stroke-width="0.6" fill="none"/>
<path d="M288.2,746.5V752.1M286.4,746.5h3.6M286.4,752.1h3.6" stroke="#555" stroke-width="0.6" fill="none"/>
<path d="M290.2,747.0V752.6M288.4,747.0h3.6M288.4,752.6h3.6" stroke="#555" stroke-width="0.6" fill="none"/>
<path d="M292.3,748.4V754.1M290.5,748.4h3.6M290.5,754.1h3.6" stroke="#555" stroke-width="0.6" fill="none"/>
<path d="M294.4,750.2V755.9M292.6,750.2h3.6M292.6,755.9h3.6" stroke="#555" stroke-width="0.6" fill="none"/>
<path d="M296.4,751.0V756.7M294.6,751.0h3.6M294.6,756.7h3.6" stroke="#555" stroke-width="0.6" fill="none"/>
<path d="M298.5,752.2V757.9M296.7,752.2h3.6M296.7,757.9h3.6" stroke="#555" stroke-width="0.6" fill="none"/>
<path d="M300.6,752.9V758.5M298.8,752.9h3.6M298.8,758.5h3.6" stroke="#555" stroke-width="0.6" fill="none"/>
<path d="M302.6,753.0V758.6M300.8,753.0h3.6M300.8,758.6h3.6" stroke="#555" stroke-width="0.6" fill="none"/>
<path d="M304.7,754.9V760.6M302.9,754.9h3.6M302.9,760.6h3.6" stroke="#555" stroke-width="0.6" fill="none"/>
<path d="M306.8,755.2V760.9M305.0,755.2h3.6M305.0,760.9h3.6" stroke="#555" stroke-width="0.6" fill="none"/>
<path d="M308.8,755.0V760.7M307.0,755.0h3.6M307.0,760.7h3.6" stroke="#555" stroke-width="0.6" fill="none"/>
<path d="M310.9,755.2V760.9M309.1,755.2h3.6M309.1,760.9h3.6" stroke="#555" stroke-width="0.6" fill="none"/>
<path d="M312.9,756.8V762.4M311.1,756.8h3.6M311.1,762.4h3.6" stroke="#555" stroke-width="0.6" fill="none"/>
<path d="M315.0,757.8V763.4M313.2,757.8h3.6M313.2,763.4h3.6" stroke="#555" stroke-width="0.6" fill="none"/>
<path d="M317.1,760.7V766.3M315.3,760.7h3.6M315.3,766.3h3.6" stroke="#555" stroke-width="0.6" fill="none"/>
<path d="M319.1,771.5V777.1M317.3,771.5h3.6M317.3,777.1h3.6" stroke="#555" stroke-width="0.6" fill="none"/>
<path d="M321.2,791.8V797.4M319.4,791.8h3.6M319.4,797.4h3.6" stroke="#555" stroke-width="0.6" fill="none"/>
<path d="M323.3,811.2V816.8M321.5,811.2h3.6M321.5,816.8h3.6" stroke="#555" stroke-width="0.6" fill="none"/>
<path d="M325.3,824.6V830.2M323.5,824.6h3.6M323.5,830.2h3.6" stroke="#555" stroke-width="0.6" fill="none"/>
<path d="M327.4,831.6V837.2M325.6,831.6h3.6M325.6,837.2h3.6" stroke="#555" stroke-width="0.6" fill="none"/>
<path d="M329.5,836.1V841.7M327.7,836.1h3.6M327.7,841.7h3.6" stroke="#555" stroke-width="0.6" fill="none"/>
<path d="M331.5,840.8V846.4M329.7,840.8h3.6M329.7,846.4h3.6" stroke="#555" stroke-width="0.6" fill="none"/>
<path d="M333.6,843.5V849.2M331.8,843.5h3.6M331.8,849.2h3.6" stroke="#555" stroke-width="0.6" fill="none"/>
<path d="M335.7,846.6V852.3M333.9,846.6h3.6M333.9,852.3h3.6" stroke="#555" stroke-width="0.6" fill="none"/>
<path d="M337.7,848.5V854.1M335.9,848.5h3.6M335.9,854.1h3.6" stroke="#555" stroke-width="0.6" fill="none"/>
<path d="M339.8,851.0V856.6M338.0,851.0h3.6M338.0,856.6h3.6" stroke="#555" stroke-width="0.6" fill="none"/>
<path d="M341.8,851.6V857.2M340.0,851.6h3.6M340.0,857.2h3.6" stroke="#555" stroke-width="0.6" fill="none"/>
<path d="M343.9,853.4V859.0M342.1,853.4h3.6M342.1,859.0h3.6" stroke="#555" stroke-width="0.6" fill="none"/>
<path d="M346.0,852.8V858.5M344.2,852.8h3.6M344.2,858.5h3.6" stroke="#555" stroke-width="0.6" fill="none"/>
<path d="M348.0,852.9V858.5M346.2,852.9h3.6M346.2,858.5h3.6" stroke="#555" stroke-width="0.6" fill="none"/>
<path d="M350.1,852.2V857.9M348.3,852.2h3.6M348.3,857.9h3.6" stroke="#555" stroke-width="0.6" fill="none"/>
<path d="M352.2,850.7V856.4M350.4,850.7h3.6M350.4,856.4h3.6" stroke="#555" stroke-width="0.6" fill="none"/>
<path d="M354.2,849.6V855.2M352.4,849.6h3.6M352.4,855.2h3.6" stroke="#555" stroke-width="0.6" fill="none"/>
<path d="M356.3,848.5V854.1M354.5,848.5h3.6M354.5,854.1h3.6" stroke="#555" stroke-width="0.6" fill="none"/>
<path d="M358.4,847.3V852.9M356.6,847.3h3.6M356.6,852.9h3.6" stroke="#555" stroke-width="0.6" fill="none"/>
<path d="M360.4,846.7V852.3M358.6,846.7h3.6M358.6,852.3h3.6" stroke="#555" stroke-width="0.6" fill="none"/>
<path d="M362.5,845.0V850.7M360.7,845.0h3.6M360.7,850.7h3.6" stroke="#555" stroke-width="0.6" fill="none"/>
<path d="M364.5,844.1V849.7M362.7,844.1h3.6M362.7,849.7h3.6" stroke="#555" stroke-width="0.6" fill="none"/>
<path d="M366.6,842.9V848.6M364.8,842.9h3.6M364.8,848.6h3.6" stroke="#555" stroke-width="0.6" fill="none"/>
<path d="M368.7,840.4V846.0M366.9,840.4h3.6M366.9,846.0h3.6" stroke="#555" stroke-width="0.6" fill="none"/>
<path d="M370.7,845.8V851.4M368.9,845.8h3.6M368.9,851.4h3.6" stroke="#555" stroke-width="0.6" fill="none"/>
<path d="M372.8,847.0V852.6M371.0,847.0h3.6M371.0,852.6h3.6" stroke="#555" stroke-width="0.6" fill="none"/>
<path d="M374.9,846.7V852.3M373.1,846.7h3.6M373.1,852.3h3.6" stroke="#555" stroke-width="0.6" fill="none"/>
<path d="M376.9,843.7V849.4M375.1,843.7h3.6M375.1,849.4h3.6" stroke="#555" stroke-width="0.6" fill="none"/>
<path d="M379.0,843.4V849.0M377.2,843.4h3.6M377.2,849.0h3.6" stroke="#555" stroke-width="0.6" fill="none"/>
<path d="M381.1,840.8V846.4M379.3,840.8h3.6M379.3,846.4h3.6" stroke="#555" stroke-width="0.6" fill="none"/>
<path d="M383.1,837.3V843.0M381.3,837.3h3.6M381.3,843.0h3.6" stroke="#555" stroke-width="0.6" fill="none"/>
<path d="M385.2,837.0V842.6M383.4,837.0h3.6M383.4,842.6h3.6" stroke="#555" stroke-width="0.6" fill="none"/>
<path d="M387.3,835.3V840.9M385.5,835.3h3.6M385.5,840.9h3.6" stroke="#555" stroke-width="0.6" fill="none"/>
<path d="M389.3,834.8V840.4M387.5,834.8h3.6M387.5,840.4h3.6" stroke="#555" stroke-width="0.6" fill="none"/>
<path d="M391.4,833.6V839.3M389.6,833.6h3.6M389.6,839.3h3.6" stroke="#555" stroke-width="0.6" fill="none"/>
<path d="M393.4,831.8V837.4M391.6,831.8h3.6M391.6,837.4h3.6" stroke="#555" stroke-width="0.6" fill="none"/>
<path d="M395.5,830.2V835.8M393.7,830.2h3.6M393.7,835.8h3.6" stroke="#555" stroke-width="0.6" fill="none"/>
<path d="M397.6,829.1V834.7M395.8,829.1h3.6M395.8,834.7h3.6" stroke="#555" stroke-width="0.6" fill="none"/>
<path d="M399.6,828.3V833.9M397.8,828.3h3.6M397.8,833.9h3.6" stroke="#555" stroke-width="0.6" fill="none"/>
<path d="M401.7,827.8V833.4M399.9,827.8h3.6M399.9,833.4h3.6" stroke="#555" stroke-width="0.6" fill="none"/>
<polyline points="40.5,874.5 42.6,872.7 44.6,871.0 46.7,869.7 48.8,868.7 50.8,868.2 52.9,866.9 54.9,865.8 57.0,864.7 59.1,862.6 61.1,858.2 63.2,852.8 65.3,845.2 67.3,836.8 69.4,830.2 71.5,826.3 73.5,821.0 75.6,818.0 77.7,817.6 79.7,815.7 81.8,815.5 83.8,814.8 85.9,814.7 88.0,813.4 90.0,813.5 92.1,813.4 94.2,813.8 96.2,814.0 98.3,813.3 100.4,812.9 102.4,812.8 104.5,812.2 106.5,812.5 108.6,811.2 110.7,811.5 112.7,810.6 114.8,811.2 116.9,811.2 118.9,811.3 121.0,810.2 123.1,809.9 125.1,810.0 127.2,809.5 129.3,809.5 131.3,809.3 133.4,808.9 135.4,809.3 137.5,808.6 139.6,807.7 141.6,807.1 143.7,806.0 145.8,805.3 147.8,802.2 149.9,799.0 152.0,794.6 154.0,786.3 156.1,780.7 158.1,779.9 160.2,783.1 162.3,783.9 164.3,784.7 166.4,785.2 168.5,786.5 170.5,786.8 172.6,785.8 174.7,786.7 176.7,787.6 178.8,788.0 180.9,788.4 182.9,786.8 185.0,788.4 187.0,788.9 189.1,789.4 191.2,790.5 193.2,789.5 195.3,789.1 197.4,789.5 199.4,790.0 201.5,790.7 203.6,791.3 205.6,791.0 207.7,791.6 209.7,792.3 211.8,791.2 213.9,792.9 215.9,793.0 218.0,794.2 220.1,792.5 222.1,793.8 224.2,794.0 226.3,794.1 228.3,794.2 230.4,788.2 232.5,768.4 234.5,760.7 236.6,785.0 238.6,794.7 240.7,785.7 242.8,765.3 244.8,744.3 246.9,732.7 249.0,731.1 251.0,734.1 253.1,738.1 255.2,740.6 257.2,738.1 259.3,731.0 261.3,724.8 263.4,720.1 265.5,722.3 267.5,727.3 269.6,729.9 271.7,733.1 273.7,735.6 275.8,737.2 277.9,739.1 279.9,740.9 282.0,743.9 284.1,744.8 286.1,748.1 288.2,749.3 290.2,749.8 292.3,751.3 294.4,753.0 296.4,753.9 298.5,755.1 300.6,755.7 302.6,755.8 304.7,757.7 306.8,758.1 308.8,757.9 310.9,758.0 312.9,759.6 315.0,760.6 317.1,763.5 319.1,774.3 321.2,794.6 323.3,814.0 325.3,827.4 327.4,834.4 329.5,838.9 331.5,843.6 333.6,846.4 335.7,849.5 337.7,851.3 339.8,853.8 341.8,854.4 343.9,856.2 346.0,855.7 348.0,855.7 350.1,855.1 352.2,853.6 354.2,852.4 356.3,851.3 358.4,850.1 360.4,849.5 362.5,847.9 364.5,846.9 366.6,845.8 368.7,843.2 370.7,848.6 372.8,849.8 374.9,849.5 376.9,846.5 379.0,846.2 381.1,843.6 383.1,840.2 385.2,839.8 387.3,838.1 389.3,837.6 391.4,836.4 393.4,834.6 395.5,833.0 397.6,831.9 399.6,831.1 401.7,830.6" fill="none" stroke="#444" stroke-width="0.6"/>
<circle cx="40.5" cy="874.5" r="1.8" fill="#fff" stroke="#333" stroke-width="0.75"/>
<circle cx="42.6" cy="872.7" r="1.8" fill="#fff" stroke="#333" stroke-width="0.75"/>
<circle cx="44.6" cy="871.0" r="1.8" fill="#fff" stroke="#333" stroke-width="0.75"/>
<circle cx="46.7" cy="869.7" r="1.8" fill="#fff" stroke="#333" stroke-width="0.75"/>
<circle cx="48.8" cy="868.7" r="1.8" fill="#fff" stroke="#333" stroke-width="0.75"/>
<circle cx="50.8" cy="868.2" r="1.8" fill="#fff" stroke="#333" stroke-width="0.75"/>
<circle cx="52.9" cy="866.9" r="1.8" fill="#fff" stroke="#333" stroke-width="0.75"/>
<circle cx="54.9" cy="865.8" r="1.8" fill="#fff" stroke="#333" stroke-width="0.75"/>
<circle cx="57.0" cy="864.7" r="1.8" fill="#fff" stroke="#333" stroke-width="0.75"/>
<circle cx="59.1" cy="862.6" r="1.8" fill="#fff" stroke="#333" stroke-width="0.75"/>
<circle cx="61.1" cy="858.2" r="1.8" fill="#fff" stroke="#333" stroke-width="0.75"/>
<circle cx="63.2" cy="852.8" r="1.8" fill="#fff" stroke="#333" stroke-width="0.75"/>
<circle cx="65.3" cy="845.2" r="1.8" fill="#fff" stroke="#333" stroke-width="0.75"/>
<circle cx="67.3" cy="836.8" r="1.8" fill="#fff" stroke="#333" stroke-width="0.75"/>
<circle cx="69.4" cy="830.2" r="1.8" fill="#fff" stroke="#333" stroke-width="0.75"/>
<circle cx="71.5" cy="826.3" r="1.8" fill="#fff" stroke="#333" stroke-width="0.75"/>
<circle cx="73.5" cy="821.0" r="1.8" fill="#fff" stroke="#333" stroke-width="0.75"/>
<circle cx="75.6" cy="818.0" r="1.8" fill="#fff" stroke="#333" stroke-width="0.75"/>
<circle cx="77.7" cy="817.6" r="1.8" fill="#fff" stroke="#333" stroke-width="0.75"/>
<circle cx="79.7" cy="815.7" r="1.8" fill="#fff" stroke="#333" stroke-width="0.75"/>
<circle cx="81.8" cy="815.5" r="1.8" fill="#fff" stroke="#333" stroke-width="0.75"/>
<circle cx="83.8" cy="814.8" r="1.8" fill="#fff" stroke="#333" stroke-width="0.75"/>
<circle cx="85.9" cy="814.7" r="1.8" fill="#fff" stroke="#333" stroke-width="0.75"/>
<circle cx="88.0" cy="813.4" r="1.8" fill="#fff" stroke="#333" stroke-width="0.75"/>
<circle cx="90.0" cy="813.5" r="1.8" fill="#fff" stroke="#333" stroke-width="0.75"/>
<circle cx="92.1" cy="813.4" r="1.8" fill="#fff" stroke="#333" stroke-width="0.75"/>
<circle cx="94.2" cy="813.8" r="1.8" fill="#fff" stroke="#333" stroke-width="0.75"/>
<circle cx="96.2" cy="814.0" r="1.8" fill="#fff" stroke="#333" stroke-width="0.75"/>
<circle cx="98.3" cy="813.3" r="1.8" fill="#fff" stroke="#333" stroke-width="0.75"/>
<circle cx="100.4" cy="812.9" r="1.8" fill="#fff" stroke="#333" stroke-width="0.75"/>
<circle cx="102.4" cy="812.8" r="1.8" fill="#fff" stroke="#333" stroke-width="0.75"/>
<circle cx="104.5" cy="812.2" r="1.8" fill="#fff" stroke="#333" stroke-width="0.75"/>
<circle cx="106.5" cy="812.5" r="1.8" fill="#fff" stroke="#333" stroke-width="0.75"/>
<circle cx="108.6" cy="811.2" r="1.8" fill="#fff" stroke="#333" stroke-width="0.75"/>
<circle cx="110.7" cy="811.5" r="1.8" fill="#fff" stroke="#333" stroke-width="0.75"/>
<circle cx="112.7" cy="810.6" r="1.8" fill="#fff" stroke="#333" stroke-width="0.75"/>
<circle cx="114.8" cy="811.2" r="1.8" fill="#fff" stroke="#333" stroke-width="0.75"/>
<circle cx="116.9" cy="811.2" r="1.8" fill="#fff" stroke="#333" stroke-width="0.75"/>
<circle cx="118.9" cy="811.3" r="1.8" fill="#fff" stroke="#333" stroke-width="0.75"/>
<circle cx="121.0" cy="810.2" r="1.8" fill="#fff" stroke="#333" stroke-width="0.75"/>
<circle cx="123.1" cy="809.9" r="1.8" fill="#fff" stroke="#333" stroke-width="0.75"/>
<circle cx="125.1" cy="810.0" r="1.8" fill="#fff" stroke="#333" stroke-width="0.75"/>
<circle cx="127.2" cy="809.5" r="1.8" fill="#fff" stroke="#333" stroke-width="0.75"/>
<circle cx="129.3" cy="809.5" r="1.8" fill="#fff" stroke="#333" stroke-width="0.75"/>
<circle cx="131.3" cy="809.3" r="1.8" fill="#fff" stroke="#333" stroke-width="0.75"/>
<circle cx="133.4" cy="808.9" r="1.8" fill="#fff" stroke="#333" stroke-width="0.75"/>
<circle cx="135.4" cy="809.3" r="1.8" fill="#fff" stroke="#333" stroke-width="0.75"/>
<circle cx="137.5" cy="808.6" r="1.8" fill="#fff" stroke="#333" stroke-width="0.75"/>
<circle cx="139.6" cy="807.7" r="1.8" fill="#fff" stroke="#333" stroke-width="0.75"/>
<circle cx="141.6" cy="807.1" r="1.8" fill="#fff" stroke="#333" stroke-width="0.75"/>
<circle cx="143.7" cy="806.0" r="1.8" fill="#fff" stroke="#333" stroke-width="0.75"/>
<circle cx="145.8" cy="805.3" r="1.8" fill="#fff" stroke="#333" stroke-width="0.75"/>
<circle cx="147.8" cy="802.2" r="1.8" fill="#fff" stroke="#333" stroke-width="0.75"/>
<circle cx="149.9" cy="799.0" r="1.8" fill="#fff" stroke="#333" stroke-width="0.75"/>
<circle cx="152.0" cy="794.6" r="1.8" fill="#fff" stroke="#333" stroke-width="0.75"/>
<circle cx="154.0" cy="786.3" r="1.8" fill="#fff" stroke="#333" stroke-width="0.75"/>
<circle cx="156.1" cy="780.7" r="1.8" fill="#fff" stroke="#333" stroke-width="0.75"/>
<circle cx="158.1" cy="779.9" r="1.8" fill="#fff" stroke="#333" stroke-width="0.75"/>
<circle cx="160.2" cy="783.1" r="1.8" fill="#fff" stroke="#333" stroke-width="0.75"/>
<circle cx="162.3" cy="783.9" r="1.8" fill="#fff" stroke="#333" stroke-width="0.75"/>
<circle cx="164.3" cy="784.7" r="1.8" fill="#fff" stroke="#333" stroke-width="0.75"/>
<circle cx="166.4" cy="785.2" r="1.8" fill="#fff" stroke="#333" stroke-width="0.75"/>
<circle cx="168.5" cy="786.5" r="1.8" fill="#fff" stroke="#333" stroke-width="0.75"/>
<circle cx="170.5" cy="786.8" r="1.8" fill="#fff" stroke="#333" stroke-width="0.75"/>
<circle cx="172.6" cy="785.8" r="1.8" fill="#fff" stroke="#333" stroke-width="0.75"/>
<circle cx="174.7" cy="786.7" r="1.8" fill="#fff" stroke="#333" stroke-width="0.75"/>
<circle cx="176.7" cy="787.6" r="1.8" fill="#fff" stroke="#333" stroke-width="0.75"/>
<circle cx="178.8" cy="788.0" r="1.8" fill="#fff" stroke="#333" stroke-width="0.75"/>
<circle cx="180.9" cy="788.4" r="1.8" fill="#fff" stroke="#333" stroke-width="0.75"/>
<circle cx="182.9" cy="786.8" r="1.8" fill="#fff" stroke="#333" stroke-width="0.75"/>
<circle cx="185.0" cy="788.4" r="1.8" fill="#fff" stroke="#333" stroke-width="0.75"/>
<circle cx="187.0" cy="788.9" r="1.8" fill="#fff" stroke="#333" stroke-width="0.75"/>
<circle cx="189.1" cy="789.4" r="1.8" fill="#fff" stroke="#333" stroke-width="0.75"/>
<circle cx="191.2" cy="790.5" r="1.8" fill="#fff" stroke="#333" stroke-width="0.75"/>
<circle cx="193.2" cy="789.5" r="1.8" fill="#fff" stroke="#333" stroke-width="0.75"/>
<circle cx="195.3" cy="789.1" r="1.8" fill="#fff" stroke="#333" stroke-width="0.75"/>
<circle cx="197.4" cy="789.5" r="1.8" fill="#fff" stroke="#333" stroke-width="0.75"/>
<circle cx="199.4" cy="790.0" r="1.8" fill="#fff" stroke="#333" stroke-width="0.75"/>
<circle cx="201.5" cy="790.7" r="1.8" fill="#fff" stroke="#333" stroke-width="0.75"/>
<circle cx="203.6" cy="791.3" r="1.8" fill="#fff" stroke="#333" stroke-width="0.75"/>
<circle cx="205.6" cy="791.0" r="1.8" fill="#fff" stroke="#333" stroke-width="0.75"/>
<circle cx="207.7" cy="791.6" r="1.8" fill="#fff" stroke="#333" stroke-width="0.75"/>
<circle cx="209.7" cy="792.3" r="1.8" fill="#fff" stroke="#333" stroke-width="0.75"/>
<circle cx="211.8" cy="791.2" r="1.8" fill="#fff" stroke="#333" stroke-width="0.75"/>
<circle cx="213.9" cy="792.9" r="1.8" fill="#fff" stroke="#333" stroke-width="0.75"/>
<circle cx="215.9" cy="793.0" r="1.8" fill="#fff" stroke="#333" stroke-width="0.75"/>
<circle cx="218.0" cy="794.2" r="1.8" fill="#fff" stroke="#333" stroke-width="0.75"/>
<circle cx="220.1" cy="792.5" r="1.8" fill="#fff" stroke="#333" stroke-width="0.75"/>
<circle cx="222.1" cy="793.8" r="1.8" fill="#fff" stroke="#333" stroke-width="0.75"/>
<circle cx="224.2" cy="794.0" r="1.8" fill="#fff" stroke="#333" stroke-width="0.75"/>
<circle cx="226.3" cy="794.1" r="1.8" fill="#fff" stroke="#333" stroke-width="0.75"/>
<circle cx="228.3" cy="794.2" r="1.8" fill="#fff" stroke="#333" stroke-width="0.75"/>
<circle cx="230.4" cy="788.2" r="1.8" fill="#fff" stroke="#333" stroke-width="0.75"/>
<circle cx="232.5" cy="768.4" r="1.8" fill="#fff" stroke="#333" stroke-width="0.75"/>
<circle cx="234.5" cy="760.7" r="1.8" fill="#fff" stroke="#333" stroke-width="0.75"/>
<circle cx="236.6" cy="785.0" r="1.8" fill="#fff" stroke="#333" stroke-width="0.75"/>
<circle cx="238.6" cy="794.7" r="1.8" fill="#fff" stroke="#333" stroke-width="0.75"/>
<circle cx="240.7" cy="785.7" r="1.8" fill="#fff" stroke="#333" stroke-width="0.75"/>
<circle cx="242.8" cy="765.3" r="1.8" fill="#fff" stroke="#333" stroke-width="0.75"/>
<circle cx="244.8" cy="744.3" r="1.8" fill="#fff" stroke="#333" stroke-width="0.75"/>
<circle cx="246.9" cy="732.7" r="1.8" fill="#fff" stroke="#333" stroke-width="0.75"/>
<circle cx="249.0" cy="731.1" r="1.8" fill="#fff" stroke="#333" stroke-width="0.75"/>
<circle cx="251.0" cy="734.1" r="1.8" fill="#fff" stroke="#333" stroke-width="0.75"/>
<circle cx="253.1" cy="738.1" r="1.8" fill="#fff" stroke="#333" stroke-width="0.75"/>
<circle cx="255.2" cy="740.6" r="1.8" fill="#fff" stroke="#333" stroke-width="0.75"/>
<circle cx="257.2" cy="738.1" r="1.8" fill="#fff" stroke="#333" stroke-width="0.75"/>
<circle cx="259.3" cy="731.0" r="1.8" fill="#fff" stroke="#333" stroke-width="0.75"/>
<circle cx="261.3" cy="724.8" r="1.8" fill="#fff" stroke="#333" stroke-width="0.75"/>
<circle cx="263.4" cy="720.1" r="1.8" fill="#fff" stroke="#333" stroke-width="0.75"/>
<circle cx="265.5" cy="722.3" r="1.8" fill="#fff" stroke="#333" stroke-width="0.75"/>
<circle cx="267.5" cy="727.3" r="1.8" fill="#fff" stroke="#333" stroke-width="0.75"/>
<circle cx="269.6" cy="729.9" r="1.8" fill="#fff" stroke="#333" stroke-width="0.75"/>
<circle cx="271.7" cy="733.1" r="1.8" fill="#fff" stroke="#333" stroke-width="0.75"/>
<circle cx="273.7" cy="735.6" r="1.8" fill="#fff" stroke="#333" stroke-width="0.75"/>
<circle cx="275.8" cy="737.2" r="1.8" fill="#fff" stroke="#333" stroke-width="0.75"/>
<circle cx="277.9" cy="739.1" r="1.8" fill="#fff" stroke="#333" stroke-width="0.75"/>
<circle cx="279.9" cy="740.9" r="1.8" fill="#fff" stroke="#333" stroke-width="0.75"/>
<circle cx="282.0" cy="743.9" r="1.8" fill="#fff" stroke="#333" stroke-width="0.75"/>
<circle cx="284.1" cy="744.8" r="1.8" fill="#fff" stroke="#333" stroke-width="0.75"/>
<circle cx="286.1" cy="748.1" r="1.8" fill="#fff" stroke="#333" stroke-width="0.75"/>
<circle cx="288.2" cy="749.3" r="1.8" fill="#fff" stroke="#333" stroke-width="0.75"/>
<circle cx="290.2" cy="749.8" r="1.8" fill="#fff" stroke="#333" stroke-width="0.75"/>
<circle cx="292.3" cy="751.3" r="1.8" fill="#fff" stroke="#333" stroke-width="0.75"/>
<circle cx="294.4" cy="753.0" r="1.8" fill="#fff" stroke="#333" stroke-width="0.75"/>
<circle cx="296.4" cy="753.9" r="1.8" fill="#fff" stroke="#333" stroke-width="0.75"/>
<circle cx="298.5" cy="755.1" r="1.8" fill="#fff" stroke="#333" stroke-width="0.75"/>
<circle cx="300.6" cy="755.7" r="1.8" fill="#fff" stroke="#333" stroke-width="0.75"/>
<circle cx="302.6" cy="755.8" r="1.8" fill="#fff" stroke="#333" stroke-width="0.75"/>
<circle cx="304.7" cy="757.7" r="1.8" fill="#fff" stroke="#333" stroke-width="0.75"/>
<circle cx="306.8" cy="758.1" r="1.8" fill="#fff" stroke="#333" stroke-width="0.75"/>
<circle cx="308.8" cy="757.9" r="1.8" fill="#fff" stroke="#333" stroke-width="0.75"/>
<circle cx="310.9" cy="758.0" r="1.8" fill="#fff" stroke="#333" stroke-width="0.75"/>
<circle cx="312.9" cy="759.6" r="1.8" fill="#fff" stroke="#333" stroke-width="0.75"/>
<circle cx="315.0" cy="760.6" r="1.8" fill="#fff" stroke="#333" stroke-width="0.75"/>
<circle cx="317.1" cy="763.5" r="1.8" fill="#fff" stroke="#333" stroke-width="0.75"/>
<circle cx="319.1" cy="774.3" r="1.8" fill="#fff" stroke="#333" stroke-width="0.75"/>
<circle cx="321.2" cy="794.6" r="1.8" fill="#fff" stroke="#333" stroke-width="0.75"/>
<circle cx="323.3" cy="814.0" r="1.8" fill="#fff" stroke="#333" stroke-width="0.75"/>
<circle cx="325.3" cy="827.4" r="1.8" fill="#fff" stroke="#333" stroke-width="0.75"/>
<circle cx="327.4" cy="834.4" r="1.8" fill="#fff" stroke="#333" stroke-width="0.75"/>
<circle cx="329.5" cy="838.9" r="1.8" fill="#fff" stroke="#333" stroke-width="0.75"/>
<circle cx="331.5" cy="843.6" r="1.8" fill="#fff" stroke="#333" stroke-width="0.75"/>
<circle cx="333.6" cy="846.4" r="1.8" fill="#fff" stroke="#333" stroke-width="0.75"/>
<circle cx="335.7" cy="849.5" r="1.8" fill="#fff" stroke="#333" stroke-width="0.75"/>
<circle cx="337.7" cy="851.3" r="1.8" fill="#fff" stroke="#333" stroke-width="0.75"/>
<circle cx="339.8" cy="853.8" r="1.8" fill="#fff" stroke="#333" stroke-width="0.75"/>
<circle cx="341.8" cy="854.4" r="1.8" fill="#fff" stroke="#333" stroke-width="0.75"/>
<circle cx="343.9" cy="856.2" r="1.8" fill="#fff" stroke="#333" stroke-width="0.75"/>
<circle cx="346.0" cy="855.7" r="1.8" fill="#fff" stroke="#333" stroke-width="0.75"/>
<circle cx="348.0" cy="855.7" r="1.8" fill="#fff" stroke="#333" stroke-width="0.75"/>
<circle cx="350.1" cy="855.1" r="1.8" fill="#fff" stroke="#333" stroke-width="0.75"/>
<circle cx="352.2" cy="853.6" r="1.8" fill="#fff" stroke="#333" stroke-width="0.75"/>
<circle cx="354.2" cy="852.4" r="1.8" fill="#fff" stroke="#333" stroke-width="0.75"/>
<circle cx="356.3" cy="851.3" r="1.8" fill="#fff" stroke="#333" stroke-width="0.75"/>
<circle cx="358.4" cy="850.1" r="1.8" fill="#fff" stroke="#333" stroke-width="0.75"/>
<circle cx="360.4" cy="849.5" r="1.8" fill="#fff" stroke="#333" stroke-width="0.75"/>
<circle cx="362.5" cy="847.9" r="1.8" fill="#fff" stroke="#333" stroke-width="0.75"/>
<circle cx="364.5" cy="846.9" r="1.8" fill="#fff" stroke="#333" stroke-width="0.75"/>
<circle cx="366.6" cy="845.8" r="1.8" fill="#fff" stroke="#333" stroke-width="0.75"/>
<circle cx="368.7" cy="843.2" r="1.8" fill="#fff" stroke="#333" stroke-width="0.75"/>
<circle cx="370.7" cy="848.6" r="1.8" fill="#fff" stroke="#333" stroke-width="0.75"/>
<circle cx="372.8" cy="849.8" r="1.8" fill="#fff" stroke="#333" stroke-width="0.75"/>
<circle cx="374.9" cy="849.5" r="1.8" fill="#fff" stroke="#333" stroke-width="0.75"/>
<circle cx="376.9" cy="846.5" r="1.8" fill="#fff" stroke="#333" stroke-width="0.75"/>
<circle cx="379.0" cy="846.2" r="1.8" fill="#fff" stroke="#333" stroke-width="0.75"/>
<circle cx="381.1" cy="843.6" r="1.8" fill="#fff" stroke="#333" stroke-width="0.75"/>
<circle cx="383.1" cy="840.2" r="1.8" fill="#fff" stroke="#333" stroke-width="0.75"/>
<circle cx="385.2" cy="839.8" r="1.8" fill="#fff" stroke="#333" stroke-width="0.75"/>
<circle cx="387.3" cy="838.1" r="1.8" fill="#fff" stroke="#333" stroke-width="0.75"/>
<circle cx="389.3" cy="837.6" r="1.8" fill="#fff" stroke="#333" stroke-width="0.75"/>
<circle cx="391.4" cy="836.4" r="1.8" fill="#fff" stroke="#333" stroke-width="0.75"/>
<circle cx="393.4" cy="834.6" r="1.8" fill="#fff" stroke="#333" stroke-width="0.75"/>
<circle cx="395.5" cy="833.0" r="1.8" fill="#fff" stroke="#333" stroke-width="0.75"/>
<circle cx="397.6" cy="831.9" r="1.8" fill="#fff" stroke="#333" stroke-width="0.75"/>
<circle cx="399.6" cy="831.1" r="1.8" fill="#fff" stroke="#333" stroke-width="0.75"/>
<circle cx="401.7" cy="830.6" r="1.8" fill="#fff" stroke="#333" stroke-width="0.75"/>
<text x="419.4" y="702.2" font-size="31" font-weight="bold">E</text>
<line x1="466" y1="707.6" x2="466" y2="874" stroke="#5a5a5a" stroke-width="1"/>
<line x1="463" y1="707.6" x2="466" y2="707.6" stroke="#5a5a5a" stroke-width="1"/>
<text x="459.8" y="711.1" font-size="9.8" text-anchor="end" fill="#111">15</text>
<line x1="463" y1="739.7" x2="466" y2="739.7" stroke="#5a5a5a" stroke-width="1"/>
<text x="459.8" y="743.2" font-size="9.8" text-anchor="end" fill="#111">14</text>
<line x1="463" y1="771.9" x2="466" y2="771.9" stroke="#5a5a5a" stroke-width="1"/>
<text x="459.8" y="775.4" font-size="9.8" text-anchor="end" fill="#111">12</text>
<line x1="463" y1="804.1" x2="466" y2="804.1" stroke="#5a5a5a" stroke-width="1"/>
<text x="459.8" y="807.6" font-size="9.8" text-anchor="end" fill="#111">10</text>
<line x1="463" y1="836.3" x2="466" y2="836.3" stroke="#5a5a5a" stroke-width="1"/>
<text x="459.8" y="839.8" font-size="9.8" text-anchor="end" fill="#111">8</text>
<line x1="463" y1="868.5" x2="466" y2="868.5" stroke="#5a5a5a" stroke-width="1"/>
<text x="459.8" y="872.0" font-size="9.8" text-anchor="end" fill="#111">6</text>
<line x1="466" y1="874" x2="666.5" y2="874" stroke="#5a5a5a" stroke-width="1"/>
<line x1="466.0" y1="874" x2="466.0" y2="877" stroke="#5a5a5a" stroke-width="1"/>
<line x1="506.0" y1="874" x2="506.0" y2="877" stroke="#5a5a5a" stroke-width="1"/>
<line x1="546.0" y1="874" x2="546.0" y2="877" stroke="#5a5a5a" stroke-width="1"/>
<line x1="586.0" y1="874" x2="586.0" y2="877" stroke="#5a5a5a" stroke-width="1"/>
<line x1="626.0" y1="874" x2="626.0" y2="877" stroke="#5a5a5a" stroke-width="1"/>
<line x1="666.0" y1="874" x2="666.0" y2="877" stroke="#5a5a5a" stroke-width="1"/>
<text x="466.0" y="887.4" font-size="9.6" text-anchor="middle" fill="#111">500</text>
<text x="506.0" y="887.4" font-size="9.6" text-anchor="middle" fill="#111">510</text>
<text x="546.0" y="887.4" font-size="9.6" text-anchor="middle" fill="#111">520</text>
<text x="586.0" y="887.4" font-size="9.6" text-anchor="middle" fill="#111">530</text>
<text x="626.0" y="887.4" font-size="9.6" text-anchor="middle" fill="#111">540</text>
<text x="666.0" y="887.4" font-size="9.6" text-anchor="middle" fill="#111">550</text>
<text x="566.5" y="903.4" font-size="14.8" font-weight="bold" text-anchor="middle">Wavelength (nm)</text>
<text transform="translate(439,793) rotate(-90)" font-size="15.3" font-weight="bold" text-anchor="middle">F<tspan font-size="10" dy="3.8">Fluo-4</tspan><tspan dy="-3.8"> (x10,000 a.u.)</tspan></text>
<path d="M466.0,754.7V759.1M464.7,754.7h2.6M464.7,759.1h2.6" stroke="#999" stroke-width="0.5" fill="none"/>
<path d="M470.0,752.3V756.7M468.7,752.3h2.6M468.7,756.7h2.6" stroke="#999" stroke-width="0.5" fill="none"/>
<path d="M474.0,746.7V751.1M472.7,746.7h2.6M472.7,751.1h2.6" stroke="#999" stroke-width="0.5" fill="none"/>
<path d="M478.0,743.7V748.1M476.7,743.7h2.6M476.7,748.1h2.6" stroke="#999" stroke-width="0.5" fill="none"/>
<path d="M482.0,741.4V745.8M480.7,741.4h2.6M480.7,745.8h2.6" stroke="#999" stroke-width="0.5" fill="none"/>
<path d="M486.0,738.4V742.8M484.7,738.4h2.6M484.7,742.8h2.6" stroke="#999" stroke-width="0.5" fill="none"/>
<path d="M490.0,734.4V738.8M488.7,734.4h2.6M488.7,738.8h2.6" stroke="#999" stroke-width="0.5" fill="none"/>
<path d="M494.0,731.4V735.8M492.7,731.4h2.6M492.7,735.8h2.6" stroke="#999" stroke-width="0.5" fill="none"/>
<path d="M498.0,729.4V733.8M496.7,729.4h2.6M496.7,733.8h2.6" stroke="#999" stroke-width="0.5" fill="none"/>
<path d="M502.0,729.2V733.6M500.7,729.2h2.6M500.7,733.6h2.6" stroke="#999" stroke-width="0.5" fill="none"/>
<path d="M506.0,728.9V733.3M504.7,728.9h2.6M504.7,733.3h2.6" stroke="#999" stroke-width="0.5" fill="none"/>
<path d="M510.0,729.0V733.4M508.7,729.0h2.6M508.7,733.4h2.6" stroke="#999" stroke-width="0.5" fill="none"/>
<path d="M514.0,729.4V733.8M512.7,729.4h2.6M512.7,733.8h2.6" stroke="#999" stroke-width="0.5" fill="none"/>
<path d="M518.0,731.6V736.0M516.7,731.6h2.6M516.7,736.0h2.6" stroke="#999" stroke-width="0.5" fill="none"/>
<path d="M522.0,734.1V738.5M520.7,734.1h2.6M520.7,738.5h2.6" stroke="#999" stroke-width="0.5" fill="none"/>
<path d="M526.0,736.4V740.8M524.7,736.4h2.6M524.7,740.8h2.6" stroke="#999" stroke-width="0.5" fill="none"/>
<path d="M530.0,739.6V744.0M528.7,739.6h2.6M528.7,744.0h2.6" stroke="#999" stroke-width="0.5" fill="none"/>
<path d="M534.0,744.3V748.7M532.7,744.3h2.6M532.7,748.7h2.6" stroke="#999" stroke-width="0.5" fill="none"/>
<path d="M538.0,748.3V752.7M536.7,748.3h2.6M536.7,752.7h2.6" stroke="#999" stroke-width="0.5" fill="none"/>
<path d="M542.0,750.9V755.3M540.7,750.9h2.6M540.7,755.3h2.6" stroke="#999" stroke-width="0.5" fill="none"/>
<path d="M546.0,753.4V757.8M544.7,753.4h2.6M544.7,757.8h2.6" stroke="#999" stroke-width="0.5" fill="none"/>
<path d="M550.0,758.1V762.5M548.7,758.1h2.6M548.7,762.5h2.6" stroke="#999" stroke-width="0.5" fill="none"/>
<path d="M554.0,762.3V766.7M552.7,762.3h2.6M552.7,766.7h2.6" stroke="#999" stroke-width="0.5" fill="none"/>
<path d="M558.0,766.2V770.6M556.7,766.2h2.6M556.7,770.6h2.6" stroke="#999" stroke-width="0.5" fill="none"/>
<path d="M562.0,770.2V774.6M560.7,770.2h2.6M560.7,774.6h2.6" stroke="#999" stroke-width="0.5" fill="none"/>
<path d="M566.0,774.2V778.6M564.7,774.2h2.6M564.7,778.6h2.6" stroke="#999" stroke-width="0.5" fill="none"/>
<path d="M570.0,778.2V782.6M568.7,778.2h2.6M568.7,782.6h2.6" stroke="#999" stroke-width="0.5" fill="none"/>
<path d="M574.0,782.2V786.6M572.7,782.2h2.6M572.7,786.6h2.6" stroke="#999" stroke-width="0.5" fill="none"/>
<path d="M578.0,787.2V791.6M576.7,787.2h2.6M576.7,791.6h2.6" stroke="#999" stroke-width="0.5" fill="none"/>
<path d="M582.0,792.3V796.7M580.7,792.3h2.6M580.7,796.7h2.6" stroke="#999" stroke-width="0.5" fill="none"/>
<path d="M586.0,797.3V801.7M584.7,797.3h2.6M584.7,801.7h2.6" stroke="#999" stroke-width="0.5" fill="none"/>
<path d="M590.0,802.3V806.7M588.7,802.3h2.6M588.7,806.7h2.6" stroke="#999" stroke-width="0.5" fill="none"/>
<path d="M594.0,807.8V812.2M592.7,807.8h2.6M592.7,812.2h2.6" stroke="#999" stroke-width="0.5" fill="none"/>
<path d="M598.0,813.3V817.7M596.7,813.3h2.6M596.7,817.7h2.6" stroke="#999" stroke-width="0.5" fill="none"/>
<path d="M602.0,817.9V822.3M600.7,817.9h2.6M600.7,822.3h2.6" stroke="#999" stroke-width="0.5" fill="none"/>
<path d="M606.0,822.4V826.8M604.7,822.4h2.6M604.7,826.8h2.6" stroke="#999" stroke-width="0.5" fill="none"/>
<path d="M610.0,827.0V831.4M608.7,827.0h2.6M608.7,831.4h2.6" stroke="#999" stroke-width="0.5" fill="none"/>
<path d="M614.0,831.6V836.0M612.7,831.6h2.6M612.7,836.0h2.6" stroke="#999" stroke-width="0.5" fill="none"/>
<path d="M618.0,834.6V839.0M616.7,834.6h2.6M616.7,839.0h2.6" stroke="#999" stroke-width="0.5" fill="none"/>
<path d="M622.0,837.6V842.0M620.7,837.6h2.6M620.7,842.0h2.6" stroke="#999" stroke-width="0.5" fill="none"/>
<path d="M626.0,840.6V845.0M624.7,840.6h2.6M624.7,845.0h2.6" stroke="#999" stroke-width="0.5" fill="none"/>
<path d="M630.0,843.6V848.0M628.7,843.6h2.6M628.7,848.0h2.6" stroke="#999" stroke-width="0.5" fill="none"/>
<path d="M634.0,846.0V850.4M632.7,846.0h2.6M632.7,850.4h2.6" stroke="#999" stroke-width="0.5" fill="none"/>
<path d="M638.0,848.3V852.7M636.7,848.3h2.6M636.7,852.7h2.6" stroke="#999" stroke-width="0.5" fill="none"/>
<path d="M642.0,851.3V855.7M640.7,851.3h2.6M640.7,855.7h2.6" stroke="#999" stroke-width="0.5" fill="none"/>
<path d="M646.0,854.3V858.7M644.7,854.3h2.6M644.7,858.7h2.6" stroke="#999" stroke-width="0.5" fill="none"/>
<path d="M650.0,857.2V861.6M648.7,857.2h2.6M648.7,861.6h2.6" stroke="#999" stroke-width="0.5" fill="none"/>
<path d="M654.0,860.2V864.6M652.7,860.2h2.6M652.7,864.6h2.6" stroke="#999" stroke-width="0.5" fill="none"/>
<path d="M658.0,862.2V866.6M656.7,862.2h2.6M656.7,866.6h2.6" stroke="#999" stroke-width="0.5" fill="none"/>
<path d="M662.0,864.0V868.4M660.7,864.0h2.6M660.7,868.4h2.6" stroke="#999" stroke-width="0.5" fill="none"/>
<path d="M666.0,866.4V870.8M664.7,866.4h2.6M664.7,870.8h2.6" stroke="#999" stroke-width="0.5" fill="none"/>
<polyline points="466.0,756.9 470.0,754.5 474.0,748.9 478.0,745.9 482.0,743.6 486.0,740.6 490.0,736.6 494.0,733.6 498.0,731.6 502.0,731.4 506.0,731.1 510.0,731.2 514.0,731.6 518.0,733.8 522.0,736.3 526.0,738.6 530.0,741.8 534.0,746.5 538.0,750.5 542.0,753.1 546.0,755.6 550.0,760.3 554.0,764.5 558.0,768.4 562.0,772.4 566.0,776.4 570.0,780.4 574.0,784.4 578.0,789.4 582.0,794.5 586.0,799.5 590.0,804.5 594.0,810.0 598.0,815.5 602.0,820.1 606.0,824.6 610.0,829.2 614.0,833.8 618.0,836.8 622.0,839.8 626.0,842.8 630.0,845.8 634.0,848.2 638.0,850.5 642.0,853.5 646.0,856.5 650.0,859.4 654.0,862.4 658.0,864.4 662.0,866.2 666.0,868.6" fill="none" stroke="#777" stroke-width="0.7"/>
<circle cx="466.0" cy="756.9" r="1.9" fill="#fff" stroke="#555" stroke-width="0.6"/>
<circle cx="470.0" cy="754.5" r="1.9" fill="#fff" stroke="#555" stroke-width="0.6"/>
<circle cx="474.0" cy="748.9" r="1.9" fill="#fff" stroke="#555" stroke-width="0.6"/>
<circle cx="478.0" cy="745.9" r="1.9" fill="#fff" stroke="#555" stroke-width="0.6"/>
<circle cx="482.0" cy="743.6" r="1.9" fill="#fff" stroke="#555" stroke-width="0.6"/>
<circle cx="486.0" cy="740.6" r="1.9" fill="#fff" stroke="#555" stroke-width="0.6"/>
<circle cx="490.0" cy="736.6" r="1.9" fill="#fff" stroke="#555" stroke-width="0.6"/>
<circle cx="494.0" cy="733.6" r="1.9" fill="#fff" stroke="#555" stroke-width="0.6"/>
<circle cx="498.0" cy="731.6" r="1.9" fill="#fff" stroke="#555" stroke-width="0.6"/>
<circle cx="502.0" cy="731.4" r="1.9" fill="#fff" stroke="#555" stroke-width="0.6"/>
<circle cx="506.0" cy="731.1" r="1.9" fill="#fff" stroke="#555" stroke-width="0.6"/>
<circle cx="510.0" cy="731.2" r="1.9" fill="#fff" stroke="#555" stroke-width="0.6"/>
<circle cx="514.0" cy="731.6" r="1.9" fill="#fff" stroke="#555" stroke-width="0.6"/>
<circle cx="518.0" cy="733.8" r="1.9" fill="#fff" stroke="#555" stroke-width="0.6"/>
<circle cx="522.0" cy="736.3" r="1.9" fill="#fff" stroke="#555" stroke-width="0.6"/>
<circle cx="526.0" cy="738.6" r="1.9" fill="#fff" stroke="#555" stroke-width="0.6"/>
<circle cx="530.0" cy="741.8" r="1.9" fill="#fff" stroke="#555" stroke-width="0.6"/>
<circle cx="534.0" cy="746.5" r="1.9" fill="#fff" stroke="#555" stroke-width="0.6"/>
<circle cx="538.0" cy="750.5" r="1.9" fill="#fff" stroke="#555" stroke-width="0.6"/>
<circle cx="542.0" cy="753.1" r="1.9" fill="#fff" stroke="#555" stroke-width="0.6"/>
<circle cx="546.0" cy="755.6" r="1.9" fill="#fff" stroke="#555" stroke-width="0.6"/>
<circle cx="550.0" cy="760.3" r="1.9" fill="#fff" stroke="#555" stroke-width="0.6"/>
<circle cx="554.0" cy="764.5" r="1.9" fill="#fff" stroke="#555" stroke-width="0.6"/>
<circle cx="558.0" cy="768.4" r="1.9" fill="#fff" stroke="#555" stroke-width="0.6"/>
<circle cx="562.0" cy="772.4" r="1.9" fill="#fff" stroke="#555" stroke-width="0.6"/>
<circle cx="566.0" cy="776.4" r="1.9" fill="#fff" stroke="#555" stroke-width="0.6"/>
<circle cx="570.0" cy="780.4" r="1.9" fill="#fff" stroke="#555" stroke-width="0.6"/>
<circle cx="574.0" cy="784.4" r="1.9" fill="#fff" stroke="#555" stroke-width="0.6"/>
<circle cx="578.0" cy="789.4" r="1.9" fill="#fff" stroke="#555" stroke-width="0.6"/>
<circle cx="582.0" cy="794.5" r="1.9" fill="#fff" stroke="#555" stroke-width="0.6"/>
<circle cx="586.0" cy="799.5" r="1.9" fill="#fff" stroke="#555" stroke-width="0.6"/>
<circle cx="590.0" cy="804.5" r="1.9" fill="#fff" stroke="#555" stroke-width="0.6"/>
<circle cx="594.0" cy="810.0" r="1.9" fill="#fff" stroke="#555" stroke-width="0.6"/>
<circle cx="598.0" cy="815.5" r="1.9" fill="#fff" stroke="#555" stroke-width="0.6"/>
<circle cx="602.0" cy="820.1" r="1.9" fill="#fff" stroke="#555" stroke-width="0.6"/>
<circle cx="606.0" cy="824.6" r="1.9" fill="#fff" stroke="#555" stroke-width="0.6"/>
<circle cx="610.0" cy="829.2" r="1.9" fill="#fff" stroke="#555" stroke-width="0.6"/>
<circle cx="614.0" cy="833.8" r="1.9" fill="#fff" stroke="#555" stroke-width="0.6"/>
<circle cx="618.0" cy="836.8" r="1.9" fill="#fff" stroke="#555" stroke-width="0.6"/>
<circle cx="622.0" cy="839.8" r="1.9" fill="#fff" stroke="#555" stroke-width="0.6"/>
<circle cx="626.0" cy="842.8" r="1.9" fill="#fff" stroke="#555" stroke-width="0.6"/>
<circle cx="630.0" cy="845.8" r="1.9" fill="#fff" stroke="#555" stroke-width="0.6"/>
<circle cx="634.0" cy="848.2" r="1.9" fill="#fff" stroke="#555" stroke-width="0.6"/>
<circle cx="638.0" cy="850.5" r="1.9" fill="#fff" stroke="#555" stroke-width="0.6"/>
<circle cx="642.0" cy="853.5" r="1.9" fill="#fff" stroke="#555" stroke-width="0.6"/>
<circle cx="646.0" cy="856.5" r="1.9" fill="#fff" stroke="#555" stroke-width="0.6"/>
<circle cx="650.0" cy="859.4" r="1.9" fill="#fff" stroke="#555" stroke-width="0.6"/>
<circle cx="654.0" cy="862.4" r="1.9" fill="#fff" stroke="#555" stroke-width="0.6"/>
<circle cx="658.0" cy="864.4" r="1.9" fill="#fff" stroke="#555" stroke-width="0.6"/>
<circle cx="662.0" cy="866.2" r="1.9" fill="#fff" stroke="#555" stroke-width="0.6"/>
<circle cx="666.0" cy="868.6" r="1.9" fill="#fff" stroke="#555" stroke-width="0.6"/>
<path d="M466.0,754.3V758.7M464.7,754.3h2.6M464.7,758.7h2.6" stroke="#999" stroke-width="0.5" fill="none"/>
<path d="M470.0,751.9V756.3M468.7,751.9h2.6M468.7,756.3h2.6" stroke="#999" stroke-width="0.5" fill="none"/>
<path d="M474.0,746.3V750.7M472.7,746.3h2.6M472.7,750.7h2.6" stroke="#999" stroke-width="0.5" fill="none"/>
<path d="M478.0,743.3V747.7M476.7,743.3h2.6M476.7,747.7h2.6" stroke="#999" stroke-width="0.5" fill="none"/>
<path d="M482.0,741.0V745.4M480.7,741.0h2.6M480.7,745.4h2.6" stroke="#999" stroke-width="0.5" fill="none"/>
<path d="M486.0,738.0V742.4M484.7,738.0h2.6M484.7,742.4h2.6" stroke="#999" stroke-width="0.5" fill="none"/>
<path d="M490.0,734.0V738.4M488.7,734.0h2.6M488.7,738.4h2.6" stroke="#999" stroke-width="0.5" fill="none"/>
<path d="M494.0,731.0V735.4M492.7,731.0h2.6M492.7,735.4h2.6" stroke="#999" stroke-width="0.5" fill="none"/>
<path d="M498.0,729.0V733.4M496.7,729.0h2.6M496.7,733.4h2.6" stroke="#999" stroke-width="0.5" fill="none"/>
<path d="M502.0,728.8V733.2M500.7,728.8h2.6M500.7,733.2h2.6" stroke="#999" stroke-width="0.5" fill="none"/>
<path d="M506.0,728.5V732.9M504.7,728.5h2.6M504.7,732.9h2.6" stroke="#999" stroke-width="0.5" fill="none"/>
<path d="M510.0,728.6V733.0M508.7,728.6h2.6M508.7,733.0h2.6" stroke="#999" stroke-width="0.5" fill="none"/>
<path d="M514.0,729.0V733.4M512.7,729.0h2.6M512.7,733.4h2.6" stroke="#999" stroke-width="0.5" fill="none"/>
<path d="M518.0,732.0V736.4M516.7,732.0h2.6M516.7,736.4h2.6" stroke="#999" stroke-width="0.5" fill="none"/>
<path d="M522.0,734.5V738.9M520.7,734.5h2.6M520.7,738.9h2.6" stroke="#999" stroke-width="0.5" fill="none"/>
<path d="M526.0,736.9V741.3M524.7,736.9h2.6M524.7,741.3h2.6" stroke="#999" stroke-width="0.5" fill="none"/>
<path d="M530.0,740.2V744.6M528.7,740.2h2.6M528.7,744.6h2.6" stroke="#999" stroke-width="0.5" fill="none"/>
<path d="M534.0,744.9V749.3M532.7,744.9h2.6M532.7,749.3h2.6" stroke="#999" stroke-width="0.5" fill="none"/>
<path d="M538.0,748.9V753.3M536.7,748.9h2.6M536.7,753.3h2.6" stroke="#999" stroke-width="0.5" fill="none"/>
<path d="M542.0,751.5V755.9M540.7,751.5h2.6M540.7,755.9h2.6" stroke="#999" stroke-width="0.5" fill="none"/>
<path d="M546.0,754.0V758.4M544.7,754.0h2.6M544.7,758.4h2.6" stroke="#999" stroke-width="0.5" fill="none"/>
<path d="M550.0,758.7V763.1M548.7,758.7h2.6M548.7,763.1h2.6" stroke="#999" stroke-width="0.5" fill="none"/>
<path d="M554.0,762.9V767.3M552.7,762.9h2.6M552.7,767.3h2.6" stroke="#999" stroke-width="0.5" fill="none"/>
<path d="M558.0,766.8V771.2M556.7,766.8h2.6M556.7,771.2h2.6" stroke="#999" stroke-width="0.5" fill="none"/>
<path d="M562.0,770.8V775.2M560.7,770.8h2.6M560.7,775.2h2.6" stroke="#999" stroke-width="0.5" fill="none"/>
<path d="M566.0,774.8V779.2M564.7,774.8h2.6M564.7,779.2h2.6" stroke="#999" stroke-width="0.5" fill="none"/>
<path d="M570.0,778.8V783.2M568.7,778.8h2.6M568.7,783.2h2.6" stroke="#999" stroke-width="0.5" fill="none"/>
<path d="M574.0,782.8V787.2M572.7,782.8h2.6M572.7,787.2h2.6" stroke="#999" stroke-width="0.5" fill="none"/>
<path d="M578.0,787.8V792.2M576.7,787.8h2.6M576.7,792.2h2.6" stroke="#999" stroke-width="0.5" fill="none"/>
<path d="M582.0,792.9V797.3M580.7,792.9h2.6M580.7,797.3h2.6" stroke="#999" stroke-width="0.5" fill="none"/>
<path d="M586.0,797.9V802.3M584.7,797.9h2.6M584.7,802.3h2.6" stroke="#999" stroke-width="0.5" fill="none"/>
<path d="M590.0,802.9V807.3M588.7,802.9h2.6M588.7,807.3h2.6" stroke="#999" stroke-width="0.5" fill="none"/>
<path d="M594.0,808.4V812.8M592.7,808.4h2.6M592.7,812.8h2.6" stroke="#999" stroke-width="0.5" fill="none"/>
<path d="M598.0,813.9V818.3M596.7,813.9h2.6M596.7,818.3h2.6" stroke="#999" stroke-width="0.5" fill="none"/>
<path d="M602.0,818.5V822.9M600.7,818.5h2.6M600.7,822.9h2.6" stroke="#999" stroke-width="0.5" fill="none"/>
<path d="M606.0,823.0V827.4M604.7,823.0h2.6M604.7,827.4h2.6" stroke="#999" stroke-width="0.5" fill="none"/>
<path d="M610.0,827.6V832.0M608.7,827.6h2.6M608.7,832.0h2.6" stroke="#999" stroke-width="0.5" fill="none"/>
<path d="M614.0,832.2V836.6M612.7,832.2h2.6M612.7,836.6h2.6" stroke="#999" stroke-width="0.5" fill="none"/>
<path d="M618.0,835.2V839.6M616.7,835.2h2.6M616.7,839.6h2.6" stroke="#999" stroke-width="0.5" fill="none"/>
<path d="M622.0,838.2V842.6M620.7,838.2h2.6M620.7,842.6h2.6" stroke="#999" stroke-width="0.5" fill="none"/>
<path d="M626.0,841.2V845.6M624.7,841.2h2.6M624.7,845.6h2.6" stroke="#999" stroke-width="0.5" fill="none"/>
<path d="M630.0,844.2V848.6M628.7,844.2h2.6M628.7,848.6h2.6" stroke="#999" stroke-width="0.5" fill="none"/>
<path d="M634.0,846.6V851.0M632.7,846.6h2.6M632.7,851.0h2.6" stroke="#999" stroke-width="0.5" fill="none"/>
<path d="M638.0,848.9V853.3M636.7,848.9h2.6M636.7,853.3h2.6" stroke="#999" stroke-width="0.5" fill="none"/>
<path d="M642.0,851.9V856.3M640.7,851.9h2.6M640.7,856.3h2.6" stroke="#999" stroke-width="0.5" fill="none"/>
<path d="M646.0,854.9V859.3M644.7,854.9h2.6M644.7,859.3h2.6" stroke="#999" stroke-width="0.5" fill="none"/>
<path d="M650.0,857.8V862.2M648.7,857.8h2.6M648.7,862.2h2.6" stroke="#999" stroke-width="0.5" fill="none"/>
<path d="M654.0,860.8V865.2M652.7,860.8h2.6M652.7,865.2h2.6" stroke="#999" stroke-width="0.5" fill="none"/>
<path d="M658.0,862.8V867.2M656.7,862.8h2.6M656.7,867.2h2.6" stroke="#999" stroke-width="0.5" fill="none"/>
<path d="M662.0,864.6V869.0M660.7,864.6h2.6M660.7,869.0h2.6" stroke="#999" stroke-width="0.5" fill="none"/>
<path d="M666.0,867.0V871.4M664.7,867.0h2.6M664.7,871.4h2.6" stroke="#999" stroke-width="0.5" fill="none"/>
<polyline points="466.0,756.5 470.0,754.1 474.0,748.5 478.0,745.5 482.0,743.2 486.0,740.2 490.0,736.2 494.0,733.2 498.0,731.2 502.0,731.0 506.0,730.7 510.0,730.8 514.0,731.2 518.0,734.2 522.0,736.7 526.0,739.1 530.0,742.4 534.0,747.1 538.0,751.1 542.0,753.7 546.0,756.2 550.0,760.9 554.0,765.1 558.0,769.0 562.0,773.0 566.0,777.0 570.0,781.0 574.0,785.0 578.0,790.0 582.0,795.1 586.0,800.1 590.0,805.1 594.0,810.6 598.0,816.1 602.0,820.7 606.0,825.2 610.0,829.8 614.0,834.4 618.0,837.4 622.0,840.4 626.0,843.4 630.0,846.4 634.0,848.8 638.0,851.1 642.0,854.1 646.0,857.1 650.0,860.0 654.0,863.0 658.0,865.0 662.0,866.8 666.0,869.2" fill="none" stroke="#c4c4c4" stroke-width="0.7"/>
<circle cx="466.0" cy="756.5" r="2.0" fill="#c4c4c4" stroke="none" stroke-width="0"/>
<circle cx="470.0" cy="754.1" r="2.0" fill="#c4c4c4" stroke="none" stroke-width="0"/>
<circle cx="474.0" cy="748.5" r="2.0" fill="#c4c4c4" stroke="none" stroke-width="0"/>
<circle cx="478.0" cy="745.5" r="2.0" fill="#c4c4c4" stroke="none" stroke-width="0"/>
<circle cx="482.0" cy="743.2" r="2.0" fill="#c4c4c4" stroke="none" stroke-width="0"/>
<circle cx="486.0" cy="740.2" r="2.0" fill="#c4c4c4" stroke="none" stroke-width="0"/>
<circle cx="490.0" cy="736.2" r="2.0" fill="#c4c4c4" stroke="none" stroke-width="0"/>
<circle cx="494.0" cy="733.2" r="2.0" fill="#c4c4c4" stroke="none" stroke-width="0"/>
<circle cx="498.0" cy="731.2" r="2.0" fill="#c4c4c4" stroke="none" stroke-width="0"/>
<circle cx="502.0" cy="731.0" r="2.0" fill="#c4c4c4" stroke="none" stroke-width="0"/>
<circle cx="506.0" cy="730.7" r="2.0" fill="#c4c4c4" stroke="none" stroke-width="0"/>
<circle cx="510.0" cy="730.8" r="2.0" fill="#c4c4c4" stroke="none" stroke-width="0"/>
<circle cx="514.0" cy="731.2" r="2.0" fill="#c4c4c4" stroke="none" stroke-width="0"/>
<circle cx="518.0" cy="734.2" r="2.0" fill="#c4c4c4" stroke="none" stroke-width="0"/>
<circle cx="522.0" cy="736.7" r="2.0" fill="#c4c4c4" stroke="none" stroke-width="0"/>
<circle cx="526.0" cy="739.1" r="2.0" fill="#c4c4c4" stroke="none" stroke-width="0"/>
<circle cx="530.0" cy="742.4" r="2.0" fill="#c4c4c4" stroke="none" stroke-width="0"/>
<circle cx="534.0" cy="747.1" r="2.0" fill="#c4c4c4" stroke="none" stroke-width="0"/>
<circle cx="538.0" cy="751.1" r="2.0" fill="#c4c4c4" stroke="none" stroke-width="0"/>
<circle cx="542.0" cy="753.7" r="2.0" fill="#c4c4c4" stroke="none" stroke-width="0"/>
<circle cx="546.0" cy="756.2" r="2.0" fill="#c4c4c4" stroke="none" stroke-width="0"/>
<circle cx="550.0" cy="760.9" r="2.0" fill="#c4c4c4" stroke="none" stroke-width="0"/>
<circle cx="554.0" cy="765.1" r="2.0" fill="#c4c4c4" stroke="none" stroke-width="0"/>
<circle cx="558.0" cy="769.0" r="2.0" fill="#c4c4c4" stroke="none" stroke-width="0"/>
<circle cx="562.0" cy="773.0" r="2.0" fill="#c4c4c4" stroke="none" stroke-width="0"/>
<circle cx="566.0" cy="777.0" r="2.0" fill="#c4c4c4" stroke="none" stroke-width="0"/>
<circle cx="570.0" cy="781.0" r="2.0" fill="#c4c4c4" stroke="none" stroke-width="0"/>
<circle cx="574.0" cy="785.0" r="2.0" fill="#c4c4c4" stroke="none" stroke-width="0"/>
<circle cx="578.0" cy="790.0" r="2.0" fill="#c4c4c4" stroke="none" stroke-width="0"/>
<circle cx="582.0" cy="795.1" r="2.0" fill="#c4c4c4" stroke="none" stroke-width="0"/>
<circle cx="586.0" cy="800.1" r="2.0" fill="#c4c4c4" stroke="none" stroke-width="0"/>
<circle cx="590.0" cy="805.1" r="2.0" fill="#c4c4c4" stroke="none" stroke-width="0"/>
<circle cx="594.0" cy="810.6" r="2.0" fill="#c4c4c4" stroke="none" stroke-width="0"/>
<circle cx="598.0" cy="816.1" r="2.0" fill="#c4c4c4" stroke="none" stroke-width="0"/>
<circle cx="602.0" cy="820.7" r="2.0" fill="#c4c4c4" stroke="none" stroke-width="0"/>
<circle cx="606.0" cy="825.2" r="2.0" fill="#c4c4c4" stroke="none" stroke-width="0"/>
<circle cx="610.0" cy="829.8" r="2.0" fill="#c4c4c4" stroke="none" stroke-width="0"/>
<circle cx="614.0" cy="834.4" r="2.0" fill="#c4c4c4" stroke="none" stroke-width="0"/>
<circle cx="618.0" cy="837.4" r="2.0" fill="#c4c4c4" stroke="none" stroke-width="0"/>
<circle cx="622.0" cy="840.4" r="2.0" fill="#c4c4c4" stroke="none" stroke-width="0"/>
<circle cx="626.0" cy="843.4" r="2.0" fill="#c4c4c4" stroke="none" stroke-width="0"/>
<circle cx="630.0" cy="846.4" r="2.0" fill="#c4c4c4" stroke="none" stroke-width="0"/>
<circle cx="634.0" cy="848.8" r="2.0" fill="#c4c4c4" stroke="none" stroke-width="0"/>
<circle cx="638.0" cy="851.1" r="2.0" fill="#c4c4c4" stroke="none" stroke-width="0"/>
<circle cx="642.0" cy="854.1" r="2.0" fill="#c4c4c4" stroke="none" stroke-width="0"/>
<circle cx="646.0" cy="857.1" r="2.0" fill="#c4c4c4" stroke="none" stroke-width="0"/>
<circle cx="650.0" cy="860.0" r="2.0" fill="#c4c4c4" stroke="none" stroke-width="0"/>
<circle cx="654.0" cy="863.0" r="2.0" fill="#c4c4c4" stroke="none" stroke-width="0"/>
<circle cx="658.0" cy="865.0" r="2.0" fill="#c4c4c4" stroke="none" stroke-width="0"/>
<circle cx="662.0" cy="866.8" r="2.0" fill="#c4c4c4" stroke="none" stroke-width="0"/>
<circle cx="666.0" cy="869.2" r="2.0" fill="#c4c4c4" stroke="none" stroke-width="0"/>
<path d="M466.0,755.0V759.4M464.7,755.0h2.6M464.7,759.4h2.6" stroke="#999" stroke-width="0.5" fill="none"/>
<path d="M470.0,752.6V757.0M468.7,752.6h2.6M468.7,757.0h2.6" stroke="#999" stroke-width="0.5" fill="none"/>
<path d="M474.0,747.0V751.4M472.7,747.0h2.6M472.7,751.4h2.6" stroke="#999" stroke-width="0.5" fill="none"/>
<path d="M478.0,744.0V748.4M476.7,744.0h2.6M476.7,748.4h2.6" stroke="#999" stroke-width="0.5" fill="none"/>
<path d="M482.0,741.7V746.1M480.7,741.7h2.6M480.7,746.1h2.6" stroke="#999" stroke-width="0.5" fill="none"/>
<path d="M486.0,738.7V743.1M484.7,738.7h2.6M484.7,743.1h2.6" stroke="#999" stroke-width="0.5" fill="none"/>
<path d="M490.0,734.7V739.1M488.7,734.7h2.6M488.7,739.1h2.6" stroke="#999" stroke-width="0.5" fill="none"/>
<path d="M494.0,731.7V736.1M492.7,731.7h2.6M492.7,736.1h2.6" stroke="#999" stroke-width="0.5" fill="none"/>
<path d="M498.0,729.7V734.1M496.7,729.7h2.6M496.7,734.1h2.6" stroke="#999" stroke-width="0.5" fill="none"/>
<path d="M502.0,729.5V733.9M500.7,729.5h2.6M500.7,733.9h2.6" stroke="#999" stroke-width="0.5" fill="none"/>
<path d="M506.0,729.2V733.6M504.7,729.2h2.6M504.7,733.6h2.6" stroke="#999" stroke-width="0.5" fill="none"/>
<path d="M510.0,729.3V733.7M508.7,729.3h2.6M508.7,733.7h2.6" stroke="#999" stroke-width="0.5" fill="none"/>
<path d="M514.0,729.7V734.1M512.7,729.7h2.6M512.7,734.1h2.6" stroke="#999" stroke-width="0.5" fill="none"/>
<path d="M518.0,731.3V735.7M516.7,731.3h2.6M516.7,735.7h2.6" stroke="#999" stroke-width="0.5" fill="none"/>
<path d="M522.0,733.4V737.8M520.7,733.4h2.6M520.7,737.8h2.6" stroke="#999" stroke-width="0.5" fill="none"/>
<path d="M526.0,735.4V739.8M524.7,735.4h2.6M524.7,739.8h2.6" stroke="#999" stroke-width="0.5" fill="none"/>
<path d="M530.0,738.2V742.6M528.7,738.2h2.6M528.7,742.6h2.6" stroke="#999" stroke-width="0.5" fill="none"/>
<path d="M534.0,742.6V747.0M532.7,742.6h2.6M532.7,747.0h2.6" stroke="#999" stroke-width="0.5" fill="none"/>
<path d="M538.0,746.6V751.0M536.7,746.6h2.6M536.7,751.0h2.6" stroke="#999" stroke-width="0.5" fill="none"/>
<path d="M542.0,749.2V753.6M540.7,749.2h2.6M540.7,753.6h2.6" stroke="#999" stroke-width="0.5" fill="none"/>
<path d="M546.0,751.7V756.1M544.7,751.7h2.6M544.7,756.1h2.6" stroke="#999" stroke-width="0.5" fill="none"/>
<path d="M550.0,756.4V760.8M548.7,756.4h2.6M548.7,760.8h2.6" stroke="#999" stroke-width="0.5" fill="none"/>
<path d="M554.0,760.6V765.0M552.7,760.6h2.6M552.7,765.0h2.6" stroke="#999" stroke-width="0.5" fill="none"/>
<path d="M558.0,764.5V768.9M556.7,764.5h2.6M556.7,768.9h2.6" stroke="#999" stroke-width="0.5" fill="none"/>
<path d="M562.0,768.5V772.9M560.7,768.5h2.6M560.7,772.9h2.6" stroke="#999" stroke-width="0.5" fill="none"/>
<path d="M566.0,772.5V776.9M564.7,772.5h2.6M564.7,776.9h2.6" stroke="#999" stroke-width="0.5" fill="none"/>
<path d="M570.0,776.5V780.9M568.7,776.5h2.6M568.7,780.9h2.6" stroke="#999" stroke-width="0.5" fill="none"/>
<path d="M574.0,780.5V784.9M572.7,780.5h2.6M572.7,784.9h2.6" stroke="#999" stroke-width="0.5" fill="none"/>
<path d="M578.0,785.5V789.9M576.7,785.5h2.6M576.7,789.9h2.6" stroke="#999" stroke-width="0.5" fill="none"/>
<path d="M582.0,790.6V795.0M580.7,790.6h2.6M580.7,795.0h2.6" stroke="#999" stroke-width="0.5" fill="none"/>
<path d="M586.0,795.6V800.0M584.7,795.6h2.6M584.7,800.0h2.6" stroke="#999" stroke-width="0.5" fill="none"/>
<path d="M590.0,800.6V805.0M588.7,800.6h2.6M588.7,805.0h2.6" stroke="#999" stroke-width="0.5" fill="none"/>
<path d="M594.0,806.1V810.5M592.7,806.1h2.6M592.7,810.5h2.6" stroke="#999" stroke-width="0.5" fill="none"/>
<path d="M598.0,811.6V816.0M596.7,811.6h2.6M596.7,816.0h2.6" stroke="#999" stroke-width="0.5" fill="none"/>
<path d="M602.0,816.2V820.6M600.7,816.2h2.6M600.7,820.6h2.6" stroke="#999" stroke-width="0.5" fill="none"/>
<path d="M606.0,820.7V825.1M604.7,820.7h2.6M604.7,825.1h2.6" stroke="#999" stroke-width="0.5" fill="none"/>
<path d="M610.0,825.3V829.7M608.7,825.3h2.6M608.7,829.7h2.6" stroke="#999" stroke-width="0.5" fill="none"/>
<path d="M614.0,829.9V834.3M612.7,829.9h2.6M612.7,834.3h2.6" stroke="#999" stroke-width="0.5" fill="none"/>
<path d="M618.0,832.9V837.3M616.7,832.9h2.6M616.7,837.3h2.6" stroke="#999" stroke-width="0.5" fill="none"/>
<path d="M622.0,835.9V840.3M620.7,835.9h2.6M620.7,840.3h2.6" stroke="#999" stroke-width="0.5" fill="none"/>
<path d="M626.0,838.9V843.3M624.7,838.9h2.6M624.7,843.3h2.6" stroke="#999" stroke-width="0.5" fill="none"/>
<path d="M630.0,841.9V846.3M628.7,841.9h2.6M628.7,846.3h2.6" stroke="#999" stroke-width="0.5" fill="none"/>
<path d="M634.0,844.3V848.7M632.7,844.3h2.6M632.7,848.7h2.6" stroke="#999" stroke-width="0.5" fill="none"/>
<path d="M638.0,846.6V851.0M636.7,846.6h2.6M636.7,851.0h2.6" stroke="#999" stroke-width="0.5" fill="none"/>
<path d="M642.0,849.6V854.0M640.7,849.6h2.6M640.7,854.0h2.6" stroke="#999" stroke-width="0.5" fill="none"/>
<path d="M646.0,852.6V857.0M644.7,852.6h2.6M644.7,857.0h2.6" stroke="#999" stroke-width="0.5" fill="none"/>
<path d="M650.0,855.5V859.9M648.7,855.5h2.6M648.7,859.9h2.6" stroke="#999" stroke-width="0.5" fill="none"/>
<path d="M654.0,858.5V862.9M652.7,858.5h2.6M652.7,862.9h2.6" stroke="#999" stroke-width="0.5" fill="none"/>
<path d="M658.0,860.5V864.9M656.7,860.5h2.6M656.7,864.9h2.6" stroke="#999" stroke-width="0.5" fill="none"/>
<path d="M662.0,862.3V866.7M660.7,862.3h2.6M660.7,866.7h2.6" stroke="#999" stroke-width="0.5" fill="none"/>
<path d="M666.0,864.7V869.1M664.7,864.7h2.6M664.7,869.1h2.6" stroke="#999" stroke-width="0.5" fill="none"/>
<polyline points="466.0,757.2 470.0,754.8 474.0,749.2 478.0,746.2 482.0,743.9 486.0,740.9 490.0,736.9 494.0,733.9 498.0,731.9 502.0,731.7 506.0,731.4 510.0,731.5 514.0,731.9 518.0,733.5 522.0,735.6 526.0,737.6 530.0,740.4 534.0,744.8 538.0,748.8 542.0,751.4 546.0,753.9 550.0,758.6 554.0,762.8 558.0,766.7 562.0,770.7 566.0,774.7 570.0,778.7 574.0,782.7 578.0,787.7 582.0,792.8 586.0,797.8 590.0,802.8 594.0,808.3 598.0,813.8 602.0,818.4 606.0,822.9 610.0,827.5 614.0,832.1 618.0,835.1 622.0,838.1 626.0,841.1 630.0,844.1 634.0,846.5 638.0,848.8 642.0,851.8 646.0,854.8 650.0,857.7 654.0,860.7 658.0,862.7 662.0,864.5 666.0,866.9" fill="none" stroke="#8a8a8a" stroke-width="0.7"/>
<circle cx="466.0" cy="757.2" r="2.0" fill="#8a8a8a" stroke="none" stroke-width="0"/>
<circle cx="470.0" cy="754.8" r="2.0" fill="#8a8a8a" stroke="none" stroke-width="0"/>
<circle cx="474.0" cy="749.2" r="2.0" fill="#8a8a8a" stroke="none" stroke-width="0"/>
<circle cx="478.0" cy="746.2" r="2.0" fill="#8a8a8a" stroke="none" stroke-width="0"/>
<circle cx="482.0" cy="743.9" r="2.0" fill="#8a8a8a" stroke="none" stroke-width="0"/>
<circle cx="486.0" cy="740.9" r="2.0" fill="#8a8a8a" stroke="none" stroke-width="0"/>
<circle cx="490.0" cy="736.9" r="2.0" fill="#8a8a8a" stroke="none" stroke-width="0"/>
<circle cx="494.0" cy="733.9" r="2.0" fill="#8a8a8a" stroke="none" stroke-width="0"/>
<circle cx="498.0" cy="731.9" r="2.0" fill="#8a8a8a" stroke="none" stroke-width="0"/>
<circle cx="502.0" cy="731.7" r="2.0" fill="#8a8a8a" stroke="none" stroke-width="0"/>
<circle cx="506.0" cy="731.4" r="2.0" fill="#8a8a8a" stroke="none" stroke-width="0"/>
<circle cx="510.0" cy="731.5" r="2.0" fill="#8a8a8a" stroke="none" stroke-width="0"/>
<circle cx="514.0" cy="731.9" r="2.0" fill="#8a8a8a" stroke="none" stroke-width="0"/>
<circle cx="518.0" cy="733.5" r="2.0" fill="#8a8a8a" stroke="none" stroke-width="0"/>
<circle cx="522.0" cy="735.6" r="2.0" fill="#8a8a8a" stroke="none" stroke-width="0"/>
<circle cx="526.0" cy="737.6" r="2.0" fill="#8a8a8a" stroke="none" stroke-width="0"/>
<circle cx="530.0" cy="740.4" r="2.0" fill="#8a8a8a" stroke="none" stroke-width="0"/>
<circle cx="534.0" cy="744.8" r="2.0" fill="#8a8a8a" stroke="none" stroke-width="0"/>
<circle cx="538.0" cy="748.8" r="2.0" fill="#8a8a8a" stroke="none" stroke-width="0"/>
<circle cx="542.0" cy="751.4" r="2.0" fill="#8a8a8a" stroke="none" stroke-width="0"/>
<circle cx="546.0" cy="753.9" r="2.0" fill="#8a8a8a" stroke="none" stroke-width="0"/>
<circle cx="550.0" cy="758.6" r="2.0" fill="#8a8a8a" stroke="none" stroke-width="0"/>
<circle cx="554.0" cy="762.8" r="2.0" fill="#8a8a8a" stroke="none" stroke-width="0"/>
<circle cx="558.0" cy="766.7" r="2.0" fill="#8a8a8a" stroke="none" stroke-width="0"/>
<circle cx="562.0" cy="770.7" r="2.0" fill="#8a8a8a" stroke="none" stroke-width="0"/>
<circle cx="566.0" cy="774.7" r="2.0" fill="#8a8a8a" stroke="none" stroke-width="0"/>
<circle cx="570.0" cy="778.7" r="2.0" fill="#8a8a8a" stroke="none" stroke-width="0"/>
<circle cx="574.0" cy="782.7" r="2.0" fill="#8a8a8a" stroke="none" stroke-width="0"/>
<circle cx="578.0" cy="787.7" r="2.0" fill="#8a8a8a" stroke="none" stroke-width="0"/>
<circle cx="582.0" cy="792.8" r="2.0" fill="#8a8a8a" stroke="none" stroke-width="0"/>
<circle cx="586.0" cy="797.8" r="2.0" fill="#8a8a8a" stroke="none" stroke-width="0"/>
<circle cx="590.0" cy="802.8" r="2.0" fill="#8a8a8a" stroke="none" stroke-width="0"/>
<circle cx="594.0" cy="808.3" r="2.0" fill="#8a8a8a" stroke="none" stroke-width="0"/>
<circle cx="598.0" cy="813.8" r="2.0" fill="#8a8a8a" stroke="none" stroke-width="0"/>
<circle cx="602.0" cy="818.4" r="2.0" fill="#8a8a8a" stroke="none" stroke-width="0"/>
<circle cx="606.0" cy="822.9" r="2.0" fill="#8a8a8a" stroke="none" stroke-width="0"/>
<circle cx="610.0" cy="827.5" r="2.0" fill="#8a8a8a" stroke="none" stroke-width="0"/>
<circle cx="614.0" cy="832.1" r="2.0" fill="#8a8a8a" stroke="none" stroke-width="0"/>
<circle cx="618.0" cy="835.1" r="2.0" fill="#8a8a8a" stroke="none" stroke-width="0"/>
<circle cx="622.0" cy="838.1" r="2.0" fill="#8a8a8a" stroke="none" stroke-width="0"/>
<circle cx="626.0" cy="841.1" r="2.0" fill="#8a8a8a" stroke="none" stroke-width="0"/>
<circle cx="630.0" cy="844.1" r="2.0" fill="#8a8a8a" stroke="none" stroke-width="0"/>
<circle cx="634.0" cy="846.5" r="2.0" fill="#8a8a8a" stroke="none" stroke-width="0"/>
<circle cx="638.0" cy="848.8" r="2.0" fill="#8a8a8a" stroke="none" stroke-width="0"/>
<circle cx="642.0" cy="851.8" r="2.0" fill="#8a8a8a" stroke="none" stroke-width="0"/>
<circle cx="646.0" cy="854.8" r="2.0" fill="#8a8a8a" stroke="none" stroke-width="0"/>
<circle cx="650.0" cy="857.7" r="2.0" fill="#8a8a8a" stroke="none" stroke-width="0"/>
<circle cx="654.0" cy="860.7" r="2.0" fill="#8a8a8a" stroke="none" stroke-width="0"/>
<circle cx="658.0" cy="862.7" r="2.0" fill="#8a8a8a" stroke="none" stroke-width="0"/>
<circle cx="662.0" cy="864.5" r="2.0" fill="#8a8a8a" stroke="none" stroke-width="0"/>
<circle cx="666.0" cy="866.9" r="2.0" fill="#8a8a8a" stroke="none" stroke-width="0"/>
<polyline points="466.0,757.7 470.0,755.3 474.0,749.7 478.0,746.7 482.0,744.4 486.0,741.4 490.0,737.4 494.0,734.4 498.0,732.4 502.0,732.2 506.0,731.9 510.0,732.0 514.0,732.4 518.0,733.0 522.0,734.6 526.0,736.0 530.0,738.3 534.0,742.3 538.0,746.3 542.0,748.9 546.0,751.4 550.0,756.1 554.0,760.3 558.0,764.2 562.0,768.2 566.0,772.2 570.0,776.2 574.0,780.2 578.0,785.2 582.0,790.3 586.0,795.3 590.0,800.3 594.0,805.8 598.0,811.3 602.0,815.9 606.0,820.4 610.0,825.0 614.0,829.6 618.0,832.6 622.0,835.6 626.0,838.6 630.0,841.6 634.0,844.0 638.0,846.3 642.0,849.3 646.0,852.3 650.0,855.2 654.0,858.2 658.0,860.2 662.0,862.0 666.0,864.4" fill="none" stroke="#222" stroke-width="0.7"/>
<circle cx="466.0" cy="757.7" r="2.0" fill="#000" stroke="none" stroke-width="0"/>
<circle cx="470.0" cy="755.3" r="2.0" fill="#000" stroke="none" stroke-width="0"/>
<circle cx="474.0" cy="749.7" r="2.0" fill="#000" stroke="none" stroke-width="0"/>
<circle cx="478.0" cy="746.7" r="2.0" fill="#000" stroke="none" stroke-width="0"/>
<circle cx="482.0" cy="744.4" r="2.0" fill="#000" stroke="none" stroke-width="0"/>
<circle cx="486.0" cy="741.4" r="2.0" fill="#000" stroke="none" stroke-width="0"/>
<circle cx="490.0" cy="737.4" r="2.0" fill="#000" stroke="none" stroke-width="0"/>
<circle cx="494.0" cy="734.4" r="2.0" fill="#000" stroke="none" stroke-width="0"/>
<circle cx="498.0" cy="732.4" r="2.0" fill="#000" stroke="none" stroke-width="0"/>
<circle cx="502.0" cy="732.2" r="2.0" fill="#000" stroke="none" stroke-width="0"/>
<circle cx="506.0" cy="731.9" r="2.0" fill="#000" stroke="none" stroke-width="0"/>
<circle cx="510.0" cy="732.0" r="2.0" fill="#000" stroke="none" stroke-width="0"/>
<circle cx="514.0" cy="732.4" r="2.0" fill="#000" stroke="none" stroke-width="0"/>
<circle cx="518.0" cy="733.0" r="2.0" fill="#000" stroke="none" stroke-width="0"/>
<circle cx="522.0" cy="734.6" r="2.0" fill="#000" stroke="none" stroke-width="0"/>
<circle cx="526.0" cy="736.0" r="2.0" fill="#000" stroke="none" stroke-width="0"/>
<circle cx="530.0" cy="738.3" r="2.0" fill="#000" stroke="none" stroke-width="0"/>
<circle cx="534.0" cy="742.3" r="2.0" fill="#000" stroke="none" stroke-width="0"/>
<circle cx="538.0" cy="746.3" r="2.0" fill="#000" stroke="none" stroke-width="0"/>
<circle cx="542.0" cy="748.9" r="2.0" fill="#000" stroke="none" stroke-width="0"/>
<circle cx="546.0" cy="751.4" r="2.0" fill="#000" stroke="none" stroke-width="0"/>
<circle cx="550.0" cy="756.1" r="2.0" fill="#000" stroke="none" stroke-width="0"/>
<circle cx="554.0" cy="760.3" r="2.0" fill="#000" stroke="none" stroke-width="0"/>
<circle cx="558.0" cy="764.2" r="2.0" fill="#000" stroke="none" stroke-width="0"/>
<circle cx="562.0" cy="768.2" r="2.0" fill="#000" stroke="none" stroke-width="0"/>
<circle cx="566.0" cy="772.2" r="2.0" fill="#000" stroke="none" stroke-width="0"/>
<circle cx="570.0" cy="776.2" r="2.0" fill="#000" stroke="none" stroke-width="0"/>
<circle cx="574.0" cy="780.2" r="2.0" fill="#000" stroke="none" stroke-width="0"/>
<circle cx="578.0" cy="785.2" r="2.0" fill="#000" stroke="none" stroke-width="0"/>
<circle cx="582.0" cy="790.3" r="2.0" fill="#000" stroke="none" stroke-width="0"/>
<circle cx="586.0" cy="795.3" r="2.0" fill="#000" stroke="none" stroke-width="0"/>
<circle cx="590.0" cy="800.3" r="2.0" fill="#000" stroke="none" stroke-width="0"/>
<circle cx="594.0" cy="805.8" r="2.0" fill="#000" stroke="none" stroke-width="0"/>
<circle cx="598.0" cy="811.3" r="2.0" fill="#000" stroke="none" stroke-width="0"/>
<circle cx="602.0" cy="815.9" r="2.0" fill="#000" stroke="none" stroke-width="0"/>
<circle cx="606.0" cy="820.4" r="2.0" fill="#000" stroke="none" stroke-width="0"/>
<circle cx="610.0" cy="825.0" r="2.0" fill="#000" stroke="none" stroke-width="0"/>
<circle cx="614.0" cy="829.6" r="2.0" fill="#000" stroke="none" stroke-width="0"/>
<circle cx="618.0" cy="832.6" r="2.0" fill="#000" stroke="none" stroke-width="0"/>
<circle cx="622.0" cy="835.6" r="2.0" fill="#000" stroke="none" stroke-width="0"/>
<circle cx="626.0" cy="838.6" r="2.0" fill="#000" stroke="none" stroke-width="0"/>
<circle cx="630.0" cy="841.6" r="2.0" fill="#000" stroke="none" stroke-width="0"/>
<circle cx="634.0" cy="844.0" r="2.0" fill="#000" stroke="none" stroke-width="0"/>
<circle cx="638.0" cy="846.3" r="2.0" fill="#000" stroke="none" stroke-width="0"/>
<circle cx="642.0" cy="849.3" r="2.0" fill="#000" stroke="none" stroke-width="0"/>
<circle cx="646.0" cy="852.3" r="2.0" fill="#000" stroke="none" stroke-width="0"/>
<circle cx="650.0" cy="855.2" r="2.0" fill="#000" stroke="none" stroke-width="0"/>
<circle cx="654.0" cy="858.2" r="2.0" fill="#000" stroke="none" stroke-width="0"/>
<circle cx="658.0" cy="860.2" r="2.0" fill="#000" stroke="none" stroke-width="0"/>
<circle cx="662.0" cy="862.0" r="2.0" fill="#000" stroke="none" stroke-width="0"/>
<circle cx="666.0" cy="864.4" r="2.0" fill="#000" stroke="none" stroke-width="0"/>
<line x1="479" y1="787.4" x2="501" y2="787.4" stroke="#666" stroke-width="0.8"/>
<circle cx="489.5" cy="787.4" r="2.6" fill="#fff" stroke="#555" stroke-width="0.7"/>
<text x="542.4" y="791.7" font-size="12" text-anchor="end">0 mM</text>
<line x1="479" y1="811.3" x2="501" y2="811.3" stroke="#c4c4c4" stroke-width="1.6"/>
<circle cx="489.5" cy="811.3" r="2.6" fill="#c4c4c4" stroke="none" stroke-width="0"/>
<text x="542.4" y="815.6" font-size="12" text-anchor="end">5 mM</text>
<line x1="479" y1="834.1" x2="501" y2="834.1" stroke="#8a8a8a" stroke-width="0.8"/>
<circle cx="489.5" cy="834.1" r="2.6" fill="#8a8a8a" stroke="none" stroke-width="0"/>
<text x="542.4" y="838.4" font-size="12" text-anchor="end">10 mM</text>
<line x1="479" y1="858" x2="501" y2="858" stroke="#222" stroke-width="0.8"/>
<circle cx="489.5" cy="858.0" r="2.6" fill="#000" stroke="none" stroke-width="0"/>
<text x="542.4" y="862.3" font-size="12" text-anchor="end">50 mM</text>
</svg>
</body></html>
